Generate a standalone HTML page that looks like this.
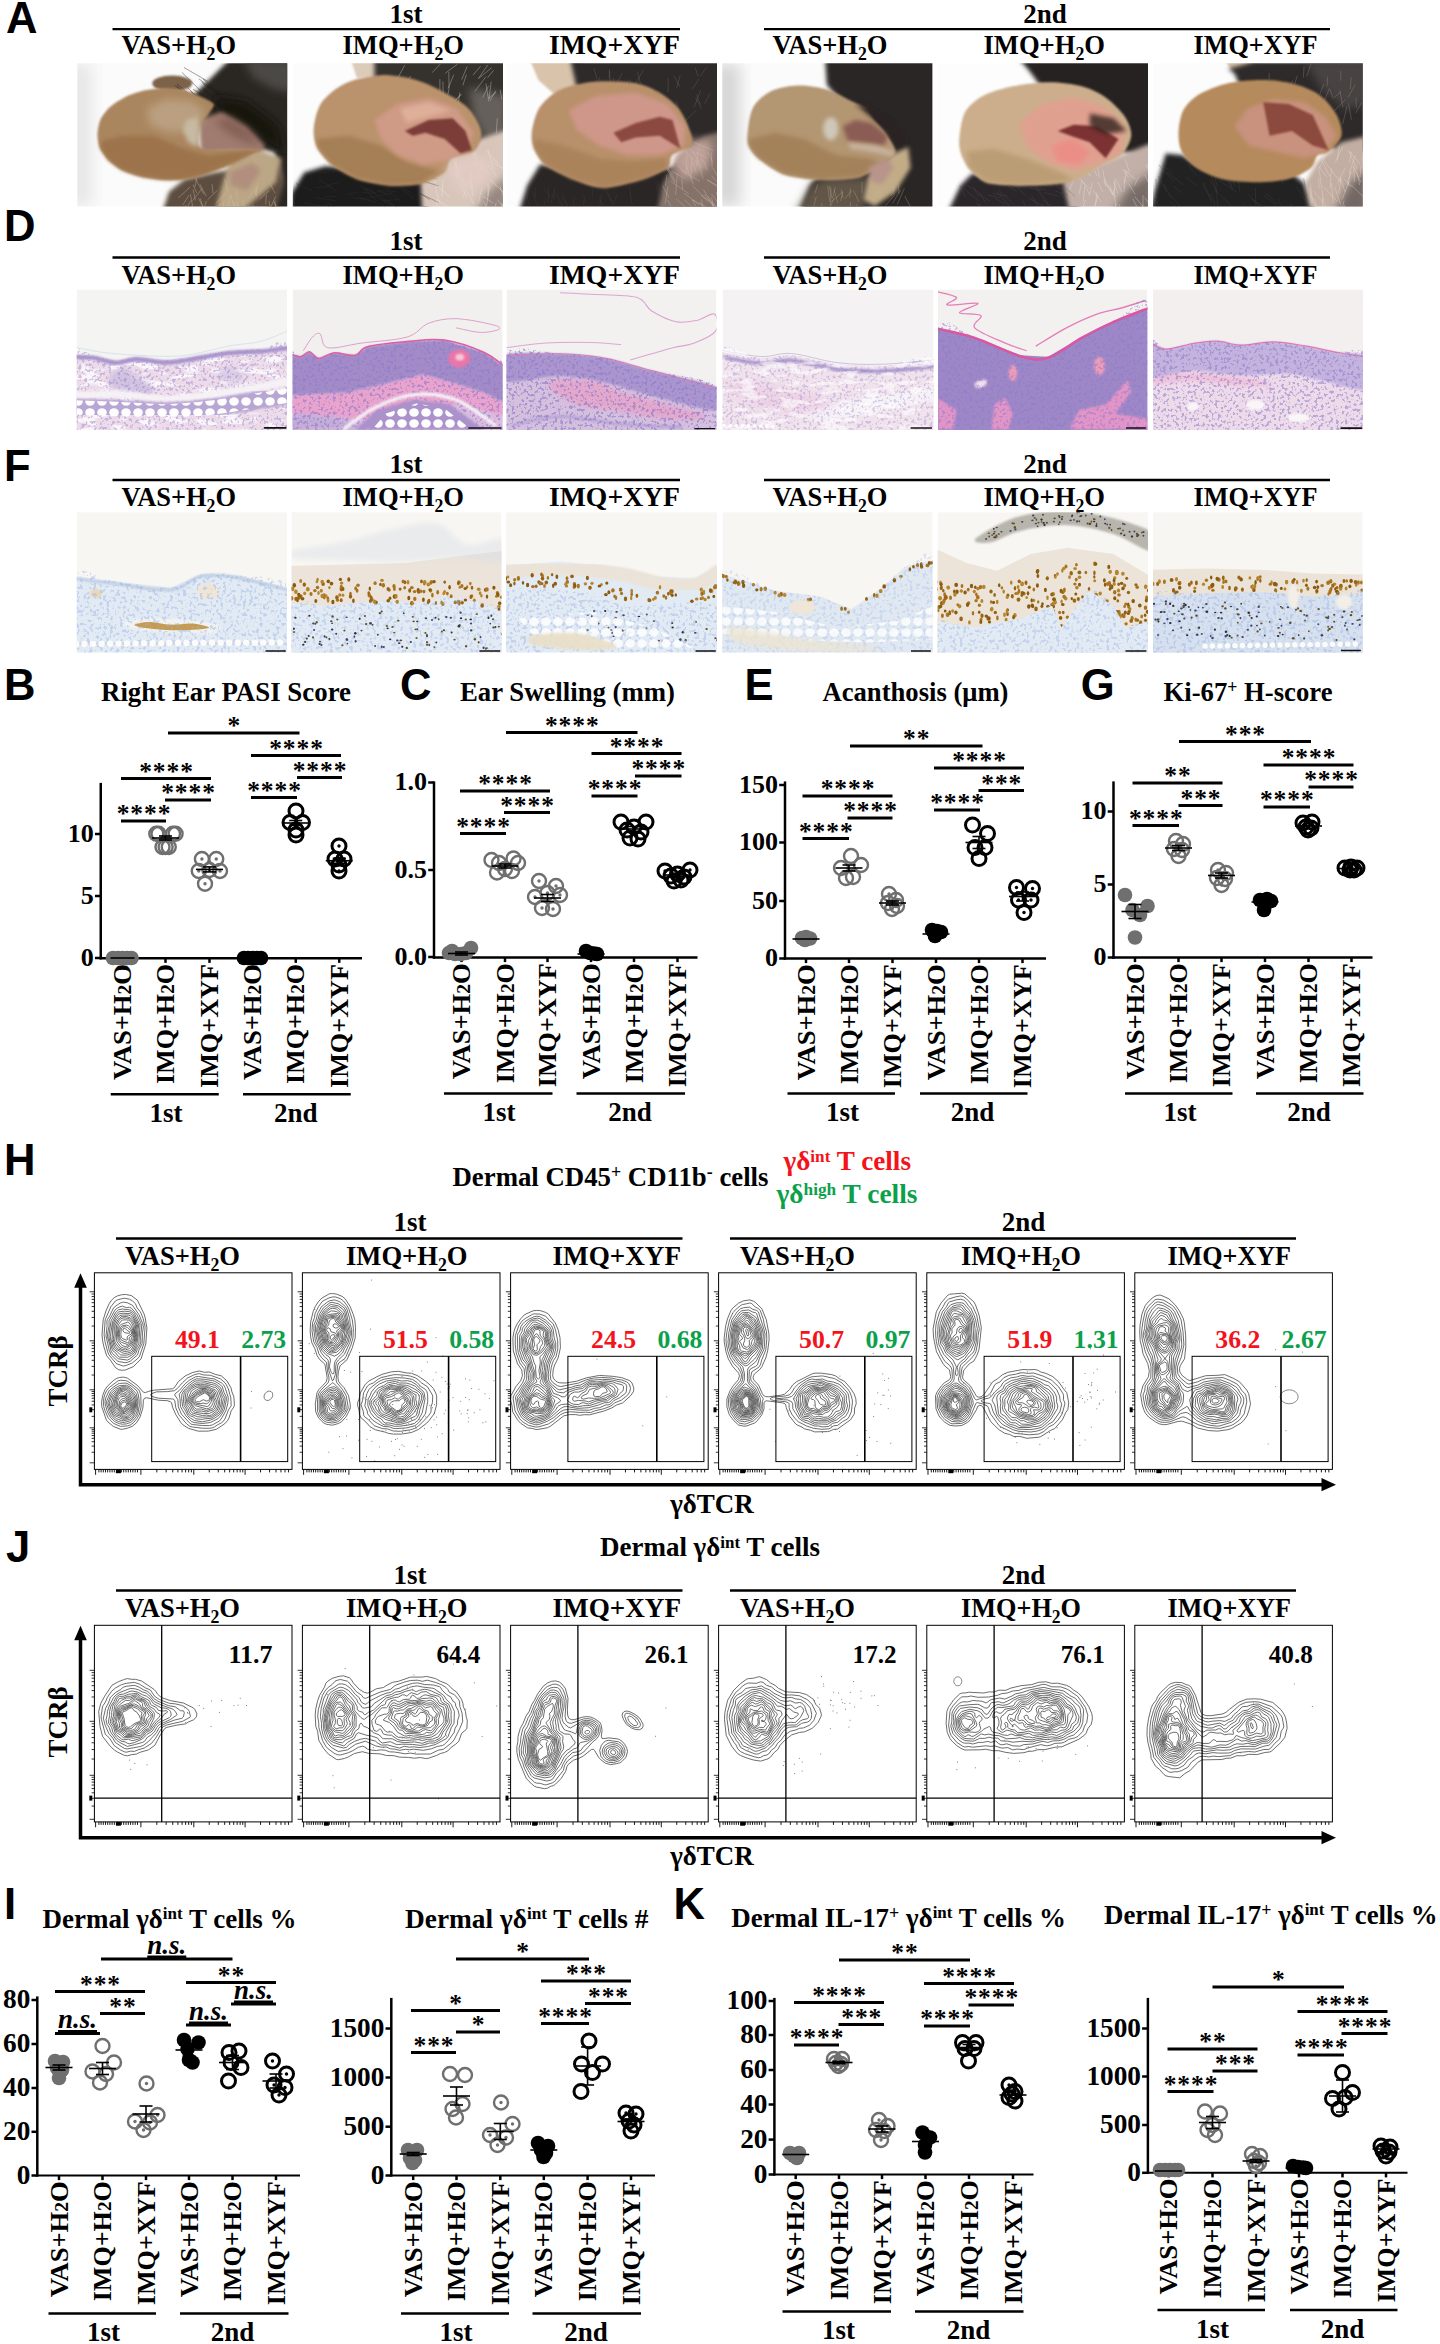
<!DOCTYPE html>
<html lang="en"><head><meta charset="utf-8"><title>Figure</title>
<style>
html,body{margin:0;padding:0;background:#fff}
body{width:1440px;height:2344px;overflow:hidden}
svg{display:block}
.b{font-family:"Liberation Serif", "DejaVu Serif", serif;font-weight:bold}
.bi{font-family:"Liberation Serif", "DejaVu Serif", serif;font-weight:bold;font-style:italic}
.s{font-family:"Liberation Sans", "DejaVu Sans", sans-serif;font-weight:bold}
</style></head><body>
<svg width="1440" height="2344" viewBox="0 0 1440 2344">
<defs>

<filter id="b1" x="-20%" y="-20%" width="140%" height="140%"><feGaussianBlur stdDeviation="0.8"/></filter>
<filter id="b2" x="-20%" y="-20%" width="140%" height="140%"><feGaussianBlur stdDeviation="2"/></filter>
<filter id="b3" x="-30%" y="-30%" width="160%" height="160%"><feGaussianBlur stdDeviation="4"/></filter>
<filter id="b4" x="-40%" y="-40%" width="180%" height="180%"><feGaussianBlur stdDeviation="8"/></filter>
<filter id="fur" x="0" y="0" width="100%" height="100%"><feTurbulence type="fractalNoise" baseFrequency="0.09 0.35" numOctaves="2" seed="3" result="n"/><feColorMatrix in="n" type="matrix" values="0 0 0 0 0.5  0 0 0 0 0.5  0 0 0 0 0.5  0 0 0 2.2 -0.95"/></filter>
<filter id="grain" x="0" y="0" width="100%" height="100%"><feTurbulence type="fractalNoise" baseFrequency="0.33" numOctaves="2" seed="5" result="n"/><feColorMatrix in="n" type="matrix" values="0 0 0 0 0.27  0 0 0 0 0.2  0 0 0 0 0.6  0 0 0 9 -4.9"/></filter>
<filter id="lite" x="0" y="0" width="100%" height="100%"><feTurbulence type="fractalNoise" baseFrequency="0.05 0.16" numOctaves="2" seed="8" result="n"/><feColorMatrix in="n" type="matrix" values="0 0 0 0 1  0 0 0 0 1  0 0 0 0 1  0 0 0 7 -3.6"/></filter>
<filter id="grainb" x="0" y="0" width="100%" height="100%"><feTurbulence type="fractalNoise" baseFrequency="0.3" numOctaves="2" seed="9" result="n"/><feColorMatrix in="n" type="matrix" values="0 0 0 0 0.32  0 0 0 0 0.45  0 0 0 0 0.8  0 0 0 9 -4.9"/></filter>
<pattern id="fat" width="9" height="9" patternUnits="userSpaceOnUse"><circle cx="4.5" cy="4.5" r="3.3" fill="#fdfdfd"/></pattern>
<pattern id="fat2" width="12" height="11" patternUnits="userSpaceOnUse"><ellipse cx="6" cy="5.5" rx="4.8" ry="4.2" fill="#fdfdfd"/></pattern>
<pattern id="nuc" width="29" height="23" patternUnits="userSpaceOnUse"><ellipse cx="7.6" cy="3.6" rx="1.4" ry="1.6" fill="#9a6414"/><ellipse cx="2.0" cy="12.5" rx="1.4" ry="2.3" fill="#9a6414"/><ellipse cx="7.3" cy="12.2" rx="1.4" ry="1.7" fill="#9a6414"/><ellipse cx="8.3" cy="20.4" rx="1.2" ry="2.0" fill="#8a5a10"/><ellipse cx="22.3" cy="5.4" rx="1.4" ry="2.0" fill="#8a5a10"/><ellipse cx="3.8" cy="13.6" rx="1.6" ry="1.9" fill="#a87420"/><ellipse cx="7.9" cy="7.1" rx="1.8" ry="2.1" fill="#8a5a10"/><ellipse cx="1.7" cy="7.3" rx="1.6" ry="1.8" fill="#a87420"/><ellipse cx="12.3" cy="13.5" rx="1.5" ry="1.6" fill="#8a5a10"/><ellipse cx="8.3" cy="17.4" rx="1.2" ry="1.9" fill="#8a5a10"/><ellipse cx="15.0" cy="14.5" rx="1.6" ry="1.6" fill="#a87420"/><ellipse cx="3.2" cy="19.8" rx="1.6" ry="1.9" fill="#a87420"/><ellipse cx="10.8" cy="16.4" rx="1.4" ry="1.9" fill="#8a5a10"/><ellipse cx="4.1" cy="2.7" rx="1.3" ry="2.1" fill="#a87420"/><ellipse cx="4.7" cy="20.2" rx="1.4" ry="1.5" fill="#8a5a10"/><ellipse cx="19.6" cy="19.4" rx="1.8" ry="2.1" fill="#8a5a10"/><ellipse cx="2.0" cy="7.3" rx="1.8" ry="2.1" fill="#b88a3a"/></pattern>
<pattern id="nucs" width="37" height="31" patternUnits="userSpaceOnUse"><ellipse cx="30.8" cy="25.8" rx="1.3" ry="0.8" fill="#4a4a50"/><ellipse cx="31.9" cy="9.7" rx="1.1" ry="1.0" fill="#4a4a50"/><ellipse cx="12.8" cy="1.8" rx="1.0" ry="0.9" fill="#7a5a18"/><ellipse cx="35.4" cy="17.5" rx="1.2" ry="0.9" fill="#4a4a50"/><ellipse cx="5.4" cy="3.2" rx="1.3" ry="1.0" fill="#4a4a50"/><ellipse cx="22.1" cy="16.8" rx="1.2" ry="0.9" fill="#6a5020"/><ellipse cx="5.7" cy="16.3" rx="1.3" ry="1.0" fill="#4a4a50"/><ellipse cx="17.7" cy="8.3" rx="1.2" ry="0.8" fill="#3a4a78"/><ellipse cx="16.6" cy="19.6" rx="1.2" ry="0.9" fill="#4a4a50"/><ellipse cx="2.6" cy="8.6" rx="1.1" ry="0.9" fill="#4a4a50"/><ellipse cx="15.7" cy="8.8" rx="1.1" ry="1.2" fill="#7a5a18"/></pattern>
<clipPath id="ca0"><rect x="77.3" y="63.2" width="209.9" height="143.4"/></clipPath>
<clipPath id="ca1"><rect x="292.8" y="63.2" width="210.2" height="143.4"/></clipPath>
<clipPath id="ca2"><rect x="506.5" y="63.2" width="210.5" height="143.4"/></clipPath>
<clipPath id="ca3"><rect x="722.3" y="63.2" width="210.1" height="143.4"/></clipPath>
<clipPath id="ca4"><rect x="937.5" y="63.2" width="210.5" height="143.4"/></clipPath>
<clipPath id="ca5"><rect x="1153" y="63.2" width="209.8" height="143.4"/></clipPath><clipPath id="cd0"><rect x="76.7" y="289.5" width="210.3" height="140.5"/></clipPath>
<clipPath id="cd1"><rect x="292.6" y="289.5" width="210" height="140.5"/></clipPath>
<clipPath id="cd2"><rect x="506.5" y="289.5" width="210" height="140.5"/></clipPath>
<clipPath id="cd3"><rect x="722.6" y="289.5" width="210.9" height="140.5"/></clipPath>
<clipPath id="cd4"><rect x="938" y="289.5" width="209.4" height="140.5"/></clipPath>
<clipPath id="cd5"><rect x="1153" y="289.5" width="210" height="140.5"/></clipPath>
<clipPath id="cd0t"><path d="M73.19 354.67C76.66 340.35 86.77 354.81 93.96 355.79C101.15 356.78 109.13 360.37 116.32 360.58C123.51 360.8 128.83 357.12 137.08 357.07C145.34 357.02 156.78 360.26 165.83 360.26C174.88 360.26 180.74 358.67 191.39 357.07C202.04 355.47 218.01 352.01 229.72 350.68C241.44 349.35 251.02 350.02 261.67 349.08C272.31 348.15 288.29 329.65 293.61 345.09C298.94 360.53 330.35 425.62 293.61 441.72C256.88 457.83 109.93 456.23 73.19 441.72C36.46 427.21 69.73 369 73.19 354.67Z"/></clipPath>
<clipPath id="cd1t"><path d="M288.06 352.89C289.28 344.49 298.14 356.98 300.28 356.86C302.42 356.74 307.61 351.51 309.44 351.67C311.28 351.82 316.17 358.27 318.61 358.39C321.06 358.51 330.22 353.19 333.89 352.89C337.56 352.58 351.92 355.94 355.28 355.33C358.64 354.72 362.31 348.15 367.5 346.78C372.69 345.4 399.58 342.26 407.22 341.58C414.86 340.91 436.25 338.99 443.89 340.06C451.53 341.12 477.19 349.38 483.61 352.28C490.03 355.18 505.61 360.22 508.06 369.08C510.5 377.94 530.06 433.71 508.06 440.89C486.06 448.07 310.06 449.69 288.06 440.89C266.06 432.09 286.83 361.29 288.06 352.89Z"/></clipPath>
<clipPath id="cd2t"><path d="M503.47 355.33C512.89 340.82 542.94 353.3 560 353.81C577.06 354.31 590.56 355.59 605.83 358.39C621.11 361.19 632.82 365.62 651.67 370.61C670.51 375.6 707.69 376.62 718.89 388.33C730.09 400.05 754.79 432.13 718.89 440.89C682.99 449.65 539.38 455.15 503.47 440.89C467.57 426.63 494.05 369.85 503.47 355.33Z"/></clipPath>
<clipPath id="cd3t"><path d="M718.06 351.67C725.19 337.92 748.61 357.78 760.83 358.39C773.06 359 778.66 354.31 791.39 355.33C804.12 356.35 821.94 362.72 837.22 364.5C852.5 366.28 866.5 366.54 883.06 366.03C899.61 365.52 927.62 348.97 936.53 361.44C945.44 373.92 972.94 427.65 936.53 440.89C900.12 454.13 754.47 455.76 718.06 440.89C681.64 426.02 710.93 365.42 718.06 351.67Z"/></clipPath>
<clipPath id="cd4t"><path d="M935 327.22C941.62 309.91 960.46 332.31 974.72 337C988.98 341.69 1008.33 352.02 1020.56 355.33C1032.78 358.64 1037.87 359.92 1048.06 356.86C1058.24 353.81 1070.97 342.86 1081.67 337C1092.36 331.14 1100.76 326.81 1112.22 321.72C1123.68 316.63 1144.05 286.58 1150.42 306.44C1156.78 326.31 1186.32 418.48 1150.42 440.89C1114.51 463.3 970.9 459.83 935 440.89C899.1 421.94 928.38 344.54 935 327.22Z"/></clipPath>
<clipPath id="cd5t"><path d="M1149.79 342.69C1152.45 327.25 1158.58 348.95 1165.76 349.08C1172.95 349.22 1184.4 344.82 1192.92 343.49C1201.44 342.16 1208.89 340.83 1216.88 341.1C1224.86 341.36 1231.52 344.96 1240.83 345.09C1250.15 345.22 1262.13 341.76 1272.78 341.9C1283.43 342.03 1294.07 344.16 1304.72 345.89C1315.37 347.62 1326.28 350.41 1336.67 352.28C1347.05 354.14 1361.96 342.16 1367.01 357.07C1372.07 371.98 1403.22 427.61 1367.01 441.72C1330.81 455.83 1186 458.23 1149.79 441.72C1113.59 425.22 1147.13 358.13 1149.79 342.69Z"/></clipPath><clipPath id="cf0"><rect x="76.7" y="512.2" width="210.3" height="140.2"/></clipPath>
<clipPath id="cf1"><rect x="291.5" y="512.2" width="210" height="140.2"/></clipPath>
<clipPath id="cf2"><rect x="506" y="512.2" width="211" height="140.2"/></clipPath>
<clipPath id="cf3"><rect x="722.3" y="512.2" width="210.4" height="140.2"/></clipPath>
<clipPath id="cf4"><rect x="937.6" y="512.2" width="210.4" height="140.2"/></clipPath>
<clipPath id="cf5"><rect x="1153" y="512.2" width="209.7" height="140.2"/></clipPath>
<clipPath id="cf0t"><path d="M73.06 575.89C80.19 562.14 99.54 579.45 115.83 581.39C132.13 583.32 156.57 588.77 170.83 587.5C185.09 586.23 190.19 575.79 201.39 573.75C212.59 571.71 223.29 572.88 238.06 575.28C252.82 577.67 281.34 573.34 290 588.11C298.66 602.88 326.16 651.26 290 663.89C253.84 676.52 109.21 678.56 73.06 663.89C36.9 649.22 65.93 589.64 73.06 575.89Z"/></clipPath>
<clipPath id="cf1t"><path d="M288.47 602.78C295.35 593.1 315.21 606.09 329.72 605.83C344.24 605.58 360.28 601.76 375.56 601.25C390.83 600.74 409.68 603.54 421.39 602.78C433.1 602.01 436.67 596.92 445.83 596.67C455 596.41 466.71 598.7 476.39 601.25C486.06 603.8 499.31 601.5 503.89 611.94C508.47 622.38 539.79 655.23 503.89 663.89C467.99 672.55 324.37 674.07 288.47 663.89C252.57 653.7 281.6 612.45 288.47 602.78Z"/></clipPath>
<clipPath id="cf2t"><path d="M503.06 593.61C517.82 581.9 570.79 591.57 591.67 593.61C612.55 595.65 606.94 603.8 628.33 605.83C649.72 607.87 704.72 596.16 720 605.83C735.28 615.51 756.16 654.21 720 663.89C683.84 673.56 539.21 675.6 503.06 663.89C466.9 652.18 488.29 605.32 503.06 593.61Z"/></clipPath>
<clipPath id="cf3t"><path d="M718.47 572.83C727.89 560.61 757.94 586.58 775 590.56C792.06 594.53 808.1 593.61 820.83 596.67C833.56 599.72 841.2 610.42 851.39 608.89C861.57 607.36 872.78 594.63 881.94 587.5C891.11 580.37 897.48 570.8 906.39 566.11C915.3 561.43 930.58 543.09 935.42 559.39C940.25 575.69 971.57 646.47 935.42 663.89C899.26 681.31 754.63 679.06 718.47 663.89C682.31 648.71 709.05 585.06 718.47 572.83Z"/></clipPath>
<clipPath id="cf4t"><path d="M933.06 621.11C940.19 615 961.06 627.73 975.83 627.22C990.6 626.71 1008.94 621.62 1021.67 618.06C1034.4 614.49 1045.6 604.31 1052.22 605.83C1058.84 607.36 1055.28 629.77 1061.39 627.22C1067.5 624.68 1080.23 594.12 1088.89 590.56C1097.55 586.99 1107.22 599.72 1113.33 605.83C1119.44 611.94 1119.19 624.68 1125.56 627.22C1131.92 629.77 1147.2 615 1151.53 621.11C1155.86 627.22 1187.94 656.76 1151.53 663.89C1115.12 671.02 969.47 671.02 933.06 663.89C896.64 656.76 925.93 627.22 933.06 621.11Z"/></clipPath>
<clipPath id="cf5t"><path d="M1150 596.67C1159.17 584.95 1185.65 594.38 1205 593.61C1224.35 592.85 1248.29 591.57 1266.11 592.08C1283.94 592.59 1295.39 596.41 1311.94 596.67C1328.5 596.92 1356.5 582.41 1365.42 593.61C1374.33 604.81 1401.32 652.18 1365.42 663.89C1329.51 675.6 1185.9 675.09 1150 663.89C1114.1 652.69 1140.83 608.38 1150 596.67Z"/></clipPath>
</defs>
<rect width="1440" height="2344" fill="#fff"/>

<g id="images">
<g clip-path="url(#ca0)"><rect x="77.3" y="63.2" width="210" height="143.4" fill="#fbfbfb"/><rect x="66" y="63.2" width="26" height="143.4" fill="#e6e6e6" filter="url(#b4)"/><ellipse cx="172.22" cy="83.47" rx="19.97" ry="7.99" fill="#7c624a" filter="url(#b1)"/><path d="M229.72 59.19L293.61 59.19L293.61 215.72L266.46 215.72L280.83 177.39L274.44 151.83L245.69 145.44L213.75 135.86L194.58 116.69L191.39 97.53L202.57 86.35L213.75 75.17Z" fill="#2b2723" filter="url(#b2)"/><path d="M242.5 59.19L293.61 59.19L293.61 92.74L274.44 89.54L253.68 78.36Z" fill="#4b4945" filter="url(#b3)"/><path d="M213.75 95.93L245.69 100.72L277.64 124.68L285.62 155.03L269.65 145.44L245.69 127.88L221.74 116.69Z" fill="#171310" filter="url(#b3)"/><path d="M161.04 215.72L169.03 191.76L185 178.99L213.75 172.6L245.69 167.81L280.83 158.22L284.03 183.78L274.44 215.72Z" fill="#5c4e40" filter="url(#b2)"/><path d="M213.75 215.72L221.74 186.97L229.72 159.82L261.67 150.24L280.83 158.22L276.04 182.18L255.28 199.75L236.11 215.72Z" fill="#bba685" filter="url(#b2)"/><path d="M197.78 119.89L221.74 111.9L245.69 126.28L264.86 145.44L261.67 151.83L229.72 151.83L200.97 153.43Z" fill="#a07c70" filter="url(#b2)"/><path d="M213.75 119.89L229.72 116.69L248.89 129.47L261.67 145.44L245.69 142.25L226.53 132.67Z" fill="#7e5a50" filter="url(#b3)" opacity="0.8"/><path d="M225.2 193.5L215.9 203.1M230.5 194.3L234.1 207.6M242.2 200.2L246.6 211M190.5 200.7L186.6 208.8M275.9 205.1L270.3 218.8M196.9 177.8L194.9 186.8M200 184.3L206.2 196.1M224 201.6L221 216.4M229.7 196.4L228.4 207.8M277.4 206L267.9 218.6M212 184L213.1 193.3M255.2 188.9L247.6 198.8M273.6 201.7L279 211.1M269 190.9L259.6 199.3M188.8 195.5L182.7 205.1M190.2 187L178.2 198M193.1 184.5L196.6 193M258.2 182.5L254.8 195.2M200.1 198.4L205.1 212.7M193 189.5L195.5 200.5M274.9 200.5L276.6 217.9M202 188.7L192.6 200.6M191.4 205.8L193.9 216.8M255.9 186.8L256.9 196.2M190.4 194.1L193.1 208.6M217.4 190.4L207.6 199.7M236.9 202.3L239.6 212.1M268.9 200.9L270.7 211.3M252.7 204.4L257.2 222M266.3 194.7L265.7 204.4M185.5 205.1L188.5 220.5M206.4 201.1L202.9 212.1M198.6 198.1L203.1 208M235.4 201.9L231.7 212.7M269.7 183.3L275.2 193.2M224.5 179.1L227.9 191M236.6 181.2L237 198.8M275.8 196.3L269.6 209.4M195.3 178.4L203.8 194M249 205.1L256.1 218.3" stroke="#d8c8a8" stroke-width="0.6" fill="none" opacity="0.6"/><path d="M193.1 89.3L221.6 106.3M176.8 83.8L200.7 104.2M203.3 88.5L226.8 109.8M187.9 88L209.9 109.7M190.5 91.2L209 108.9M198.8 78.8L219.7 94.6M177 86.6L198.3 109.2M202.9 79L222.4 95.7M191.4 92.6L217.5 104.8M175 85.4L191 96.5M201.7 82.3L226.8 101.7M184 67.5L207.8 81.3M181.9 72.3L201.2 91.4M191.5 94.2L214.9 108.2" stroke="#1a1612" stroke-width="0.5" fill="none" opacity="0.8"/><path d="M97.47 134.26C97.58 130.6 98.69 123.51 100.35 119.89C102.01 116.27 106.52 110.2 109.93 107.11C113.34 104.02 121.22 98.97 125.9 96.73C130.59 94.49 139.75 91.51 145.07 90.34C150.39 89.17 160.51 87.94 165.83 87.94C171.16 87.94 180.31 89.17 185 90.34C189.69 91.51 197.14 94.92 200.97 96.73C204.81 98.54 212.69 101.68 213.75 103.92C214.81 106.15 210.66 110.73 208.96 113.5C207.25 116.27 202.46 121.27 200.97 124.68C199.48 128.09 197.56 135.86 197.78 139.06C197.99 142.25 198.31 147.25 202.57 148.64C206.83 150.02 221.84 149.33 229.72 149.44C237.6 149.54 258.47 148.86 261.67 149.44C264.86 150.01 256.66 152.32 253.68 153.75C250.7 155.18 243.56 158.22 239.31 160.14C235.05 162.06 226.63 166.1 221.74 168.12C216.84 170.15 207.47 173.82 202.57 175.31C197.67 176.8 189.9 178.67 185 179.31C180.1 179.94 171.58 180.42 165.83 180.1C160.08 179.78 147.62 178.19 141.88 176.91C136.12 175.63 127.18 172.76 122.71 170.52C118.24 168.28 111.42 163.23 108.33 160.14C105.25 157.05 101 150.81 99.55 147.36C98.1 143.91 97.37 137.93 97.47 134.26Z" fill="#aa865e" filter="url(#b1)"/><path d="M146.67 108.71L165.83 99.12L191.39 100.72L205.76 111.9L196.18 131.07L169.03 132.67L149.86 124.68Z" fill="#bda486" filter="url(#b3)" opacity="0.85"/><path d="M101.94 140.65L122.71 135.86L153.06 135.86L181.81 147.84L207.36 155.83L237.71 151.83L258.47 150.24L239.31 159.82L221.74 167.81L202.57 174.99L185 178.99L165.83 179.78L141.88 176.59L122.71 170.2L108.33 159.82L100.35 147.84Z" fill="#9b724a" filter="url(#b2)" opacity="0.9"/><path d="M186.6 119.89L197.78 116.69L199.38 131.07L197.78 147.04L188.19 142.25L182.6 129.47Z" fill="#c6baa2" filter="url(#b2)"/><path d="M229.72 172.6L252.08 163.01L260.87 170.2L247.29 190.17L231.32 185.38Z" fill="#b18e7e" filter="url(#b2)"/></g>
<g clip-path="url(#ca1)"><rect x="292.8" y="63.2" width="210.2" height="143.4" fill="#fcfcfc"/><path d="M351.28 60.79L377.64 60.79L376.04 76.76L356.88 78.36Z" fill="#dccbb9" filter="url(#b1)"/><path d="M374.44 59.19L508.61 59.19L508.61 145.44L476.67 151.83L444.72 119.89L396.81 103.92L374.44 87.94Z" fill="#34302e" filter="url(#b2)"/><path d="M468.68 87.94L508.61 95.93L508.61 145.44L484.65 139.06L473.47 116.69Z" fill="#77706c" filter="url(#b3)" opacity="0.75"/><path d="M289.79 215.72L291.39 193.36L304.17 172.6L324.93 166.21L348.89 167.81L396.81 167.81L425.56 183.78L428.75 215.72Z" fill="#1c1c1f" filter="url(#b2)"/><path d="M422.36 215.72L420.76 180.58L444.72 158.22L468.68 142.25L508.61 129.47L508.61 215.72Z" fill="#d9c6bb" filter="url(#b2)"/><path d="M473.47 215.72L486.25 193.36L508.61 174.19L508.61 215.72Z" fill="#857872" filter="url(#b3)" opacity="0.8"/><path d="M411.3 88.5L398.2 103.4M488.6 85.7L482.9 97.5M404.3 92.5L391.1 106.3M469.5 120L468.6 131.5M439.9 79.1L439.9 93.3M459.8 92.4L457.4 111.2M500.2 89.9L501.9 99.6M487.8 64.9L478.7 78M423.9 110.4L426.5 121.2M440.4 63.9L432 72.8M404.8 65.2L397.7 78M460.3 102.1L446.8 117.3M466.4 74.5L462.8 85.5M390 91L383.4 100.5M419.7 83.4L411.1 96.2M458.5 108.3L454.5 126.3M491.6 67.7L478 79M403.6 89.9L394 107.2M431.5 96.9L418.1 109.6M495.9 90.5L489.9 100.8M470.7 112.1L461.9 127.3M413 117L396.5 129.2M449.7 110.4L447.2 130M485.9 83.5L488.2 97.9M451.2 109L448 118.4M480.6 66.3L473 75M426.8 110.2L427.8 121.4M447.4 106.3L435.4 118.8M496.1 92.3L487.8 98.9M413.9 94.4L412.3 112M461.3 94.1L450.3 105.5M424.2 85.5L410.5 99.6M412.4 114L400.1 123.4M453.8 74.6L448 88.6M457.5 64.1L445.2 73.3M434.2 111L428 124.7M467.2 66.4L461.7 79.5M497.3 118.4L496.3 133.3M403.2 88.7L390 103.3M442.9 81.6L443.3 98.1M493.7 70.2L487.5 77.8M410.8 76.2L403.6 87.2M429.1 100L431.5 117.6M402.7 93.4L402.2 105.2M449 88.9L446.2 102.8M448.8 72.1L449.1 88.7M461.2 94.5L449.7 106.2M486 76.5L474.8 91.4M491.2 81.6L488.7 101.3M413.6 123L405.4 130.5" stroke="#f0e8e4" stroke-width="0.6" fill="none" opacity="0.55"/><path d="M324.8 196.5L336.5 196.6M399.6 185.8L409.8 192.3M345.4 195.1L358 191.9M380.7 203L389.4 211.2M358.4 197.6L376.7 202.6M318.4 173.5L329.3 171.8M364.2 189.1L375.9 193.1M317.9 178.2L336.4 191.3M411.5 174.3L433.4 170M352.9 197.9L369.1 199.2M359.6 186.1L369.6 190M383 200.7L399.1 199.5M387.9 185.2L400.4 184.5M359.3 171.5L375.2 184.3M383.5 201.2L397.8 207.2M370.2 188.7L385 202.9M327.2 203L344.6 213M397.4 185.3L414 198.6M382.3 198L395.6 205.9M385.8 173.5L402 175M295.9 183.5L312.6 190.7M323.9 204.2L337.2 210.4M377.8 191L392.5 195.5M420.7 193.6L438.5 202.6M418.3 171.8L436.5 179.1M327 185.1L339.6 182.4M342 174.5L363.7 174.5M364 188.8L376.8 200.8M420.1 193.4L429.7 199.8M370 197.7L391.5 193M314.8 187.6L331.3 186.2M371.7 173.1L383.4 183.5M361 192L375 193.7M377.2 190.7L396.6 191.4M331.9 171.5L343 171.4M314.3 197.5L335.7 200.7M389 172.8L404.9 188.2M303.9 202.8L320 205.9M417.4 179.6L438.5 185.8M385.8 187.5L400.7 201.7" stroke="#3a3636" stroke-width="0.6" fill="none" opacity="0.6"/><path d="M473.1 152.4L475.9 168.3M443.7 148.6L447.4 160.1M461.3 186L466.8 198.6M471.5 170.9L470.9 188M502 203.3L502.3 216.7M437.1 199.6L436.2 217.8M455.1 161.9L456.7 179.3M472.2 183.9L472.2 196.7M447 204.9L442.1 225.7M431.7 149.1L441.4 161.5M474.5 151.7L477.8 162.6M435.1 186.5L440.1 204.1M456.2 174.5L466.3 185.3M483.5 196.3L493.2 203.4M488.2 183.3L487.9 196.5M459.9 161.1L458.7 176.1M476.8 205.5L486.4 219.8M483.6 201.3L490.1 214.9M435.9 198.6L445.2 205.4M470.2 174.9L471.5 189M485.7 150.1L498.5 163.7M434.8 163.9L435.4 182.9M449.5 154.1L459.7 170.7M455.7 152.6L456.7 170.1M496.2 202.5L492.6 218M487.8 163.9L496.5 176.7M497.4 199.7L507.1 211.2M455.6 167.5L462.9 181M443.1 179.7L441.9 196.8M490.2 179.6L504.5 193.4M493.5 162.5L507.8 171.4M468.7 179.9L463.2 197.6M487.8 149.3L493.5 168.8M434.9 150.4L435.3 172M435 183.9L449.7 197M476.4 160.3L489.9 175.1M467.1 191.9L474.1 204.8M499.9 186.3L505.9 202.3M481.7 188.4L478.2 203.6M489.5 185.9L486.5 206.2" stroke="#f4ecea" stroke-width="0.6" fill="none" opacity="0.6"/><path d="M313.75 127.88C314.47 121.17 316.94 109.03 321.74 102.32C326.53 95.61 336.83 87.23 345.69 83.15C354.56 79.08 370.29 75.65 380.83 75.17C391.38 74.69 406.39 77.32 415.97 79.96C425.56 82.59 436.82 88.42 444.72 92.74C452.63 97.05 463.17 102.72 468.68 108.71C474.19 114.7 480.74 126.2 481.46 132.67C482.18 139.14 478.02 148 473.47 151.83C468.92 155.67 455.42 155.11 451.11 158.22C446.8 161.34 449.27 168.76 444.72 172.6C440.17 176.43 429.15 181.86 420.76 183.78C412.38 185.69 398.4 186.09 388.82 185.38C379.24 184.66 365.5 182.1 356.88 178.99C348.25 175.87 337.31 169.4 331.32 164.61C325.33 159.82 319.58 152.55 316.94 147.04C314.31 141.53 313.03 134.58 313.75 127.88Z" fill="#ba926c" filter="url(#b1)"/><path d="M316.94 139.06L348.89 135.86L380.83 145.44L406.39 161.42L438.33 171L420.76 183.46L388.82 184.74L356.88 178.35L331.64 163.97L317.42 147.04Z" fill="#a37d52" filter="url(#b2)" opacity="0.9"/><path d="M374.44 119.89L396.81 103.92L428.75 97.53L457.5 108.71L473.47 132.67L465.49 151.83L444.72 161.42L422.36 164.61L396.81 155.03L380.83 139.06Z" fill="#cf9a86" filter="url(#b2)"/><path d="M400 108.71L428.75 102.32L451.11 110.31L428.75 116.69L406.39 123.08Z" fill="#e2b69e" filter="url(#b2)" opacity="0.8"/><path d="M404.79 131.07L428.75 119.89L452.71 118.29L465.49 131.07L471.88 150.24L460.69 153.43L444.72 139.06L425.56 132.67L412.78 135.86Z" fill="#7c3c38" filter="url(#b1)"/><path d="M444.72 167.81L471.88 155.03L492.64 159.82L484.65 183.78L460.69 193.36Z" fill="#e4ccc4" filter="url(#b3)" opacity="0.8"/></g>
<g clip-path="url(#ca2)"><rect x="506.5" y="63.2" width="210.5" height="143.4" fill="#fcfcfc"/><path d="M530.35 60.79L583.06 60.79L579.86 84.75L554.31 94.33L538.33 79.96Z" fill="#d9c3ab" filter="url(#b1)"/><path d="M570.28 59.19L723.61 59.19L723.61 158.22L691.67 151.83L659.72 119.89L611.81 103.92L576.67 87.94Z" fill="#2f2b29" filter="url(#b2)"/><path d="M517.57 215.72L527.15 185.38L539.93 164.61L563.89 167.81L611.81 171L659.72 167.81L723.61 167.81L723.61 215.72Z" fill="#2b2725" filter="url(#b2)"/><path d="M656.53 215.72L662.92 183.78L678.89 155.03L704.44 135.86L723.61 131.07L723.61 215.72Z" fill="#85736a" filter="url(#b2)"/><path d="M672.5 158.22L691.67 139.06L712.43 142.25L707.64 167.81L683.68 180.58Z" fill="#c9aaa2" filter="url(#b3)" opacity="0.85"/><path d="M696 110.6L685 121M656.4 101L649.2 111.6M643.2 70.3L634.1 86.5M637.4 71.5L640.5 84M626.8 115.1L631.8 125.7M604.1 97.6L598.6 106.4M597.4 87.3L592.3 104.3M594.1 68.3L596.9 78.7M619.5 101.3L616.2 111.7M613.1 77.7L617.6 93.3M629.3 92.2L621.5 103.1M622.7 110.6L614.5 119.4M659.4 114.4L657.8 125.1M595.8 113.8L588.8 124.2M656.9 90.4L659.5 108.8M673.5 75.3L680 87M636.9 105.7L630.2 118.8M609.5 70.9L610.4 82.1M700.5 90.4L693.9 107.8M623.5 91.4L628.5 107M589.6 107L579.3 120.4M600 77L595.6 85.6M650.8 87.8L640.3 97.9M699 78.9L692 89.6M706.6 67.3L700.3 76M658.9 90.9L664 107.2M629.2 79.3L634 90M649.1 101.2L649.5 116.8M603 83.8L600.7 102M695.5 97.9L701.5 108.8M680.2 75.3L676.7 88.1M590.8 116.2L584.8 125.1M668.2 78.2L668.1 92.2M627.5 80.7L627.2 96M622.2 73.2L616.5 83.7M710.2 93L704.6 103.5M695.1 67.4L698.2 76.5M676 100.9L679.4 113.1M696.4 94.6L700.6 104.6M609.5 69.1L609.1 78.5" stroke="#8a8078" stroke-width="0.5" fill="none" opacity="0.5"/><path d="M712.7 167.7L721.6 183.9M703.8 194.1L713 205.5M683.4 140.1L695.2 155.2M716.2 192L721.5 209.3M660.8 161.3L673.3 174.9M665.8 164.4L675.7 182M707.2 180.1L724 190.9M711.6 175.8L722.8 188.3M667.9 186.9L665.2 203.6M700.9 195.1L718.8 208.1M695.8 152.3L707.9 158.4M692.9 185.8L708 201.7M680.5 170.1L700 181.3M667.5 199.7L675.3 215.3M691.9 156.8L690.9 179.5M706.7 179.4L724.7 189.7M676.3 199.2L689.9 210.4M707.5 151.5L712.6 161.8M661.6 151.1L658.1 173M697.6 159.7L703.1 178.5M681.7 178.8L682.7 189.5M671.2 170.5L684.2 178.4M692.5 150.7L699 162.8M692.4 161.3L695.9 171.8M698.3 148.8L696.2 166.6M686.7 166.7L693.3 184.5M703.3 189.5L715.1 209M707.9 196.4L717.5 209M692.3 199.8L700.2 214.8M684.6 199.7L692.4 207.7M701.4 199.4L705 217M703 159.5L707.3 170M666.9 169L674.5 182.4M662.7 185.7L669 197.6M677.3 165.6L686.2 172.7M712.1 203.9L718.2 224.2M684 193.1L699.6 205.1M692.3 199.7L710.2 209.1M666.8 175.1L665.7 185.6M673.7 159.1L681.6 167.3M711.2 193.8L720.4 205.5M693.4 142.1L713.3 150.4M677.4 172.5L675.6 195M686.9 152.9L702.7 168M711.3 152.2L712.1 167M686.9 150.6L686.7 173.4M671.3 181.5L688.8 193.8M662.6 146.2L665.6 160.3M711.5 197.4L714.2 209.3M699.7 202L706.2 211.5" stroke="#d8c4b4" stroke-width="0.6" fill="none" opacity="0.55"/><path d="M554.3 188.4L553.8 199M548.5 186.6L548.6 203.2M574.5 197.5L571.2 211.7M555 188.3L550.9 203M561.5 196.9L572.1 212.2M583.7 194.1L585 203.1M605.4 187.9L612.4 203M535.8 187.9L534.8 198.9M561.9 194.6L570.4 210.1M658.1 181.4L661.5 197.2M576.2 204.3L578 214.6M599.4 197.1L604.3 211.5M630.3 193.8L633.1 210.7M616.9 193.9L613.8 203.8M629.8 184.8L630.5 195.8M583.8 200.3L581.7 216.8M556 193.1L562.5 206M591.7 181.5L592.9 197.3M601.7 202.9L606.7 211.8M526.4 193.3L529.5 205.9M559.7 201L570 215.4M601.2 194.5L599.8 205.4M543.8 188.5L551 197.9M608.3 194L614.2 207.3M536 201.6L541.5 211.3M545.7 198.2L542.8 214.5M532.3 191.1L535.6 201.3M655.7 181.7L658.7 197.7M657.8 184.3L661.4 200M529.3 186.7L527 196.5" stroke="#4a4644" stroke-width="0.6" fill="none" opacity="0.5"/><path d="M531.94 131.07C532.9 125.08 535.62 113.34 539.93 107.11C544.24 100.88 552.31 93.37 560.69 89.54C569.08 85.71 584.57 82.51 595.83 81.56C607.09 80.6 626.18 81.48 635.76 83.15C645.35 84.83 653.25 88.9 659.72 92.74C666.19 96.57 674.34 102.96 678.89 108.71C683.44 114.46 688.15 125.56 690.07 131.07C691.99 136.58 694.3 141.85 691.67 145.44C689.03 149.04 676.09 151.67 672.5 155.03C668.91 158.38 672.02 164.21 667.71 167.81C663.4 171.4 653.33 175.99 643.75 178.99C634.17 181.98 614.6 187.77 603.82 187.77C593.04 187.77 580.74 182.46 571.88 178.99C563.01 175.51 550.47 169.4 544.72 164.61C538.97 159.82 535.46 152.07 533.54 147.04C531.62 142.01 530.99 137.06 531.94 131.07Z" fill="#b8906a" filter="url(#b1)"/><path d="M534.34 139.06L563.89 145.44L599.03 158.22L630.97 161.42L666.11 158.22L667.71 167.81L643.75 178.67L603.82 187.29L571.88 178.67L545.2 164.29L534.18 147.84Z" fill="#a88058" filter="url(#b2)" opacity="0.8"/><path d="M568.68 110.31L595.83 95.93L635.76 92.74L667.71 103.92L685.28 126.28L683.68 145.44L659.72 155.03L627.78 155.03L599.03 145.44L576.67 129.47Z" fill="#cf978a" filter="url(#b2)"/><path d="M613.4 132.67L635.76 123.08L659.72 116.69L672.5 119.89L680.49 148.64L659.72 135.86L635.76 137.46L621.39 142.25Z" fill="#8c4842" filter="url(#b1)"/></g>
<g clip-path="url(#ca3)"><rect x="722.3" y="63.2" width="210.1" height="143.4" fill="#fbfbfb"/><rect x="714" y="63.2" width="26" height="143.4" fill="#d4d4d4" filter="url(#b4)"/><path d="M825.21 59.19L938.61 59.19L938.61 215.72L798.06 215.72L810.83 183.78L826.81 167.81L842.78 135.86L842.78 103.92L826.81 84.75Z" fill="#2c2826" filter="url(#b2)"/><path d="M794.86 215.72L810.83 185.38L826.81 177.39L871.53 177.39L861.94 215.72Z" fill="#62564a" filter="url(#b3)"/><path d="M863.54 199.75L868.33 177.39L890.69 155.03L908.26 147.04L910.66 167.81L895.49 191.76L874.72 206.14Z" fill="#c2ac88" filter="url(#b2)"/><path d="M850.4 188.2L849.8 197.6M817.2 206L808.9 219.8M835.3 187.1L832.6 197.8M856.8 204.4L857 216.4M904.9 196.2L910.7 207.5M874.2 182.1L874.9 197.7M894.1 195.7L885.4 205.7M850.4 202.1L850.3 218.6M834 189.5L837.7 203.1M829.2 185.8L832.2 198.8M842.6 192L830.9 202.1M893.9 185.8L893.8 195.2M878.1 189.9L879.3 198.6M830.9 187.3L830.4 205.2M880.3 187.4L880.5 197.6M900.8 189.8L892.5 203.4M898.1 181.1L899 193.6M821.7 203.1L822.9 219.5M862.1 182L861.8 193M817.8 184.4L815.1 193M843 191.4L840.6 201.1M879.5 187.2L872.3 200.8M827.7 185.8L829.7 201.5M851.6 190.5L844.7 198.9M841.1 189.4L843.1 198.2M816.3 196.7L811.9 212.9M904.4 188.2L897.2 204.6M834.1 198.2L826.8 214.9M894.5 186.6L891.1 195.5M853.6 190.6L859 201.9" stroke="#c8b898" stroke-width="0.6" fill="none" opacity="0.5"/><path d="M747.74 131.07C748.46 125.32 749.86 113.1 753.33 107.11C756.81 101.12 764.19 94.37 770.9 91.14C777.61 87.9 789.67 85.79 798.06 85.55C806.44 85.31 818.9 87.27 826.81 89.54C834.71 91.82 844.77 97.85 850.76 100.72C856.75 103.6 863.14 105.83 866.74 108.71C870.33 111.58 872.09 116.53 874.72 119.89C877.36 123.24 881.19 126.28 884.31 131.07C887.42 135.86 895.73 146.8 895.49 151.83C895.25 156.86 888.22 160.78 882.71 164.61C877.2 168.44 868.33 175.11 858.75 177.39C849.17 179.66 830.08 180.26 818.82 179.78C807.56 179.31 792.78 177.43 783.68 174.19C774.58 170.96 763.4 162.53 758.12 158.22C752.85 153.91 750.1 149.52 748.54 145.44C746.98 141.37 747.02 136.82 747.74 131.07Z" fill="#b39672" filter="url(#b1)"/><path d="M749.34 139.06L775.69 132.67L804.44 139.06L836.39 155.03L868.33 158.22L882.71 163.97L858.75 176.91L818.82 179.31L783.68 173.72L758.6 157.9L749.18 145.44Z" fill="#a17f56" filter="url(#b2)" opacity="0.85"/><path d="M855.56 103.92L868.33 107.11L890.69 119.89L906.67 139.06L900.28 145.44L887.5 131.07L874.72 119.89L865.14 111.9Z" fill="#2a2422" filter="url(#b2)"/><ellipse cx="830.8" cy="128.67" rx="7.67" ry="11.5" fill="#cfc8ba" filter="url(#b2)"/><path d="M842.78 126.28L855.56 119.89L871.53 123.08L887.5 135.86L884.31 145.44L865.14 143.05L847.57 140.65Z" fill="#8a5c52" filter="url(#b2)"/><path d="M847.57 143.05L874.72 145.44L895.49 151.83L892.29 156.62L871.53 151.83L850.76 148.64Z" fill="#c9b4a0" filter="url(#b2)"/><path d="M868.33 167.81L887.5 158.22L893.89 167.81L882.71 183.78L871.53 182.18Z" fill="#b8948a" filter="url(#b2)"/></g>
<g clip-path="url(#ca4)"><rect x="937.5" y="63.2" width="210.5" height="143.4" fill="#fdfdfd"/><path d="M1019.44 59.19L1153.61 59.19L1153.61 158.22L1121.67 151.83L1089.72 119.89L1057.78 103.92L1041.81 87.94L1029.03 70.38Z" fill="#262223" filter="url(#b2)"/><path d="M945.97 215.72L960.35 185.38L971.53 174.19L993.89 171L1041.81 171L1073.75 177.39L1080.14 215.72Z" fill="#2a282a" filter="url(#b2)"/><path d="M1070.56 215.72L1062.57 180.58L1089.72 167.81L1121.67 155.03L1153.61 142.25L1153.61 215.72Z" fill="#c2b0a8" filter="url(#b2)"/><path d="M1110.49 215.72L1128.06 188.57L1153.61 171L1153.61 215.72Z" fill="#6a605c" filter="url(#b3)" opacity="0.85"/><path d="M1097.9 182L1103.1 192.1M1103.3 181L1113.5 194.6M1091.4 162.7L1096.9 175.9M1084.8 186.1L1083.2 201.8M1125.2 159.3L1129.6 172.3M1078.4 177.6L1089.2 188.2M1116.8 180.7L1121.8 192M1075.5 174.9L1069.7 189.7M1093 190.2L1101.5 202.4M1119 204L1124.7 218.9M1143 195.2L1142.9 211.7M1103.9 178.1L1112.8 194.8M1138.4 176.5L1134.5 185.8M1083.7 182.5L1089.6 194.8M1145.5 165.4L1152.4 175.4M1123.7 169.5L1135.7 179.5M1102.7 169.7L1105.8 186.3M1114 188.1L1115.7 206.9M1144.9 174.2L1152.3 192.2M1096.8 192.5L1095.1 209.7M1144.6 197.7L1154.6 210.9M1109.8 185.2L1114.3 197.2M1128.8 183.8L1135.2 194.4M1097.6 166.7L1099.3 177.6M1078.4 161.5L1090 174.5M1082 179.9L1079 194.5M1085.7 199.7L1082.3 209.3M1092.4 182.5L1089.1 196.1M1126.4 170.3L1124.7 183.4M1098.3 194.6L1092.6 212.6M1115.4 178.4L1113.6 194.8M1134.8 196.6L1143.7 207.2M1122.9 169.3L1128.5 177.2M1116.8 203.3L1111.6 213.1M1124.3 178.3L1124.1 192.3M1142.3 205.6L1155 217.8M1082.4 160.3L1090.5 176.1M1146.8 164L1150.7 173M1113.6 181.4L1118.1 193.6M1132.6 198.4L1139 210.8" stroke="#f0eae8" stroke-width="0.6" fill="none" opacity="0.55"/><path d="M1023 200.9L1028.1 213.9M1031.6 196L1037.5 205.5M973.5 186.2L978.6 197.5M1008.5 186.5L1017.1 191.3M1017.2 187L1025.8 196.3M979.4 194.6L990 201.2M959.7 185.2L965.5 196.9M962.7 187.9L978.8 200.9M976.6 203.2L987.6 212.1M1044.2 192.6L1059.5 196.3M1027.4 197.7L1045.4 206.7M1050.6 206L1065.8 217.3M1035 187.7L1046.3 190M967.2 185.4L982.6 194.9M988.6 195.3L1000.3 197.5M1061.2 184L1075.1 196.4M1042.5 200.2L1057.9 210.6M1046.5 200.9L1050.3 211M1060.2 192.8L1067.8 202.6M1055.7 184.3L1064.3 192.8M997.4 192L1009.5 206.2M994.7 198L1005.6 204.6M1055.2 191L1068 194.6M1036.9 188.5L1046 201.3M1030 187.7L1040.7 190.9M993.1 193.4L1008.1 196.2M999.1 191L1014 204.6M976.8 203.5L992.6 212.3M966.1 205.9L982.6 217.8M978.5 192.9L985.6 202.1" stroke="#5a5658" stroke-width="0.6" fill="none" opacity="0.5"/><path d="M959.55 135.86C960.27 129.87 961.66 117.89 965.14 111.9C968.61 105.91 975.52 99.76 982.71 95.93C989.9 92.1 1002.99 88.38 1013.06 86.35C1023.12 84.31 1039.49 82.35 1049.79 82.35C1060.09 82.35 1073.35 84.07 1081.74 86.35C1090.12 88.62 1099.23 92.98 1105.69 97.53C1112.16 102.08 1121.03 110.94 1124.86 116.69C1128.69 122.44 1131.73 130.11 1131.25 135.86C1130.77 141.61 1125.98 150.72 1121.67 155.03C1117.35 159.34 1108.49 161.26 1102.5 164.61C1096.51 167.97 1088.44 174.51 1081.74 177.39C1075.03 180.26 1067.36 182.58 1057.78 183.78C1048.19 184.98 1028.63 185.61 1017.85 185.38C1007.07 185.14 993.33 184.82 985.9 182.18C978.48 179.55 972.17 172.36 968.33 167.81C964.5 163.25 961.66 156.62 960.35 151.83C959.03 147.04 958.83 141.85 959.55 135.86Z" fill="#ccae8c" filter="url(#b1)"/><path d="M966.74 151.83L993.89 148.64L1025.83 158.22L1057.78 171L1073.75 178.99L1057.78 183.3L1017.85 184.9L985.9 181.7L968.81 167.49Z" fill="#b89a70" filter="url(#b2)" opacity="0.8"/><path d="M1019.44 123.08L1041.81 103.92L1073.75 97.53L1105.69 107.11L1124.86 127.88L1121.67 151.83L1102.5 163.01L1073.75 171L1045 161.42L1025.83 145.44Z" fill="#e0a090" filter="url(#b2)"/><path d="M1051.39 145.44L1073.75 139.06L1089.72 151.83L1080.14 164.61L1057.78 161.42Z" fill="#ee8a84" filter="url(#b2)" opacity="0.8"/><path d="M1057.78 131.07L1073.75 124.68L1097.71 126.28L1118.47 139.06L1105.69 158.22L1089.72 142.25L1070.56 135.86Z" fill="#7c3032" filter="url(#b1)"/><path d="M1089.72 113.5L1113.68 118.29L1126.46 131.07L1105.69 134.26L1089.72 126.28Z" fill="#30201e" filter="url(#b2)" opacity="0.8"/></g>
<g clip-path="url(#ca5)"><rect x="1153" y="63.2" width="209.8" height="143.4" fill="#fcfcfc"/><path d="M1224.86 60.79L1260 60.79L1248.82 70.38L1231.25 68.78Z" fill="#d8c0a8" filter="url(#b1)"/><path d="M1228.06 68.78L1240.83 65.58L1256.81 60.79L1368.61 60.79L1368.61 151.83L1336.67 151.83L1304.72 119.89L1272.78 103.92L1240.83 87.94L1234.44 73.57Z" fill="#2e2a2a" filter="url(#b2)"/><path d="M1304.72 60.79L1368.61 60.79L1368.61 103.92L1344.65 108.71L1320.69 87.94Z" fill="#5a5452" filter="url(#b3)" opacity="0.6"/><path d="M1149.79 215.72L1154.58 191.76L1165.76 153.43L1181.74 155.03L1197.71 164.61L1221.67 171L1256.81 171L1288.75 171L1304.72 183.78L1317.5 215.72Z" fill="#242224" filter="url(#b2)"/><path d="M1311.11 215.72L1304.72 183.78L1317.5 161.42L1341.46 142.25L1368.61 135.86L1368.61 215.72Z" fill="#c2aea2" filter="url(#b2)"/><path d="M1333.47 215.72L1349.44 183.78L1368.61 167.81L1368.61 215.72Z" fill="#5e5654" filter="url(#b3)" opacity="0.8"/><path d="M1285.6 101.3L1277.1 109.6M1276.1 82.9L1268.5 89.5M1323.7 84.1L1319.8 94.1M1321.8 113.4L1312.5 125.1M1310 95L1316.1 111M1329.5 88.4L1324.5 100.3M1297.4 75.6L1292.9 89.3M1311.1 64.2L1306.6 76.6M1319.4 96.6L1312.2 103.8M1306.2 119.5L1300.5 129.8M1334.5 119.3L1333.8 136.6M1270.2 119.3L1268.4 130.2M1345.4 99.7L1333.4 111.7M1340.9 91.8L1333.8 97.8M1348.5 103.3L1351.4 119.8M1304.7 93.2L1298 101.4M1286.3 99.4L1292.1 112.4M1339.8 90.6L1342.9 107M1346.9 106.7L1342.7 123.9M1340.8 71.1L1340.9 80.7M1260.7 82.3L1249.9 95.5M1269.2 72.8L1268.9 90M1321.9 114.2L1329.5 131.2M1278.6 98.6L1268.3 110.8M1277.6 100.8L1276.9 109.6M1292.6 80.5L1288.6 91.2M1320.4 102.3L1323 111.9M1329.9 89.2L1333.2 98.4M1356 97.5L1356.3 108.1M1361.7 102.2L1355.8 112.9M1289.5 85.9L1294.2 100.1M1301.6 109.5L1301 122.8M1310.2 116.5L1310.8 132.2M1281.6 95.7L1283.8 113M1287 111.5L1281.6 123.6M1355.2 84.7L1348 97.5M1304.1 66.1L1303.4 77.5M1303.3 117.3L1305.1 132.8M1327.7 76.5L1327.1 86.4M1351.2 76.9L1350.4 88.9" stroke="#b8b0ac" stroke-width="0.5" fill="none" opacity="0.5"/><path d="M1277.8 199.2L1284.9 214.9M1169.5 201.3L1181.8 210M1210.8 193.3L1215.8 207.2M1289.4 203.8L1305 213.4M1225 176.6L1232.7 188.8M1255.3 187.9L1256 210.4M1303.6 178.1L1306.9 196.4M1259.8 206L1273.3 215.1M1214.8 190.2L1231.4 205.7M1186 177L1198.1 186.6M1266 163.7L1280.1 175.6M1248.1 194.2L1262.6 208.8M1264.3 195.8L1277.3 205.6M1157 199.6L1158.2 221.2M1158.2 176.1L1166.2 191.2M1171.3 196.4L1182.5 208.9M1173.3 186.1L1182.5 193.2M1231.5 173.4L1234.6 186.6M1216.7 162.3L1228.5 173.3M1238.4 181.1L1240.2 192.8M1282.2 167L1282.7 184M1215.6 188.2L1218.8 210.3M1216.6 160.3L1232.6 173.3M1264.9 192.8L1278 203.7M1158.9 164.9L1173.9 181.6M1251.1 199.1L1264.3 207.6M1166.3 171.9L1183.9 185M1203.9 182.5L1211.5 202.5M1296.7 186.1L1307.5 204.9M1213.8 173.7L1217.5 186.9M1209.8 179.7L1217.6 192.5M1219.2 180.7L1236.7 192M1163.9 184.3L1170.9 198M1188 164.4L1196.8 175.8M1227.3 170.5L1231.5 186.5M1155.9 178.7L1156.3 189.3M1243.7 204.3L1254.7 218.4M1210 173.8L1217 190.1M1201.9 182.9L1211.5 200.2M1162.5 164.1L1172.3 173.9" stroke="#4a4a4e" stroke-width="0.6" fill="none" opacity="0.55"/><path d="M1351.1 171.3L1346.6 184.6M1323.4 186.7L1337.5 201.7M1353.1 165.4L1360.9 182.4M1350.7 184.4L1363.6 197.1M1310.5 183.4L1312.5 203.2M1342.6 146.8L1335.1 163.1M1339.4 145.8L1337.2 159.9M1344.8 205.1L1340.7 214.7M1350.4 172.2L1347.9 185.8M1332.2 172L1340.8 182M1347.8 149.8L1360.2 164.1M1344.1 178.7L1351.2 187M1324.8 203.3L1326.6 223.2M1319.4 170.6L1321.7 189.4M1314.6 198.5L1316.7 208.2M1331.4 168.4L1330 188.3M1334.7 187.3L1340.7 204.6M1313.6 190.5L1323.3 203.4M1318.9 166.5L1327 177.3M1340 177L1345.2 192.1M1353.7 167.2L1354.5 182.1M1361.2 165.4L1359.9 177.5M1322.1 189.8L1323 202.2M1311.4 195.5L1317.4 212.1M1331.4 182.9L1333.3 203.3M1357.3 173.1L1359.6 185.1M1348.8 151.7L1357 168.9M1309.8 187.8L1311.1 203.5M1326 154.6L1318 170.9M1351.7 151.4L1349 163.1M1318.7 177.9L1319 188.8M1349.5 180.8L1342 199.3M1345.3 167.5L1337.6 183.4M1323.7 197.5L1321.9 209.9M1321.4 146.7L1323 159M1323.8 160.8L1333.4 172.4M1322.7 162.7L1329.8 176.3M1355.4 155.2L1349.2 173.3M1341 178.4L1338.7 193.8M1343.8 201.2L1341.2 213.5" stroke="#efe6e0" stroke-width="0.6" fill="none" opacity="0.55"/><path d="M1178.54 132.67C1178.78 126.44 1180.22 116.06 1183.33 110.31C1186.45 104.56 1192.6 98.41 1199.31 94.33C1206.01 90.26 1218.23 85.31 1228.06 83.15C1237.88 81 1254.49 79.72 1264.79 79.96C1275.09 80.2 1288.35 82.35 1296.74 84.75C1305.12 87.15 1314.7 91.38 1320.69 95.93C1326.68 100.48 1333.55 109.11 1336.67 115.1C1339.78 121.09 1342.66 130.35 1341.46 135.86C1340.26 141.37 1332.27 148.96 1328.68 151.83C1325.09 154.71 1320.14 152.63 1317.5 155.03C1314.86 157.42 1315.42 164.21 1311.11 167.81C1306.8 171.4 1296.9 176.83 1288.75 178.99C1280.6 181.14 1266.87 182.18 1256.81 182.18C1246.74 182.18 1230.77 181.14 1221.67 178.99C1212.56 176.83 1202.1 171.88 1196.11 167.81C1190.12 163.73 1184.37 157.1 1181.74 151.83C1179.1 146.56 1178.3 138.9 1178.54 132.67Z" fill="#b58a5c" filter="url(#b1)"/><path d="M1234.44 126.28L1247.22 108.71L1272.78 99.12L1304.72 102.32L1325.49 116.69L1336.67 135.86L1325.49 151.83L1304.72 158.22L1275.97 151.83L1248.82 145.44Z" fill="#c8927e" filter="url(#b2)"/><path d="M1263.19 102.32L1288.75 103.92L1312.71 115.1L1328.68 150.24L1312.71 145.44L1291.94 131.07L1269.58 135.86Z" fill="#8c4a3c" filter="url(#b1)"/></g>
<g clip-path="url(#cd0)"><rect x="76.7" y="289.5" width="210.3" height="140.5" fill="#f4f4f2"/><path d="M73.19 354.67L93.96 355.79L116.32 360.58L137.08 357.07L165.83 360.26L191.39 357.07L229.72 350.68L261.67 349.08L293.61 345.09L293.61 441.72L73.19 441.72Z" fill="#eddbe9"/><rect x="76.7" y="289.5" width="210.3" height="140.5" fill="#fff" filter="url(#lite)" opacity="0.75" clip-path="url(#cd0t)"/><path d="M109.93 376.24C111.53 373.04 118.18 368.25 122.71 368.25C127.23 368.25 132.03 373.04 137.08 376.24C142.14 379.43 151.46 384.22 153.06 387.42C154.65 390.61 150.39 394.6 146.67 395.4C142.94 396.2 136.28 393.54 130.69 392.21C125.1 390.88 116.59 390.08 113.12 387.42C109.66 384.75 108.33 379.43 109.93 376.24Z" fill="#cbbcde" filter="url(#b2)" opacity="0.8"/><path d="M218.54 371.44C219.87 369.05 227.33 366.12 231.32 366.65C235.31 367.19 241.7 371.98 242.5 374.64C243.3 377.3 239.31 381.56 236.11 382.62C232.92 383.69 226.26 382.89 223.33 381.03C220.41 379.16 217.21 373.84 218.54 371.44Z" fill="#d4c6e2" filter="url(#b2)" opacity="0.8"/><rect x="76.7" y="289.5" width="210.3" height="140.5" fill="#000" filter="url(#grain)" opacity="0.42" clip-path="url(#cd0t)"/><path d="M73.19 356.91C76.66 357.1 86.77 357.04 93.96 358.03C101.15 359.01 109.13 362.61 116.32 362.82C123.51 363.03 128.83 359.36 137.08 359.31C145.34 359.25 156.78 362.5 165.83 362.5C174.88 362.5 180.74 360.9 191.39 359.31C202.04 357.71 218.01 354.25 229.72 352.92C241.44 351.59 251.02 352.25 261.67 351.32C272.31 350.39 288.29 347.99 293.61 347.33" fill="none" stroke="#a792cc" stroke-width="4.4" filter="url(#b1)"/><path d="M73.19 346.69C77.99 347.62 91.3 350.87 101.94 352.28C112.59 353.69 123.77 354.57 137.08 355.15C150.39 355.74 166.37 357.34 181.81 355.79C197.25 354.25 216.41 348.34 229.72 345.89C243.03 343.44 251.02 344.03 261.67 341.1C272.31 338.17 288.29 330.45 293.61 328.32" fill="none" stroke="#cfe0ea" stroke-width="0.8"/><path d="M73.19 392.21C80.65 390.74 102.48 390.08 117.92 390.61C133.36 391.14 149.86 395.4 165.83 395.4C181.81 395.4 197.78 392.74 213.75 390.61C229.72 388.48 248.36 385.02 261.67 382.62C274.98 380.23 288.29 375.97 293.61 376.24C298.94 376.5 298.94 381.83 293.61 384.22C288.29 386.62 274.98 388.22 261.67 390.61C248.36 393.01 229.72 396.73 213.75 398.6C197.78 400.46 181.81 401.92 165.83 401.79C149.86 401.66 133.36 398.2 117.92 397.8C102.48 397.4 80.65 400.33 73.19 399.4C65.74 398.46 65.74 393.67 73.19 392.21Z" fill="#f5f1f5" filter="url(#b1)"/><path d="M73.19 407.38C80.65 407.65 102.48 408.31 117.92 408.98C133.36 409.64 149.86 411.64 165.83 411.38C181.81 411.11 199.11 409.11 213.75 407.38C228.39 405.65 240.37 403.12 253.68 400.99C266.99 398.86 286.96 395.67 293.61 394.6" fill="none" stroke="#b7a5d3" stroke-width="18" filter="url(#b1)"/><path d="M73.19 407.38C80.65 407.65 102.48 408.31 117.92 408.98C133.36 409.64 149.86 411.64 165.83 411.38C181.81 411.11 199.11 409.11 213.75 407.38C228.39 405.65 240.37 403.12 253.68 400.99C266.99 398.86 286.96 395.67 293.61 394.6" fill="none" stroke="url(#fat2)" stroke-width="14.5"/><line x1="264.06" y1="427.83" x2="286.42" y2="427.83" stroke-width="1.6" stroke="#111"/></g>
<g clip-path="url(#cd1)"><rect x="292.6" y="289.5" width="210" height="140.5" fill="#f2f0ee"/><path d="M288.06 352.89L300.28 356.86L309.44 351.67L318.61 358.39L333.89 352.89L355.28 355.33L367.5 346.78L407.22 341.58L443.89 340.06L483.61 352.28L508.06 369.08L508.06 440.89L288.06 440.89Z" fill="#dcbcde"/><path d="M288.06 395.67L346.11 392.61L385.83 383.44L422.5 374.28L456.11 383.44L483.61 392.61L508.06 404.22L508.06 416.44L456.11 404.22L407.22 410.33L361.39 419.5L288.06 413.39Z" fill="#e9a3cd" filter="url(#b1)"/><path d="M288.06 413.39L330.83 416.44L370.56 429.58L288.06 429.58Z" fill="#c4acd8" filter="url(#b2)"/><path d="M288.06 352.89L300.28 356.86L309.44 351.67L318.61 358.39L333.89 352.89L355.28 355.33L367.5 346.78L407.22 341.58L443.89 340.06L483.61 352.28L508.06 369.08L508.06 404.22L483.61 392.61L456.11 383.44L422.5 374.28L385.83 383.44L346.11 392.61L288.06 395.67Z" fill="#a38bc8" filter="url(#b1)"/><rect x="292.6" y="289.5" width="210" height="140.5" fill="#000" filter="url(#grain)" opacity="0.6" clip-path="url(#cd1t)"/><path d="M288.06 352.89C290.09 353.55 296.71 357.06 300.28 356.86C303.84 356.66 306.39 351.41 309.44 351.67C312.5 351.92 314.54 358.19 318.61 358.39C322.69 358.59 327.78 353.4 333.89 352.89C340 352.38 349.68 356.35 355.28 355.33C360.88 354.31 358.84 349.07 367.5 346.78C376.16 344.49 394.49 342.7 407.22 341.58C419.95 340.46 431.16 338.27 443.89 340.06C456.62 341.84 472.92 347.44 483.61 352.28C494.31 357.12 503.98 366.28 508.06 369.08" fill="none" stroke="#dd5fa2" stroke-width="1.5"/><ellipse cx="459.17" cy="358.39" rx="11" ry="9.17" fill="#ea76a8" filter="url(#b1)"/><ellipse cx="459.78" cy="357.17" rx="4.28" ry="3.36" fill="#f6c8d8" filter="url(#b1)"/><path d="M303.33 350.75C304.86 348.46 309.7 339.8 312.5 337C315.3 334.2 317.59 332.16 320.14 333.94C322.69 335.73 320.9 346.17 327.78 347.69C334.65 349.22 348.15 344.89 361.39 343.11C374.63 341.33 396.02 340.31 407.22 337C418.43 333.69 420.46 326.31 428.61 323.25C436.76 320.19 445.42 318.41 456.11 318.67C466.81 318.92 485.65 323 492.78 324.78C499.91 326.56 500.93 328.09 498.89 329.36C496.85 330.63 487.69 332.67 480.56 332.42C473.43 332.16 460.19 328.6 456.11 327.83" fill="none" stroke="#dba0cc" stroke-width="1"/><path d="M355.28 429.58L376.67 410.33L413.33 399.64L450 404.22L483.61 429.58Z" fill="#ab92cb" filter="url(#b1)"/><path d="M372.08 429.58L385.83 413.39L416.39 403.61L443.89 407.89L471.39 429.58Z" fill="url(#fat2)"/><path d="M343.06 429.58C348.66 425.76 364.44 412.52 376.67 406.67C388.89 400.81 403.15 395.56 416.39 394.44C429.63 393.32 442.87 394.75 456.11 399.94C469.35 405.14 489.21 421.33 495.83 425.61" fill="none" stroke="#f6f2f6" stroke-width="3.6" filter="url(#b1)"/><line x1="468.33" y1="428.06" x2="501.33" y2="428.06" stroke-width="1.4" stroke="#111"/></g>
<g clip-path="url(#cd2)"><rect x="506.5" y="289.5" width="210" height="140.5" fill="#f3f1f0"/><path d="M503.47 355.33L560 353.81L605.83 358.39L651.67 370.61L718.89 388.33L718.89 440.89L503.47 440.89Z" fill="#d5c0de"/><path d="M547.78 382.83C550.32 378.76 578.33 378.25 590.56 379.78C602.78 381.31 608.38 387.93 621.11 392C633.84 396.07 652.69 400.15 666.94 404.22C681.2 408.3 706.67 413.9 706.67 416.44C706.67 418.99 682.22 420.52 666.94 419.5C651.67 418.48 630.28 412.88 615 410.33C599.72 407.79 586.48 408.81 575.28 404.22C564.07 399.64 545.23 386.91 547.78 382.83Z" fill="#e7a4c9" filter="url(#b2)" opacity="0.85"/><path d="M503.47 355.33C512.89 350.75 542.94 353.3 560 353.81C577.06 354.31 590.56 355.59 605.83 358.39C621.11 361.19 632.82 365.62 651.67 370.61C670.51 375.6 707.69 381.71 718.89 388.33C730.09 394.95 730.09 409.11 718.89 410.33C707.69 411.56 670.51 400.25 651.67 395.67C632.82 391.08 621.11 386.09 605.83 382.83C590.56 379.57 577.06 376.37 560 376.11C542.94 375.86 512.89 384.77 503.47 381.31C494.05 377.84 494.05 359.92 503.47 355.33Z" fill="#aa95ce" filter="url(#b1)"/><path d="M503.47 355.33C512.89 355.08 542.94 353.3 560 353.81C577.06 354.31 590.56 355.59 605.83 358.39C621.11 361.19 632.82 365.62 651.67 370.61C670.51 375.6 707.69 385.38 718.89 388.33" fill="none" stroke="#d77fb4" stroke-width="1.1"/><path d="M506.53 347.69C512.89 346.93 530.72 343.98 544.72 343.11C558.73 342.25 577.82 342.25 590.56 342.5C603.29 342.75 616.02 344.28 621.11 344.64" fill="none" stroke="#dda4cf" stroke-width="1"/><path d="M560 292.69C565.09 292.95 577.82 293.46 590.56 294.22C603.29 294.99 626.2 294.48 636.39 297.28C646.57 300.08 645.05 306.95 651.67 311.03C658.29 315.1 668.47 320.19 676.11 321.72C683.75 323.25 691.13 321.47 697.5 320.19C703.87 318.92 711.25 312.3 714.31 314.08C717.36 315.87 719.14 326.05 715.83 330.89C712.52 335.73 701.57 340.31 694.44 343.11C687.31 345.91 680.19 345.91 673.06 347.69C665.93 349.48 658.8 351.77 651.67 353.81C644.54 355.84 633.84 358.9 630.28 359.92" fill="none" stroke="#dda4cf" stroke-width="1.1"/><path d="M511.11 425.61C519.26 424.08 541.67 416.7 560 416.44C578.33 416.19 600.74 422.3 621.11 424.08C641.48 425.87 672.04 426.63 682.22 427.14" fill="none" stroke="#b9a6d6" stroke-width="3" filter="url(#b1)"/><rect x="506.5" y="289.5" width="210" height="140.5" fill="#000" filter="url(#grain)" opacity="0.65" clip-path="url(#cd2t)"/><line x1="694.44" y1="428.67" x2="715.22" y2="428.67" stroke-width="1.4" stroke="#111"/></g>
<g clip-path="url(#cd3)"><rect x="722.6" y="289.5" width="210.9" height="140.5" fill="#f4f2f2"/><path d="M718.06 351.67L760.83 358.39L791.39 355.33L837.22 364.5L883.06 366.03L936.53 361.44L936.53 440.89L718.06 440.89Z" fill="#f1e2ec"/><path d="M718.06 356.56C725.19 357.68 748.61 362.67 760.83 363.28C773.06 363.89 778.66 359.2 791.39 360.22C804.12 361.24 821.94 367.61 837.22 369.39C852.5 371.17 866.5 371.43 883.06 370.92C899.61 370.41 927.62 367.1 936.53 366.33" fill="none" stroke="#a997cc" stroke-width="3.6" filter="url(#b1)"/><path d="M718.06 349.83C725.19 350.95 748.61 355.94 760.83 356.56C773.06 357.17 778.66 352.48 791.39 353.5C804.12 354.52 821.94 360.88 837.22 362.67C852.5 364.45 866.5 364.7 883.06 364.19C899.61 363.69 927.62 360.38 936.53 359.61" fill="none" stroke="#cdc3df" stroke-width="1"/><path d="M806.67 410.33C815.32 406.51 846.13 402.19 867.78 398.11C889.42 394.04 925.07 385.89 936.53 385.89C947.99 385.89 946.97 393.53 936.53 398.11C926.09 402.69 894 409.57 873.89 413.39C853.77 417.21 827.04 421.54 815.83 421.03C804.63 420.52 798.01 414.15 806.67 410.33Z" fill="#f7f2f6" filter="url(#b2)"/><path d="M721.11 382.83C725.19 379.78 757.78 382.83 776.11 385.89C794.44 388.94 826.02 396.58 831.11 401.17C836.2 405.75 819.91 412.88 806.67 413.39C793.43 413.9 765.93 409.31 751.67 404.22C737.41 399.13 717.04 385.89 721.11 382.83Z" fill="#eccfe2" filter="url(#b3)" opacity="0.8"/><rect x="722.6" y="289.5" width="210.9" height="140.5" fill="#000" filter="url(#grain)" opacity="0.33" clip-path="url(#cd3t)"/><rect x="722.6" y="289.5" width="210.9" height="140.5" fill="#fff" filter="url(#lite)" opacity="0.6" clip-path="url(#cd3t)"/><path d="M724.17 425.61 L776.11 426.22" fill="none" stroke="#fdfdfd" stroke-width="3.6" stroke-dasharray="0.1 6" stroke-linecap="round"/><line x1="910.56" y1="428.06" x2="931.94" y2="428.06" stroke-width="1.4" stroke="#111"/></g>
<g clip-path="url(#cd4)"><rect x="938" y="289.5" width="209.4" height="140.5" fill="#f3f0f0"/><path d="M935 327.22L974.72 337L1020.56 355.33L1048.06 356.86L1081.67 337L1112.22 321.72L1150.42 306.44L1150.42 440.89L935 440.89Z" fill="#9d87c7"/><path d="M938.06 398.11L956.39 410.33L953.33 429.58L938.06 429.58Z" fill="#e295c6" filter="url(#b1)"/><path d="M994.58 404.22L1005.28 398.11L1012.92 413.39L1008.33 429.58L991.53 429.58Z" fill="#e295c6" filter="url(#b1)"/><path d="M1069.44 429.58L1078.61 410.33L1106.11 404.22L1127.5 379.78L1131.17 392L1115.28 413.39L1150.42 419.5L1150.42 429.58Z" fill="#e295c6" filter="url(#b1)"/><path d="M935 328.14C941.62 329.77 960.46 333.23 974.72 337.92C988.98 342.6 1008.33 352.94 1020.56 356.25C1032.78 359.56 1037.87 360.83 1048.06 357.78C1058.24 354.72 1070.97 343.77 1081.67 337.92C1092.36 332.06 1100.76 327.73 1112.22 322.64C1123.68 317.55 1144.05 309.91 1150.42 307.36" fill="none" stroke="#e2529f" stroke-width="2.6"/><path d="M935 291.17C938.56 292.19 954.35 294.99 956.39 297.28C958.43 299.57 943.66 303.9 947.22 304.92C950.79 305.94 975.74 302.12 977.78 303.39C979.81 304.66 958.94 310.52 959.44 312.56C959.95 314.59 978.29 313.06 980.83 315.61C983.38 318.16 970.65 323.25 974.72 327.83C978.8 332.42 996.62 339.29 1005.28 343.11C1013.94 346.93 1023.1 349.48 1026.67 350.75" fill="none" stroke="#e27fb8" stroke-width="1.3"/><path d="M1035.83 346.17C1040.93 343.11 1056.2 333.18 1066.39 327.83C1076.57 322.49 1087.78 317.39 1096.94 314.08C1106.11 310.77 1113.24 310.26 1121.39 307.97C1129.54 305.68 1141.76 301.61 1145.83 300.33" fill="none" stroke="#e27fb8" stroke-width="1.4"/><ellipse cx="1012.92" cy="373.06" rx="4.28" ry="7.94" fill="#ee9cb8" filter="url(#b1)"/><ellipse cx="1099.39" cy="366.03" rx="5.5" ry="9.17" fill="#ee9cb8" filter="url(#b1)"/><ellipse cx="980.83" cy="383.75" rx="6.72" ry="3.67" fill="#f4e0ea" transform="rotate(-20 980.83 383.75)" filter="url(#b1)"/><rect x="938" y="289.5" width="209.4" height="140.5" fill="#000" filter="url(#grain)" opacity="0.5" clip-path="url(#cd4t)"/><line x1="1125.97" y1="428.06" x2="1145.83" y2="428.06" stroke-width="1.4" stroke="#111"/></g>
<g clip-path="url(#cd5)"><rect x="1153" y="289.5" width="210" height="140.5" fill="#f3efef"/><path d="M1149.79 342.69L1165.76 349.08L1192.92 343.49L1216.88 341.1L1240.83 345.09L1272.78 341.9L1304.72 345.89L1336.67 352.28L1367.01 357.07L1367.01 441.72L1149.79 441.72Z" fill="#eedbea"/><path d="M1149.79 342.69C1152.45 338.04 1158.58 348.95 1165.76 349.08C1172.95 349.22 1184.4 344.82 1192.92 343.49C1201.44 342.16 1208.89 340.83 1216.88 341.1C1224.86 341.36 1231.52 344.96 1240.83 345.09C1250.15 345.22 1262.13 341.76 1272.78 341.9C1283.43 342.03 1294.07 344.16 1304.72 345.89C1315.37 347.62 1326.28 350.41 1336.67 352.28C1347.05 354.14 1361.96 350.95 1367.01 357.07C1372.07 363.19 1374.73 385.15 1367.01 389.01C1359.29 392.87 1333.74 382.76 1320.69 380.23C1307.65 377.7 1302.06 374.64 1288.75 373.84C1275.44 373.04 1256.81 375.97 1240.83 375.44C1224.86 374.91 1208.09 370.38 1192.92 370.65C1177.74 370.91 1156.98 381.69 1149.79 377.03C1142.6 372.38 1147.13 347.35 1149.79 342.69Z" fill="#c3b3de" filter="url(#b1)"/><path d="M1151.39 377.83C1158.31 375.97 1178.01 373.04 1192.92 373.04C1207.82 373.04 1227.52 375.97 1240.83 377.83C1254.14 379.7 1272.78 382.89 1272.78 384.22C1272.78 385.55 1254.14 386.35 1240.83 385.82C1227.52 385.29 1207.82 381.29 1192.92 381.03C1178.01 380.76 1158.31 384.75 1151.39 384.22C1144.47 383.69 1144.47 379.7 1151.39 377.83Z" fill="#eeb6d4" filter="url(#b2)" opacity="0.7"/><path d="M1149.79 342.69C1152.45 343.76 1158.58 348.95 1165.76 349.08C1172.95 349.22 1184.4 344.82 1192.92 343.49C1201.44 342.16 1208.89 340.83 1216.88 341.1C1224.86 341.36 1231.52 344.96 1240.83 345.09C1250.15 345.22 1262.13 341.76 1272.78 341.9C1283.43 342.03 1294.07 344.16 1304.72 345.89C1315.37 347.62 1326.28 350.41 1336.67 352.28C1347.05 354.14 1361.96 356.27 1367.01 357.07" fill="none" stroke="#e277b4" stroke-width="1.2"/><rect x="1153" y="289.5" width="210" height="140.5" fill="#000" filter="url(#grain)" opacity="0.55" clip-path="url(#cd5t)"/><ellipse cx="1255.21" cy="404.99" rx="9.58" ry="5.11" fill="#faf6f8" filter="url(#b1)"/><ellipse cx="1192.92" cy="406.58" rx="6.07" ry="4.15" fill="#faf6f8" filter="url(#b1)"/><ellipse cx="1298.33" cy="417.76" rx="11.18" ry="4.47" fill="#faf6f8" filter="url(#b1)"/><line x1="1340.66" y1="428.15" x2="1362.22" y2="428.15" stroke-width="1.6" stroke="#111"/></g>
<g clip-path="url(#cf0)"><rect x="76.7" y="512.2" width="210.3" height="140.2" fill="#f7f6f2"/><path d="M73.06 575.89L115.83 581.39L170.83 587.5L201.39 573.75L238.06 575.28L290 588.11L290 663.89L73.06 663.89Z" fill="#e2eaf4"/><path d="M73.06 578.33C80.19 579.25 99.54 581.9 115.83 583.83C132.13 585.77 156.57 591.22 170.83 589.94C185.09 588.67 190.19 578.23 201.39 576.19C212.59 574.16 223.29 575.33 238.06 577.72C252.82 580.12 281.34 588.42 290 590.56" fill="none" stroke="#b9c9de" stroke-width="2.4" filter="url(#b1)"/><path d="M125 621.11C130.09 619.33 146.39 617.55 161.67 618.06C176.94 618.56 208.52 621.62 216.67 624.17C224.81 626.71 219.72 632.06 210.56 633.33C201.39 634.61 174.91 632.57 161.67 631.81C148.43 631.04 137.22 630.53 131.11 628.75C125 626.97 119.91 622.89 125 621.11Z" fill="#f2f2f0" filter="url(#b1)"/><path d="M134.78 624.78C135.8 623.81 143.44 622.03 149.44 622.03C155.45 622.03 163.7 624.52 170.83 624.78C177.96 625.03 185.86 623.05 192.22 623.56C198.59 624.06 210.05 626.71 209.03 627.83C208.01 628.95 194 629.97 186.11 630.28C178.22 630.58 168.8 630.07 161.67 629.67C154.54 629.26 147.81 628.65 143.33 627.83C138.85 627.02 133.76 625.75 134.78 624.78Z" fill="#c79a4c"/><ellipse cx="208.11" cy="591.17" rx="11" ry="7.94" fill="#efe6d6" filter="url(#b1)"/><ellipse cx="95.97" cy="593.61" rx="6.11" ry="4.58" fill="#e8d8b8" filter="url(#b1)"/><rect x="76.7" y="512.2" width="210.3" height="140.2" fill="#000" filter="url(#grainb)" opacity="0.45" clip-path="url(#cf0t)"/><path d="M76.11 644.03C90.37 643.88 127.04 643.37 161.67 643.11C196.3 642.86 263.52 642.6 283.89 642.5" fill="none" stroke="#c9d6ea" stroke-width="9" filter="url(#b1)"/><path d="M76.11 644.03C90.37 643.88 127.04 643.37 161.67 643.11C196.3 642.86 263.52 642.6 283.89 642.5" fill="none" stroke="#fbfbfa" stroke-width="6.4" stroke-dasharray="0.1 8.4" stroke-linecap="round"/><line x1="265.56" y1="651.06" x2="285.72" y2="651.06" stroke-width="1.4" stroke="#111"/></g>
<g clip-path="url(#cf1)"><rect x="291.5" y="512.2" width="210" height="140.2" fill="#f7f6f2"/><path d="M288.47 566.11L345 564.58L406.11 563.06L451.94 556.94L503.89 550.83L503.89 663.89L288.47 663.89Z" fill="#ece4da"/><path d="M293.06 550.83C301.2 548.03 328.7 545.23 345 541.67C361.3 538.1 375.56 532.5 390.83 529.44C406.11 526.39 423.94 520.79 436.67 523.33C449.4 525.88 456.02 542.18 467.22 544.72C478.43 547.27 497.78 535.56 503.89 538.61C510 541.67 512.55 559.75 503.89 563.06C495.23 566.37 468.24 558.73 451.94 558.47C435.65 558.22 423.94 561.27 406.11 561.53C388.29 561.78 363.33 560.51 345 560C326.67 559.49 304.77 560 296.11 558.47C287.45 556.94 284.91 553.63 293.06 550.83Z" fill="#d8dde6" filter="url(#b2)" opacity="0.4"/><path d="M288.47 602.78L329.72 605.83L375.56 601.25L421.39 602.78L445.83 596.67L476.39 601.25L503.89 611.94L503.89 663.89L288.47 663.89Z" fill="#e2eaf4"/><ellipse cx="324.2" cy="595.1" rx="1.6" ry="1.9" fill="#a87420"/><ellipse cx="501.8" cy="597.3" rx="1.9" ry="1.7" fill="#a87420"/><ellipse cx="458.9" cy="582.2" rx="1.8" ry="1.9" fill="#a87420"/><ellipse cx="459.9" cy="587.2" rx="1.4" ry="1.6" fill="#b5852e"/><ellipse cx="421.5" cy="581.4" rx="1.4" ry="1.9" fill="#9a6414"/><ellipse cx="428.1" cy="602.3" rx="1.2" ry="2.2" fill="#9a6414"/><ellipse cx="315.8" cy="600.9" rx="1.5" ry="2" fill="#8a5a10"/><ellipse cx="375.1" cy="583.2" rx="1.6" ry="1.9" fill="#a87420"/><ellipse cx="304.3" cy="584.6" rx="1.7" ry="2.2" fill="#9a6414"/><ellipse cx="314.9" cy="590.6" rx="1.8" ry="1.7" fill="#a87420"/><ellipse cx="480.1" cy="593.1" rx="1.4" ry="1.9" fill="#b5852e"/><ellipse cx="357.1" cy="590.6" rx="1.4" ry="2.2" fill="#a87420"/><ellipse cx="443" cy="604.1" rx="1.5" ry="1.9" fill="#a87420"/><ellipse cx="411.8" cy="587.7" rx="1.9" ry="1.6" fill="#a87420"/><ellipse cx="423.4" cy="599.8" rx="1.4" ry="2.2" fill="#8a5a10"/><ellipse cx="341.6" cy="583.1" rx="1.8" ry="1.7" fill="#b5852e"/><ellipse cx="369.3" cy="595.3" rx="1.7" ry="2.3" fill="#a87420"/><ellipse cx="376" cy="602.4" rx="1.8" ry="2" fill="#8a5a10"/><ellipse cx="394.4" cy="588.7" rx="1.4" ry="2.3" fill="#a87420"/><ellipse cx="409.7" cy="590.5" rx="1.5" ry="2.2" fill="#9a6414"/><ellipse cx="470.3" cy="583.6" rx="1.4" ry="1.8" fill="#b5852e"/><ellipse cx="342.1" cy="588.3" rx="1.8" ry="2.1" fill="#a87420"/><ellipse cx="499.6" cy="603.3" rx="1.5" ry="1.7" fill="#b5852e"/><ellipse cx="294.3" cy="585.3" rx="1.8" ry="2.2" fill="#8a5a10"/><ellipse cx="418.2" cy="590.3" rx="1.6" ry="2.2" fill="#8a5a10"/><ellipse cx="318.5" cy="593" rx="1.3" ry="2.1" fill="#b5852e"/><ellipse cx="435.9" cy="603" rx="1.2" ry="2" fill="#a87420"/><ellipse cx="471.9" cy="596.1" rx="1.4" ry="1.9" fill="#a87420"/><ellipse cx="316.9" cy="581.7" rx="1.3" ry="1.5" fill="#b5852e"/><ellipse cx="458.4" cy="583.5" rx="1.3" ry="1.8" fill="#8a5a10"/><ellipse cx="404.7" cy="587.7" rx="1.5" ry="1.7" fill="#a87420"/><ellipse cx="327.9" cy="598.8" rx="1.3" ry="2.2" fill="#9a6414"/><ellipse cx="418.7" cy="592.1" rx="1.7" ry="1.6" fill="#9a6414"/><ellipse cx="372" cy="599.5" rx="1.5" ry="2" fill="#a87420"/><ellipse cx="343" cy="595.2" rx="1.4" ry="1.6" fill="#b5852e"/><ellipse cx="322.3" cy="596" rx="1.9" ry="2.2" fill="#b5852e"/><ellipse cx="493.9" cy="587.7" rx="1.6" ry="2" fill="#8a5a10"/><ellipse cx="497.4" cy="593" rx="1.7" ry="2" fill="#a87420"/><ellipse cx="302.5" cy="598.8" rx="1.9" ry="1.8" fill="#8a5a10"/><ellipse cx="430.5" cy="590.6" rx="1.8" ry="2.1" fill="#b5852e"/><ellipse cx="397.2" cy="601.8" rx="1.7" ry="2.1" fill="#b5852e"/><ellipse cx="400.1" cy="589.1" rx="1.5" ry="1.7" fill="#9a6414"/><ellipse cx="431.5" cy="581.9" rx="1.4" ry="2" fill="#b5852e"/><ellipse cx="444.6" cy="591.8" rx="1.4" ry="1.8" fill="#b5852e"/><ellipse cx="337.5" cy="600.2" rx="1.6" ry="1.6" fill="#a87420"/><ellipse cx="394.5" cy="596.5" rx="1.8" ry="2.2" fill="#8a5a10"/><ellipse cx="341.2" cy="600.3" rx="1.5" ry="2" fill="#9a6414"/><ellipse cx="323.1" cy="584" rx="1.8" ry="2.1" fill="#9a6414"/><ellipse cx="408" cy="582.2" rx="1.4" ry="2.3" fill="#b5852e"/><ellipse cx="498.9" cy="608.9" rx="1.3" ry="1.9" fill="#8a5a10"/><ellipse cx="368.7" cy="592.9" rx="1.3" ry="1.6" fill="#9a6414"/><ellipse cx="358" cy="585.3" rx="1.8" ry="1.7" fill="#a87420"/><ellipse cx="339.8" cy="595" rx="1.7" ry="1.7" fill="#b5852e"/><ellipse cx="389.2" cy="590" rx="1.6" ry="1.8" fill="#a87420"/><ellipse cx="432.4" cy="595.2" rx="1.3" ry="2.4" fill="#a87420"/><ellipse cx="296.1" cy="598.9" rx="1.8" ry="2.1" fill="#9a6414"/><ellipse cx="304.7" cy="593.3" rx="1.5" ry="1.9" fill="#b5852e"/><ellipse cx="340.4" cy="579.4" rx="1.6" ry="1.6" fill="#8a5a10"/><ellipse cx="329.4" cy="587.6" rx="1.2" ry="1.7" fill="#b5852e"/><ellipse cx="402.9" cy="581.4" rx="1.3" ry="1.9" fill="#a87420"/><ellipse cx="336.9" cy="597.6" rx="1.8" ry="2.3" fill="#9a6414"/><ellipse cx="430.9" cy="582.6" rx="1.5" ry="2.2" fill="#a87420"/><ellipse cx="321.3" cy="590.8" rx="1.6" ry="2" fill="#b5852e"/><ellipse cx="390" cy="598.3" rx="1.4" ry="1.8" fill="#8a5a10"/><ellipse cx="350.5" cy="594" rx="1.2" ry="2.2" fill="#9a6414"/><ellipse cx="328.3" cy="581.4" rx="1.8" ry="1.8" fill="#8a5a10"/><ellipse cx="300.7" cy="581" rx="1.5" ry="2.1" fill="#b5852e"/><ellipse cx="322.2" cy="581.8" rx="1.8" ry="2" fill="#b5852e"/><ellipse cx="331.5" cy="583.6" rx="1.8" ry="1.9" fill="#8a5a10"/><ellipse cx="467.1" cy="587" rx="1.2" ry="1.8" fill="#a87420"/><ellipse cx="292.9" cy="588.9" rx="1.5" ry="2.3" fill="#b5852e"/><ellipse cx="462.2" cy="602.8" rx="1.7" ry="1.7" fill="#9a6414"/><ellipse cx="497.8" cy="594.9" rx="1.8" ry="2.3" fill="#8a5a10"/><ellipse cx="290.8" cy="588.6" rx="1.6" ry="2" fill="#b5852e"/><ellipse cx="428.3" cy="584.6" rx="1.8" ry="2" fill="#b5852e"/><ellipse cx="332.9" cy="602" rx="1.6" ry="2.2" fill="#8a5a10"/><ellipse cx="485.4" cy="589.9" rx="1.6" ry="1.8" fill="#8a5a10"/><ellipse cx="411.8" cy="603.2" rx="1.8" ry="2.3" fill="#9a6414"/><ellipse cx="499.8" cy="603.2" rx="1.7" ry="1.7" fill="#8a5a10"/><ellipse cx="481.4" cy="595.7" rx="1.3" ry="1.7" fill="#b5852e"/><ellipse cx="420.8" cy="591.3" rx="1.5" ry="1.7" fill="#a87420"/><ellipse cx="343" cy="589.1" rx="1.5" ry="1.9" fill="#8a5a10"/><ellipse cx="297.5" cy="600" rx="1.3" ry="2.2" fill="#8a5a10"/><ellipse cx="414.8" cy="598.9" rx="1.7" ry="2.1" fill="#a87420"/><ellipse cx="369.8" cy="588.7" rx="1.2" ry="2.1" fill="#8a5a10"/><ellipse cx="412.6" cy="603.3" rx="1.3" ry="1.7" fill="#b5852e"/><ellipse cx="434" cy="581.7" rx="1.8" ry="1.6" fill="#8a5a10"/><ellipse cx="388.1" cy="588.9" rx="1.6" ry="2" fill="#9a6414"/><ellipse cx="474.3" cy="600.3" rx="1.5" ry="1.7" fill="#b5852e"/><ellipse cx="459.2" cy="603.2" rx="1.3" ry="2.2" fill="#9a6414"/><ellipse cx="449.6" cy="587.3" rx="1.3" ry="2.2" fill="#8a5a10"/><ellipse cx="311" cy="593.9" rx="1.6" ry="2" fill="#a87420"/><ellipse cx="395.7" cy="596.5" rx="1.3" ry="2.1" fill="#8a5a10"/><ellipse cx="487" cy="596.6" rx="1.2" ry="2.2" fill="#8a5a10"/><ellipse cx="301.1" cy="596.1" rx="1.5" ry="1.6" fill="#9a6414"/><ellipse cx="503.9" cy="592" rx="1.7" ry="1.9" fill="#8a5a10"/><ellipse cx="382" cy="580.3" rx="1.8" ry="1.6" fill="#b5852e"/><ellipse cx="451.2" cy="596.2" rx="1.5" ry="2" fill="#a87420"/><ellipse cx="383.3" cy="585.2" rx="1.8" ry="2.3" fill="#a87420"/><ellipse cx="455.3" cy="602.4" rx="1.7" ry="1.8" fill="#a87420"/><ellipse cx="324.3" cy="597.6" rx="1.4" ry="1.8" fill="#a87420"/><ellipse cx="496.4" cy="596.3" rx="1.3" ry="1.5" fill="#a87420"/><ellipse cx="472" cy="587.8" rx="1.3" ry="2" fill="#9a6414"/><ellipse cx="424.3" cy="583.5" rx="1.3" ry="2.1" fill="#a87420"/><ellipse cx="404.9" cy="582.2" rx="1.4" ry="2" fill="#9a6414"/><ellipse cx="341.3" cy="589.1" rx="1.7" ry="2.3" fill="#9a6414"/><ellipse cx="374.5" cy="601.7" rx="1.7" ry="2.1" fill="#b5852e"/><ellipse cx="295.9" cy="591.8" rx="1.8" ry="2.2" fill="#b5852e"/><ellipse cx="328.1" cy="600.4" rx="1.3" ry="2.3" fill="#b5852e"/><ellipse cx="443.7" cy="593.5" rx="1.3" ry="1.8" fill="#b5852e"/><ellipse cx="430.1" cy="589.8" rx="1.7" ry="1.6" fill="#8a5a10"/><ellipse cx="414.6" cy="591.6" rx="1.8" ry="1.6" fill="#a87420"/><ellipse cx="355.7" cy="588.4" rx="1.4" ry="2.1" fill="#a87420"/><ellipse cx="299.3" cy="597.3" rx="1.8" ry="2" fill="#9a6414"/><ellipse cx="423.9" cy="591.6" rx="1.6" ry="1.8" fill="#a87420"/><ellipse cx="298.7" cy="594.6" rx="1.6" ry="1.9" fill="#9a6414"/><ellipse cx="380.4" cy="584.4" rx="1.2" ry="1.7" fill="#8a5a10"/><ellipse cx="291.5" cy="598.2" rx="1.8" ry="2.3" fill="#a87420"/><ellipse cx="447.3" cy="593.6" rx="1.5" ry="1.8" fill="#a87420"/><ellipse cx="437.7" cy="592.2" rx="1.4" ry="2.3" fill="#a87420"/><ellipse cx="350.5" cy="596.6" rx="1.7" ry="2.1" fill="#9a6414"/><ellipse cx="478.7" cy="589.2" rx="1.9" ry="1.8" fill="#b5852e"/><ellipse cx="465.4" cy="600" rx="1.7" ry="1.5" fill="#8a5a10"/><ellipse cx="486.8" cy="589.4" rx="1.9" ry="2.2" fill="#a87420"/><ellipse cx="458.6" cy="601.9" rx="1.8" ry="2.2" fill="#a87420"/><ellipse cx="396.1" cy="596.2" rx="1.5" ry="2.3" fill="#b5852e"/><ellipse cx="370.5" cy="600.9" rx="1.7" ry="2" fill="#9a6414"/><ellipse cx="317.6" cy="579.6" rx="1.3" ry="1.9" fill="#b5852e"/><ellipse cx="299.1" cy="594.8" rx="1.3" ry="2" fill="#8a5a10"/><ellipse cx="429" cy="600.9" rx="1.4" ry="2.2" fill="#9a6414"/><ellipse cx="348.8" cy="579.5" rx="1.5" ry="2.2" fill="#8a5a10"/><ellipse cx="388.2" cy="600.8" rx="1.8" ry="1.7" fill="#8a5a10"/><ellipse cx="317.5" cy="587.5" rx="1.8" ry="1.8" fill="#a87420"/><ellipse cx="465.2" cy="588.5" rx="1.7" ry="1.5" fill="#8a5a10"/><ellipse cx="298" cy="598.4" rx="1.7" ry="2" fill="#9a6414"/><ellipse cx="461.9" cy="585.9" rx="1.6" ry="2" fill="#a87420"/><ellipse cx="470.8" cy="596.9" rx="1.3" ry="2.2" fill="#9a6414"/><ellipse cx="326.1" cy="596" rx="1.5" ry="1.8" fill="#b5852e"/><ellipse cx="371.2" cy="597.9" rx="1.4" ry="2.3" fill="#9a6414"/><ellipse cx="341.2" cy="586.6" rx="1.4" ry="1.9" fill="#a87420"/><ellipse cx="504.2" cy="588.6" rx="1.9" ry="2.3" fill="#b5852e"/><ellipse cx="441.6" cy="602.7" rx="1.3" ry="2.1" fill="#b5852e"/><ellipse cx="498.9" cy="606.4" rx="1.8" ry="1.6" fill="#b5852e"/><ellipse cx="482.2" cy="605.5" rx="1.8" ry="2.3" fill="#9a6414"/><ellipse cx="444.7" cy="582.1" rx="1.4" ry="1.6" fill="#9a6414"/><ellipse cx="424.7" cy="582.2" rx="1.8" ry="2.3" fill="#b5852e"/><ellipse cx="307.8" cy="589.2" rx="1.9" ry="2.3" fill="#b5852e"/><ellipse cx="394" cy="586.2" rx="1.6" ry="2.1" fill="#a87420"/><ellipse cx="353.4" cy="600.7" rx="1.3" ry="2.3" fill="#8a5a10"/><ellipse cx="408.8" cy="598" rx="1.5" ry="2.2" fill="#8a5a10"/><rect x="291.5" y="512.2" width="210" height="140.2" fill="#000" filter="url(#grainb)" opacity="0.4" clip-path="url(#cf1t)"/><ellipse cx="403.7" cy="613.2" rx="0.9" ry="0.9" fill="#44444c"/><ellipse cx="387.6" cy="628.3" rx="1.1" ry="0.9" fill="#2e2e34"/><ellipse cx="390.2" cy="639.3" rx="1.2" ry="0.9" fill="#2e2e34"/><ellipse cx="415.5" cy="629.3" rx="1.1" ry="0.9" fill="#6a5420"/><ellipse cx="332.6" cy="616.4" rx="1.1" ry="1.2" fill="#44444c"/><ellipse cx="308.7" cy="635.9" rx="1" ry="1.1" fill="#3c4870"/><ellipse cx="417.2" cy="621.5" rx="1.1" ry="0.8" fill="#2e2e34"/><ellipse cx="427" cy="634.9" rx="0.9" ry="0.9" fill="#5a4a28"/><ellipse cx="332.2" cy="629.5" rx="1.2" ry="1" fill="#2e2e34"/><ellipse cx="397.3" cy="640.5" rx="1.2" ry="1.1" fill="#3c4870"/><ellipse cx="502.9" cy="644.5" rx="1.1" ry="1.1" fill="#44444c"/><ellipse cx="381.7" cy="611.4" rx="1" ry="1" fill="#44444c"/><ellipse cx="480.5" cy="637.1" rx="1" ry="1.1" fill="#3c4870"/><ellipse cx="394.3" cy="632.7" rx="1.3" ry="0.8" fill="#6a5420"/><ellipse cx="342.4" cy="645.3" rx="1.1" ry="1" fill="#6a5420"/><ellipse cx="434.4" cy="647.1" rx="1" ry="0.9" fill="#6a5420"/><ellipse cx="429.3" cy="645.1" rx="1" ry="1.1" fill="#6a5420"/><ellipse cx="416.5" cy="638.1" rx="1.2" ry="0.8" fill="#5a4a28"/><ellipse cx="471.2" cy="630.4" rx="1.3" ry="1.1" fill="#44444c"/><ellipse cx="495.4" cy="627.1" rx="1" ry="1.2" fill="#44444c"/><ellipse cx="319.6" cy="643.9" rx="1.1" ry="1.1" fill="#44444c"/><ellipse cx="375.1" cy="646" rx="1" ry="1.1" fill="#44444c"/><ellipse cx="427" cy="642.2" rx="0.9" ry="1.2" fill="#5a4a28"/><ellipse cx="313.3" cy="623.4" rx="1.2" ry="1" fill="#3c4870"/><ellipse cx="347.1" cy="639.9" rx="1.3" ry="0.8" fill="#2e2e34"/><ellipse cx="412.8" cy="616.9" rx="1.1" ry="0.8" fill="#5a4a28"/><ellipse cx="386.8" cy="626.1" rx="1.1" ry="1" fill="#6a5420"/><ellipse cx="478.7" cy="642.3" rx="1.1" ry="1.1" fill="#5a4a28"/><ellipse cx="454.5" cy="639.6" rx="1.2" ry="0.9" fill="#6a5420"/><ellipse cx="346.8" cy="639.3" rx="1.1" ry="1.2" fill="#3c4870"/><ellipse cx="370.5" cy="623.2" rx="1.3" ry="1.2" fill="#44444c"/><ellipse cx="355.6" cy="641.2" rx="1" ry="1.2" fill="#3c4870"/><ellipse cx="294" cy="632.1" rx="1.4" ry="0.8" fill="#5a4a28"/><ellipse cx="483.6" cy="647.8" rx="1.1" ry="1.2" fill="#3c4870"/><ellipse cx="359.7" cy="618.7" rx="1" ry="1.2" fill="#44444c"/><ellipse cx="326.4" cy="637.2" rx="0.9" ry="1" fill="#3c4870"/><ellipse cx="402.3" cy="646.7" rx="1.1" ry="1" fill="#2e2e34"/><ellipse cx="450.8" cy="617.7" rx="1.3" ry="1" fill="#3c4870"/><ellipse cx="329.4" cy="639" rx="1" ry="1.2" fill="#5a4a28"/><ellipse cx="324.5" cy="636.4" rx="0.9" ry="1.1" fill="#2e2e34"/><ellipse cx="438.7" cy="619.3" rx="0.9" ry="1" fill="#5a4a28"/><ellipse cx="466.1" cy="646.3" rx="1.3" ry="1.1" fill="#5a4a28"/><ellipse cx="436.3" cy="642.6" rx="1" ry="1" fill="#3c4870"/><ellipse cx="379.9" cy="613.1" rx="1.4" ry="1.1" fill="#6a5420"/><ellipse cx="293.9" cy="628.8" rx="0.9" ry="1.2" fill="#2e2e34"/><ellipse cx="493.5" cy="627.5" rx="1.3" ry="1" fill="#5a4a28"/><ellipse cx="413.7" cy="621.4" rx="1.2" ry="0.8" fill="#6a5420"/><ellipse cx="354.4" cy="636.7" rx="0.9" ry="1.1" fill="#44444c"/><ellipse cx="410.8" cy="641.9" rx="1.1" ry="0.9" fill="#2e2e34"/><ellipse cx="400.9" cy="640.3" rx="1.4" ry="0.9" fill="#5a4a28"/><ellipse cx="459.6" cy="625.2" rx="1.1" ry="1.2" fill="#6a5420"/><ellipse cx="303.3" cy="644.7" rx="1.2" ry="1" fill="#2e2e34"/><ellipse cx="432" cy="619.9" rx="1" ry="1" fill="#3c4870"/><ellipse cx="493" cy="619.3" rx="1.1" ry="1" fill="#6a5420"/><ellipse cx="491.3" cy="615.8" rx="1" ry="1.2" fill="#44444c"/><ellipse cx="427" cy="636" rx="1" ry="1.2" fill="#44444c"/><ellipse cx="332.1" cy="623.2" rx="1.1" ry="0.8" fill="#44444c"/><ellipse cx="316.7" cy="622.2" rx="1.1" ry="1.2" fill="#6a5420"/><ellipse cx="366.1" cy="624.1" rx="1.3" ry="1.1" fill="#6a5420"/><ellipse cx="476.8" cy="614.1" rx="1.3" ry="0.9" fill="#6a5420"/><ellipse cx="425.4" cy="633" rx="1.1" ry="1.1" fill="#6a5420"/><ellipse cx="361.5" cy="630.6" rx="1.2" ry="0.8" fill="#5a4a28"/><ellipse cx="461" cy="618.3" rx="1.2" ry="1" fill="#2e2e34"/><ellipse cx="321.4" cy="645" rx="1.1" ry="1.1" fill="#44444c"/><ellipse cx="320" cy="641.6" rx="1.1" ry="0.8" fill="#3c4870"/><ellipse cx="314.1" cy="629.9" rx="1.1" ry="0.9" fill="#3c4870"/><ellipse cx="490.3" cy="623.6" rx="0.9" ry="0.9" fill="#3c4870"/><ellipse cx="465.9" cy="619.5" rx="1" ry="1" fill="#6a5420"/><ellipse cx="383.6" cy="647" rx="1.3" ry="1" fill="#3c4870"/><ellipse cx="336.2" cy="633.8" rx="1" ry="1.1" fill="#44444c"/><ellipse cx="443.9" cy="630.2" rx="1.2" ry="1" fill="#5a4a28"/><ellipse cx="364.9" cy="616" rx="1.1" ry="1.1" fill="#6a5420"/><ellipse cx="406.8" cy="647.9" rx="1.1" ry="1.2" fill="#5a4a28"/><ellipse cx="331.3" cy="621.2" rx="1.2" ry="0.9" fill="#5a4a28"/><ellipse cx="458.8" cy="626.2" rx="1.2" ry="1.2" fill="#2e2e34"/><ellipse cx="425.9" cy="618.2" rx="1.3" ry="1" fill="#3c4870"/><ellipse cx="313" cy="637.4" rx="1" ry="1.1" fill="#5a4a28"/><ellipse cx="295.4" cy="617.7" rx="1.2" ry="1" fill="#2e2e34"/><ellipse cx="435.5" cy="617.8" rx="1" ry="1" fill="#2e2e34"/><ellipse cx="305.1" cy="641.9" rx="1.1" ry="1.1" fill="#44444c"/><ellipse cx="392.5" cy="626.9" rx="1.2" ry="0.9" fill="#5a4a28"/><ellipse cx="502.2" cy="634.2" rx="1.2" ry="1" fill="#44444c"/><ellipse cx="355.3" cy="633.2" rx="1.2" ry="1.2" fill="#2e2e34"/><ellipse cx="309.4" cy="615.8" rx="1.1" ry="1" fill="#2e2e34"/><ellipse cx="344.4" cy="630.6" rx="1.1" ry="0.9" fill="#5a4a28"/><ellipse cx="381.6" cy="646.8" rx="0.9" ry="1.2" fill="#3c4870"/><ellipse cx="471" cy="623.4" rx="1.2" ry="1" fill="#3c4870"/><ellipse cx="441.9" cy="631.6" rx="0.9" ry="1.2" fill="#6a5420"/><ellipse cx="337.3" cy="619.6" rx="1.1" ry="0.8" fill="#6a5420"/><ellipse cx="290" cy="645.2" rx="1" ry="1.2" fill="#5a4a28"/><ellipse cx="474.9" cy="639.3" rx="1.2" ry="1.2" fill="#6a5420"/><ellipse cx="315.3" cy="623.9" rx="1" ry="0.8" fill="#44444c"/><ellipse cx="446.3" cy="617" rx="1.3" ry="1.1" fill="#3c4870"/><ellipse cx="398.3" cy="620.7" rx="1.2" ry="0.9" fill="#5a4a28"/><ellipse cx="498.9" cy="626.6" rx="1.1" ry="0.9" fill="#6a5420"/><ellipse cx="427.1" cy="644.8" rx="1.3" ry="0.9" fill="#44444c"/><ellipse cx="417.2" cy="629.2" rx="1" ry="1" fill="#5a4a28"/><ellipse cx="470.7" cy="619.4" rx="1.3" ry="0.9" fill="#2e2e34"/><ellipse cx="377.8" cy="634.8" rx="1" ry="1" fill="#44444c"/><ellipse cx="372.5" cy="624.8" rx="1.1" ry="0.9" fill="#44444c"/><ellipse cx="306.8" cy="638.6" rx="1.1" ry="1.1" fill="#5a4a28"/><ellipse cx="486.6" cy="648.1" rx="1.3" ry="0.9" fill="#5a4a28"/><ellipse cx="346.6" cy="617.2" rx="1.2" ry="0.8" fill="#44444c"/><ellipse cx="288.9" cy="645.4" rx="1" ry="0.8" fill="#3c4870"/><ellipse cx="451.6" cy="632.6" rx="1" ry="1" fill="#2e2e34"/><ellipse cx="488.5" cy="617.7" rx="1" ry="1.2" fill="#2e2e34"/><ellipse cx="460.6" cy="612.7" rx="1.2" ry="1.1" fill="#3c4870"/><ellipse cx="485.7" cy="649" rx="0.9" ry="0.8" fill="#44444c"/><ellipse cx="399.2" cy="643.2" rx="1.3" ry="0.9" fill="#44444c"/><ellipse cx="347.4" cy="643.6" rx="0.9" ry="0.9" fill="#44444c"/><line x1="479.44" y1="651.06" x2="500.22" y2="651.06" stroke-width="1.4" stroke="#111"/></g>
<g clip-path="url(#cf2)"><rect x="506" y="512.2" width="211" height="140.2" fill="#f7f6f2"/><path d="M503.06 565.5L561.11 561.53L622.22 567.64L658.89 576.81L695.56 578.33L720 563.67L720 663.89L503.06 663.89Z" fill="#e2eaf4"/><path d="M503.06 572.22C512.73 571.56 541.25 567.89 561.11 568.25C580.97 568.61 605.93 571.81 622.22 574.36C638.52 576.91 646.67 581.75 658.89 583.53C671.11 585.31 685.37 587.25 695.56 585.06C705.74 582.87 715.93 572.83 720 570.39" fill="none" stroke="#ebe3d8" stroke-width="14" filter="url(#b1)"/><ellipse cx="711.8" cy="590.9" rx="1.7" ry="2" fill="#b5852e"/><ellipse cx="701" cy="598.6" rx="1.3" ry="1.7" fill="#9a6414"/><ellipse cx="601.4" cy="584.6" rx="1.4" ry="1.7" fill="#b5852e"/><ellipse cx="542.4" cy="578.4" rx="1.6" ry="1.8" fill="#9a6414"/><ellipse cx="616" cy="597.8" rx="1.2" ry="2.2" fill="#a87420"/><ellipse cx="567" cy="578.3" rx="1.4" ry="2" fill="#a87420"/><ellipse cx="655.3" cy="597.9" rx="1.6" ry="1.8" fill="#b5852e"/><ellipse cx="660" cy="587.3" rx="1.2" ry="2.2" fill="#b5852e"/><ellipse cx="606.8" cy="583.1" rx="1.6" ry="1.6" fill="#8a5a10"/><ellipse cx="574" cy="587.1" rx="1.5" ry="2.1" fill="#b5852e"/><ellipse cx="552.1" cy="574.7" rx="1.2" ry="1.6" fill="#9a6414"/><ellipse cx="510.6" cy="585.2" rx="1.5" ry="2" fill="#8a5a10"/><ellipse cx="701.8" cy="593.8" rx="1.5" ry="2.2" fill="#a87420"/><ellipse cx="536.2" cy="586.3" rx="1.3" ry="1.7" fill="#9a6414"/><ellipse cx="636.9" cy="595.8" rx="1.4" ry="2.1" fill="#9a6414"/><ellipse cx="657.4" cy="592.7" rx="1.7" ry="1.9" fill="#a87420"/><ellipse cx="574.4" cy="584.1" rx="1.7" ry="2.2" fill="#a87420"/><ellipse cx="621.5" cy="593.5" rx="1.6" ry="1.7" fill="#a87420"/><ellipse cx="715.6" cy="586.4" rx="1.9" ry="2.3" fill="#b5852e"/><ellipse cx="523" cy="582.8" rx="1.2" ry="1.9" fill="#8a5a10"/><ellipse cx="666" cy="597.8" rx="1.3" ry="2" fill="#a87420"/><ellipse cx="702.5" cy="598" rx="1.8" ry="1.8" fill="#b5852e"/><ellipse cx="553.2" cy="585.8" rx="1.2" ry="2.2" fill="#8a5a10"/><ellipse cx="608.9" cy="592.2" rx="1.5" ry="2" fill="#8a5a10"/><ellipse cx="705.1" cy="599.5" rx="1.6" ry="1.8" fill="#b5852e"/><ellipse cx="578.3" cy="586.1" rx="1.6" ry="2.3" fill="#a87420"/><ellipse cx="547.9" cy="577.9" rx="1.3" ry="1.8" fill="#a87420"/><ellipse cx="592" cy="583.3" rx="1.6" ry="1.6" fill="#b5852e"/><ellipse cx="670.7" cy="591.2" rx="1.4" ry="1.9" fill="#9a6414"/><ellipse cx="542.7" cy="576.1" rx="1.5" ry="2.2" fill="#b5852e"/><ellipse cx="544.5" cy="586.1" rx="1.5" ry="2" fill="#b5852e"/><ellipse cx="541.5" cy="574.5" rx="1.3" ry="2" fill="#9a6414"/><ellipse cx="691.9" cy="601.3" rx="1.8" ry="1.8" fill="#8a5a10"/><ellipse cx="672" cy="591.4" rx="1.7" ry="2.2" fill="#9a6414"/><ellipse cx="508.3" cy="582" rx="1.9" ry="1.6" fill="#8a5a10"/><ellipse cx="696.7" cy="599" rx="1.8" ry="1.6" fill="#b5852e"/><ellipse cx="653.4" cy="599.3" rx="1.3" ry="1.6" fill="#b5852e"/><ellipse cx="542.6" cy="578.5" rx="1.7" ry="1.9" fill="#9a6414"/><ellipse cx="668.2" cy="593.8" rx="1.2" ry="2" fill="#9a6414"/><ellipse cx="565.7" cy="584.3" rx="1.5" ry="1.7" fill="#b5852e"/><ellipse cx="714.8" cy="587.3" rx="1.8" ry="2.1" fill="#a87420"/><ellipse cx="574.9" cy="585.8" rx="1.5" ry="2.3" fill="#8a5a10"/><ellipse cx="507.8" cy="576.9" rx="1.5" ry="1.5" fill="#b5852e"/><ellipse cx="567.3" cy="581.9" rx="1.8" ry="1.9" fill="#a87420"/><ellipse cx="505.5" cy="578.7" rx="1.6" ry="2.2" fill="#8a5a10"/><ellipse cx="612.9" cy="590.4" rx="1.8" ry="2.1" fill="#a87420"/><ellipse cx="649.8" cy="600.3" rx="1.6" ry="1.9" fill="#9a6414"/><ellipse cx="713.8" cy="596.4" rx="1.4" ry="1.6" fill="#8a5a10"/><ellipse cx="532.2" cy="575.2" rx="1.6" ry="2.3" fill="#8a5a10"/><ellipse cx="670.3" cy="593" rx="1.3" ry="2.2" fill="#a87420"/><ellipse cx="533" cy="586.6" rx="1.9" ry="1.7" fill="#a87420"/><ellipse cx="710.5" cy="590.6" rx="1.6" ry="2.3" fill="#8a5a10"/><ellipse cx="514.4" cy="583.5" rx="1.2" ry="2.1" fill="#9a6414"/><ellipse cx="585.4" cy="583.8" rx="1.7" ry="1.6" fill="#b5852e"/><ellipse cx="599.4" cy="586" rx="1.8" ry="1.5" fill="#8a5a10"/><ellipse cx="625.5" cy="598.9" rx="1.7" ry="2.3" fill="#9a6414"/><ellipse cx="718.1" cy="586.8" rx="1.5" ry="2.2" fill="#b5852e"/><ellipse cx="703.4" cy="592.9" rx="1.4" ry="1.9" fill="#8a5a10"/><ellipse cx="587.4" cy="577.9" rx="1.5" ry="2.2" fill="#8a5a10"/><ellipse cx="631.7" cy="591.1" rx="1.4" ry="2.3" fill="#b5852e"/><ellipse cx="631.7" cy="594.3" rx="1.3" ry="2.1" fill="#a87420"/><ellipse cx="518.4" cy="578.4" rx="1.7" ry="2.3" fill="#a87420"/><ellipse cx="648.7" cy="600" rx="1.3" ry="1.9" fill="#9a6414"/><ellipse cx="631.2" cy="598" rx="1.2" ry="2.3" fill="#b5852e"/><ellipse cx="538.8" cy="582.1" rx="1.5" ry="1.9" fill="#8a5a10"/><ellipse cx="590" cy="587.7" rx="1.8" ry="2" fill="#9a6414"/><ellipse cx="663.8" cy="596.1" rx="1.5" ry="1.8" fill="#a87420"/><ellipse cx="566.5" cy="586" rx="1.7" ry="1.6" fill="#b5852e"/><ellipse cx="527.6" cy="585" rx="1.6" ry="2.3" fill="#8a5a10"/><ellipse cx="541.9" cy="583.5" rx="1.5" ry="1.6" fill="#9a6414"/><ellipse cx="620.6" cy="589.7" rx="1.8" ry="2.1" fill="#a87420"/><ellipse cx="605.9" cy="594.6" rx="1.9" ry="1.7" fill="#8a5a10"/><ellipse cx="546.3" cy="582.4" rx="1.8" ry="2" fill="#9a6414"/><ellipse cx="555.3" cy="583.8" rx="1.7" ry="2" fill="#8a5a10"/><ellipse cx="708.5" cy="597.4" rx="1.5" ry="1.6" fill="#a87420"/><ellipse cx="701.3" cy="589.7" rx="1.7" ry="2.1" fill="#b5852e"/><ellipse cx="672.2" cy="595.3" rx="1.5" ry="1.8" fill="#8a5a10"/><ellipse cx="514.7" cy="579.8" rx="1.6" ry="1.7" fill="#a87420"/><ellipse cx="719" cy="593.8" rx="1.7" ry="2" fill="#b5852e"/><ellipse cx="675.8" cy="595" rx="1.2" ry="1.7" fill="#8a5a10"/><ellipse cx="556.9" cy="576.7" rx="1.4" ry="2.3" fill="#8a5a10"/><ellipse cx="540.2" cy="583.3" rx="1.9" ry="2.1" fill="#a87420"/><ellipse cx="703.9" cy="592.1" rx="1.3" ry="2.3" fill="#b5852e"/><ellipse cx="614.6" cy="596.4" rx="1.3" ry="1.8" fill="#a87420"/><ellipse cx="572" cy="576.4" rx="1.9" ry="1.8" fill="#9a6414"/><ellipse cx="718.2" cy="645.9" rx="1" ry="1" fill="#3c4870"/><ellipse cx="615.8" cy="618.2" rx="1.2" ry="1.1" fill="#5a4a28"/><ellipse cx="695.3" cy="632.8" rx="1.4" ry="0.9" fill="#44444c"/><ellipse cx="578.9" cy="620.4" rx="1.3" ry="1.1" fill="#5a4a28"/><ellipse cx="717.7" cy="640.1" rx="1.4" ry="1.2" fill="#2e2e34"/><ellipse cx="613.5" cy="636.2" rx="1.1" ry="0.8" fill="#2e2e34"/><ellipse cx="629.5" cy="632.2" rx="1.2" ry="1" fill="#44444c"/><ellipse cx="611.2" cy="629.9" rx="0.9" ry="0.9" fill="#44444c"/><ellipse cx="682.9" cy="632.2" rx="1.3" ry="1.2" fill="#2e2e34"/><ellipse cx="594.2" cy="611.1" rx="1.2" ry="1.1" fill="#3c4870"/><ellipse cx="615.5" cy="618.6" rx="1.2" ry="1.2" fill="#5a4a28"/><ellipse cx="623.5" cy="615.2" rx="1.3" ry="1" fill="#3c4870"/><ellipse cx="608.5" cy="627.6" rx="1" ry="0.9" fill="#6a5420"/><ellipse cx="597.9" cy="622.2" rx="1.1" ry="1.2" fill="#3c4870"/><ellipse cx="715.4" cy="638.2" rx="1.2" ry="0.9" fill="#44444c"/><ellipse cx="685.7" cy="640.2" rx="1.2" ry="1.2" fill="#5a4a28"/><ellipse cx="615.7" cy="626.9" rx="0.9" ry="0.9" fill="#6a5420"/><ellipse cx="626.5" cy="632.6" rx="1" ry="1.1" fill="#5a4a28"/><ellipse cx="591.8" cy="616.2" rx="0.9" ry="1" fill="#44444c"/><ellipse cx="606.6" cy="624.9" rx="0.9" ry="1" fill="#5a4a28"/><ellipse cx="653.2" cy="630.3" rx="1" ry="1" fill="#6a5420"/><ellipse cx="616.6" cy="611.8" rx="1.4" ry="0.9" fill="#44444c"/><ellipse cx="672.2" cy="623.1" rx="1.1" ry="0.9" fill="#2e2e34"/><ellipse cx="628" cy="634.8" rx="1.2" ry="1.2" fill="#2e2e34"/><ellipse cx="590.8" cy="632.4" rx="1.3" ry="1" fill="#3c4870"/><ellipse cx="680.3" cy="640.9" rx="1" ry="1.2" fill="#3c4870"/><ellipse cx="672.6" cy="627.5" rx="1.2" ry="1" fill="#2e2e34"/><ellipse cx="622.2" cy="630.7" rx="1.4" ry="1.2" fill="#2e2e34"/><ellipse cx="638.9" cy="616.5" rx="1.4" ry="0.8" fill="#2e2e34"/><ellipse cx="590.8" cy="633.6" rx="1" ry="0.8" fill="#3c4870"/><ellipse cx="646.8" cy="614.5" rx="1" ry="1.1" fill="#44444c"/><ellipse cx="696" cy="621.9" rx="1" ry="0.9" fill="#6a5420"/><ellipse cx="615.6" cy="627.2" rx="0.9" ry="1.1" fill="#3c4870"/><ellipse cx="662.6" cy="641.5" rx="1.1" ry="0.9" fill="#5a4a28"/><ellipse cx="654" cy="621.1" rx="1.3" ry="0.8" fill="#3c4870"/><ellipse cx="605.2" cy="610.9" rx="1.2" ry="1" fill="#2e2e34"/><ellipse cx="658.8" cy="640.7" rx="1.2" ry="0.9" fill="#6a5420"/><ellipse cx="587.8" cy="615.2" rx="1.1" ry="0.8" fill="#3c4870"/><ellipse cx="719.9" cy="623" rx="1" ry="1" fill="#5a4a28"/><ellipse cx="680.4" cy="639.5" rx="1.3" ry="1.2" fill="#44444c"/><ellipse cx="612.2" cy="632.9" rx="0.9" ry="0.9" fill="#5a4a28"/><ellipse cx="646.5" cy="628.3" rx="0.9" ry="1.1" fill="#6a5420"/><ellipse cx="706.6" cy="629" rx="1.3" ry="1.1" fill="#6a5420"/><ellipse cx="587.5" cy="630.1" rx="1.2" ry="0.9" fill="#2e2e34"/><ellipse cx="598.5" cy="623.6" rx="1.1" ry="1" fill="#5a4a28"/><rect x="506" y="512.2" width="211" height="140.2" fill="#000" filter="url(#grainb)" opacity="0.45" clip-path="url(#cf2t)"/><path d="M518.33 618.06L591.67 611.94L652.78 627.22L695.56 648.61L622.22 648.61L530.56 633.33Z" fill="url(#fat2)" opacity="0.9"/><path d="M530.56 636.39C537.18 634.35 562.13 631.81 576.39 633.33C590.65 634.86 613.56 642.75 616.11 645.56C618.66 648.36 604.91 650.14 591.67 650.14C578.43 650.14 546.85 647.85 536.67 645.56C526.48 643.26 523.94 638.43 530.56 636.39Z" fill="#e9dfc6" filter="url(#b1)" opacity="0.9"/><line x1="695.56" y1="651.06" x2="715.72" y2="651.06" stroke-width="1.4" stroke="#111"/></g>
<g clip-path="url(#cf3)"><rect x="722.3" y="512.2" width="210.4" height="140.2" fill="#f7f6f2"/><path d="M718.47 572.83L775 590.56L820.83 596.67L851.39 608.89L881.94 587.5L906.39 566.11L935.42 559.39L935.42 663.89L718.47 663.89Z" fill="#e0e8f2"/><ellipse cx="756.8" cy="589.8" rx="1.6" ry="1.6" fill="#8a5a10"/><ellipse cx="761.1" cy="589.2" rx="1.5" ry="2.2" fill="#a87420"/><ellipse cx="734.3" cy="582.5" rx="1.8" ry="1.6" fill="#9a6414"/><ellipse cx="841.6" cy="608.7" rx="1.4" ry="2.2" fill="#a87420"/><ellipse cx="784.7" cy="594.9" rx="1.8" ry="2" fill="#b5852e"/><ellipse cx="735.4" cy="582" rx="1.8" ry="2.4" fill="#9a6414"/><ellipse cx="921.6" cy="566.8" rx="1.7" ry="2" fill="#9a6414"/><ellipse cx="845.2" cy="608.9" rx="1.5" ry="1.8" fill="#8a5a10"/><ellipse cx="726.3" cy="576.6" rx="1.5" ry="1.9" fill="#a87420"/><ellipse cx="775.1" cy="592.7" rx="1.6" ry="1.9" fill="#b5852e"/><ellipse cx="884.2" cy="586.4" rx="1.8" ry="2.2" fill="#8a5a10"/><ellipse cx="808.1" cy="600.1" rx="1.5" ry="2.1" fill="#a87420"/><ellipse cx="753.4" cy="584.8" rx="1.7" ry="1.7" fill="#a87420"/><ellipse cx="917.5" cy="565.2" rx="1.5" ry="2.1" fill="#a87420"/><ellipse cx="738.8" cy="583.7" rx="1.8" ry="2.1" fill="#b5852e"/><ellipse cx="894.4" cy="580.3" rx="1.7" ry="2.2" fill="#8a5a10"/><ellipse cx="721.4" cy="575.6" rx="1.9" ry="2.3" fill="#8a5a10"/><ellipse cx="877" cy="595.8" rx="1.7" ry="2.3" fill="#b5852e"/><ellipse cx="927.5" cy="565.4" rx="1.9" ry="1.9" fill="#a87420"/><ellipse cx="810.4" cy="599.4" rx="1.6" ry="1.9" fill="#9a6414"/><ellipse cx="921.3" cy="564.7" rx="1.4" ry="2.4" fill="#8a5a10"/><ellipse cx="931.8" cy="562.9" rx="1.6" ry="1.6" fill="#9a6414"/><ellipse cx="781.2" cy="594.2" rx="1.7" ry="2.2" fill="#9a6414"/><ellipse cx="779.2" cy="595.4" rx="1.7" ry="2.1" fill="#b5852e"/><ellipse cx="913.5" cy="566.8" rx="1.4" ry="1.8" fill="#8a5a10"/><ellipse cx="743" cy="582" rx="1.7" ry="2.3" fill="#8a5a10"/><ellipse cx="901" cy="576.3" rx="1.8" ry="1.6" fill="#b5852e"/><ellipse cx="723.4" cy="576.2" rx="1.6" ry="2.1" fill="#a87420"/><ellipse cx="880.7" cy="591.1" rx="1.8" ry="2.2" fill="#b5852e"/><ellipse cx="848.5" cy="612.2" rx="1.4" ry="1.8" fill="#b5852e"/><ellipse cx="738.2" cy="583.4" rx="1.3" ry="2.3" fill="#9a6414"/><ellipse cx="874.2" cy="595.3" rx="1.2" ry="2.2" fill="#9a6414"/><ellipse cx="929.4" cy="563" rx="1.6" ry="2.1" fill="#8a5a10"/><ellipse cx="727.4" cy="580" rx="1.2" ry="1.8" fill="#8a5a10"/><ellipse cx="765.3" cy="588.8" rx="1.7" ry="2.3" fill="#a87420"/><ellipse cx="866.5" cy="598.9" rx="1.5" ry="1.9" fill="#9a6414"/><ellipse cx="909.9" cy="569.3" rx="1.3" ry="2.1" fill="#8a5a10"/><ellipse cx="743.6" cy="585.8" rx="1.7" ry="2.2" fill="#8a5a10"/><rect x="722.3" y="512.2" width="210.4" height="140.2" fill="#000" filter="url(#grainb)" opacity="0.3" clip-path="url(#cf3t)"/><path d="M720 605.83L775 611.94L836.11 627.22L897.22 621.11L933.89 605.83L933.89 639.44L866.67 642.5L775 639.44L720 633.33Z" fill="url(#fat2)" opacity="0.85"/><path d="M732.22 627.22C743.43 626.71 780.6 635.88 805.56 639.44C830.51 643.01 881.94 646.68 881.94 648.61C881.94 650.55 829.49 652.07 805.56 651.06C781.62 650.04 750.56 646.47 738.33 642.5C726.11 638.53 721.02 627.73 732.22 627.22Z" fill="#ece4d0" filter="url(#b2)" opacity="0.8"/><ellipse cx="802.5" cy="607.36" rx="12.83" ry="7.33" fill="#efe6d8" filter="url(#b1)"/><line x1="910.97" y1="651.06" x2="930.83" y2="651.06" stroke-width="1.4" stroke="#111"/></g>
<g clip-path="url(#cf4)"><rect x="937.6" y="512.2" width="210.4" height="140.2" fill="#f7f6f2"/><path d="M933.06 547.78L966.67 563.06L997.22 570.69L1030.83 553.89L1067.5 547.78L1113.33 553.89L1151.53 576.81L1151.53 663.89L933.06 663.89Z" fill="#ece4d8"/><path d="M975.83 538.61C980.93 534.18 1003.84 520.07 1021.67 515.69C1039.49 511.31 1061.39 509.79 1082.78 512.33C1104.17 514.88 1138.8 524.56 1150 530.97C1161.2 537.39 1156.11 550.32 1150 550.83C1143.89 551.34 1127.08 538.31 1113.33 534.03C1099.58 529.75 1082.78 525.73 1067.5 525.17C1052.22 524.61 1034.4 527.81 1021.67 530.67C1008.94 533.52 998.75 540.95 991.11 542.28C983.47 543.6 970.74 543.04 975.83 538.61Z" fill="#a8a59c" filter="url(#b1)" opacity="0.8"/><ellipse cx="996.7" cy="527.5" rx="1.2" ry="0.8" fill="#44444c"/><ellipse cx="1077.1" cy="521.4" rx="1.1" ry="1.1" fill="#44444c"/><ellipse cx="1124.4" cy="524.3" rx="1.2" ry="0.9" fill="#3c4870"/><ellipse cx="994.7" cy="531.7" rx="1.2" ry="0.8" fill="#6a5420"/><ellipse cx="996.3" cy="536.8" rx="1.2" ry="1" fill="#6a5420"/><ellipse cx="1022.2" cy="521.8" rx="1.2" ry="0.9" fill="#44444c"/><ellipse cx="1043" cy="514.8" rx="1" ry="1" fill="#5a4a28"/><ellipse cx="1141.9" cy="532.5" rx="0.8" ry="1" fill="#5a4a28"/><ellipse cx="1044.5" cy="525.1" rx="1.2" ry="1" fill="#2e2e34"/><ellipse cx="1054.6" cy="518.4" rx="1.2" ry="0.8" fill="#5a4a28"/><ellipse cx="1061.9" cy="519.1" rx="1.1" ry="1.1" fill="#5a4a28"/><ellipse cx="1041.5" cy="519.6" rx="1.2" ry="1.1" fill="#2e2e34"/><ellipse cx="1100.4" cy="516.5" rx="1" ry="1.1" fill="#44444c"/><ellipse cx="1132.2" cy="536.4" rx="1" ry="1" fill="#6a5420"/><ellipse cx="1036.4" cy="519.7" rx="0.9" ry="1.1" fill="#6a5420"/><ellipse cx="1129.6" cy="531.8" rx="1" ry="1" fill="#44444c"/><ellipse cx="1041.6" cy="522" rx="0.9" ry="0.8" fill="#5a4a28"/><ellipse cx="1062.2" cy="516.7" rx="1.2" ry="0.8" fill="#44444c"/><ellipse cx="1093.9" cy="519.1" rx="0.9" ry="0.9" fill="#2e2e34"/><ellipse cx="1094.5" cy="519.3" rx="1.2" ry="0.9" fill="#6a5420"/><ellipse cx="1079.3" cy="521.2" rx="0.9" ry="1" fill="#3c4870"/><ellipse cx="1096.4" cy="525.9" rx="1" ry="1.1" fill="#2e2e34"/><ellipse cx="1080.2" cy="516.3" rx="1" ry="0.8" fill="#2e2e34"/><ellipse cx="1136.9" cy="533.8" rx="1.1" ry="1" fill="#5a4a28"/><ellipse cx="1096.6" cy="523.9" rx="0.8" ry="1.1" fill="#3c4870"/><ellipse cx="986.1" cy="539" rx="1.1" ry="0.7" fill="#2e2e34"/><ellipse cx="1079.1" cy="511.9" rx="1.1" ry="1" fill="#3c4870"/><ellipse cx="1058.8" cy="524.2" rx="1" ry="0.7" fill="#5a4a28"/><ellipse cx="1072.3" cy="515.4" rx="0.9" ry="0.8" fill="#2e2e34"/><ellipse cx="1124.4" cy="535.2" rx="1" ry="0.9" fill="#2e2e34"/><ellipse cx="1085.8" cy="515.6" rx="1" ry="1" fill="#6a5420"/><ellipse cx="1071.9" cy="516.3" rx="1.1" ry="0.9" fill="#3c4870"/><ellipse cx="1094.1" cy="521.5" rx="1.2" ry="0.8" fill="#2e2e34"/><ellipse cx="1070.6" cy="520.4" rx="1.2" ry="0.8" fill="#44444c"/><ellipse cx="1034.7" cy="518" rx="1.2" ry="0.7" fill="#44444c"/><ellipse cx="1091.7" cy="513.8" rx="1.1" ry="0.9" fill="#3c4870"/><ellipse cx="1090.2" cy="523.7" rx="1.2" ry="1.1" fill="#5a4a28"/><ellipse cx="996.4" cy="535.3" rx="1" ry="0.9" fill="#5a4a28"/><ellipse cx="1015.4" cy="529.4" rx="1.1" ry="1.1" fill="#3c4870"/><ellipse cx="994.3" cy="537.3" rx="1.2" ry="0.8" fill="#2e2e34"/><ellipse cx="1138.3" cy="535.2" rx="1" ry="1.1" fill="#3c4870"/><ellipse cx="1105.1" cy="523.6" rx="1" ry="0.8" fill="#2e2e34"/><ellipse cx="1121.1" cy="533.5" rx="1.2" ry="1" fill="#44444c"/><ellipse cx="1120" cy="528.6" rx="1.1" ry="1" fill="#6a5420"/><ellipse cx="995.2" cy="537.5" rx="0.9" ry="0.9" fill="#5a4a28"/><ellipse cx="1137.2" cy="536" rx="1" ry="1" fill="#2e2e34"/><ellipse cx="1010.5" cy="530.9" rx="1.1" ry="0.9" fill="#3c4870"/><ellipse cx="1033.2" cy="515.5" rx="1.2" ry="0.9" fill="#44444c"/><ellipse cx="1104.8" cy="519.2" rx="0.8" ry="1" fill="#3c4870"/><ellipse cx="1074" cy="519.8" rx="0.9" ry="0.9" fill="#44444c"/><ellipse cx="1089.6" cy="524.1" rx="1.1" ry="1.1" fill="#5a4a28"/><ellipse cx="988.8" cy="533.2" rx="1.2" ry="0.8" fill="#6a5420"/><ellipse cx="1109.3" cy="527.9" rx="1.2" ry="1.1" fill="#6a5420"/><ellipse cx="1001.4" cy="531.7" rx="1.2" ry="0.7" fill="#3c4870"/><ellipse cx="1107.2" cy="524.5" rx="0.9" ry="1" fill="#3c4870"/><ellipse cx="1015" cy="527.5" rx="1" ry="0.8" fill="#2e2e34"/><ellipse cx="1087.6" cy="523.6" rx="1" ry="1" fill="#44444c"/><ellipse cx="1043.7" cy="522.9" rx="1.2" ry="0.9" fill="#2e2e34"/><ellipse cx="1143.7" cy="532" rx="0.9" ry="1.1" fill="#6a5420"/><ellipse cx="1143.2" cy="532.2" rx="1" ry="0.8" fill="#44444c"/><ellipse cx="1037.6" cy="526.3" rx="0.9" ry="0.9" fill="#44444c"/><ellipse cx="1053.8" cy="521.6" rx="1.1" ry="0.9" fill="#44444c"/><ellipse cx="1134.4" cy="531.5" rx="1" ry="0.9" fill="#3c4870"/><ellipse cx="1123" cy="530.4" rx="0.8" ry="1" fill="#3c4870"/><ellipse cx="1012.3" cy="523.2" rx="0.8" ry="1" fill="#6a5420"/><ellipse cx="1046.9" cy="522.8" rx="1" ry="1" fill="#5a4a28"/><ellipse cx="989.2" cy="536.6" rx="0.8" ry="1" fill="#44444c"/><ellipse cx="992.1" cy="535.1" rx="1" ry="0.9" fill="#6a5420"/><ellipse cx="1059" cy="515.9" rx="1.1" ry="0.8" fill="#5a4a28"/><ellipse cx="1013.8" cy="523.5" rx="1.2" ry="0.9" fill="#6a5420"/><ellipse cx="993.9" cy="533.6" rx="1" ry="0.9" fill="#2e2e34"/><ellipse cx="1143.4" cy="535.8" rx="1" ry="1" fill="#3c4870"/><ellipse cx="1110.2" cy="524.7" rx="0.9" ry="0.9" fill="#44444c"/><ellipse cx="1122.9" cy="523.7" rx="0.9" ry="0.9" fill="#44444c"/><ellipse cx="1059.6" cy="517.1" rx="0.9" ry="0.9" fill="#2e2e34"/><ellipse cx="1014.6" cy="527.7" rx="1" ry="0.9" fill="#5a4a28"/><ellipse cx="1137.4" cy="535" rx="1.1" ry="1" fill="#6a5420"/><ellipse cx="1032.4" cy="520.4" rx="1.2" ry="0.8" fill="#3c4870"/><ellipse cx="1038.5" cy="522.6" rx="1.1" ry="0.9" fill="#6a5420"/><ellipse cx="1059.8" cy="522.2" rx="0.8" ry="0.9" fill="#3c4870"/><ellipse cx="1118.1" cy="528.8" rx="1.2" ry="0.8" fill="#5a4a28"/><ellipse cx="1111.6" cy="530" rx="0.8" ry="0.9" fill="#44444c"/><ellipse cx="1091.4" cy="521.5" rx="0.9" ry="0.9" fill="#6a5420"/><ellipse cx="1014.8" cy="527" rx="1" ry="1.1" fill="#6a5420"/><ellipse cx="1035.9" cy="523.6" rx="1.2" ry="0.8" fill="#3c4870"/><ellipse cx="998.8" cy="534.1" rx="1.1" ry="0.9" fill="#6a5420"/><ellipse cx="1131.8" cy="536.5" rx="1" ry="1" fill="#2e2e34"/><ellipse cx="1077.4" cy="512.4" rx="1" ry="1" fill="#5a4a28"/><ellipse cx="993.8" cy="528.8" rx="0.9" ry="0.9" fill="#2e2e34"/><ellipse cx="1081.3" cy="515.9" rx="1.1" ry="0.8" fill="#44444c"/><ellipse cx="938" cy="610.6" rx="1.4" ry="1.6" fill="#a87420"/><ellipse cx="1042.5" cy="603.8" rx="1.3" ry="1.6" fill="#8a5a10"/><ellipse cx="1038" cy="570.7" rx="1.4" ry="1.7" fill="#9a6414"/><ellipse cx="1051.8" cy="604.7" rx="1.5" ry="1.9" fill="#a87420"/><ellipse cx="1101.1" cy="600.4" rx="1.6" ry="2.1" fill="#b5852e"/><ellipse cx="938.8" cy="607.2" rx="1.8" ry="2.3" fill="#a87420"/><ellipse cx="968.2" cy="589.6" rx="1.5" ry="1.9" fill="#a87420"/><ellipse cx="975.3" cy="587.3" rx="1.3" ry="1.8" fill="#8a5a10"/><ellipse cx="1066" cy="566.5" rx="1.5" ry="1.9" fill="#a87420"/><ellipse cx="1055.1" cy="575.5" rx="1.3" ry="1.6" fill="#9a6414"/><ellipse cx="968.6" cy="603.1" rx="1.7" ry="1.9" fill="#a87420"/><ellipse cx="1071.2" cy="573.3" rx="1.7" ry="2.3" fill="#9a6414"/><ellipse cx="1094.8" cy="563.8" rx="1.7" ry="2.3" fill="#a87420"/><ellipse cx="1037.4" cy="585.5" rx="1.5" ry="2.2" fill="#8a5a10"/><ellipse cx="1074.4" cy="600.7" rx="1.8" ry="2.1" fill="#9a6414"/><ellipse cx="1111.8" cy="607.5" rx="1.8" ry="1.6" fill="#9a6414"/><ellipse cx="1055.3" cy="577.1" rx="1.5" ry="1.6" fill="#b5852e"/><ellipse cx="936.1" cy="582.1" rx="1.7" ry="1.8" fill="#9a6414"/><ellipse cx="1105.1" cy="584.7" rx="1.3" ry="2" fill="#8a5a10"/><ellipse cx="1114.8" cy="598.2" rx="1.6" ry="2" fill="#8a5a10"/><ellipse cx="1001.9" cy="587.8" rx="1.3" ry="1.6" fill="#a87420"/><ellipse cx="941.8" cy="603.3" rx="1.8" ry="2.3" fill="#9a6414"/><ellipse cx="1118.7" cy="584.3" rx="1.4" ry="1.7" fill="#9a6414"/><ellipse cx="934.6" cy="603.5" rx="1.3" ry="2.3" fill="#b5852e"/><ellipse cx="1065.7" cy="598.5" rx="1.8" ry="2" fill="#b5852e"/><ellipse cx="1111.7" cy="586.9" rx="1.7" ry="2.3" fill="#8a5a10"/><ellipse cx="1094.7" cy="580.7" rx="1.5" ry="1.5" fill="#b5852e"/><ellipse cx="1079.4" cy="572.4" rx="1.9" ry="1.9" fill="#9a6414"/><ellipse cx="1047.5" cy="597.7" rx="1.3" ry="2.2" fill="#b5852e"/><ellipse cx="940.6" cy="606.5" rx="1.7" ry="1.8" fill="#8a5a10"/><ellipse cx="1130" cy="608.9" rx="1.5" ry="1.7" fill="#b5852e"/><ellipse cx="1149.6" cy="601.3" rx="1.7" ry="2.1" fill="#a87420"/><ellipse cx="1053" cy="594.3" rx="1.7" ry="2" fill="#a87420"/><ellipse cx="1114.4" cy="578" rx="1.2" ry="1.7" fill="#b5852e"/><ellipse cx="943.6" cy="602.4" rx="1.4" ry="2.3" fill="#b5852e"/><ellipse cx="1129.1" cy="611.6" rx="1.7" ry="1.9" fill="#9a6414"/><ellipse cx="1115" cy="577.9" rx="1.4" ry="1.6" fill="#b5852e"/><ellipse cx="1003.7" cy="591.6" rx="1.3" ry="2.1" fill="#b5852e"/><ellipse cx="1028" cy="593.3" rx="1.3" ry="2.1" fill="#8a5a10"/><ellipse cx="940.1" cy="598.2" rx="1.9" ry="2.2" fill="#b5852e"/><ellipse cx="1116.8" cy="572.4" rx="1.7" ry="2.3" fill="#8a5a10"/><ellipse cx="981" cy="619.6" rx="1.5" ry="1.8" fill="#a87420"/><ellipse cx="987.8" cy="618.4" rx="1.3" ry="2.1" fill="#8a5a10"/><ellipse cx="1064.1" cy="596.7" rx="1.8" ry="2" fill="#a87420"/><ellipse cx="1108.8" cy="566.9" rx="1.5" ry="2.2" fill="#8a5a10"/><ellipse cx="1095.4" cy="595.2" rx="1.6" ry="2.1" fill="#a87420"/><ellipse cx="973" cy="613.2" rx="1.2" ry="2.3" fill="#a87420"/><ellipse cx="942.4" cy="615.7" rx="1.5" ry="2.2" fill="#a87420"/><ellipse cx="1119" cy="594.9" rx="1.8" ry="1.6" fill="#a87420"/><ellipse cx="976.1" cy="600.7" rx="1.7" ry="1.6" fill="#a87420"/><ellipse cx="1117.8" cy="600.8" rx="1.4" ry="1.6" fill="#9a6414"/><ellipse cx="955.9" cy="612.6" rx="1.7" ry="2" fill="#8a5a10"/><ellipse cx="1007.9" cy="595.3" rx="1.5" ry="1.8" fill="#9a6414"/><ellipse cx="1123" cy="588.4" rx="1.7" ry="1.9" fill="#8a5a10"/><ellipse cx="1047.9" cy="606.3" rx="1.7" ry="1.6" fill="#8a5a10"/><ellipse cx="1094" cy="601.6" rx="1.5" ry="1.7" fill="#b5852e"/><ellipse cx="993.5" cy="602.4" rx="1.6" ry="1.6" fill="#8a5a10"/><ellipse cx="1033.8" cy="600.4" rx="1.5" ry="1.6" fill="#b5852e"/><ellipse cx="944.1" cy="600.6" rx="1.6" ry="2.2" fill="#a87420"/><ellipse cx="954.3" cy="591.5" rx="1.3" ry="2.1" fill="#8a5a10"/><ellipse cx="1092.8" cy="602.9" rx="1.4" ry="2.1" fill="#9a6414"/><ellipse cx="1053.6" cy="593.8" rx="1.3" ry="1.8" fill="#b5852e"/><ellipse cx="1055.1" cy="602.2" rx="1.6" ry="2.3" fill="#a87420"/><ellipse cx="1045.4" cy="589.9" rx="1.5" ry="2.2" fill="#8a5a10"/><ellipse cx="977.9" cy="588.6" rx="1.9" ry="1.8" fill="#b5852e"/><ellipse cx="957" cy="591.7" rx="1.7" ry="2.2" fill="#8a5a10"/><ellipse cx="1128.4" cy="592.5" rx="1.7" ry="1.8" fill="#9a6414"/><ellipse cx="1004.5" cy="614.8" rx="1.4" ry="2.3" fill="#b5852e"/><ellipse cx="1133.2" cy="601.1" rx="1.8" ry="2.1" fill="#8a5a10"/><ellipse cx="1119.1" cy="611.7" rx="1.5" ry="1.9" fill="#b5852e"/><ellipse cx="1076.4" cy="564.7" rx="1.4" ry="1.8" fill="#a87420"/><ellipse cx="1061.1" cy="590.9" rx="1.5" ry="2.2" fill="#8a5a10"/><ellipse cx="1029.3" cy="587.3" rx="1.6" ry="1.8" fill="#9a6414"/><ellipse cx="1036" cy="608.9" rx="1.8" ry="2.3" fill="#9a6414"/><ellipse cx="1031.7" cy="600.4" rx="1.2" ry="2.1" fill="#8a5a10"/><ellipse cx="1051.9" cy="594.5" rx="1.7" ry="1.9" fill="#9a6414"/><ellipse cx="957.8" cy="604.8" rx="1.4" ry="1.6" fill="#a87420"/><ellipse cx="1061.6" cy="601.6" rx="1.2" ry="2.1" fill="#b5852e"/><ellipse cx="1114.7" cy="592.3" rx="1.7" ry="2.2" fill="#a87420"/><ellipse cx="982" cy="615.8" rx="1.6" ry="2.2" fill="#9a6414"/><ellipse cx="1125.3" cy="612.4" rx="1.5" ry="2" fill="#8a5a10"/><ellipse cx="1137.3" cy="620.2" rx="1.8" ry="1.6" fill="#9a6414"/><ellipse cx="943.3" cy="590.7" rx="1.3" ry="1.8" fill="#9a6414"/><ellipse cx="945.1" cy="597.7" rx="1.4" ry="2" fill="#9a6414"/><ellipse cx="1107.1" cy="601" rx="1.7" ry="1.7" fill="#a87420"/><ellipse cx="979.4" cy="605.3" rx="1.6" ry="1.8" fill="#a87420"/><ellipse cx="1062.8" cy="604.5" rx="1.8" ry="1.6" fill="#8a5a10"/><ellipse cx="956.2" cy="584.9" rx="1.9" ry="2.1" fill="#8a5a10"/><ellipse cx="979.2" cy="612.2" rx="1.3" ry="1.6" fill="#8a5a10"/><ellipse cx="1126.7" cy="578.3" rx="1.5" ry="1.6" fill="#9a6414"/><ellipse cx="962" cy="586" rx="1.4" ry="1.9" fill="#a87420"/><ellipse cx="1019.2" cy="581.3" rx="1.6" ry="1.9" fill="#9a6414"/><ellipse cx="980.5" cy="587.2" rx="1.8" ry="2.1" fill="#a87420"/><ellipse cx="1145.5" cy="607.7" rx="1.7" ry="2.2" fill="#a87420"/><ellipse cx="988.9" cy="618.5" rx="1.8" ry="2.2" fill="#8a5a10"/><ellipse cx="1100.2" cy="593.5" rx="1.7" ry="2.1" fill="#b5852e"/><ellipse cx="1147.4" cy="611.8" rx="1.7" ry="1.9" fill="#8a5a10"/><ellipse cx="1110" cy="589" rx="1.4" ry="1.8" fill="#8a5a10"/><ellipse cx="1034.9" cy="615.4" rx="1.2" ry="2.2" fill="#8a5a10"/><ellipse cx="977.8" cy="597.2" rx="1.8" ry="2.2" fill="#a87420"/><ellipse cx="1024.1" cy="593.6" rx="1.5" ry="1.9" fill="#a87420"/><ellipse cx="1032.7" cy="606.2" rx="1.4" ry="2" fill="#8a5a10"/><ellipse cx="954.9" cy="594.6" rx="1.7" ry="2.2" fill="#b5852e"/><ellipse cx="947.6" cy="614.8" rx="1.9" ry="2.2" fill="#a87420"/><ellipse cx="969.4" cy="622.4" rx="1.3" ry="2.2" fill="#b5852e"/><ellipse cx="965.1" cy="592.5" rx="1.7" ry="2.1" fill="#8a5a10"/><ellipse cx="1145.5" cy="620.3" rx="1.6" ry="1.6" fill="#9a6414"/><ellipse cx="1026" cy="582.7" rx="1.5" ry="2.3" fill="#9a6414"/><ellipse cx="1076.2" cy="579.6" rx="1.5" ry="1.9" fill="#a87420"/><ellipse cx="1074.9" cy="584" rx="1.7" ry="1.5" fill="#a87420"/><ellipse cx="1082.5" cy="596.9" rx="1.4" ry="1.7" fill="#9a6414"/><ellipse cx="952.6" cy="611.1" rx="1.5" ry="1.8" fill="#b5852e"/><ellipse cx="1108.1" cy="604.9" rx="1.4" ry="2.2" fill="#9a6414"/><ellipse cx="1057.5" cy="574" rx="1.4" ry="1.7" fill="#b5852e"/><ellipse cx="1018.1" cy="593" rx="1.3" ry="2.1" fill="#b5852e"/><ellipse cx="991.1" cy="602" rx="1.3" ry="1.8" fill="#a87420"/><ellipse cx="995.3" cy="612.5" rx="1.7" ry="1.8" fill="#9a6414"/><ellipse cx="1107.6" cy="584" rx="1.6" ry="2" fill="#a87420"/><ellipse cx="1118.5" cy="590.5" rx="1.7" ry="1.9" fill="#b5852e"/><ellipse cx="1028.8" cy="606.5" rx="1.7" ry="2.3" fill="#8a5a10"/><ellipse cx="1145.1" cy="615.3" rx="1.3" ry="1.8" fill="#8a5a10"/><ellipse cx="1078.3" cy="599.1" rx="1.6" ry="2" fill="#9a6414"/><ellipse cx="1094.3" cy="576.9" rx="1.2" ry="1.6" fill="#9a6414"/><ellipse cx="949.7" cy="611.9" rx="1.3" ry="1.6" fill="#9a6414"/><ellipse cx="944.7" cy="594.5" rx="1.4" ry="2.2" fill="#a87420"/><ellipse cx="981.9" cy="600.9" rx="1.5" ry="2" fill="#b5852e"/><ellipse cx="1062.3" cy="570.7" rx="1.2" ry="2.1" fill="#b5852e"/><ellipse cx="1135.7" cy="619.6" rx="1.3" ry="2.2" fill="#a87420"/><ellipse cx="1146.6" cy="597.8" rx="1.5" ry="2.3" fill="#a87420"/><ellipse cx="1007.6" cy="609.9" rx="1.4" ry="1.6" fill="#8a5a10"/><ellipse cx="1075.1" cy="568.6" rx="1.8" ry="1.7" fill="#b5852e"/><ellipse cx="1026.7" cy="597.6" rx="1.3" ry="1.5" fill="#b5852e"/><ellipse cx="1054" cy="599.3" rx="1.9" ry="2.1" fill="#8a5a10"/><ellipse cx="1096.4" cy="594.7" rx="1.5" ry="2" fill="#a87420"/><ellipse cx="1038.2" cy="601.9" rx="1.2" ry="1.7" fill="#a87420"/><ellipse cx="1145.7" cy="586.8" rx="1.8" ry="2.2" fill="#b5852e"/><ellipse cx="1095.8" cy="564" rx="1.5" ry="1.7" fill="#8a5a10"/><ellipse cx="1022.2" cy="593.1" rx="1.7" ry="2.2" fill="#9a6414"/><ellipse cx="1076.9" cy="587.6" rx="1.8" ry="1.9" fill="#b5852e"/><ellipse cx="1146.3" cy="600.4" rx="1.5" ry="2" fill="#8a5a10"/><ellipse cx="967.5" cy="604.8" rx="1.6" ry="2.3" fill="#8a5a10"/><ellipse cx="1047.3" cy="578.3" rx="1.6" ry="2.1" fill="#9a6414"/><ellipse cx="1110.4" cy="586" rx="1.4" ry="2.3" fill="#9a6414"/><ellipse cx="974.3" cy="591.6" rx="1.6" ry="1.8" fill="#b5852e"/><ellipse cx="1007.5" cy="614.1" rx="1.4" ry="2.1" fill="#9a6414"/><ellipse cx="1140.6" cy="622.3" rx="1.4" ry="2.1" fill="#a87420"/><ellipse cx="1006.9" cy="611.4" rx="1.2" ry="2.3" fill="#b5852e"/><ellipse cx="1037.9" cy="576" rx="1.4" ry="2" fill="#8a5a10"/><ellipse cx="1079.5" cy="584.7" rx="1.5" ry="1.9" fill="#8a5a10"/><ellipse cx="1132.1" cy="618.2" rx="1.6" ry="2.3" fill="#a87420"/><ellipse cx="994.6" cy="594.9" rx="1.3" ry="1.9" fill="#9a6414"/><ellipse cx="1037.4" cy="571.6" rx="1.7" ry="2.3" fill="#8a5a10"/><ellipse cx="991" cy="591.5" rx="1.7" ry="2" fill="#9a6414"/><ellipse cx="1011.2" cy="582.6" rx="1.3" ry="2.2" fill="#b5852e"/><ellipse cx="1015" cy="588.3" rx="1.2" ry="2.3" fill="#9a6414"/><ellipse cx="1041.9" cy="606.2" rx="1.4" ry="1.7" fill="#8a5a10"/><ellipse cx="1140.7" cy="622.9" rx="1.6" ry="1.9" fill="#9a6414"/><ellipse cx="1139.8" cy="605.6" rx="1.8" ry="2" fill="#8a5a10"/><ellipse cx="1128.3" cy="613.5" rx="1.6" ry="1.6" fill="#8a5a10"/><ellipse cx="945.2" cy="611" rx="1.4" ry="1.6" fill="#8a5a10"/><ellipse cx="997.2" cy="601.9" rx="1.3" ry="2.2" fill="#b5852e"/><ellipse cx="1023" cy="593.3" rx="1.5" ry="1.8" fill="#8a5a10"/><ellipse cx="986.3" cy="616.1" rx="1.8" ry="1.6" fill="#8a5a10"/><ellipse cx="1114.1" cy="580.5" rx="1.4" ry="2.2" fill="#8a5a10"/><ellipse cx="1071.8" cy="598.6" rx="1.2" ry="1.6" fill="#8a5a10"/><ellipse cx="1007.2" cy="597.2" rx="1.5" ry="1.8" fill="#b5852e"/><ellipse cx="945.9" cy="597.5" rx="1.9" ry="2.4" fill="#9a6414"/><ellipse cx="999.2" cy="585.3" rx="1.2" ry="2" fill="#8a5a10"/><ellipse cx="1141.7" cy="616.5" rx="1.3" ry="1.9" fill="#a87420"/><ellipse cx="1053.2" cy="606.5" rx="1.8" ry="1.9" fill="#8a5a10"/><ellipse cx="997.4" cy="618" rx="1.3" ry="2.4" fill="#a87420"/><ellipse cx="1021.9" cy="595.3" rx="1.4" ry="1.7" fill="#9a6414"/><ellipse cx="935.6" cy="619.4" rx="1.7" ry="2" fill="#8a5a10"/><ellipse cx="1094.4" cy="572.9" rx="1.2" ry="2.3" fill="#9a6414"/><ellipse cx="983.8" cy="586.9" rx="1.8" ry="2.1" fill="#b5852e"/><ellipse cx="1033.8" cy="589.5" rx="1.3" ry="2" fill="#a87420"/><ellipse cx="1016" cy="593.5" rx="1.7" ry="1.6" fill="#a87420"/><ellipse cx="971.5" cy="586" rx="1.6" ry="2.2" fill="#8a5a10"/><ellipse cx="1085.9" cy="572.5" rx="1.4" ry="1.8" fill="#a87420"/><ellipse cx="961.1" cy="618.9" rx="1.8" ry="2.3" fill="#9a6414"/><ellipse cx="959.6" cy="606.3" rx="1.7" ry="2.1" fill="#b5852e"/><ellipse cx="1151.3" cy="598.5" rx="1.9" ry="2.3" fill="#9a6414"/><ellipse cx="961.3" cy="591" rx="1.8" ry="1.7" fill="#b5852e"/><ellipse cx="1136" cy="584.7" rx="1.6" ry="1.5" fill="#9a6414"/><ellipse cx="1109.4" cy="583.2" rx="1.6" ry="2.2" fill="#a87420"/><ellipse cx="989.5" cy="622.1" rx="1.6" ry="1.5" fill="#8a5a10"/><ellipse cx="1128.7" cy="606.7" rx="1.6" ry="2.1" fill="#a87420"/><ellipse cx="1075.8" cy="594" rx="1.5" ry="1.6" fill="#8a5a10"/><ellipse cx="1089" cy="588.9" rx="1.3" ry="1.9" fill="#9a6414"/><ellipse cx="1069.5" cy="577.1" rx="1.4" ry="1.9" fill="#b5852e"/><ellipse cx="941.3" cy="587.9" rx="1.6" ry="2.2" fill="#9a6414"/><ellipse cx="1062.8" cy="592" rx="1.8" ry="1.9" fill="#9a6414"/><ellipse cx="1014.9" cy="615.3" rx="1.7" ry="2.4" fill="#b5852e"/><ellipse cx="1064.1" cy="590.6" rx="1.5" ry="2.1" fill="#b5852e"/><ellipse cx="1079.5" cy="577.2" rx="1.8" ry="1.7" fill="#b5852e"/><ellipse cx="950.5" cy="597.8" rx="1.5" ry="2.2" fill="#a87420"/><ellipse cx="1114.2" cy="584.1" rx="1.7" ry="1.8" fill="#b5852e"/><ellipse cx="1148.7" cy="598.9" rx="1.8" ry="1.7" fill="#a87420"/><ellipse cx="1053.4" cy="603.5" rx="1.6" ry="1.9" fill="#b5852e"/><ellipse cx="1064.4" cy="589.7" rx="1.3" ry="2.2" fill="#a87420"/><ellipse cx="1125.8" cy="604.1" rx="1.6" ry="1.6" fill="#a87420"/><ellipse cx="991.9" cy="609" rx="1.6" ry="2.1" fill="#b5852e"/><ellipse cx="949.9" cy="613.6" rx="1.2" ry="1.6" fill="#9a6414"/><ellipse cx="1032.2" cy="605.5" rx="1.8" ry="2.1" fill="#8a5a10"/><ellipse cx="991.5" cy="609.5" rx="1.6" ry="2.1" fill="#b5852e"/><ellipse cx="1122.9" cy="573.7" rx="1.8" ry="2" fill="#b5852e"/><ellipse cx="1096.5" cy="596.8" rx="1.4" ry="1.9" fill="#a87420"/><ellipse cx="1116.8" cy="572.9" rx="1.9" ry="2.3" fill="#b5852e"/><ellipse cx="1022.1" cy="583.9" rx="1.9" ry="2.3" fill="#b5852e"/><ellipse cx="1124.6" cy="585.6" rx="1.6" ry="2.1" fill="#a87420"/><ellipse cx="1137.2" cy="587.2" rx="1.8" ry="1.8" fill="#a87420"/><ellipse cx="1063.8" cy="568.6" rx="1.7" ry="1.8" fill="#b5852e"/><ellipse cx="1019" cy="591" rx="1.3" ry="2.3" fill="#a87420"/><ellipse cx="948.2" cy="587.6" rx="1.9" ry="2.1" fill="#b5852e"/><ellipse cx="1128.2" cy="604.3" rx="1.2" ry="1.9" fill="#8a5a10"/><ellipse cx="976.4" cy="594.5" rx="1.3" ry="2.1" fill="#a87420"/><ellipse cx="940.4" cy="582.9" rx="1.3" ry="2.3" fill="#b5852e"/><ellipse cx="1006.1" cy="619.9" rx="1.5" ry="2.2" fill="#b5852e"/><ellipse cx="936.6" cy="589.3" rx="1.3" ry="2.3" fill="#8a5a10"/><ellipse cx="1121.6" cy="583.3" rx="1.8" ry="1.6" fill="#8a5a10"/><ellipse cx="1104.4" cy="580.4" rx="1.4" ry="2.2" fill="#8a5a10"/><ellipse cx="1012.3" cy="596.2" rx="1.5" ry="2.3" fill="#9a6414"/><ellipse cx="1018.1" cy="587" rx="1.4" ry="2" fill="#b5852e"/><ellipse cx="941.2" cy="584.2" rx="1.5" ry="2" fill="#8a5a10"/><ellipse cx="1013.6" cy="617.3" rx="1.3" ry="2.2" fill="#8a5a10"/><ellipse cx="1018.5" cy="599.6" rx="1.9" ry="2.2" fill="#9a6414"/><ellipse cx="1055.2" cy="602.1" rx="1.3" ry="1.5" fill="#b5852e"/><ellipse cx="1110.2" cy="571.8" rx="1.8" ry="2.1" fill="#b5852e"/><ellipse cx="980.8" cy="622" rx="1.5" ry="2" fill="#8a5a10"/><ellipse cx="1148.1" cy="590.5" rx="1.2" ry="1.7" fill="#9a6414"/><ellipse cx="1052.5" cy="610.9" rx="1.4" ry="2.1" fill="#9a6414"/><ellipse cx="1067.4" cy="622.9" rx="1.6" ry="2.2" fill="#a87420"/><ellipse cx="1069.3" cy="625.3" rx="1.8" ry="1.9" fill="#8a5a10"/><ellipse cx="1053.4" cy="610.9" rx="1.7" ry="1.7" fill="#9a6414"/><ellipse cx="1063.2" cy="612.5" rx="1.4" ry="1.7" fill="#9a6414"/><ellipse cx="1062.1" cy="627.8" rx="1.7" ry="1.8" fill="#8a5a10"/><ellipse cx="1069.7" cy="624.3" rx="1.6" ry="2.2" fill="#9a6414"/><ellipse cx="1061.4" cy="625.8" rx="1.5" ry="1.7" fill="#9a6414"/><ellipse cx="1056.3" cy="624" rx="1.8" ry="1.8" fill="#a87420"/><ellipse cx="1067.5" cy="617.3" rx="1.8" ry="1.8" fill="#a87420"/><ellipse cx="1060.6" cy="617.9" rx="1.8" ry="1.9" fill="#8a5a10"/><ellipse cx="1059.6" cy="612.4" rx="1.5" ry="1.7" fill="#a87420"/><ellipse cx="1068.8" cy="625.1" rx="1.6" ry="1.8" fill="#a87420"/><ellipse cx="1070.2" cy="627.9" rx="1.3" ry="1.7" fill="#b5852e"/><ellipse cx="1055.7" cy="618.8" rx="1.8" ry="1.6" fill="#9a6414"/><ellipse cx="1064.2" cy="626.1" rx="1.3" ry="1.8" fill="#a87420"/><ellipse cx="1126.1" cy="623.8" rx="1.7" ry="1.6" fill="#a87420"/><ellipse cx="1118" cy="622.6" rx="1.6" ry="1.8" fill="#a87420"/><ellipse cx="1114.9" cy="613.4" rx="1.8" ry="1.8" fill="#b5852e"/><ellipse cx="1122.3" cy="626.4" rx="1.4" ry="1.5" fill="#a87420"/><ellipse cx="1112.9" cy="611.3" rx="1.3" ry="1.8" fill="#9a6414"/><ellipse cx="1121.7" cy="628" rx="1.8" ry="1.6" fill="#8a5a10"/><ellipse cx="1117.1" cy="611.5" rx="1.8" ry="1.5" fill="#8a5a10"/><ellipse cx="1123" cy="615.4" rx="1.8" ry="2.2" fill="#8a5a10"/><ellipse cx="1118.9" cy="632.6" rx="1.5" ry="1.9" fill="#a87420"/><ellipse cx="1123.9" cy="616.1" rx="1.8" ry="2.2" fill="#a87420"/><ellipse cx="1114.2" cy="622.2" rx="1.2" ry="1.7" fill="#8a5a10"/><ellipse cx="1131.2" cy="620.9" rx="1.8" ry="1.9" fill="#9a6414"/><ellipse cx="1132.7" cy="627.1" rx="1.5" ry="2" fill="#b5852e"/><ellipse cx="1118.8" cy="626.7" rx="1.5" ry="2.4" fill="#b5852e"/><ellipse cx="1112.8" cy="619.5" rx="1.8" ry="2.1" fill="#9a6414"/><ellipse cx="1119" cy="618.8" rx="1.7" ry="2.2" fill="#b5852e"/><ellipse cx="1113.6" cy="620.2" rx="1.6" ry="2.3" fill="#a87420"/><ellipse cx="1120.3" cy="616.2" rx="1.5" ry="2.2" fill="#b5852e"/><ellipse cx="1119.5" cy="613.8" rx="1.3" ry="2.2" fill="#a87420"/><ellipse cx="1116.5" cy="619.4" rx="1.8" ry="2.1" fill="#b5852e"/><ellipse cx="1117.8" cy="613.7" rx="1.4" ry="2.3" fill="#a87420"/><ellipse cx="1124.6" cy="606.4" rx="1.3" ry="1.6" fill="#a87420"/><path d="M933.06 621.11L975.83 627.22L1021.67 618.06L1052.22 605.83L1061.39 627.22L1088.89 590.56L1113.33 605.83L1125.56 627.22L1151.53 621.11L1151.53 663.89L933.06 663.89Z" fill="#e2eaf4"/><rect x="937.6" y="512.2" width="210.4" height="140.2" fill="#000" filter="url(#grainb)" opacity="0.4" clip-path="url(#cf4t)"/><line x1="1125.56" y1="651.06" x2="1146.33" y2="651.06" stroke-width="1.4" stroke="#111"/></g>
<g clip-path="url(#cf5)"><rect x="1153" y="512.2" width="209.7" height="140.2" fill="#f7f6f2"/><path d="M1150 569.78L1205 568.56L1266.11 570.08L1311.94 573.44L1365.42 574.67L1365.42 663.89L1150 663.89Z" fill="#ebe3d8"/><path d="M1150 596.67L1205 593.61L1266.11 592.08L1311.94 596.67L1365.42 593.61L1365.42 663.89L1150 663.89Z" fill="#d6e0ee"/><ellipse cx="1242.4" cy="589.6" rx="1.5" ry="2.2" fill="#9a6414"/><ellipse cx="1151.1" cy="593.7" rx="1.4" ry="1.6" fill="#9a6414"/><ellipse cx="1331.2" cy="589.1" rx="1.2" ry="2.1" fill="#8a5a10"/><ellipse cx="1328.6" cy="582.2" rx="1.4" ry="1.8" fill="#8a5a10"/><ellipse cx="1191.4" cy="582.6" rx="1.3" ry="2.2" fill="#9a6414"/><ellipse cx="1240.3" cy="578.1" rx="1.3" ry="1.7" fill="#b5852e"/><ellipse cx="1179.6" cy="582.5" rx="1.5" ry="1.6" fill="#8a5a10"/><ellipse cx="1171.6" cy="580.1" rx="1.9" ry="2" fill="#8a5a10"/><ellipse cx="1179.7" cy="587.7" rx="1.7" ry="2" fill="#8a5a10"/><ellipse cx="1361.4" cy="582.5" rx="1.4" ry="1.9" fill="#a87420"/><ellipse cx="1337.8" cy="593.1" rx="1.8" ry="2.2" fill="#9a6414"/><ellipse cx="1157.6" cy="583.9" rx="1.5" ry="2.1" fill="#9a6414"/><ellipse cx="1173.5" cy="590.4" rx="1.6" ry="2.3" fill="#9a6414"/><ellipse cx="1206.4" cy="580.2" rx="1.7" ry="1.7" fill="#a87420"/><ellipse cx="1276.3" cy="584.6" rx="1.5" ry="2.1" fill="#9a6414"/><ellipse cx="1316.8" cy="591.4" rx="1.7" ry="2.4" fill="#b5852e"/><ellipse cx="1340.8" cy="586.8" rx="1.7" ry="1.5" fill="#8a5a10"/><ellipse cx="1177" cy="592" rx="1.7" ry="1.6" fill="#9a6414"/><ellipse cx="1203.5" cy="584.3" rx="1.6" ry="1.8" fill="#b5852e"/><ellipse cx="1241.2" cy="579.5" rx="1.7" ry="1.9" fill="#8a5a10"/><ellipse cx="1349.9" cy="586.4" rx="1.6" ry="1.8" fill="#8a5a10"/><ellipse cx="1286.6" cy="582.1" rx="1.7" ry="2.3" fill="#b5852e"/><ellipse cx="1346.7" cy="580.9" rx="1.4" ry="1.7" fill="#a87420"/><ellipse cx="1179.7" cy="583.2" rx="1.7" ry="2.4" fill="#b5852e"/><ellipse cx="1346.1" cy="588.5" rx="1.4" ry="2" fill="#b5852e"/><ellipse cx="1328" cy="582.9" rx="1.8" ry="2.1" fill="#a87420"/><ellipse cx="1274.7" cy="584" rx="1.8" ry="2.2" fill="#8a5a10"/><ellipse cx="1255" cy="585.9" rx="1.3" ry="2.3" fill="#b5852e"/><ellipse cx="1229.5" cy="588" rx="1.3" ry="2.3" fill="#9a6414"/><ellipse cx="1275.4" cy="590.2" rx="1.2" ry="1.9" fill="#8a5a10"/><ellipse cx="1253.9" cy="589.9" rx="1.8" ry="2.2" fill="#9a6414"/><ellipse cx="1271.6" cy="582.5" rx="1.2" ry="2.3" fill="#b5852e"/><ellipse cx="1164.4" cy="581.7" rx="1.5" ry="2.2" fill="#a87420"/><ellipse cx="1356.2" cy="584.8" rx="1.4" ry="2" fill="#b5852e"/><ellipse cx="1257.7" cy="579.1" rx="1.4" ry="2" fill="#a87420"/><ellipse cx="1334.6" cy="584.1" rx="1.8" ry="1.6" fill="#b5852e"/><ellipse cx="1330.8" cy="581.3" rx="1.6" ry="2.2" fill="#a87420"/><ellipse cx="1314.6" cy="587.5" rx="1.8" ry="1.7" fill="#8a5a10"/><ellipse cx="1358.4" cy="582.5" rx="1.4" ry="2.3" fill="#a87420"/><ellipse cx="1255.6" cy="582.2" rx="1.2" ry="2.3" fill="#8a5a10"/><ellipse cx="1340.6" cy="588.6" rx="1.8" ry="2.2" fill="#b5852e"/><ellipse cx="1328.5" cy="594" rx="1.2" ry="1.7" fill="#a87420"/><ellipse cx="1306.4" cy="585.2" rx="1.4" ry="1.7" fill="#8a5a10"/><ellipse cx="1285" cy="588.9" rx="1.4" ry="1.7" fill="#b5852e"/><ellipse cx="1296.7" cy="590.4" rx="1.8" ry="1.9" fill="#a87420"/><ellipse cx="1211.8" cy="586.1" rx="1.8" ry="2.4" fill="#9a6414"/><ellipse cx="1194.6" cy="591.3" rx="1.4" ry="1.6" fill="#8a5a10"/><ellipse cx="1340.9" cy="585.7" rx="1.8" ry="1.9" fill="#9a6414"/><ellipse cx="1332.8" cy="585.6" rx="1.6" ry="2.2" fill="#9a6414"/><ellipse cx="1179.2" cy="583.4" rx="1.7" ry="1.8" fill="#9a6414"/><ellipse cx="1212.9" cy="590.3" rx="1.7" ry="1.5" fill="#a87420"/><ellipse cx="1355.5" cy="582.1" rx="1.8" ry="2.1" fill="#9a6414"/><ellipse cx="1335.3" cy="588.9" rx="1.2" ry="1.6" fill="#8a5a10"/><ellipse cx="1336.8" cy="591.3" rx="1.8" ry="1.9" fill="#8a5a10"/><ellipse cx="1260.2" cy="577" rx="1.5" ry="1.7" fill="#a87420"/><ellipse cx="1303.5" cy="580.7" rx="1.3" ry="1.9" fill="#b5852e"/><ellipse cx="1176.5" cy="579.3" rx="1.5" ry="2.2" fill="#b5852e"/><ellipse cx="1361.8" cy="590.1" rx="1.5" ry="1.7" fill="#9a6414"/><ellipse cx="1218.8" cy="579.7" rx="1.9" ry="2.1" fill="#a87420"/><ellipse cx="1276.1" cy="590.7" rx="1.2" ry="1.9" fill="#a87420"/><ellipse cx="1235.3" cy="589.4" rx="1.4" ry="2.2" fill="#9a6414"/><ellipse cx="1316.9" cy="591" rx="1.3" ry="1.7" fill="#8a5a10"/><ellipse cx="1159.4" cy="581.6" rx="1.5" ry="2.3" fill="#b5852e"/><ellipse cx="1189.4" cy="584.6" rx="1.5" ry="2.2" fill="#9a6414"/><ellipse cx="1260.3" cy="580.7" rx="1.2" ry="2" fill="#9a6414"/><ellipse cx="1307.9" cy="588.7" rx="1.5" ry="2.1" fill="#a87420"/><ellipse cx="1238.8" cy="577.4" rx="1.4" ry="2" fill="#9a6414"/><ellipse cx="1209.3" cy="587.8" rx="1.6" ry="2.1" fill="#b5852e"/><ellipse cx="1225.8" cy="581.4" rx="1.7" ry="1.9" fill="#a87420"/><ellipse cx="1294.2" cy="579.4" rx="1.5" ry="1.5" fill="#8a5a10"/><ellipse cx="1281.3" cy="588.4" rx="1.5" ry="1.7" fill="#8a5a10"/><ellipse cx="1337" cy="587.5" rx="1.5" ry="1.6" fill="#9a6414"/><ellipse cx="1235.9" cy="588.3" rx="1.8" ry="2.1" fill="#9a6414"/><ellipse cx="1258" cy="577.9" rx="1.7" ry="1.8" fill="#b5852e"/><ellipse cx="1223.3" cy="577.9" rx="1.4" ry="2.3" fill="#9a6414"/><ellipse cx="1301.4" cy="590.8" rx="1.5" ry="2.1" fill="#b5852e"/><ellipse cx="1152.9" cy="583.9" rx="1.6" ry="2.2" fill="#b5852e"/><ellipse cx="1297.1" cy="582.3" rx="1.2" ry="2.3" fill="#b5852e"/><ellipse cx="1212.7" cy="584.9" rx="1.8" ry="2.1" fill="#8a5a10"/><ellipse cx="1306.7" cy="580.1" rx="1.2" ry="1.9" fill="#9a6414"/><ellipse cx="1351.2" cy="581.3" rx="1.4" ry="1.6" fill="#9a6414"/><ellipse cx="1222.7" cy="587" rx="1.4" ry="1.9" fill="#b5852e"/><ellipse cx="1223.5" cy="582.1" rx="1.3" ry="2" fill="#a87420"/><ellipse cx="1351.1" cy="580.8" rx="1.7" ry="2" fill="#8a5a10"/><ellipse cx="1211.2" cy="577.6" rx="1.2" ry="2" fill="#8a5a10"/><ellipse cx="1217.2" cy="578.8" rx="1.7" ry="2.1" fill="#8a5a10"/><ellipse cx="1329.9" cy="591.9" rx="1.6" ry="2.3" fill="#a87420"/><ellipse cx="1322.1" cy="585.6" rx="1.8" ry="1.6" fill="#a87420"/><ellipse cx="1330.5" cy="589.9" rx="1.2" ry="2.3" fill="#a87420"/><ellipse cx="1293" cy="581.8" rx="1.7" ry="2.2" fill="#9a6414"/><ellipse cx="1175.2" cy="592.5" rx="1.4" ry="2.1" fill="#8a5a10"/><ellipse cx="1251.6" cy="586.8" rx="1.3" ry="1.9" fill="#a87420"/><ellipse cx="1194.9" cy="588.1" rx="1.6" ry="1.6" fill="#b5852e"/><ellipse cx="1317.8" cy="587.1" rx="1.5" ry="1.9" fill="#8a5a10"/><ellipse cx="1270.3" cy="584.2" rx="1.6" ry="1.6" fill="#a87420"/><ellipse cx="1249.9" cy="577.9" rx="1.4" ry="1.7" fill="#b5852e"/><ellipse cx="1196.4" cy="582.9" rx="1.5" ry="2.3" fill="#9a6414"/><ellipse cx="1316.6" cy="581.6" rx="1.4" ry="1.9" fill="#8a5a10"/><ellipse cx="1252.6" cy="586.5" rx="1.3" ry="2.3" fill="#b5852e"/><ellipse cx="1343.9" cy="580.9" rx="1.4" ry="2" fill="#9a6414"/><rect x="1153" y="512.2" width="209.7" height="140.2" fill="#000" filter="url(#grainb)" opacity="0.45" clip-path="url(#cf5t)"/><ellipse cx="1336.5" cy="640" rx="1.1" ry="0.9" fill="#5a4a28"/><ellipse cx="1183.8" cy="605.4" rx="1.3" ry="1" fill="#6a5420"/><ellipse cx="1269.6" cy="621.9" rx="0.9" ry="0.9" fill="#6a5420"/><ellipse cx="1231" cy="606.5" rx="1.3" ry="0.8" fill="#44444c"/><ellipse cx="1347" cy="629.5" rx="1" ry="0.9" fill="#6a5420"/><ellipse cx="1212.5" cy="638" rx="1.3" ry="1.2" fill="#3c4870"/><ellipse cx="1256.8" cy="616.5" rx="1.1" ry="1.1" fill="#2e2e34"/><ellipse cx="1282.7" cy="634.6" rx="1.1" ry="0.8" fill="#2e2e34"/><ellipse cx="1308.9" cy="631.3" rx="0.9" ry="1" fill="#6a5420"/><ellipse cx="1184.3" cy="618.5" rx="1.1" ry="1" fill="#44444c"/><ellipse cx="1298.7" cy="635.1" rx="0.9" ry="0.9" fill="#2e2e34"/><ellipse cx="1300.7" cy="610.9" rx="1.3" ry="1.2" fill="#6a5420"/><ellipse cx="1345.7" cy="622.9" rx="1" ry="1" fill="#3c4870"/><ellipse cx="1247.8" cy="629.8" rx="1.3" ry="1" fill="#3c4870"/><ellipse cx="1190.4" cy="610" rx="0.9" ry="0.8" fill="#2e2e34"/><ellipse cx="1334.2" cy="614.8" rx="1.1" ry="1.1" fill="#6a5420"/><ellipse cx="1221.1" cy="612.6" rx="1.3" ry="0.9" fill="#2e2e34"/><ellipse cx="1359.5" cy="619.7" rx="1.3" ry="0.9" fill="#3c4870"/><ellipse cx="1195.4" cy="610.5" rx="1.3" ry="1.1" fill="#3c4870"/><ellipse cx="1334.2" cy="621.7" rx="1.1" ry="0.9" fill="#5a4a28"/><ellipse cx="1297.9" cy="608.4" rx="1.1" ry="1.2" fill="#6a5420"/><ellipse cx="1304.2" cy="614.8" rx="1" ry="0.9" fill="#3c4870"/><ellipse cx="1199" cy="627.7" rx="1.2" ry="1.2" fill="#44444c"/><ellipse cx="1328.1" cy="626.8" rx="0.9" ry="1" fill="#5a4a28"/><ellipse cx="1174.3" cy="613.7" rx="1.1" ry="0.9" fill="#5a4a28"/><ellipse cx="1237.3" cy="609.2" rx="1.3" ry="1" fill="#44444c"/><ellipse cx="1173.1" cy="630.2" rx="1.2" ry="0.8" fill="#2e2e34"/><ellipse cx="1154" cy="603.8" rx="1.1" ry="1.1" fill="#2e2e34"/><ellipse cx="1292.5" cy="604" rx="0.9" ry="1.1" fill="#2e2e34"/><ellipse cx="1214.9" cy="629.7" rx="1.1" ry="1.1" fill="#2e2e34"/><ellipse cx="1227.2" cy="635.1" rx="1.2" ry="1.2" fill="#44444c"/><ellipse cx="1261.4" cy="623.4" rx="1.2" ry="0.9" fill="#6a5420"/><ellipse cx="1279.8" cy="632.7" rx="1.1" ry="1" fill="#6a5420"/><ellipse cx="1225" cy="602.5" rx="1.1" ry="0.9" fill="#6a5420"/><ellipse cx="1237.5" cy="614.3" rx="0.9" ry="1" fill="#44444c"/><ellipse cx="1328.1" cy="630.6" rx="0.9" ry="1" fill="#6a5420"/><ellipse cx="1362.1" cy="615.9" rx="1" ry="0.9" fill="#44444c"/><ellipse cx="1179.5" cy="621.3" rx="1.3" ry="1" fill="#2e2e34"/><ellipse cx="1304.1" cy="638.4" rx="1" ry="1.2" fill="#44444c"/><ellipse cx="1280" cy="619.3" rx="1.3" ry="0.8" fill="#5a4a28"/><ellipse cx="1326.3" cy="617.4" rx="1.2" ry="1" fill="#5a4a28"/><ellipse cx="1187.2" cy="635.2" rx="1.2" ry="0.9" fill="#2e2e34"/><ellipse cx="1264.7" cy="635.5" rx="1" ry="1" fill="#3c4870"/><ellipse cx="1359.7" cy="624.9" rx="0.9" ry="1.2" fill="#3c4870"/><ellipse cx="1351.8" cy="612.1" rx="1.1" ry="1" fill="#6a5420"/><ellipse cx="1173.3" cy="605.9" rx="1.2" ry="1.1" fill="#2e2e34"/><ellipse cx="1158" cy="635.1" rx="0.9" ry="1.2" fill="#3c4870"/><ellipse cx="1318.3" cy="624.3" rx="1" ry="1" fill="#3c4870"/><ellipse cx="1344.1" cy="611.4" rx="1.3" ry="1.2" fill="#44444c"/><ellipse cx="1165.9" cy="601.5" rx="1.2" ry="1.2" fill="#3c4870"/><ellipse cx="1189.6" cy="629.7" rx="0.9" ry="1" fill="#44444c"/><ellipse cx="1258.6" cy="607" rx="1.2" ry="1" fill="#3c4870"/><ellipse cx="1181.4" cy="608.6" rx="1.3" ry="1" fill="#44444c"/><ellipse cx="1155.5" cy="619.6" rx="1.2" ry="1.1" fill="#3c4870"/><ellipse cx="1210.7" cy="636.1" rx="0.9" ry="1.1" fill="#3c4870"/><ellipse cx="1178.7" cy="611.2" rx="1.2" ry="0.8" fill="#2e2e34"/><ellipse cx="1196.5" cy="615.7" rx="1.3" ry="1.1" fill="#5a4a28"/><ellipse cx="1251.3" cy="625.7" rx="1.2" ry="1.1" fill="#3c4870"/><ellipse cx="1201.8" cy="633.9" rx="1" ry="0.9" fill="#3c4870"/><ellipse cx="1278.1" cy="635.9" rx="1.3" ry="1" fill="#2e2e34"/><ellipse cx="1158.5" cy="621.5" rx="1" ry="1" fill="#2e2e34"/><ellipse cx="1282.3" cy="608.1" rx="1" ry="1" fill="#6a5420"/><ellipse cx="1170.3" cy="623.1" rx="1.3" ry="1.1" fill="#2e2e34"/><ellipse cx="1257" cy="625.6" rx="1.1" ry="0.8" fill="#44444c"/><ellipse cx="1332" cy="627.1" rx="1.2" ry="1" fill="#5a4a28"/><ellipse cx="1280.9" cy="606.7" rx="1" ry="0.8" fill="#2e2e34"/><ellipse cx="1182.4" cy="614.2" rx="1.4" ry="1" fill="#44444c"/><ellipse cx="1287.9" cy="607.2" rx="1.3" ry="1" fill="#3c4870"/><ellipse cx="1184.1" cy="603.7" rx="1.1" ry="0.9" fill="#44444c"/><ellipse cx="1237.6" cy="635.5" rx="1.1" ry="1" fill="#6a5420"/><ellipse cx="1248.7" cy="612.7" rx="1.3" ry="1.2" fill="#2e2e34"/><ellipse cx="1357.5" cy="620.2" rx="1.3" ry="0.8" fill="#5a4a28"/><ellipse cx="1241.2" cy="603.7" rx="1" ry="1" fill="#5a4a28"/><ellipse cx="1183.6" cy="606.9" rx="1.2" ry="1.1" fill="#44444c"/><ellipse cx="1181.2" cy="627.6" rx="1" ry="1.2" fill="#3c4870"/><ellipse cx="1161.7" cy="611.9" rx="0.9" ry="0.9" fill="#2e2e34"/><ellipse cx="1206.4" cy="604.1" rx="1.2" ry="1.1" fill="#44444c"/><ellipse cx="1215.2" cy="612.5" rx="1.2" ry="0.8" fill="#2e2e34"/><ellipse cx="1249.6" cy="615.5" rx="0.9" ry="0.9" fill="#5a4a28"/><ellipse cx="1305" cy="620.5" rx="0.9" ry="1" fill="#6a5420"/><ellipse cx="1318.7" cy="609.1" rx="1.2" ry="1.1" fill="#6a5420"/><ellipse cx="1160.6" cy="612.2" rx="0.9" ry="0.9" fill="#2e2e34"/><ellipse cx="1165.9" cy="604" rx="1" ry="1" fill="#5a4a28"/><ellipse cx="1328.4" cy="616.4" rx="0.9" ry="1" fill="#6a5420"/><ellipse cx="1278.5" cy="627.8" rx="1.3" ry="0.9" fill="#44444c"/><ellipse cx="1329.5" cy="628.9" rx="1.3" ry="1.2" fill="#5a4a28"/><ellipse cx="1365.2" cy="618" rx="1.1" ry="1" fill="#3c4870"/><ellipse cx="1328" cy="618" rx="1.2" ry="0.9" fill="#3c4870"/><ellipse cx="1225.9" cy="631.8" rx="1.2" ry="1.2" fill="#2e2e34"/><ellipse cx="1188.9" cy="607" rx="1" ry="1.1" fill="#44444c"/><ellipse cx="1218.5" cy="618" rx="1.3" ry="1" fill="#44444c"/><ellipse cx="1348.3" cy="605.9" rx="1" ry="1.2" fill="#2e2e34"/><ellipse cx="1321.9" cy="635.3" rx="1.3" ry="1.2" fill="#44444c"/><ellipse cx="1197.2" cy="634.7" rx="1.3" ry="1.2" fill="#3c4870"/><ellipse cx="1258.8" cy="612.2" rx="1.2" ry="0.8" fill="#3c4870"/><ellipse cx="1225.7" cy="636.3" rx="1.1" ry="1.2" fill="#3c4870"/><ellipse cx="1231.6" cy="637.7" rx="1.1" ry="0.9" fill="#5a4a28"/><ellipse cx="1225.4" cy="608.4" rx="1.3" ry="1.1" fill="#5a4a28"/><ellipse cx="1354.3" cy="639.3" rx="1.2" ry="1.1" fill="#3c4870"/><ellipse cx="1157.8" cy="619.7" rx="1.4" ry="0.9" fill="#5a4a28"/><ellipse cx="1281.5" cy="625.8" rx="1" ry="1" fill="#3c4870"/><ellipse cx="1344.9" cy="625.6" rx="0.9" ry="1.2" fill="#3c4870"/><ellipse cx="1164.4" cy="623.2" rx="1.3" ry="0.8" fill="#3c4870"/><ellipse cx="1293.2" cy="638.2" rx="1.4" ry="1.2" fill="#6a5420"/><ellipse cx="1198.4" cy="607.3" rx="0.9" ry="0.9" fill="#44444c"/><ellipse cx="1206.8" cy="611.8" rx="1.3" ry="1.2" fill="#2e2e34"/><ellipse cx="1351" cy="615.2" rx="1.3" ry="1.1" fill="#5a4a28"/><ellipse cx="1221.7" cy="618.4" rx="1.2" ry="1.1" fill="#3c4870"/><ellipse cx="1257.6" cy="631.4" rx="1.1" ry="1.2" fill="#6a5420"/><ellipse cx="1191.6" cy="617.6" rx="1.1" ry="1.1" fill="#5a4a28"/><ellipse cx="1352.6" cy="623.8" rx="1.3" ry="0.9" fill="#3c4870"/><ellipse cx="1259.9" cy="629.4" rx="0.9" ry="0.9" fill="#3c4870"/><ellipse cx="1295.9" cy="609.7" rx="1.1" ry="0.9" fill="#3c4870"/><ellipse cx="1202.9" cy="607.7" rx="1" ry="0.8" fill="#2e2e34"/><ellipse cx="1259" cy="606.3" rx="1" ry="1" fill="#6a5420"/><ellipse cx="1185.6" cy="605" rx="1.1" ry="1.2" fill="#2e2e34"/><ellipse cx="1251.7" cy="618" rx="1" ry="0.9" fill="#2e2e34"/><ellipse cx="1158.3" cy="619.4" rx="1.3" ry="1.1" fill="#6a5420"/><ellipse cx="1342.4" cy="617.1" rx="1.1" ry="0.9" fill="#2e2e34"/><ellipse cx="1237.8" cy="622.7" rx="1" ry="0.9" fill="#6a5420"/><ellipse cx="1240.5" cy="618.1" rx="0.9" ry="1.2" fill="#3c4870"/><ellipse cx="1170.1" cy="603.7" rx="1.1" ry="1.2" fill="#2e2e34"/><ellipse cx="1164.4" cy="612" rx="1.3" ry="0.9" fill="#44444c"/><ellipse cx="1222.6" cy="606.3" rx="1.3" ry="1" fill="#6a5420"/><ellipse cx="1238.6" cy="614.5" rx="1.2" ry="0.9" fill="#5a4a28"/><ellipse cx="1229.7" cy="635.9" rx="1" ry="1.2" fill="#2e2e34"/><ellipse cx="1306.7" cy="615.7" rx="1.3" ry="1.1" fill="#5a4a28"/><ellipse cx="1167.4" cy="619.1" rx="1.2" ry="1.2" fill="#3c4870"/><ellipse cx="1242.6" cy="637" rx="1.3" ry="0.9" fill="#44444c"/><ellipse cx="1290.3" cy="622.8" rx="1.3" ry="1.2" fill="#5a4a28"/><ellipse cx="1293.61" cy="596.67" rx="5.5" ry="12.22" fill="#f3efe8" filter="url(#b1)"/><ellipse cx="1344.03" cy="602.17" rx="8.56" ry="7.33" fill="#f3efe8" filter="url(#b1)"/><path d="M1205 646.17C1217.73 645.96 1255.93 645.3 1281.39 644.94C1306.85 644.59 1345.05 644.18 1357.78 644.03" fill="none" stroke="#fbfbfa" stroke-width="5.4" stroke-dasharray="0.1 7.4" stroke-linecap="round"/><line x1="1340.97" y1="650.44" x2="1360.83" y2="650.44" stroke-width="1.4" stroke="#111"/></g>
</g>
<g id="headers">
<text class="b" x="406" y="22.5" font-size="27" text-anchor="middle">1st</text>
<text class="b" x="1045" y="22.5" font-size="27" text-anchor="middle">2nd</text>
<line x1="112.5" y1="29.2" x2="680" y2="29.2" stroke-width="2.3" stroke="#000"/>
<line x1="764" y1="29.2" x2="1330" y2="29.2" stroke-width="2.3" stroke="#000"/>
<text class="b" x="121.5" y="53.7" font-size="27" textLength="114.5" lengthAdjust="spacingAndGlyphs">VAS+H<tspan dy="6" font-size="18">2</tspan><tspan dy="-6">O</tspan></text>
<text class="b" x="342.5" y="53.7" font-size="27" textLength="121.5" lengthAdjust="spacingAndGlyphs">IMQ+H<tspan dy="6" font-size="18">2</tspan><tspan dy="-6">O</tspan></text>
<text class="b" x="549" y="53.7" font-size="27" textLength="131" lengthAdjust="spacingAndGlyphs">IMQ+XYF</text>
<text class="b" x="772.5" y="53.7" font-size="27" textLength="115" lengthAdjust="spacingAndGlyphs">VAS+H<tspan dy="6" font-size="18">2</tspan><tspan dy="-6">O</tspan></text>
<text class="b" x="983.5" y="53.7" font-size="27" textLength="121.5" lengthAdjust="spacingAndGlyphs">IMQ+H<tspan dy="6" font-size="18">2</tspan><tspan dy="-6">O</tspan></text>
<text class="b" x="1193.5" y="53.7" font-size="27" textLength="124" lengthAdjust="spacingAndGlyphs">IMQ+XYF</text>
<text class="b" x="406" y="250" font-size="27" text-anchor="middle">1st</text>
<text class="b" x="1045" y="250" font-size="27" text-anchor="middle">2nd</text>
<line x1="112.5" y1="257.5" x2="680" y2="257.5" stroke-width="2.3" stroke="#000"/>
<line x1="764" y1="257.5" x2="1330" y2="257.5" stroke-width="2.3" stroke="#000"/>
<text class="b" x="121.5" y="283.5" font-size="27" textLength="114.5" lengthAdjust="spacingAndGlyphs">VAS+H<tspan dy="6" font-size="18">2</tspan><tspan dy="-6">O</tspan></text>
<text class="b" x="342.5" y="283.5" font-size="27" textLength="121.5" lengthAdjust="spacingAndGlyphs">IMQ+H<tspan dy="6" font-size="18">2</tspan><tspan dy="-6">O</tspan></text>
<text class="b" x="549" y="283.5" font-size="27" textLength="131" lengthAdjust="spacingAndGlyphs">IMQ+XYF</text>
<text class="b" x="772.5" y="283.5" font-size="27" textLength="115" lengthAdjust="spacingAndGlyphs">VAS+H<tspan dy="6" font-size="18">2</tspan><tspan dy="-6">O</tspan></text>
<text class="b" x="983.5" y="283.5" font-size="27" textLength="121.5" lengthAdjust="spacingAndGlyphs">IMQ+H<tspan dy="6" font-size="18">2</tspan><tspan dy="-6">O</tspan></text>
<text class="b" x="1193.5" y="283.5" font-size="27" textLength="124" lengthAdjust="spacingAndGlyphs">IMQ+XYF</text>
<text class="b" x="406" y="472.5" font-size="27" text-anchor="middle">1st</text>
<text class="b" x="1045" y="472.5" font-size="27" text-anchor="middle">2nd</text>
<line x1="112.5" y1="480" x2="680" y2="480" stroke-width="2.3" stroke="#000"/>
<line x1="764" y1="480" x2="1330" y2="480" stroke-width="2.3" stroke="#000"/>
<text class="b" x="121.5" y="506" font-size="27" textLength="114.5" lengthAdjust="spacingAndGlyphs">VAS+H<tspan dy="6" font-size="18">2</tspan><tspan dy="-6">O</tspan></text>
<text class="b" x="342.5" y="506" font-size="27" textLength="121.5" lengthAdjust="spacingAndGlyphs">IMQ+H<tspan dy="6" font-size="18">2</tspan><tspan dy="-6">O</tspan></text>
<text class="b" x="549" y="506" font-size="27" textLength="131" lengthAdjust="spacingAndGlyphs">IMQ+XYF</text>
<text class="b" x="772.5" y="506" font-size="27" textLength="115" lengthAdjust="spacingAndGlyphs">VAS+H<tspan dy="6" font-size="18">2</tspan><tspan dy="-6">O</tspan></text>
<text class="b" x="983.5" y="506" font-size="27" textLength="121.5" lengthAdjust="spacingAndGlyphs">IMQ+H<tspan dy="6" font-size="18">2</tspan><tspan dy="-6">O</tspan></text>
<text class="b" x="1193.5" y="506" font-size="27" textLength="124" lengthAdjust="spacingAndGlyphs">IMQ+XYF</text>
</g>
<g id="charts">
<g>
<g stroke="#000" stroke-width="2.2">
<line x1="100.75" y1="782.9" x2="100.75" y2="959.35" stroke-width="2.5"/>
<line x1="99.65" y1="958.25" x2="362" y2="958.25" stroke-width="2.35"/>
<line x1="94.95" y1="958" x2="100.75" y2="958" stroke-width="2.5"/>
<line x1="94.95" y1="896" x2="100.75" y2="896" stroke-width="2.5"/>
<line x1="94.95" y1="834" x2="100.75" y2="834" stroke-width="2.5"/>
<line x1="122.5" y1="958.25" x2="122.5" y2="962.85" stroke-width="2.5"/>
<line x1="165.5" y1="958.25" x2="165.5" y2="962.85" stroke-width="2.5"/>
<line x1="209.5" y1="958.25" x2="209.5" y2="962.85" stroke-width="2.5"/>
<line x1="252.5" y1="958.25" x2="252.5" y2="962.85" stroke-width="2.5"/>
<line x1="295.75" y1="958.25" x2="295.75" y2="962.85" stroke-width="2.5"/>
<line x1="339.25" y1="958.25" x2="339.25" y2="962.85" stroke-width="2.5"/>
</g>
<text class="b" x="93.85" y="965.9" font-size="26" text-anchor="end">0</text>
<text class="b" x="93.85" y="903.9" font-size="26" text-anchor="end">5</text>
<text class="b" x="93.85" y="841.9" font-size="26" text-anchor="end">10</text>
<text class="b" font-size="26" text-anchor="end" textLength="116" lengthAdjust="spacingAndGlyphs" transform="translate(131.1 964.05) rotate(-90)">VAS+H<tspan font-size="19">2</tspan>O</text>
<text class="b" font-size="26" text-anchor="end" textLength="120" lengthAdjust="spacingAndGlyphs" transform="translate(174.1 964.05) rotate(-90)">IMQ+H<tspan font-size="19">2</tspan>O</text>
<text class="b" font-size="26" text-anchor="end" textLength="124" lengthAdjust="spacingAndGlyphs" transform="translate(218.1 964.05) rotate(-90)">IMQ+XYF</text>
<text class="b" font-size="26" text-anchor="end" textLength="116" lengthAdjust="spacingAndGlyphs" transform="translate(261.1 964.05) rotate(-90)">VAS+H<tspan font-size="19">2</tspan>O</text>
<text class="b" font-size="26" text-anchor="end" textLength="120" lengthAdjust="spacingAndGlyphs" transform="translate(304.35 964.05) rotate(-90)">IMQ+H<tspan font-size="19">2</tspan>O</text>
<text class="b" font-size="26" text-anchor="end" textLength="124" lengthAdjust="spacingAndGlyphs" transform="translate(347.85 964.05) rotate(-90)">IMQ+XYF</text>
<line x1="110.75" y1="1094.25" x2="218.75" y2="1094.25" stroke-width="2.5" stroke="#000"/>
<line x1="243" y1="1094.25" x2="350.75" y2="1094.25" stroke-width="2.5" stroke="#000"/>
<text class="b" x="166" y="1121.75" font-size="27" text-anchor="middle">1st</text>
<text class="b" x="295.75" y="1121.75" font-size="27" text-anchor="middle">2nd</text>
<line x1="168" y1="733" x2="299.5" y2="733" stroke-width="3.1" stroke="#000"/>
<text class="b" x="234.25" y="734.1" font-size="25.5" text-anchor="middle" letter-spacing="0.9">*</text>
<line x1="251" y1="755.5" x2="341" y2="755.5" stroke-width="3.1" stroke="#000"/>
<text class="b" x="296.5" y="756.6" font-size="25.5" text-anchor="middle" letter-spacing="0.9">****</text>
<line x1="297" y1="777.5" x2="342" y2="777.5" stroke-width="3.1" stroke="#000"/>
<text class="b" x="320" y="778.6" font-size="25.5" text-anchor="middle" letter-spacing="0.9">****</text>
<line x1="251" y1="797.5" x2="297" y2="797.5" stroke-width="3.1" stroke="#000"/>
<text class="b" x="274.5" y="798.6" font-size="25.5" text-anchor="middle" letter-spacing="0.9">****</text>
<line x1="121" y1="778.5" x2="211" y2="778.5" stroke-width="3.1" stroke="#000"/>
<text class="b" x="166.5" y="779.6" font-size="25.5" text-anchor="middle" letter-spacing="0.9">****</text>
<line x1="165" y1="800" x2="211" y2="800" stroke-width="3.1" stroke="#000"/>
<text class="b" x="188.5" y="801.1" font-size="25.5" text-anchor="middle" letter-spacing="0.9">****</text>
<line x1="121" y1="821" x2="166" y2="821" stroke-width="3.1" stroke="#000"/>
<text class="b" x="144" y="822.1" font-size="25.5" text-anchor="middle" letter-spacing="0.9">****</text>
<circle cx="113" cy="958" r="7.3" fill="#6f6f6f"/><circle cx="118" cy="958" r="7.3" fill="#6f6f6f"/><circle cx="122.5" cy="958" r="7.3" fill="#6f6f6f"/><circle cx="127" cy="958" r="7.3" fill="#6f6f6f"/><circle cx="131.5" cy="958" r="7.3" fill="#6f6f6f"/>
<g stroke="#000" stroke-width="1.6"><line x1="110.5" y1="958" x2="134.5" y2="958" stroke-width="1.6"/></g>
<circle cx="156.3" cy="833.75" r="7" fill="none" stroke="#6f6f6f" stroke-width="2.4"/><circle cx="158.5" cy="833.75" r="7" fill="none" stroke="#6f6f6f" stroke-width="2.4"/><circle cx="175.6" cy="833.75" r="7" fill="none" stroke="#6f6f6f" stroke-width="2.4"/><circle cx="173" cy="833.75" r="7" fill="none" stroke="#6f6f6f" stroke-width="2.4"/><circle cx="162.5" cy="847" r="7" fill="none" stroke="#6f6f6f" stroke-width="2.4"/><circle cx="165.6" cy="847" r="7" fill="none" stroke="#6f6f6f" stroke-width="2.4"/><circle cx="168.75" cy="847" r="7" fill="none" stroke="#6f6f6f" stroke-width="2.4"/>
<g stroke="#000" stroke-width="1.6"><line x1="152" y1="838" x2="179" y2="838" stroke-width="1.6"/><line x1="165.5" y1="836" x2="165.5" y2="840" stroke-width="1.6"/><line x1="159" y1="836" x2="172" y2="836" stroke-width="1.6"/><line x1="159" y1="840" x2="172" y2="840" stroke-width="1.6"/></g>
<circle cx="201.9" cy="859" r="7" fill="none" stroke="#6f6f6f" stroke-width="2.4"/><circle cx="201.9" cy="859" r="1.7" fill="#6f6f6f"/><circle cx="216.25" cy="859" r="7" fill="none" stroke="#6f6f6f" stroke-width="2.4"/><circle cx="216.25" cy="859" r="1.7" fill="#6f6f6f"/><circle cx="198.75" cy="871" r="7" fill="none" stroke="#6f6f6f" stroke-width="2.4"/><circle cx="198.75" cy="871" r="1.7" fill="#6f6f6f"/><circle cx="220" cy="871" r="7" fill="none" stroke="#6f6f6f" stroke-width="2.4"/><circle cx="220" cy="871" r="1.7" fill="#6f6f6f"/><circle cx="209.4" cy="870" r="7" fill="none" stroke="#6f6f6f" stroke-width="2.4"/><circle cx="209.4" cy="870" r="1.7" fill="#6f6f6f"/><circle cx="205" cy="883.75" r="7" fill="none" stroke="#6f6f6f" stroke-width="2.4"/><circle cx="205" cy="883.75" r="1.7" fill="#6f6f6f"/>
<g stroke="#000" stroke-width="1.6"><line x1="196" y1="869.4" x2="223" y2="869.4" stroke-width="1.6"/><line x1="209.5" y1="866.9" x2="209.5" y2="871.9" stroke-width="1.6"/><line x1="203" y1="866.9" x2="216" y2="866.9" stroke-width="1.6"/><line x1="203" y1="871.9" x2="216" y2="871.9" stroke-width="1.6"/></g>
<circle cx="244" cy="958" r="7.3" fill="#000"/><circle cx="248" cy="958" r="7.3" fill="#000"/><circle cx="252.5" cy="958" r="7.3" fill="#000"/><circle cx="257" cy="958" r="7.3" fill="#000"/><circle cx="261" cy="958" r="7.3" fill="#000"/>
<g stroke="#000" stroke-width="1.6"><line x1="240.5" y1="958" x2="264.5" y2="958" stroke-width="1.6"/></g>
<circle cx="296" cy="811" r="7" fill="none" stroke="#000" stroke-width="3"/><circle cx="290" cy="822.5" r="7" fill="none" stroke="#000" stroke-width="3"/><circle cx="302.5" cy="822.5" r="7" fill="none" stroke="#000" stroke-width="3"/><circle cx="296" cy="830" r="7" fill="none" stroke="#000" stroke-width="3"/><circle cx="296" cy="835" r="7" fill="none" stroke="#000" stroke-width="3"/>
<g stroke="#000" stroke-width="1.6"><line x1="282.25" y1="823" x2="309.25" y2="823" stroke-width="1.6"/><line x1="295.75" y1="820.5" x2="295.75" y2="825.5" stroke-width="1.6"/><line x1="289.25" y1="820.5" x2="302.25" y2="820.5" stroke-width="1.6"/><line x1="289.25" y1="825.5" x2="302.25" y2="825.5" stroke-width="1.6"/></g>
<circle cx="339" cy="846" r="7" fill="none" stroke="#000" stroke-width="3"/><circle cx="339" cy="846" r="1.7" fill="#000"/><circle cx="335" cy="859" r="7" fill="none" stroke="#000" stroke-width="3"/><circle cx="335" cy="859" r="1.7" fill="#000"/><circle cx="344" cy="859" r="7" fill="none" stroke="#000" stroke-width="3"/><circle cx="344" cy="859" r="1.7" fill="#000"/><circle cx="339" cy="865" r="7" fill="none" stroke="#000" stroke-width="3"/><circle cx="339" cy="865" r="1.7" fill="#000"/><circle cx="339" cy="871" r="7" fill="none" stroke="#000" stroke-width="3"/><circle cx="339" cy="871" r="1.7" fill="#000"/>
<g stroke="#000" stroke-width="1.6"><line x1="325.75" y1="860.75" x2="352.75" y2="860.75" stroke-width="1.6"/><line x1="339.25" y1="858.25" x2="339.25" y2="863.25" stroke-width="1.6"/><line x1="332.75" y1="858.25" x2="345.75" y2="858.25" stroke-width="1.6"/><line x1="332.75" y1="863.25" x2="345.75" y2="863.25" stroke-width="1.6"/></g>
</g>
<g>
<g stroke="#000" stroke-width="2.2">
<line x1="434" y1="781.4" x2="434" y2="958.6" stroke-width="2.5"/>
<line x1="432.9" y1="957.5" x2="697.5" y2="957.5" stroke-width="2.35"/>
<line x1="428.2" y1="957" x2="434" y2="957" stroke-width="2.5"/>
<line x1="428.2" y1="870" x2="434" y2="870" stroke-width="2.5"/>
<line x1="428.2" y1="782.5" x2="434" y2="782.5" stroke-width="2.5"/>
<line x1="461.5" y1="957.5" x2="461.5" y2="962.1" stroke-width="2.5"/>
<line x1="505" y1="957.5" x2="505" y2="962.1" stroke-width="2.5"/>
<line x1="547.5" y1="957.5" x2="547.5" y2="962.1" stroke-width="2.5"/>
<line x1="591" y1="957.5" x2="591" y2="962.1" stroke-width="2.5"/>
<line x1="634" y1="957.5" x2="634" y2="962.1" stroke-width="2.5"/>
<line x1="677.5" y1="957.5" x2="677.5" y2="962.1" stroke-width="2.5"/>
</g>
<text class="b" x="427.1" y="964.9" font-size="26" text-anchor="end">0.0</text>
<text class="b" x="427.1" y="877.9" font-size="26" text-anchor="end">0.5</text>
<text class="b" x="427.1" y="790.4" font-size="26" text-anchor="end">1.0</text>
<text class="b" font-size="26" text-anchor="end" textLength="116" lengthAdjust="spacingAndGlyphs" transform="translate(470.1 963.3) rotate(-90)">VAS+H<tspan font-size="19">2</tspan>O</text>
<text class="b" font-size="26" text-anchor="end" textLength="120" lengthAdjust="spacingAndGlyphs" transform="translate(513.6 963.3) rotate(-90)">IMQ+H<tspan font-size="19">2</tspan>O</text>
<text class="b" font-size="26" text-anchor="end" textLength="124" lengthAdjust="spacingAndGlyphs" transform="translate(556.1 963.3) rotate(-90)">IMQ+XYF</text>
<text class="b" font-size="26" text-anchor="end" textLength="116" lengthAdjust="spacingAndGlyphs" transform="translate(599.6 963.3) rotate(-90)">VAS+H<tspan font-size="19">2</tspan>O</text>
<text class="b" font-size="26" text-anchor="end" textLength="120" lengthAdjust="spacingAndGlyphs" transform="translate(642.6 963.3) rotate(-90)">IMQ+H<tspan font-size="19">2</tspan>O</text>
<text class="b" font-size="26" text-anchor="end" textLength="124" lengthAdjust="spacingAndGlyphs" transform="translate(686.1 963.3) rotate(-90)">IMQ+XYF</text>
<line x1="444" y1="1093.5" x2="552.5" y2="1093.5" stroke-width="2.5" stroke="#000"/>
<line x1="576.5" y1="1093.5" x2="685" y2="1093.5" stroke-width="2.5" stroke="#000"/>
<text class="b" x="499" y="1121" font-size="27" text-anchor="middle">1st</text>
<text class="b" x="630" y="1121" font-size="27" text-anchor="middle">2nd</text>
<line x1="506" y1="732.5" x2="637.5" y2="732.5" stroke-width="3.1" stroke="#000"/>
<text class="b" x="572.25" y="733.6" font-size="25.5" text-anchor="middle" letter-spacing="0.9">****</text>
<line x1="591.5" y1="753.5" x2="681.5" y2="753.5" stroke-width="3.1" stroke="#000"/>
<text class="b" x="637" y="754.6" font-size="25.5" text-anchor="middle" letter-spacing="0.9">****</text>
<line x1="635" y1="776" x2="681.5" y2="776" stroke-width="3.1" stroke="#000"/>
<text class="b" x="658.75" y="777.1" font-size="25.5" text-anchor="middle" letter-spacing="0.9">****</text>
<line x1="591.5" y1="796" x2="637.5" y2="796" stroke-width="3.1" stroke="#000"/>
<text class="b" x="615" y="797.1" font-size="25.5" text-anchor="middle" letter-spacing="0.9">****</text>
<line x1="460" y1="791" x2="550" y2="791" stroke-width="3.1" stroke="#000"/>
<text class="b" x="505.5" y="792.1" font-size="25.5" text-anchor="middle" letter-spacing="0.9">****</text>
<line x1="504" y1="812.5" x2="550" y2="812.5" stroke-width="3.1" stroke="#000"/>
<text class="b" x="527.5" y="813.6" font-size="25.5" text-anchor="middle" letter-spacing="0.9">****</text>
<line x1="460" y1="833.5" x2="506" y2="833.5" stroke-width="3.1" stroke="#000"/>
<text class="b" x="483.5" y="834.6" font-size="25.5" text-anchor="middle" letter-spacing="0.9">****</text>
<circle cx="449" cy="953" r="7.3" fill="#6f6f6f"/><circle cx="455" cy="954" r="7.3" fill="#6f6f6f"/><circle cx="461" cy="954" r="7.3" fill="#6f6f6f"/><circle cx="466" cy="953" r="7.3" fill="#6f6f6f"/><circle cx="471" cy="948" r="7.3" fill="#6f6f6f"/><circle cx="452" cy="951" r="7.3" fill="#6f6f6f"/>
<g stroke="#000" stroke-width="1.6"><line x1="448" y1="953.5" x2="475" y2="953.5" stroke-width="1.6"/><line x1="461.5" y1="952" x2="461.5" y2="955" stroke-width="1.6"/><line x1="455" y1="952" x2="468" y2="952" stroke-width="1.6"/><line x1="455" y1="955" x2="468" y2="955" stroke-width="1.6"/></g>
<circle cx="491.5" cy="860" r="7" fill="none" stroke="#6f6f6f" stroke-width="2.4"/><circle cx="499" cy="863" r="7" fill="none" stroke="#6f6f6f" stroke-width="2.4"/><circle cx="513.5" cy="858.5" r="7" fill="none" stroke="#6f6f6f" stroke-width="2.4"/><circle cx="518" cy="863" r="7" fill="none" stroke="#6f6f6f" stroke-width="2.4"/><circle cx="497" cy="872.5" r="7" fill="none" stroke="#6f6f6f" stroke-width="2.4"/><circle cx="505" cy="869" r="7" fill="none" stroke="#6f6f6f" stroke-width="2.4"/><circle cx="512" cy="871" r="7" fill="none" stroke="#6f6f6f" stroke-width="2.4"/>
<g stroke="#000" stroke-width="1.6"><line x1="491.5" y1="866" x2="518.5" y2="866" stroke-width="1.6"/><line x1="505" y1="864" x2="505" y2="868" stroke-width="1.6"/><line x1="498.5" y1="864" x2="511.5" y2="864" stroke-width="1.6"/><line x1="498.5" y1="868" x2="511.5" y2="868" stroke-width="1.6"/></g>
<circle cx="539" cy="881" r="7" fill="none" stroke="#6f6f6f" stroke-width="2.4"/><circle cx="539" cy="881" r="1.7" fill="#6f6f6f"/><circle cx="556" cy="886" r="7" fill="none" stroke="#6f6f6f" stroke-width="2.4"/><circle cx="556" cy="886" r="1.7" fill="#6f6f6f"/><circle cx="535" cy="897" r="7" fill="none" stroke="#6f6f6f" stroke-width="2.4"/><circle cx="535" cy="897" r="1.7" fill="#6f6f6f"/><circle cx="547.5" cy="893" r="7" fill="none" stroke="#6f6f6f" stroke-width="2.4"/><circle cx="547.5" cy="893" r="1.7" fill="#6f6f6f"/><circle cx="560" cy="895" r="7" fill="none" stroke="#6f6f6f" stroke-width="2.4"/><circle cx="560" cy="895" r="1.7" fill="#6f6f6f"/><circle cx="542" cy="908" r="7" fill="none" stroke="#6f6f6f" stroke-width="2.4"/><circle cx="542" cy="908" r="1.7" fill="#6f6f6f"/><circle cx="553" cy="909" r="7" fill="none" stroke="#6f6f6f" stroke-width="2.4"/><circle cx="553" cy="909" r="1.7" fill="#6f6f6f"/>
<g stroke="#000" stroke-width="1.6"><line x1="534" y1="898" x2="561" y2="898" stroke-width="1.6"/><line x1="547.5" y1="894.5" x2="547.5" y2="901.5" stroke-width="1.6"/><line x1="541" y1="894.5" x2="554" y2="894.5" stroke-width="1.6"/><line x1="541" y1="901.5" x2="554" y2="901.5" stroke-width="1.6"/></g>
<circle cx="586" cy="951" r="7.3" fill="#000"/><circle cx="590" cy="953" r="7.3" fill="#000"/><circle cx="594" cy="953.5" r="7.3" fill="#000"/><circle cx="597" cy="954" r="7.3" fill="#000"/>
<g stroke="#000" stroke-width="1.6"><line x1="577.5" y1="954" x2="604.5" y2="954" stroke-width="1.6"/></g>
<circle cx="621" cy="822" r="7" fill="none" stroke="#000" stroke-width="3"/><circle cx="646" cy="822" r="7" fill="none" stroke="#000" stroke-width="3"/><circle cx="627" cy="830" r="7" fill="none" stroke="#000" stroke-width="3"/><circle cx="634" cy="827" r="7" fill="none" stroke="#000" stroke-width="3"/><circle cx="641" cy="832" r="7" fill="none" stroke="#000" stroke-width="3"/><circle cx="630" cy="838" r="7" fill="none" stroke="#000" stroke-width="3"/><circle cx="638" cy="839" r="7" fill="none" stroke="#000" stroke-width="3"/>
<g stroke="#000" stroke-width="1.6"><line x1="620.5" y1="829" x2="647.5" y2="829" stroke-width="1.6"/><line x1="634" y1="826.5" x2="634" y2="831.5" stroke-width="1.6"/><line x1="627.5" y1="826.5" x2="640.5" y2="826.5" stroke-width="1.6"/><line x1="627.5" y1="831.5" x2="640.5" y2="831.5" stroke-width="1.6"/></g>
<circle cx="665" cy="871" r="7" fill="none" stroke="#000" stroke-width="3"/><circle cx="665" cy="871" r="1.7" fill="#000"/><circle cx="690" cy="870" r="7" fill="none" stroke="#000" stroke-width="3"/><circle cx="690" cy="870" r="1.7" fill="#000"/><circle cx="671" cy="876" r="7" fill="none" stroke="#000" stroke-width="3"/><circle cx="671" cy="876" r="1.7" fill="#000"/><circle cx="677.5" cy="874" r="7" fill="none" stroke="#000" stroke-width="3"/><circle cx="677.5" cy="874" r="1.7" fill="#000"/><circle cx="684" cy="877" r="7" fill="none" stroke="#000" stroke-width="3"/><circle cx="684" cy="877" r="1.7" fill="#000"/><circle cx="674" cy="881" r="7" fill="none" stroke="#000" stroke-width="3"/><circle cx="674" cy="881" r="1.7" fill="#000"/><circle cx="681" cy="880" r="7" fill="none" stroke="#000" stroke-width="3"/><circle cx="681" cy="880" r="1.7" fill="#000"/>
<g stroke="#000" stroke-width="1.6"><line x1="664" y1="875" x2="691" y2="875" stroke-width="1.6"/><line x1="677.5" y1="873.5" x2="677.5" y2="876.5" stroke-width="1.6"/><line x1="671" y1="873.5" x2="684" y2="873.5" stroke-width="1.6"/><line x1="671" y1="876.5" x2="684" y2="876.5" stroke-width="1.6"/></g>
</g>
<g>
<g stroke="#000" stroke-width="2.2">
<line x1="785" y1="781.4" x2="785" y2="959.6" stroke-width="2.5"/>
<line x1="783.9" y1="958.5" x2="1046" y2="958.5" stroke-width="2.35"/>
<line x1="779.2" y1="958.5" x2="785" y2="958.5" stroke-width="2.5"/>
<line x1="779.2" y1="901" x2="785" y2="901" stroke-width="2.5"/>
<line x1="779.2" y1="842.5" x2="785" y2="842.5" stroke-width="2.5"/>
<line x1="779.2" y1="785" x2="785" y2="785" stroke-width="2.5"/>
<line x1="806" y1="958.5" x2="806" y2="963.1" stroke-width="2.5"/>
<line x1="849" y1="958.5" x2="849" y2="963.1" stroke-width="2.5"/>
<line x1="892.5" y1="958.5" x2="892.5" y2="963.1" stroke-width="2.5"/>
<line x1="936" y1="958.5" x2="936" y2="963.1" stroke-width="2.5"/>
<line x1="979" y1="958.5" x2="979" y2="963.1" stroke-width="2.5"/>
<line x1="1022.5" y1="958.5" x2="1022.5" y2="963.1" stroke-width="2.5"/>
</g>
<text class="b" x="778.1" y="966.4" font-size="26" text-anchor="end">0</text>
<text class="b" x="778.1" y="908.9" font-size="26" text-anchor="end">50</text>
<text class="b" x="778.1" y="850.4" font-size="26" text-anchor="end">100</text>
<text class="b" x="778.1" y="792.9" font-size="26" text-anchor="end">150</text>
<text class="b" font-size="26" text-anchor="end" textLength="116" lengthAdjust="spacingAndGlyphs" transform="translate(814.6 964.3) rotate(-90)">VAS+H<tspan font-size="19">2</tspan>O</text>
<text class="b" font-size="26" text-anchor="end" textLength="120" lengthAdjust="spacingAndGlyphs" transform="translate(857.6 964.3) rotate(-90)">IMQ+H<tspan font-size="19">2</tspan>O</text>
<text class="b" font-size="26" text-anchor="end" textLength="124" lengthAdjust="spacingAndGlyphs" transform="translate(901.1 964.3) rotate(-90)">IMQ+XYF</text>
<text class="b" font-size="26" text-anchor="end" textLength="116" lengthAdjust="spacingAndGlyphs" transform="translate(944.6 964.3) rotate(-90)">VAS+H<tspan font-size="19">2</tspan>O</text>
<text class="b" font-size="26" text-anchor="end" textLength="120" lengthAdjust="spacingAndGlyphs" transform="translate(987.6 964.3) rotate(-90)">IMQ+H<tspan font-size="19">2</tspan>O</text>
<text class="b" font-size="26" text-anchor="end" textLength="124" lengthAdjust="spacingAndGlyphs" transform="translate(1031.1 964.3) rotate(-90)">IMQ+XYF</text>
<line x1="787.5" y1="1093.5" x2="895" y2="1093.5" stroke-width="2.5" stroke="#000"/>
<line x1="920" y1="1093.5" x2="1027.5" y2="1093.5" stroke-width="2.5" stroke="#000"/>
<text class="b" x="842.5" y="1121" font-size="27" text-anchor="middle">1st</text>
<text class="b" x="972.5" y="1121" font-size="27" text-anchor="middle">2nd</text>
<line x1="850" y1="746" x2="982.5" y2="746" stroke-width="3.1" stroke="#000"/>
<text class="b" x="916.75" y="747.1" font-size="25.5" text-anchor="middle" letter-spacing="0.9">**</text>
<line x1="934" y1="768" x2="1024" y2="768" stroke-width="3.1" stroke="#000"/>
<text class="b" x="979.5" y="769.1" font-size="25.5" text-anchor="middle" letter-spacing="0.9">****</text>
<line x1="978.5" y1="790.5" x2="1024" y2="790.5" stroke-width="3.1" stroke="#000"/>
<text class="b" x="1001.75" y="791.6" font-size="25.5" text-anchor="middle" letter-spacing="0.9">***</text>
<line x1="934" y1="810" x2="980" y2="810" stroke-width="3.1" stroke="#000"/>
<text class="b" x="957.5" y="811.1" font-size="25.5" text-anchor="middle" letter-spacing="0.9">****</text>
<line x1="802.5" y1="796" x2="892.5" y2="796" stroke-width="3.1" stroke="#000"/>
<text class="b" x="848" y="797.1" font-size="25.5" text-anchor="middle" letter-spacing="0.9">****</text>
<line x1="847.5" y1="818" x2="892.5" y2="818" stroke-width="3.1" stroke="#000"/>
<text class="b" x="870.5" y="819.1" font-size="25.5" text-anchor="middle" letter-spacing="0.9">****</text>
<line x1="802.5" y1="838.5" x2="849" y2="838.5" stroke-width="3.1" stroke="#000"/>
<text class="b" x="826.25" y="839.6" font-size="25.5" text-anchor="middle" letter-spacing="0.9">****</text>
<circle cx="802" cy="938" r="7.3" fill="#6f6f6f"/><circle cx="806" cy="937" r="7.3" fill="#6f6f6f"/><circle cx="810" cy="938.5" r="7.3" fill="#6f6f6f"/><circle cx="805" cy="940" r="7.3" fill="#6f6f6f"/>
<g stroke="#000" stroke-width="1.6"><line x1="792.5" y1="939" x2="819.5" y2="939" stroke-width="1.6"/></g>
<circle cx="851" cy="856" r="7" fill="none" stroke="#6f6f6f" stroke-width="2.4"/><circle cx="841" cy="868" r="7" fill="none" stroke="#6f6f6f" stroke-width="2.4"/><circle cx="861" cy="865" r="7" fill="none" stroke="#6f6f6f" stroke-width="2.4"/><circle cx="846" cy="878" r="7" fill="none" stroke="#6f6f6f" stroke-width="2.4"/><circle cx="853" cy="877" r="7" fill="none" stroke="#6f6f6f" stroke-width="2.4"/>
<g stroke="#000" stroke-width="1.6"><line x1="835.5" y1="868" x2="862.5" y2="868" stroke-width="1.6"/><line x1="849" y1="865" x2="849" y2="871" stroke-width="1.6"/><line x1="842.5" y1="865" x2="855.5" y2="865" stroke-width="1.6"/><line x1="842.5" y1="871" x2="855.5" y2="871" stroke-width="1.6"/></g>
<circle cx="889" cy="894" r="7" fill="none" stroke="#6f6f6f" stroke-width="2.4"/><circle cx="889" cy="894" r="1.7" fill="#6f6f6f"/><circle cx="896" cy="900" r="7" fill="none" stroke="#6f6f6f" stroke-width="2.4"/><circle cx="896" cy="900" r="1.7" fill="#6f6f6f"/><circle cx="888" cy="903" r="7" fill="none" stroke="#6f6f6f" stroke-width="2.4"/><circle cx="888" cy="903" r="1.7" fill="#6f6f6f"/><circle cx="897" cy="906" r="7" fill="none" stroke="#6f6f6f" stroke-width="2.4"/><circle cx="897" cy="906" r="1.7" fill="#6f6f6f"/><circle cx="892" cy="909" r="7" fill="none" stroke="#6f6f6f" stroke-width="2.4"/><circle cx="892" cy="909" r="1.7" fill="#6f6f6f"/>
<g stroke="#000" stroke-width="1.6"><line x1="879" y1="903" x2="906" y2="903" stroke-width="1.6"/><line x1="892.5" y1="901" x2="892.5" y2="905" stroke-width="1.6"/><line x1="886" y1="901" x2="899" y2="901" stroke-width="1.6"/><line x1="886" y1="905" x2="899" y2="905" stroke-width="1.6"/></g>
<circle cx="932" cy="930" r="7.3" fill="#000"/><circle cx="937" cy="931" r="7.3" fill="#000"/><circle cx="941" cy="932" r="7.3" fill="#000"/><circle cx="935" cy="936" r="7.3" fill="#000"/>
<g stroke="#000" stroke-width="1.6"><line x1="922.5" y1="934" x2="949.5" y2="934" stroke-width="1.6"/></g>
<circle cx="972.5" cy="825" r="7" fill="none" stroke="#000" stroke-width="3"/><circle cx="987.5" cy="833.5" r="7" fill="none" stroke="#000" stroke-width="3"/><circle cx="975" cy="847.5" r="7" fill="none" stroke="#000" stroke-width="3"/><circle cx="985" cy="847.5" r="7" fill="none" stroke="#000" stroke-width="3"/><circle cx="979" cy="858.5" r="7" fill="none" stroke="#000" stroke-width="3"/>
<g stroke="#000" stroke-width="1.6"><line x1="965.5" y1="842.5" x2="992.5" y2="842.5" stroke-width="1.6"/><line x1="979" y1="836.5" x2="979" y2="848.5" stroke-width="1.6"/><line x1="972.5" y1="836.5" x2="985.5" y2="836.5" stroke-width="1.6"/><line x1="972.5" y1="848.5" x2="985.5" y2="848.5" stroke-width="1.6"/></g>
<circle cx="1016.5" cy="887.5" r="7" fill="none" stroke="#000" stroke-width="3"/><circle cx="1016.5" cy="887.5" r="1.7" fill="#000"/><circle cx="1032.5" cy="888.5" r="7" fill="none" stroke="#000" stroke-width="3"/><circle cx="1032.5" cy="888.5" r="1.7" fill="#000"/><circle cx="1018.5" cy="900" r="7" fill="none" stroke="#000" stroke-width="3"/><circle cx="1018.5" cy="900" r="1.7" fill="#000"/><circle cx="1031" cy="900" r="7" fill="none" stroke="#000" stroke-width="3"/><circle cx="1031" cy="900" r="1.7" fill="#000"/><circle cx="1024" cy="912.5" r="7" fill="none" stroke="#000" stroke-width="3"/><circle cx="1024" cy="912.5" r="1.7" fill="#000"/>
<g stroke="#000" stroke-width="1.6"><line x1="1009" y1="896.5" x2="1036" y2="896.5" stroke-width="1.6"/><line x1="1022.5" y1="892" x2="1022.5" y2="901" stroke-width="1.6"/><line x1="1016" y1="892" x2="1029" y2="892" stroke-width="1.6"/><line x1="1016" y1="901" x2="1029" y2="901" stroke-width="1.6"/></g>
</g>
<g>
<g stroke="#000" stroke-width="2.2">
<line x1="1113.5" y1="781.4" x2="1113.5" y2="958.6" stroke-width="2.5"/>
<line x1="1112.4" y1="957.5" x2="1372.5" y2="957.5" stroke-width="2.35"/>
<line x1="1107.7" y1="957.5" x2="1113.5" y2="957.5" stroke-width="2.5"/>
<line x1="1107.7" y1="884.5" x2="1113.5" y2="884.5" stroke-width="2.5"/>
<line x1="1107.7" y1="811.5" x2="1113.5" y2="811.5" stroke-width="2.5"/>
<line x1="1135" y1="957.5" x2="1135" y2="962.1" stroke-width="2.5"/>
<line x1="1178.5" y1="957.5" x2="1178.5" y2="962.1" stroke-width="2.5"/>
<line x1="1221.5" y1="957.5" x2="1221.5" y2="962.1" stroke-width="2.5"/>
<line x1="1265" y1="957.5" x2="1265" y2="962.1" stroke-width="2.5"/>
<line x1="1308.5" y1="957.5" x2="1308.5" y2="962.1" stroke-width="2.5"/>
<line x1="1351.5" y1="957.5" x2="1351.5" y2="962.1" stroke-width="2.5"/>
</g>
<text class="b" x="1106.6" y="965.4" font-size="26" text-anchor="end">0</text>
<text class="b" x="1106.6" y="892.4" font-size="26" text-anchor="end">5</text>
<text class="b" x="1106.6" y="819.4" font-size="26" text-anchor="end">10</text>
<text class="b" font-size="26" text-anchor="end" textLength="116" lengthAdjust="spacingAndGlyphs" transform="translate(1143.6 963.3) rotate(-90)">VAS+H<tspan font-size="19">2</tspan>O</text>
<text class="b" font-size="26" text-anchor="end" textLength="120" lengthAdjust="spacingAndGlyphs" transform="translate(1187.1 963.3) rotate(-90)">IMQ+H<tspan font-size="19">2</tspan>O</text>
<text class="b" font-size="26" text-anchor="end" textLength="124" lengthAdjust="spacingAndGlyphs" transform="translate(1230.1 963.3) rotate(-90)">IMQ+XYF</text>
<text class="b" font-size="26" text-anchor="end" textLength="116" lengthAdjust="spacingAndGlyphs" transform="translate(1273.6 963.3) rotate(-90)">VAS+H<tspan font-size="19">2</tspan>O</text>
<text class="b" font-size="26" text-anchor="end" textLength="120" lengthAdjust="spacingAndGlyphs" transform="translate(1317.1 963.3) rotate(-90)">IMQ+H<tspan font-size="19">2</tspan>O</text>
<text class="b" font-size="26" text-anchor="end" textLength="124" lengthAdjust="spacingAndGlyphs" transform="translate(1360.1 963.3) rotate(-90)">IMQ+XYF</text>
<line x1="1125" y1="1093.5" x2="1232.5" y2="1093.5" stroke-width="2.5" stroke="#000"/>
<line x1="1256" y1="1093.5" x2="1363.5" y2="1093.5" stroke-width="2.5" stroke="#000"/>
<text class="b" x="1180" y="1121" font-size="27" text-anchor="middle">1st</text>
<text class="b" x="1309" y="1121" font-size="27" text-anchor="middle">2nd</text>
<line x1="1179" y1="741.5" x2="1311" y2="741.5" stroke-width="3.1" stroke="#000"/>
<text class="b" x="1245.5" y="742.6" font-size="25.5" text-anchor="middle" letter-spacing="0.9">***</text>
<line x1="1263.5" y1="765" x2="1353.5" y2="765" stroke-width="3.1" stroke="#000"/>
<text class="b" x="1309" y="766.1" font-size="25.5" text-anchor="middle" letter-spacing="0.9">****</text>
<line x1="1308.5" y1="787" x2="1353.5" y2="787" stroke-width="3.1" stroke="#000"/>
<text class="b" x="1331.5" y="788.1" font-size="25.5" text-anchor="middle" letter-spacing="0.9">****</text>
<line x1="1263.5" y1="807" x2="1310" y2="807" stroke-width="3.1" stroke="#000"/>
<text class="b" x="1287.25" y="808.1" font-size="25.5" text-anchor="middle" letter-spacing="0.9">****</text>
<line x1="1132.5" y1="783" x2="1222.5" y2="783" stroke-width="3.1" stroke="#000"/>
<text class="b" x="1178" y="784.1" font-size="25.5" text-anchor="middle" letter-spacing="0.9">**</text>
<line x1="1178.5" y1="805.5" x2="1222.5" y2="805.5" stroke-width="3.1" stroke="#000"/>
<text class="b" x="1201" y="806.6" font-size="25.5" text-anchor="middle" letter-spacing="0.9">***</text>
<line x1="1132.5" y1="825.5" x2="1179" y2="825.5" stroke-width="3.1" stroke="#000"/>
<text class="b" x="1156.25" y="826.6" font-size="25.5" text-anchor="middle" letter-spacing="0.9">****</text>
<circle cx="1125" cy="895" r="7.3" fill="#6f6f6f"/><circle cx="1147.5" cy="906" r="7.3" fill="#6f6f6f"/><circle cx="1132.5" cy="910" r="7.3" fill="#6f6f6f"/><circle cx="1140" cy="915" r="7.3" fill="#6f6f6f"/><circle cx="1135" cy="937.5" r="7.3" fill="#6f6f6f"/>
<g stroke="#000" stroke-width="1.6"><line x1="1121.5" y1="911.5" x2="1148.5" y2="911.5" stroke-width="1.6"/><line x1="1135" y1="904.5" x2="1135" y2="918.5" stroke-width="1.6"/><line x1="1128.5" y1="904.5" x2="1141.5" y2="904.5" stroke-width="1.6"/><line x1="1128.5" y1="918.5" x2="1141.5" y2="918.5" stroke-width="1.6"/></g>
<circle cx="1176" cy="841" r="7" fill="none" stroke="#6f6f6f" stroke-width="2.4"/><circle cx="1183" cy="844" r="7" fill="none" stroke="#6f6f6f" stroke-width="2.4"/><circle cx="1174" cy="849" r="7" fill="none" stroke="#6f6f6f" stroke-width="2.4"/><circle cx="1182" cy="850" r="7" fill="none" stroke="#6f6f6f" stroke-width="2.4"/><circle cx="1178.5" cy="856" r="7" fill="none" stroke="#6f6f6f" stroke-width="2.4"/>
<g stroke="#000" stroke-width="1.6"><line x1="1165" y1="848" x2="1192" y2="848" stroke-width="1.6"/><line x1="1178.5" y1="845.5" x2="1178.5" y2="850.5" stroke-width="1.6"/><line x1="1172" y1="845.5" x2="1185" y2="845.5" stroke-width="1.6"/><line x1="1172" y1="850.5" x2="1185" y2="850.5" stroke-width="1.6"/></g>
<circle cx="1218" cy="870" r="7" fill="none" stroke="#6f6f6f" stroke-width="2.4"/><circle cx="1218" cy="870" r="1.7" fill="#6f6f6f"/><circle cx="1226" cy="873" r="7" fill="none" stroke="#6f6f6f" stroke-width="2.4"/><circle cx="1226" cy="873" r="1.7" fill="#6f6f6f"/><circle cx="1217" cy="878" r="7" fill="none" stroke="#6f6f6f" stroke-width="2.4"/><circle cx="1217" cy="878" r="1.7" fill="#6f6f6f"/><circle cx="1225" cy="879" r="7" fill="none" stroke="#6f6f6f" stroke-width="2.4"/><circle cx="1225" cy="879" r="1.7" fill="#6f6f6f"/><circle cx="1221.5" cy="885" r="7" fill="none" stroke="#6f6f6f" stroke-width="2.4"/><circle cx="1221.5" cy="885" r="1.7" fill="#6f6f6f"/>
<g stroke="#000" stroke-width="1.6"><line x1="1208" y1="875.5" x2="1235" y2="875.5" stroke-width="1.6"/><line x1="1221.5" y1="873" x2="1221.5" y2="878" stroke-width="1.6"/><line x1="1215" y1="873" x2="1228" y2="873" stroke-width="1.6"/><line x1="1215" y1="878" x2="1228" y2="878" stroke-width="1.6"/></g>
<circle cx="1260" cy="900" r="7.3" fill="#000"/><circle cx="1267" cy="899" r="7.3" fill="#000"/><circle cx="1271" cy="901" r="7.3" fill="#000"/><circle cx="1265" cy="905" r="7.3" fill="#000"/><circle cx="1264" cy="910" r="7.3" fill="#000"/>
<g stroke="#000" stroke-width="1.6"><line x1="1251.5" y1="902" x2="1278.5" y2="902" stroke-width="1.6"/></g>
<circle cx="1303" cy="823" r="7" fill="none" stroke="#000" stroke-width="3"/><circle cx="1312" cy="822" r="7" fill="none" stroke="#000" stroke-width="3"/><circle cx="1306" cy="827" r="7" fill="none" stroke="#000" stroke-width="3"/><circle cx="1311" cy="828" r="7" fill="none" stroke="#000" stroke-width="3"/><circle cx="1308" cy="830" r="7" fill="none" stroke="#000" stroke-width="3"/>
<g stroke="#000" stroke-width="1.6"><line x1="1295" y1="826" x2="1322" y2="826" stroke-width="1.6"/></g>
<circle cx="1345" cy="868" r="7" fill="none" stroke="#000" stroke-width="3"/><circle cx="1345" cy="868" r="1.7" fill="#000"/><circle cx="1351" cy="867" r="7" fill="none" stroke="#000" stroke-width="3"/><circle cx="1351" cy="867" r="1.7" fill="#000"/><circle cx="1357" cy="868" r="7" fill="none" stroke="#000" stroke-width="3"/><circle cx="1357" cy="868" r="1.7" fill="#000"/><circle cx="1350" cy="870" r="7" fill="none" stroke="#000" stroke-width="3"/><circle cx="1350" cy="870" r="1.7" fill="#000"/><circle cx="1354" cy="870" r="7" fill="none" stroke="#000" stroke-width="3"/><circle cx="1354" cy="870" r="1.7" fill="#000"/>
<g stroke="#000" stroke-width="1.6"><line x1="1338" y1="868.5" x2="1365" y2="868.5" stroke-width="1.6"/></g>
</g>
<g>
<g stroke="#000" stroke-width="2">
<line x1="37.3" y1="1996.4" x2="37.3" y2="2176.6" stroke-width="2.5"/>
<line x1="36.2" y1="2175.5" x2="300" y2="2175.5" stroke-width="2.15"/>
<line x1="31.5" y1="2175.5" x2="37.3" y2="2175.5" stroke-width="2.5"/>
<line x1="31.5" y1="2131.8" x2="37.3" y2="2131.8" stroke-width="2.5"/>
<line x1="31.5" y1="2088" x2="37.3" y2="2088" stroke-width="2.5"/>
<line x1="31.5" y1="2044" x2="37.3" y2="2044" stroke-width="2.5"/>
<line x1="31.5" y1="2000" x2="37.3" y2="2000" stroke-width="2.5"/>
<line x1="59" y1="2175.5" x2="59" y2="2180.1" stroke-width="2.5"/>
<line x1="102.5" y1="2175.5" x2="102.5" y2="2180.1" stroke-width="2.5"/>
<line x1="146" y1="2175.5" x2="146" y2="2180.1" stroke-width="2.5"/>
<line x1="189" y1="2175.5" x2="189" y2="2180.1" stroke-width="2.5"/>
<line x1="232.5" y1="2175.5" x2="232.5" y2="2180.1" stroke-width="2.5"/>
<line x1="276" y1="2175.5" x2="276" y2="2180.1" stroke-width="2.5"/>
</g>
<text class="b" x="30.4" y="2183.79" font-size="27.3" text-anchor="end">0</text>
<text class="b" x="30.4" y="2140.09" font-size="27.3" text-anchor="end">20</text>
<text class="b" x="30.4" y="2096.29" font-size="27.3" text-anchor="end">40</text>
<text class="b" x="30.4" y="2052.29" font-size="27.3" text-anchor="end">60</text>
<text class="b" x="30.4" y="2008.29" font-size="27.3" text-anchor="end">80</text>
<text class="b" font-size="26" text-anchor="end" textLength="116" lengthAdjust="spacingAndGlyphs" transform="translate(67.6 2181.3) rotate(-90)">VAS+H<tspan font-size="19">2</tspan>O</text>
<text class="b" font-size="26" text-anchor="end" textLength="120" lengthAdjust="spacingAndGlyphs" transform="translate(111.1 2181.3) rotate(-90)">IMQ+H<tspan font-size="19">2</tspan>O</text>
<text class="b" font-size="26" text-anchor="end" textLength="124" lengthAdjust="spacingAndGlyphs" transform="translate(154.6 2181.3) rotate(-90)">IMQ+XYF</text>
<text class="b" font-size="26" text-anchor="end" textLength="116" lengthAdjust="spacingAndGlyphs" transform="translate(197.6 2181.3) rotate(-90)">VAS+H<tspan font-size="19">2</tspan>O</text>
<text class="b" font-size="26" text-anchor="end" textLength="120" lengthAdjust="spacingAndGlyphs" transform="translate(241.1 2181.3) rotate(-90)">IMQ+H<tspan font-size="19">2</tspan>O</text>
<text class="b" font-size="26" text-anchor="end" textLength="124" lengthAdjust="spacingAndGlyphs" transform="translate(284.6 2181.3) rotate(-90)">IMQ+XYF</text>
<line x1="48.5" y1="2313.5" x2="156" y2="2313.5" stroke-width="2.5" stroke="#000"/>
<line x1="180" y1="2313.5" x2="288.5" y2="2313.5" stroke-width="2.5" stroke="#000"/>
<text class="b" x="103.5" y="2341" font-size="27" text-anchor="middle">1st</text>
<text class="b" x="232.5" y="2341" font-size="27" text-anchor="middle">2nd</text>
<line x1="101" y1="1959" x2="232.5" y2="1959" stroke-width="3.1" stroke="#000"/>
<text class="bi" x="166.75" y="1953.5" font-size="27" text-anchor="middle" text-decoration="underline">n.s.</text>
<line x1="186" y1="1982.5" x2="276" y2="1982.5" stroke-width="3.1" stroke="#000"/>
<text class="b" x="231.5" y="1983.6" font-size="25.5" text-anchor="middle" letter-spacing="0.9">**</text>
<line x1="231" y1="2004" x2="276" y2="2004" stroke-width="3.1" stroke="#000"/>
<text class="bi" x="253.5" y="1998.5" font-size="27" text-anchor="middle" text-decoration="underline">n.s.</text>
<line x1="186" y1="2025" x2="231" y2="2025" stroke-width="3.1" stroke="#000"/>
<text class="bi" x="208.5" y="2019.5" font-size="27" text-anchor="middle" text-decoration="underline">n.s.</text>
<line x1="55" y1="1991.5" x2="145" y2="1991.5" stroke-width="3.1" stroke="#000"/>
<text class="b" x="100.5" y="1992.6" font-size="25.5" text-anchor="middle" letter-spacing="0.9">***</text>
<line x1="100" y1="2013.5" x2="145" y2="2013.5" stroke-width="3.1" stroke="#000"/>
<text class="b" x="123" y="2014.6" font-size="25.5" text-anchor="middle" letter-spacing="0.9">**</text>
<line x1="55" y1="2033.5" x2="100" y2="2033.5" stroke-width="3.1" stroke="#000"/>
<text class="bi" x="77.5" y="2028" font-size="27" text-anchor="middle" text-decoration="underline">n.s.</text>
<circle cx="55" cy="2061" r="7.3" fill="#6f6f6f"/><circle cx="63" cy="2062" r="7.3" fill="#6f6f6f"/><circle cx="57" cy="2068" r="7.3" fill="#6f6f6f"/><circle cx="62" cy="2070" r="7.3" fill="#6f6f6f"/><circle cx="59" cy="2078" r="7.3" fill="#6f6f6f"/>
<g stroke="#000" stroke-width="1.6"><line x1="45.5" y1="2067.5" x2="72.5" y2="2067.5" stroke-width="1.6"/><line x1="59" y1="2065" x2="59" y2="2070" stroke-width="1.6"/><line x1="52.5" y1="2065" x2="65.5" y2="2065" stroke-width="1.6"/><line x1="52.5" y1="2070" x2="65.5" y2="2070" stroke-width="1.6"/></g>
<circle cx="102.5" cy="2046" r="7" fill="none" stroke="#6f6f6f" stroke-width="2.4"/><circle cx="114" cy="2062.5" r="7" fill="none" stroke="#6f6f6f" stroke-width="2.4"/><circle cx="92.5" cy="2071.5" r="7" fill="none" stroke="#6f6f6f" stroke-width="2.4"/><circle cx="106" cy="2074" r="7" fill="none" stroke="#6f6f6f" stroke-width="2.4"/><circle cx="100" cy="2082.5" r="7" fill="none" stroke="#6f6f6f" stroke-width="2.4"/>
<g stroke="#000" stroke-width="1.6"><line x1="89" y1="2068.5" x2="116" y2="2068.5" stroke-width="1.6"/><line x1="102.5" y1="2062.5" x2="102.5" y2="2074.5" stroke-width="1.6"/><line x1="96" y1="2062.5" x2="109" y2="2062.5" stroke-width="1.6"/><line x1="96" y1="2074.5" x2="109" y2="2074.5" stroke-width="1.6"/></g>
<circle cx="146.5" cy="2083.5" r="7" fill="none" stroke="#6f6f6f" stroke-width="2.4"/><circle cx="146.5" cy="2083.5" r="1.7" fill="#6f6f6f"/><circle cx="157.5" cy="2115" r="7" fill="none" stroke="#6f6f6f" stroke-width="2.4"/><circle cx="157.5" cy="2115" r="1.7" fill="#6f6f6f"/><circle cx="135" cy="2121.5" r="7" fill="none" stroke="#6f6f6f" stroke-width="2.4"/><circle cx="135" cy="2121.5" r="1.7" fill="#6f6f6f"/><circle cx="150" cy="2122.5" r="7" fill="none" stroke="#6f6f6f" stroke-width="2.4"/><circle cx="150" cy="2122.5" r="1.7" fill="#6f6f6f"/><circle cx="143.5" cy="2130" r="7" fill="none" stroke="#6f6f6f" stroke-width="2.4"/><circle cx="143.5" cy="2130" r="1.7" fill="#6f6f6f"/>
<g stroke="#000" stroke-width="1.6"><line x1="132.5" y1="2114" x2="159.5" y2="2114" stroke-width="1.6"/><line x1="146" y1="2106" x2="146" y2="2122" stroke-width="1.6"/><line x1="139.5" y1="2106" x2="152.5" y2="2106" stroke-width="1.6"/><line x1="139.5" y1="2122" x2="152.5" y2="2122" stroke-width="1.6"/></g>
<circle cx="184" cy="2040" r="7.3" fill="#000"/><circle cx="198.5" cy="2042.5" r="7.3" fill="#000"/><circle cx="187.5" cy="2049" r="7.3" fill="#000"/><circle cx="192.5" cy="2062.5" r="7.3" fill="#000"/><circle cx="189" cy="2060" r="7.3" fill="#000"/>
<g stroke="#000" stroke-width="1.6"><line x1="175.5" y1="2050" x2="202.5" y2="2050" stroke-width="1.6"/><line x1="189" y1="2044" x2="189" y2="2056" stroke-width="1.6"/><line x1="182.5" y1="2044" x2="195.5" y2="2044" stroke-width="1.6"/><line x1="182.5" y1="2056" x2="195.5" y2="2056" stroke-width="1.6"/></g>
<circle cx="229" cy="2052.5" r="7" fill="none" stroke="#000" stroke-width="3"/><circle cx="239" cy="2051" r="7" fill="none" stroke="#000" stroke-width="3"/><circle cx="241" cy="2067.5" r="7" fill="none" stroke="#000" stroke-width="3"/><circle cx="231" cy="2062.5" r="7" fill="none" stroke="#000" stroke-width="3"/><circle cx="228.5" cy="2081" r="7" fill="none" stroke="#000" stroke-width="3"/>
<g stroke="#000" stroke-width="1.6"><line x1="219" y1="2062.5" x2="246" y2="2062.5" stroke-width="1.6"/><line x1="232.5" y1="2055.5" x2="232.5" y2="2069.5" stroke-width="1.6"/><line x1="226" y1="2055.5" x2="239" y2="2055.5" stroke-width="1.6"/><line x1="226" y1="2069.5" x2="239" y2="2069.5" stroke-width="1.6"/></g>
<circle cx="272.5" cy="2061" r="7" fill="none" stroke="#000" stroke-width="3"/><circle cx="272.5" cy="2061" r="1.7" fill="#000"/><circle cx="286.5" cy="2074" r="7" fill="none" stroke="#000" stroke-width="3"/><circle cx="286.5" cy="2074" r="1.7" fill="#000"/><circle cx="274" cy="2085" r="7" fill="none" stroke="#000" stroke-width="3"/><circle cx="274" cy="2085" r="1.7" fill="#000"/><circle cx="285" cy="2087.5" r="7" fill="none" stroke="#000" stroke-width="3"/><circle cx="285" cy="2087.5" r="1.7" fill="#000"/><circle cx="279" cy="2095" r="7" fill="none" stroke="#000" stroke-width="3"/><circle cx="279" cy="2095" r="1.7" fill="#000"/>
<g stroke="#000" stroke-width="1.6"><line x1="262.5" y1="2081" x2="289.5" y2="2081" stroke-width="1.6"/><line x1="276" y1="2074" x2="276" y2="2088" stroke-width="1.6"/><line x1="269.5" y1="2074" x2="282.5" y2="2074" stroke-width="1.6"/><line x1="269.5" y1="2088" x2="282.5" y2="2088" stroke-width="1.6"/></g>
</g>
<g>
<g stroke="#000" stroke-width="2">
<line x1="391.3" y1="1997.9" x2="391.3" y2="2176.6" stroke-width="2.5"/>
<line x1="390.2" y1="2175.5" x2="655" y2="2175.5" stroke-width="2.15"/>
<line x1="385.5" y1="2175.5" x2="391.3" y2="2175.5" stroke-width="2.5"/>
<line x1="385.5" y1="2126.7" x2="391.3" y2="2126.7" stroke-width="2.5"/>
<line x1="385.5" y1="2077.5" x2="391.3" y2="2077.5" stroke-width="2.5"/>
<line x1="385.5" y1="2028.5" x2="391.3" y2="2028.5" stroke-width="2.5"/>
<line x1="413.2" y1="2175.5" x2="413.2" y2="2180.1" stroke-width="2.5"/>
<line x1="456.5" y1="2175.5" x2="456.5" y2="2180.1" stroke-width="2.5"/>
<line x1="500.3" y1="2175.5" x2="500.3" y2="2180.1" stroke-width="2.5"/>
<line x1="543.8" y1="2175.5" x2="543.8" y2="2180.1" stroke-width="2.5"/>
<line x1="587.6" y1="2175.5" x2="587.6" y2="2180.1" stroke-width="2.5"/>
<line x1="631" y1="2175.5" x2="631" y2="2180.1" stroke-width="2.5"/>
</g>
<text class="b" x="384.4" y="2183.79" font-size="27.3" text-anchor="end">0</text>
<text class="b" x="384.4" y="2134.99" font-size="27.3" text-anchor="end">500</text>
<text class="b" x="384.4" y="2085.79" font-size="27.3" text-anchor="end">1000</text>
<text class="b" x="384.4" y="2036.79" font-size="27.3" text-anchor="end">1500</text>
<text class="b" font-size="26" text-anchor="end" textLength="116" lengthAdjust="spacingAndGlyphs" transform="translate(421.8 2181.3) rotate(-90)">VAS+H<tspan font-size="19">2</tspan>O</text>
<text class="b" font-size="26" text-anchor="end" textLength="120" lengthAdjust="spacingAndGlyphs" transform="translate(465.1 2181.3) rotate(-90)">IMQ+H<tspan font-size="19">2</tspan>O</text>
<text class="b" font-size="26" text-anchor="end" textLength="124" lengthAdjust="spacingAndGlyphs" transform="translate(508.9 2181.3) rotate(-90)">IMQ+XYF</text>
<text class="b" font-size="26" text-anchor="end" textLength="116" lengthAdjust="spacingAndGlyphs" transform="translate(552.4 2181.3) rotate(-90)">VAS+H<tspan font-size="19">2</tspan>O</text>
<text class="b" font-size="26" text-anchor="end" textLength="120" lengthAdjust="spacingAndGlyphs" transform="translate(596.2 2181.3) rotate(-90)">IMQ+H<tspan font-size="19">2</tspan>O</text>
<text class="b" font-size="26" text-anchor="end" textLength="124" lengthAdjust="spacingAndGlyphs" transform="translate(639.6 2181.3) rotate(-90)">IMQ+XYF</text>
<line x1="401" y1="2313.5" x2="509" y2="2313.5" stroke-width="2.5" stroke="#000"/>
<line x1="532.5" y1="2313.5" x2="641" y2="2313.5" stroke-width="2.5" stroke="#000"/>
<text class="b" x="456" y="2341" font-size="27" text-anchor="middle">1st</text>
<text class="b" x="586" y="2341" font-size="27" text-anchor="middle">2nd</text>
<line x1="456" y1="1959" x2="589" y2="1959" stroke-width="3.1" stroke="#000"/>
<text class="b" x="523" y="1960.1" font-size="25.5" text-anchor="middle" letter-spacing="0.9">*</text>
<line x1="541" y1="1981" x2="631" y2="1981" stroke-width="3.1" stroke="#000"/>
<text class="b" x="586.5" y="1982.1" font-size="25.5" text-anchor="middle" letter-spacing="0.9">***</text>
<line x1="585" y1="2003.5" x2="631" y2="2003.5" stroke-width="3.1" stroke="#000"/>
<text class="b" x="608.5" y="2004.6" font-size="25.5" text-anchor="middle" letter-spacing="0.9">***</text>
<line x1="541" y1="2023.5" x2="589" y2="2023.5" stroke-width="3.1" stroke="#000"/>
<text class="b" x="565.5" y="2024.6" font-size="25.5" text-anchor="middle" letter-spacing="0.9">****</text>
<line x1="411" y1="2010.5" x2="500" y2="2010.5" stroke-width="3.1" stroke="#000"/>
<text class="b" x="456" y="2011.6" font-size="25.5" text-anchor="middle" letter-spacing="0.9">*</text>
<line x1="456" y1="2032" x2="500" y2="2032" stroke-width="3.1" stroke="#000"/>
<text class="b" x="478.5" y="2033.1" font-size="25.5" text-anchor="middle" letter-spacing="0.9">*</text>
<line x1="411" y1="2052.5" x2="456" y2="2052.5" stroke-width="3.1" stroke="#000"/>
<text class="b" x="434" y="2053.6" font-size="25.5" text-anchor="middle" letter-spacing="0.9">***</text>
<circle cx="408" cy="2150" r="7.3" fill="#6f6f6f"/><circle cx="417" cy="2150" r="7.3" fill="#6f6f6f"/><circle cx="412.5" cy="2154" r="7.3" fill="#6f6f6f"/><circle cx="410" cy="2158" r="7.3" fill="#6f6f6f"/><circle cx="415" cy="2160" r="7.3" fill="#6f6f6f"/><circle cx="412.5" cy="2163" r="7.3" fill="#6f6f6f"/>
<g stroke="#000" stroke-width="1.6"><line x1="399.7" y1="2154" x2="426.7" y2="2154" stroke-width="1.6"/><line x1="413.2" y1="2152.5" x2="413.2" y2="2155.5" stroke-width="1.6"/><line x1="406.7" y1="2152.5" x2="419.7" y2="2152.5" stroke-width="1.6"/><line x1="406.7" y1="2155.5" x2="419.7" y2="2155.5" stroke-width="1.6"/></g>
<circle cx="450" cy="2074" r="7" fill="none" stroke="#6f6f6f" stroke-width="2.4"/><circle cx="465" cy="2075" r="7" fill="none" stroke="#6f6f6f" stroke-width="2.4"/><circle cx="462.5" cy="2104" r="7" fill="none" stroke="#6f6f6f" stroke-width="2.4"/><circle cx="452.5" cy="2109" r="7" fill="none" stroke="#6f6f6f" stroke-width="2.4"/><circle cx="456" cy="2117.5" r="7" fill="none" stroke="#6f6f6f" stroke-width="2.4"/>
<g stroke="#000" stroke-width="1.6"><line x1="443" y1="2096" x2="470" y2="2096" stroke-width="1.6"/><line x1="456.5" y1="2087" x2="456.5" y2="2105" stroke-width="1.6"/><line x1="450" y1="2087" x2="463" y2="2087" stroke-width="1.6"/><line x1="450" y1="2105" x2="463" y2="2105" stroke-width="1.6"/></g>
<circle cx="501" cy="2102.5" r="7" fill="none" stroke="#6f6f6f" stroke-width="2.4"/><circle cx="501" cy="2102.5" r="1.7" fill="#6f6f6f"/><circle cx="512.5" cy="2124" r="7" fill="none" stroke="#6f6f6f" stroke-width="2.4"/><circle cx="512.5" cy="2124" r="1.7" fill="#6f6f6f"/><circle cx="490" cy="2135" r="7" fill="none" stroke="#6f6f6f" stroke-width="2.4"/><circle cx="490" cy="2135" r="1.7" fill="#6f6f6f"/><circle cx="506" cy="2137.5" r="7" fill="none" stroke="#6f6f6f" stroke-width="2.4"/><circle cx="506" cy="2137.5" r="1.7" fill="#6f6f6f"/><circle cx="497.5" cy="2145" r="7" fill="none" stroke="#6f6f6f" stroke-width="2.4"/><circle cx="497.5" cy="2145" r="1.7" fill="#6f6f6f"/>
<g stroke="#000" stroke-width="1.6"><line x1="486.8" y1="2131.5" x2="513.8" y2="2131.5" stroke-width="1.6"/><line x1="500.3" y1="2123.5" x2="500.3" y2="2139.5" stroke-width="1.6"/><line x1="493.8" y1="2123.5" x2="506.8" y2="2123.5" stroke-width="1.6"/><line x1="493.8" y1="2139.5" x2="506.8" y2="2139.5" stroke-width="1.6"/></g>
<circle cx="538" cy="2143" r="7.3" fill="#000"/><circle cx="548" cy="2146" r="7.3" fill="#000"/><circle cx="541" cy="2150" r="7.3" fill="#000"/><circle cx="546" cy="2153" r="7.3" fill="#000"/><circle cx="543.5" cy="2157" r="7.3" fill="#000"/>
<g stroke="#000" stroke-width="1.6"><line x1="530.3" y1="2150" x2="557.3" y2="2150" stroke-width="1.6"/></g>
<circle cx="589" cy="2041" r="7" fill="none" stroke="#000" stroke-width="3"/><circle cx="581.5" cy="2064" r="7" fill="none" stroke="#000" stroke-width="3"/><circle cx="602.5" cy="2064" r="7" fill="none" stroke="#000" stroke-width="3"/><circle cx="592.5" cy="2072.5" r="7" fill="none" stroke="#000" stroke-width="3"/><circle cx="581" cy="2091.5" r="7" fill="none" stroke="#000" stroke-width="3"/>
<g stroke="#000" stroke-width="1.6"><line x1="574.1" y1="2066" x2="601.1" y2="2066" stroke-width="1.6"/><line x1="587.6" y1="2047" x2="587.6" y2="2085" stroke-width="1.6"/><line x1="581.1" y1="2047" x2="594.1" y2="2047" stroke-width="1.6"/><line x1="581.1" y1="2085" x2="594.1" y2="2085" stroke-width="1.6"/></g>
<circle cx="626" cy="2113" r="7" fill="none" stroke="#000" stroke-width="3"/><circle cx="626" cy="2113" r="1.7" fill="#000"/><circle cx="636" cy="2114" r="7" fill="none" stroke="#000" stroke-width="3"/><circle cx="636" cy="2114" r="1.7" fill="#000"/><circle cx="629" cy="2121" r="7" fill="none" stroke="#000" stroke-width="3"/><circle cx="629" cy="2121" r="1.7" fill="#000"/><circle cx="634" cy="2125" r="7" fill="none" stroke="#000" stroke-width="3"/><circle cx="634" cy="2125" r="1.7" fill="#000"/><circle cx="631" cy="2131" r="7" fill="none" stroke="#000" stroke-width="3"/><circle cx="631" cy="2131" r="1.7" fill="#000"/>
<g stroke="#000" stroke-width="1.6"><line x1="617.5" y1="2121.5" x2="644.5" y2="2121.5" stroke-width="1.6"/><line x1="631" y1="2119" x2="631" y2="2124" stroke-width="1.6"/><line x1="624.5" y1="2119" x2="637.5" y2="2119" stroke-width="1.6"/><line x1="624.5" y1="2124" x2="637.5" y2="2124" stroke-width="1.6"/></g>
</g>
<g>
<g stroke="#000" stroke-width="2">
<line x1="774.4" y1="1997.9" x2="774.4" y2="2175.6" stroke-width="2.5"/>
<line x1="773.3" y1="2174.5" x2="1033.5" y2="2174.5" stroke-width="2.15"/>
<line x1="768.6" y1="2174.5" x2="774.4" y2="2174.5" stroke-width="2.5"/>
<line x1="768.6" y1="2139.6" x2="774.4" y2="2139.6" stroke-width="2.5"/>
<line x1="768.6" y1="2104.5" x2="774.4" y2="2104.5" stroke-width="2.5"/>
<line x1="768.6" y1="2070" x2="774.4" y2="2070" stroke-width="2.5"/>
<line x1="768.6" y1="2035" x2="774.4" y2="2035" stroke-width="2.5"/>
<line x1="768.6" y1="2001" x2="774.4" y2="2001" stroke-width="2.5"/>
<line x1="795.7" y1="2174.5" x2="795.7" y2="2179.1" stroke-width="2.5"/>
<line x1="839" y1="2174.5" x2="839" y2="2179.1" stroke-width="2.5"/>
<line x1="882" y1="2174.5" x2="882" y2="2179.1" stroke-width="2.5"/>
<line x1="925.5" y1="2174.5" x2="925.5" y2="2179.1" stroke-width="2.5"/>
<line x1="969" y1="2174.5" x2="969" y2="2179.1" stroke-width="2.5"/>
<line x1="1013" y1="2174.5" x2="1013" y2="2179.1" stroke-width="2.5"/>
</g>
<text class="b" x="767.5" y="2182.79" font-size="27.3" text-anchor="end">0</text>
<text class="b" x="767.5" y="2147.89" font-size="27.3" text-anchor="end">20</text>
<text class="b" x="767.5" y="2112.79" font-size="27.3" text-anchor="end">40</text>
<text class="b" x="767.5" y="2078.29" font-size="27.3" text-anchor="end">60</text>
<text class="b" x="767.5" y="2043.29" font-size="27.3" text-anchor="end">80</text>
<text class="b" x="767.5" y="2009.29" font-size="27.3" text-anchor="end">100</text>
<text class="b" font-size="26" text-anchor="end" textLength="116" lengthAdjust="spacingAndGlyphs" transform="translate(804.3 2180.3) rotate(-90)">VAS+H<tspan font-size="19">2</tspan>O</text>
<text class="b" font-size="26" text-anchor="end" textLength="120" lengthAdjust="spacingAndGlyphs" transform="translate(847.6 2180.3) rotate(-90)">IMQ+H<tspan font-size="19">2</tspan>O</text>
<text class="b" font-size="26" text-anchor="end" textLength="124" lengthAdjust="spacingAndGlyphs" transform="translate(890.6 2180.3) rotate(-90)">IMQ+XYF</text>
<text class="b" font-size="26" text-anchor="end" textLength="116" lengthAdjust="spacingAndGlyphs" transform="translate(934.1 2180.3) rotate(-90)">VAS+H<tspan font-size="19">2</tspan>O</text>
<text class="b" font-size="26" text-anchor="end" textLength="120" lengthAdjust="spacingAndGlyphs" transform="translate(977.6 2180.3) rotate(-90)">IMQ+H<tspan font-size="19">2</tspan>O</text>
<text class="b" font-size="26" text-anchor="end" textLength="124" lengthAdjust="spacingAndGlyphs" transform="translate(1021.6 2180.3) rotate(-90)">IMQ+XYF</text>
<line x1="782.5" y1="2311.5" x2="891" y2="2311.5" stroke-width="2.5" stroke="#000"/>
<line x1="915" y1="2311.5" x2="1023.5" y2="2311.5" stroke-width="2.5" stroke="#000"/>
<text class="b" x="838.5" y="2339" font-size="27" text-anchor="middle">1st</text>
<text class="b" x="968.5" y="2339" font-size="27" text-anchor="middle">2nd</text>
<line x1="839" y1="1960" x2="970" y2="1960" stroke-width="3.1" stroke="#000"/>
<text class="b" x="905" y="1961.1" font-size="25.5" text-anchor="middle" letter-spacing="0.9">**</text>
<line x1="924" y1="1983.5" x2="1014" y2="1983.5" stroke-width="3.1" stroke="#000"/>
<text class="b" x="969.5" y="1984.6" font-size="25.5" text-anchor="middle" letter-spacing="0.9">****</text>
<line x1="968.5" y1="2005" x2="1014" y2="2005" stroke-width="3.1" stroke="#000"/>
<text class="b" x="991.75" y="2006.1" font-size="25.5" text-anchor="middle" letter-spacing="0.9">****</text>
<line x1="924" y1="2026" x2="970" y2="2026" stroke-width="3.1" stroke="#000"/>
<text class="b" x="947.5" y="2027.1" font-size="25.5" text-anchor="middle" letter-spacing="0.9">****</text>
<line x1="794" y1="2002.5" x2="884" y2="2002.5" stroke-width="3.1" stroke="#000"/>
<text class="b" x="839.5" y="2003.6" font-size="25.5" text-anchor="middle" letter-spacing="0.9">****</text>
<line x1="838.5" y1="2024.5" x2="884" y2="2024.5" stroke-width="3.1" stroke="#000"/>
<text class="b" x="861.75" y="2025.6" font-size="25.5" text-anchor="middle" letter-spacing="0.9">***</text>
<line x1="794" y1="2045" x2="839" y2="2045" stroke-width="3.1" stroke="#000"/>
<text class="b" x="817" y="2046.1" font-size="25.5" text-anchor="middle" letter-spacing="0.9">****</text>
<circle cx="790" cy="2153" r="7.3" fill="#6f6f6f"/><circle cx="799" cy="2153" r="7.3" fill="#6f6f6f"/><circle cx="794" cy="2156" r="7.3" fill="#6f6f6f"/><circle cx="797" cy="2158" r="7.3" fill="#6f6f6f"/>
<g stroke="#000" stroke-width="1.6"><line x1="782.2" y1="2154.5" x2="809.2" y2="2154.5" stroke-width="1.6"/></g>
<circle cx="834" cy="2059" r="7" fill="none" stroke="#6f6f6f" stroke-width="2.4"/><circle cx="842" cy="2059" r="7" fill="none" stroke="#6f6f6f" stroke-width="2.4"/><circle cx="836" cy="2063" r="7" fill="none" stroke="#6f6f6f" stroke-width="2.4"/><circle cx="841" cy="2064" r="7" fill="none" stroke="#6f6f6f" stroke-width="2.4"/><circle cx="838.5" cy="2066" r="7" fill="none" stroke="#6f6f6f" stroke-width="2.4"/>
<g stroke="#000" stroke-width="1.6"><line x1="825.5" y1="2062.5" x2="852.5" y2="2062.5" stroke-width="1.6"/><line x1="839" y1="2061.3" x2="839" y2="2063.7" stroke-width="1.6"/><line x1="832.5" y1="2061.3" x2="845.5" y2="2061.3" stroke-width="1.6"/><line x1="832.5" y1="2063.7" x2="845.5" y2="2063.7" stroke-width="1.6"/></g>
<circle cx="879" cy="2120" r="7" fill="none" stroke="#6f6f6f" stroke-width="2.4"/><circle cx="879" cy="2120" r="1.7" fill="#6f6f6f"/><circle cx="887.5" cy="2126" r="7" fill="none" stroke="#6f6f6f" stroke-width="2.4"/><circle cx="887.5" cy="2126" r="1.7" fill="#6f6f6f"/><circle cx="876" cy="2130" r="7" fill="none" stroke="#6f6f6f" stroke-width="2.4"/><circle cx="876" cy="2130" r="1.7" fill="#6f6f6f"/><circle cx="884" cy="2131" r="7" fill="none" stroke="#6f6f6f" stroke-width="2.4"/><circle cx="884" cy="2131" r="1.7" fill="#6f6f6f"/><circle cx="881" cy="2140" r="7" fill="none" stroke="#6f6f6f" stroke-width="2.4"/><circle cx="881" cy="2140" r="1.7" fill="#6f6f6f"/>
<g stroke="#000" stroke-width="1.6"><line x1="868.5" y1="2129" x2="895.5" y2="2129" stroke-width="1.6"/><line x1="882" y1="2126" x2="882" y2="2132" stroke-width="1.6"/><line x1="875.5" y1="2126" x2="888.5" y2="2126" stroke-width="1.6"/><line x1="875.5" y1="2132" x2="888.5" y2="2132" stroke-width="1.6"/></g>
<circle cx="922.5" cy="2132.5" r="7.3" fill="#000"/><circle cx="930" cy="2137.5" r="7.3" fill="#000"/><circle cx="925" cy="2145" r="7.3" fill="#000"/><circle cx="925" cy="2152.5" r="7.3" fill="#000"/>
<g stroke="#000" stroke-width="1.6"><line x1="912" y1="2141.5" x2="939" y2="2141.5" stroke-width="1.6"/></g>
<circle cx="962.5" cy="2042.5" r="7" fill="none" stroke="#000" stroke-width="3"/><circle cx="976" cy="2042.5" r="7" fill="none" stroke="#000" stroke-width="3"/><circle cx="965" cy="2048.5" r="7" fill="none" stroke="#000" stroke-width="3"/><circle cx="974" cy="2048.5" r="7" fill="none" stroke="#000" stroke-width="3"/><circle cx="968.5" cy="2061" r="7" fill="none" stroke="#000" stroke-width="3"/>
<g stroke="#000" stroke-width="1.6"><line x1="955.5" y1="2047.5" x2="982.5" y2="2047.5" stroke-width="1.6"/><line x1="969" y1="2044.5" x2="969" y2="2050.5" stroke-width="1.6"/><line x1="962.5" y1="2044.5" x2="975.5" y2="2044.5" stroke-width="1.6"/><line x1="962.5" y1="2050.5" x2="975.5" y2="2050.5" stroke-width="1.6"/></g>
<circle cx="1009" cy="2085" r="7" fill="none" stroke="#000" stroke-width="3"/><circle cx="1009" cy="2085" r="1.7" fill="#000"/><circle cx="1015" cy="2091.5" r="7" fill="none" stroke="#000" stroke-width="3"/><circle cx="1015" cy="2091.5" r="1.7" fill="#000"/><circle cx="1009" cy="2097.5" r="7" fill="none" stroke="#000" stroke-width="3"/><circle cx="1009" cy="2097.5" r="1.7" fill="#000"/><circle cx="1015" cy="2101" r="7" fill="none" stroke="#000" stroke-width="3"/><circle cx="1015" cy="2101" r="1.7" fill="#000"/><circle cx="1012" cy="2094" r="7" fill="none" stroke="#000" stroke-width="3"/><circle cx="1012" cy="2094" r="1.7" fill="#000"/>
<g stroke="#000" stroke-width="1.6"><line x1="999.5" y1="2095" x2="1026.5" y2="2095" stroke-width="1.6"/></g>
</g>
<g>
<g stroke="#000" stroke-width="1.9">
<line x1="1147.9" y1="1997.9" x2="1147.9" y2="2173.9" stroke-width="2.5"/>
<line x1="1146.8" y1="2172.8" x2="1407.5" y2="2172.8" stroke-width="2.05"/>
<line x1="1142.1" y1="2172.8" x2="1147.9" y2="2172.8" stroke-width="2.5"/>
<line x1="1142.1" y1="2125" x2="1147.9" y2="2125" stroke-width="2.5"/>
<line x1="1142.1" y1="2076.5" x2="1147.9" y2="2076.5" stroke-width="2.5"/>
<line x1="1142.1" y1="2028.5" x2="1147.9" y2="2028.5" stroke-width="2.5"/>
<line x1="1168.5" y1="2172.8" x2="1168.5" y2="2177.4" stroke-width="2.5"/>
<line x1="1212.5" y1="2172.8" x2="1212.5" y2="2177.4" stroke-width="2.5"/>
<line x1="1256" y1="2172.8" x2="1256" y2="2177.4" stroke-width="2.5"/>
<line x1="1299" y1="2172.8" x2="1299" y2="2177.4" stroke-width="2.5"/>
<line x1="1342.5" y1="2172.8" x2="1342.5" y2="2177.4" stroke-width="2.5"/>
<line x1="1386" y1="2172.8" x2="1386" y2="2177.4" stroke-width="2.5"/>
</g>
<text class="b" x="1141" y="2181.09" font-size="27.3" text-anchor="end">0</text>
<text class="b" x="1141" y="2133.29" font-size="27.3" text-anchor="end">500</text>
<text class="b" x="1141" y="2084.79" font-size="27.3" text-anchor="end">1000</text>
<text class="b" x="1141" y="2036.79" font-size="27.3" text-anchor="end">1500</text>
<text class="b" font-size="26" text-anchor="end" textLength="116" lengthAdjust="spacingAndGlyphs" transform="translate(1177.1 2178.6) rotate(-90)">VAS+H<tspan font-size="19">2</tspan>O</text>
<text class="b" font-size="26" text-anchor="end" textLength="120" lengthAdjust="spacingAndGlyphs" transform="translate(1221.1 2178.6) rotate(-90)">IMQ+H<tspan font-size="19">2</tspan>O</text>
<text class="b" font-size="26" text-anchor="end" textLength="124" lengthAdjust="spacingAndGlyphs" transform="translate(1264.6 2178.6) rotate(-90)">IMQ+XYF</text>
<text class="b" font-size="26" text-anchor="end" textLength="116" lengthAdjust="spacingAndGlyphs" transform="translate(1307.6 2178.6) rotate(-90)">VAS+H<tspan font-size="19">2</tspan>O</text>
<text class="b" font-size="26" text-anchor="end" textLength="120" lengthAdjust="spacingAndGlyphs" transform="translate(1351.1 2178.6) rotate(-90)">IMQ+H<tspan font-size="19">2</tspan>O</text>
<text class="b" font-size="26" text-anchor="end" textLength="124" lengthAdjust="spacingAndGlyphs" transform="translate(1394.6 2178.6) rotate(-90)">IMQ+XYF</text>
<line x1="1157.5" y1="2310" x2="1265" y2="2310" stroke-width="2.5" stroke="#000"/>
<line x1="1290" y1="2310" x2="1397.5" y2="2310" stroke-width="2.5" stroke="#000"/>
<text class="b" x="1212.5" y="2337.5" font-size="27" text-anchor="middle">1st</text>
<text class="b" x="1342.5" y="2337.5" font-size="27" text-anchor="middle">2nd</text>
<line x1="1212.5" y1="1987" x2="1344" y2="1987" stroke-width="3.1" stroke="#000"/>
<text class="b" x="1278.75" y="1988.1" font-size="25.5" text-anchor="middle" letter-spacing="0.9">*</text>
<line x1="1297.5" y1="2011.5" x2="1387.5" y2="2011.5" stroke-width="3.1" stroke="#000"/>
<text class="b" x="1343" y="2012.6" font-size="25.5" text-anchor="middle" letter-spacing="0.9">****</text>
<line x1="1341.5" y1="2033.5" x2="1387.5" y2="2033.5" stroke-width="3.1" stroke="#000"/>
<text class="b" x="1365" y="2034.6" font-size="25.5" text-anchor="middle" letter-spacing="0.9">****</text>
<line x1="1297.5" y1="2055" x2="1344" y2="2055" stroke-width="3.1" stroke="#000"/>
<text class="b" x="1321.25" y="2056.1" font-size="25.5" text-anchor="middle" letter-spacing="0.9">****</text>
<line x1="1167.5" y1="2049" x2="1257.5" y2="2049" stroke-width="3.1" stroke="#000"/>
<text class="b" x="1213" y="2050.1" font-size="25.5" text-anchor="middle" letter-spacing="0.9">**</text>
<line x1="1212.5" y1="2071" x2="1257.5" y2="2071" stroke-width="3.1" stroke="#000"/>
<text class="b" x="1235.5" y="2072.1" font-size="25.5" text-anchor="middle" letter-spacing="0.9">***</text>
<line x1="1167.5" y1="2091.5" x2="1213.5" y2="2091.5" stroke-width="3.1" stroke="#000"/>
<text class="b" x="1191" y="2092.6" font-size="25.5" text-anchor="middle" letter-spacing="0.9">****</text>
<circle cx="1160" cy="2170" r="7.3" fill="#6f6f6f"/><circle cx="1165" cy="2170" r="7.3" fill="#6f6f6f"/><circle cx="1170" cy="2170" r="7.3" fill="#6f6f6f"/><circle cx="1175" cy="2170" r="7.3" fill="#6f6f6f"/><circle cx="1178" cy="2170" r="7.3" fill="#6f6f6f"/>
<g stroke="#000" stroke-width="1.6"><line x1="1155" y1="2171" x2="1182" y2="2171" stroke-width="1.6"/></g>
<circle cx="1205" cy="2111.5" r="7" fill="none" stroke="#6f6f6f" stroke-width="2.4"/><circle cx="1220" cy="2113.5" r="7" fill="none" stroke="#6f6f6f" stroke-width="2.4"/><circle cx="1212.5" cy="2125" r="7" fill="none" stroke="#6f6f6f" stroke-width="2.4"/><circle cx="1207.5" cy="2130" r="7" fill="none" stroke="#6f6f6f" stroke-width="2.4"/><circle cx="1215" cy="2135" r="7" fill="none" stroke="#6f6f6f" stroke-width="2.4"/>
<g stroke="#000" stroke-width="1.6"><line x1="1199" y1="2122.5" x2="1226" y2="2122.5" stroke-width="1.6"/><line x1="1212.5" y1="2116.5" x2="1212.5" y2="2128.5" stroke-width="1.6"/><line x1="1206" y1="2116.5" x2="1219" y2="2116.5" stroke-width="1.6"/><line x1="1206" y1="2128.5" x2="1219" y2="2128.5" stroke-width="1.6"/></g>
<circle cx="1252" cy="2154" r="7" fill="none" stroke="#6f6f6f" stroke-width="2.4"/><circle cx="1252" cy="2154" r="1.7" fill="#6f6f6f"/><circle cx="1260" cy="2156" r="7" fill="none" stroke="#6f6f6f" stroke-width="2.4"/><circle cx="1260" cy="2156" r="1.7" fill="#6f6f6f"/><circle cx="1254" cy="2161" r="7" fill="none" stroke="#6f6f6f" stroke-width="2.4"/><circle cx="1254" cy="2161" r="1.7" fill="#6f6f6f"/><circle cx="1259" cy="2163" r="7" fill="none" stroke="#6f6f6f" stroke-width="2.4"/><circle cx="1259" cy="2163" r="1.7" fill="#6f6f6f"/><circle cx="1256" cy="2166" r="7" fill="none" stroke="#6f6f6f" stroke-width="2.4"/><circle cx="1256" cy="2166" r="1.7" fill="#6f6f6f"/>
<g stroke="#000" stroke-width="1.6"><line x1="1242.5" y1="2161" x2="1269.5" y2="2161" stroke-width="1.6"/><line x1="1256" y1="2159.5" x2="1256" y2="2162.5" stroke-width="1.6"/><line x1="1249.5" y1="2159.5" x2="1262.5" y2="2159.5" stroke-width="1.6"/><line x1="1249.5" y1="2162.5" x2="1262.5" y2="2162.5" stroke-width="1.6"/></g>
<circle cx="1293" cy="2166" r="7.3" fill="#000"/><circle cx="1298" cy="2167" r="7.3" fill="#000"/><circle cx="1303" cy="2167.5" r="7.3" fill="#000"/><circle cx="1306" cy="2168" r="7.3" fill="#000"/>
<g stroke="#000" stroke-width="1.6"><line x1="1285.5" y1="2168" x2="1312.5" y2="2168" stroke-width="1.6"/></g>
<circle cx="1342.5" cy="2072.5" r="7" fill="none" stroke="#000" stroke-width="3"/><circle cx="1352.5" cy="2092.5" r="7" fill="none" stroke="#000" stroke-width="3"/><circle cx="1332.5" cy="2098.5" r="7" fill="none" stroke="#000" stroke-width="3"/><circle cx="1345" cy="2097.5" r="7" fill="none" stroke="#000" stroke-width="3"/><circle cx="1339" cy="2109" r="7" fill="none" stroke="#000" stroke-width="3"/>
<g stroke="#000" stroke-width="1.6"><line x1="1329" y1="2096" x2="1356" y2="2096" stroke-width="1.6"/><line x1="1342.5" y1="2080" x2="1342.5" y2="2112" stroke-width="1.6"/><line x1="1336" y1="2080" x2="1349" y2="2080" stroke-width="1.6"/><line x1="1336" y1="2112" x2="1349" y2="2112" stroke-width="1.6"/></g>
<circle cx="1381" cy="2146" r="7" fill="none" stroke="#000" stroke-width="3"/><circle cx="1381" cy="2146" r="1.7" fill="#000"/><circle cx="1390" cy="2147" r="7" fill="none" stroke="#000" stroke-width="3"/><circle cx="1390" cy="2147" r="1.7" fill="#000"/><circle cx="1383" cy="2151" r="7" fill="none" stroke="#000" stroke-width="3"/><circle cx="1383" cy="2151" r="1.7" fill="#000"/><circle cx="1389" cy="2152" r="7" fill="none" stroke="#000" stroke-width="3"/><circle cx="1389" cy="2152" r="1.7" fill="#000"/><circle cx="1386" cy="2156" r="7" fill="none" stroke="#000" stroke-width="3"/><circle cx="1386" cy="2156" r="1.7" fill="#000"/>
<g stroke="#000" stroke-width="1.6"><line x1="1372.5" y1="2149" x2="1399.5" y2="2149" stroke-width="1.6"/></g>
</g>
<text class="s" x="6.1" y="32.9" font-size="43.6">A</text>
<text class="s" x="4" y="241" font-size="43.6">D</text>
<text class="s" x="4" y="480.8" font-size="43.6">F</text>
<text class="s" x="4" y="700" font-size="43.6">B</text>
<text class="s" x="399.9" y="700.3" font-size="43.6">C</text>
<text class="s" x="744.4" y="700.3" font-size="43.6">E</text>
<text class="s" x="1080.7" y="700.3" font-size="43.6">G</text>
<text class="s" x="4" y="1174.8" font-size="43.6">H</text>
<text class="s" x="6.1" y="1562.1" font-size="43.6">J</text>
<text class="s" x="4" y="1918.75" font-size="43.6">I</text>
<text class="s" x="673.6" y="1918.75" font-size="43.6">K</text>
<text class="b" x="101" y="701" font-size="27" textLength="250" lengthAdjust="spacingAndGlyphs">Right Ear PASI Score</text>
<text class="b" x="460" y="701" font-size="27" textLength="215" lengthAdjust="spacingAndGlyphs">Ear Swelling (mm)</text>
<text class="b" x="822.5" y="701" font-size="27" textLength="186" lengthAdjust="spacingAndGlyphs">Acanthosis (μm)</text>
<text class="b" x="1163.5" y="701" font-size="27" textLength="169" lengthAdjust="spacingAndGlyphs">Ki-67<tspan dy="-8" font-size="18">+</tspan><tspan dy="8"> H-score</tspan></text>
<text class="b" x="42.5" y="1928.2" font-size="27" textLength="254" lengthAdjust="spacingAndGlyphs">Dermal γδ<tspan dy="-9" font-size="17">int</tspan><tspan dy="9"> T cells %</tspan></text>
<text class="b" x="405" y="1928.2" font-size="27" textLength="243.5" lengthAdjust="spacingAndGlyphs">Dermal γδ<tspan dy="-9" font-size="17">int</tspan><tspan dy="9"> T cells #</tspan></text>
<text class="b" x="731.2" y="1927.3" font-size="27" textLength="334.8" lengthAdjust="spacingAndGlyphs">Dermal IL-17<tspan dy="-8" font-size="18">+</tspan><tspan dy="8"> γδ</tspan><tspan dy="-9" font-size="17">int</tspan><tspan dy="9"> T cells %</tspan></text>
<text class="b" x="1104" y="1924" font-size="27" textLength="333.5" lengthAdjust="spacingAndGlyphs">Dermal IL-17<tspan dy="-8" font-size="18">+</tspan><tspan dy="8"> γδ</tspan><tspan dy="-9" font-size="17">int</tspan><tspan dy="9"> T cells %</tspan></text>
</g>
<g id="flow">
<text class="b" x="452.5" y="1186" font-size="27" textLength="316" lengthAdjust="spacingAndGlyphs">Dermal CD45<tspan dy="-8" font-size="18">+</tspan><tspan dy="8"> CD11b</tspan><tspan dy="-8" font-size="18">-</tspan><tspan dy="8"> cells</tspan></text>
<text class="b" x="783.5" y="1170" font-size="27" fill="#f3131b" textLength="127.5" lengthAdjust="spacingAndGlyphs">γδ<tspan dy="-8" font-size="17">int</tspan><tspan dy="8"> T cells</tspan></text>
<text class="b" x="776.5" y="1202.5" font-size="27" fill="#0ba14b" textLength="141" lengthAdjust="spacingAndGlyphs">γδ<tspan dy="-8" font-size="17">high</tspan><tspan dy="8"> T cells</tspan></text>
<text class="b" x="410" y="1230.5" font-size="27" text-anchor="middle">1st</text>
<text class="b" x="1023.5" y="1230.5" font-size="27" text-anchor="middle">2nd</text>
<line x1="116" y1="1238.5" x2="682.5" y2="1238.5" stroke-width="2.3" stroke="#000"/>
<line x1="730" y1="1238.5" x2="1296" y2="1238.5" stroke-width="2.3" stroke="#000"/>
<text class="b" x="125" y="1265" font-size="27" textLength="115" lengthAdjust="spacingAndGlyphs">VAS+H<tspan dy="6" font-size="18">2</tspan><tspan dy="-6">O</tspan></text>
<text class="b" x="346" y="1265" font-size="27" textLength="121.5" lengthAdjust="spacingAndGlyphs">IMQ+H<tspan dy="6" font-size="18">2</tspan><tspan dy="-6">O</tspan></text>
<text class="b" x="552.5" y="1265" font-size="27" textLength="128.5" lengthAdjust="spacingAndGlyphs">IMQ+XYF</text>
<text class="b" x="740" y="1265" font-size="27" textLength="115" lengthAdjust="spacingAndGlyphs">VAS+H<tspan dy="6" font-size="18">2</tspan><tspan dy="-6">O</tspan></text>
<text class="b" x="961" y="1265" font-size="27" textLength="120" lengthAdjust="spacingAndGlyphs">IMQ+H<tspan dy="6" font-size="18">2</tspan><tspan dy="-6">O</tspan></text>
<text class="b" x="1167.5" y="1265" font-size="27" textLength="123.5" lengthAdjust="spacingAndGlyphs">IMQ+XYF</text>
<path d="M80.5 1283.3V1484.7H1326" fill="none" stroke="#000" stroke-width="3.5"/><path d="M80.5 1273.3l-6.3 14.5h12.6z"/><path d="M1336 1484.7l-14.5 -6.6v13.2z"/>
<text class="b" font-size="27" text-anchor="middle" transform="translate(67 1371) rotate(-90)">TCRβ</text>
<text class="b" x="712" y="1512.5" font-size="27" text-anchor="middle">γδTCR</text>
<g transform="translate(94.4 1272.8)">
<path d="M27 22 31 21.6 37 22.8 43 27.4 49.6 41 50.8 45 52.5 55 51.4 71 46.7 86 39 93.8 31 97.2 28 97.5 24.4 97 21 94.7 16 87.3 12.3 83 9.5 74 8.2 68 7.6 62 8.8 47 11.6 38 14.7 31 17 27.5 20 24.7 23 23.1 27 22ZM101.1 99 105 98.2 110 99.5 115 99.2 121 101.6 127 103.1 132.5 108 136.6 115 137.5 119 139.5 124 140 132 139.6 134 136.8 138 134.7 145 133 148 130.3 151 122 156.5 114 158.3 104 158.4 94 155.5 88.5 152 86.6 150 81.5 142 78.4 135 77.1 130 76.2 129 73 127.9 64 127.4 52 124.9 50 125.5 49 127.4 48.5 135 45.8 144 42.1 150 38 153.5 33 155.4 28 156.5 26 156.4 19 153.7 13.4 149 12 147.3 7.4 134 7.2 129 8.2 123 10.5 117 13 113.4 19 107.8 22 105.7 25 104.7 29 104.3 33 105.3 43 112.6 49 119.4 51 119.8 54 118.6 60 117.3 78.1 116 80 114.8 84 108.8 91 103 98 99.8 101.1 99ZM27.1 26 30 25.4 35 26.4 38 28 41 30.8 42.7 35 45.9 39 46.9 41 48.8 46 50.7 54 49.4 71 45 83.8 43 86 38 90.1 32 92.6 29 93.3 22 90.9 14.5 82 13.3 79 10.6 69 9.7 62 10.8 47 16.4 34 21 28.2 23 27.1 27.1 26ZM103.3 101 105 100.9 109 102.1 116 102.5 126 106 130.7 110 132 112 133.9 116 136.4 125 136.8 133 134.1 137 130.6 146 128.4 149 127.1 150 123.2 152 120 154.2 118 155 115 155.5 108 155.4 98 154.2 95 153.3 92.2 151 84.4 142 81.4 135 80.4 128 79 126.2 64 125.4 58.6 124 56.8 123 56.2 122 57 120.9 62 119.1 73 118.8 80 117.9 82.6 116 88 110 93 105.3 100 101.9 103.3 101ZM23.7 108 26 107.5 31 107.8 33 108.4 37 111 44.4 117 45.4 119 46.4 123 46.7 134 44.8 142 42.3 146 39 150 36 152.1 33 153.1 26 153.6 19 150.5 13.8 145 10.6 138 9.4 134 9 129 9.5 125 10.3 122 12.2 118 15 114.6 23.7 108ZM26.4 30 29 29.3 33 30 38 32.4 44.7 42 48.4 51 49 54 48.1 60 47.7 71 44.6 77 43.2 82 36 88.3 33 89.6 31 89.9 25 88.9 23 88.1 16.8 82 14.9 78 11.6 63 12.7 53 12.5 49 12.9 47 15.4 43 19.2 35 23 32 26.4 30ZM101.2 104 104 103.7 120 106.2 127 110 129.1 112 130.8 115 133.6 124 133.9 126 133.3 131 131.4 138 127.5 145 125.4 148 118 152.1 115 152.8 108 152.7 98 151.7 96 151 87 141.3 83.9 134 83.5 127 80.3 122 80.7 121 85 117.6 90.8 111 95 107.4 101.2 104ZM23.9 111 25 110.6 31 110.3 33 110.8 36.7 113 42.5 118 43.7 121 44.7 127 44.9 133 43.4 141 41.7 144 38 148.4 36 149.7 32 151.1 28 151.4 25 150.9 21 149.1 19 147.6 16.4 145 14.5 142 12.6 138 11 132 10.6 129 11.4 125 14.7 118 17 115.7 23.9 111ZM25.4 34 28 33.3 32 34.8 35 34.5 37 35.3 42.6 42 46.4 50 47.3 53 46.2 64 46.4 69 45.7 72 43 76.3 41 81.5 35 86.3 33 87.3 24 86 18 80.5 16.5 78 15.7 73 13.1 64 13.2 61 14.7 53 14.6 48 20.8 37 23 35.2 25.4 34ZM102.2 106 110 106.5 118 107.8 120 108.3 123.1 110 126 112 127.9 114 129.7 120 131.8 124 132 127 129.8 137 127 142.1 124 145.6 116 149.7 108 150.7 100 149.8 97 148.7 91.4 143 86.1 134 85.6 126 84.8 122 85.2 121 88.9 116 93 111.8 98 108 102.2 106ZM24.6 113 32 112.4 36 114.5 41.9 121 43.4 128 43.2 136 42.5 139 41.3 142 37 147.2 35 148.2 30 149.6 27 149.5 24 148.6 21 147.1 18.5 145 16.9 143 14.8 139 12.2 131 12.4 128 16.2 119 19.5 116 24.6 113ZM24 37 28 36.2 35 37 37 37.8 40.1 41 45.6 52 44.4 71 42 75.1 40 80.1 37 82.5 33 84.5 25 84.3 23.4 83 21.2 80 18.5 78 17.6 76 14.6 65 14.6 62 16.7 48 21 40 24 37ZM99.7 109 102 108 109 108.2 119 110.2 122 111.5 126.3 115 128.2 121 130.5 125 130.5 127 128.5 136 127.2 139 125 142 120 145.5 116 147.3 108 149 100 147.7 96 145.3 93.5 143 90.5 137 88.3 134 87.3 126 87.4 122 88.1 120 91 116.2 95 112.5 99.7 109ZM27.1 114 32 114 34 114.8 36 116.3 41 122.7 42.4 129 41.7 137 39 143 37 145.3 35 146.6 29 148 27 147.8 22 145.8 18.6 143 15.5 137 13.5 130 16.4 122 18 119.5 22.3 116 27.1 114ZM24.5 39 30 38.4 35 38.9 37 39.6 39.1 42 44.3 52 43.7 57 43.8 62 42.6 71 39 79.2 37 80.7 33 82.2 30 82.4 26 82 22.9 79 20 77 18.7 75 16.1 66 15.9 64 18.1 49 22.2 41 24.5 39ZM101.8 110 106 110.3 110 110 120 112.4 123 114 125.4 117 127 122 129 126 127.2 135 126.2 138 125 140 118 144.9 116 145.6 111 145.9 108 146.6 101.3 146 99 144.2 96 143 94.7 142 93.4 140 92 136.2 89.8 133 89 127 89.8 120 91.1 118 96 113.5 101.8 110ZM24.9 116 29 115 32 115.4 34 116.3 35.8 118 39.6 123 41.2 128 41 135 38.1 142 35 144.9 30 146.5 28 146.4 20 142.6 18.7 141 16.8 137 15 131 15.2 129 18 121.9 21.8 118 24.9 116ZM24.7 41 29 40.4 36.2 41 38 42.7 43.3 52 42.5 57 42.9 62 41.6 70 38 78.3 36 79.5 33 80.3 30 80.6 28 80 21.2 76 19.9 74 17.6 67 18.7 51 20.9 46 23.5 42 24.7 41ZM101.1 112 103 111.6 106 112 110 111.8 114 112.4 118 114.1 121 114.7 122.7 116 124 117.8 127 126 127 129 126.3 133 123.9 139 117 143.9 108 144.4 103 143.9 97 141.6 95.1 140 93.7 136 91.6 133 90.6 127 91.5 120 96 115.1 101.1 112ZM25.3 117 29 116.1 32 116.7 34 117.9 38.5 124 40.4 129 40.1 135 37.2 141 34 144 30 145.3 28 145 25 143.1 22 142.1 20.3 141 18 136.8 16.8 133 16.7 130 19 123 22.3 119 25.3 117ZM25.2 43 28 42.2 34 42.3 36 42.9 39 46.3 42.2 52 41.5 57 42.1 62 40.8 69 37 77 35 78.1 30 78.8 24 76.3 21.6 74 19.2 69 18.9 66 19.7 61 19.6 52 21.8 47 25.2 43ZM100.5 114 103 113 113 113.4 117 115.7 120.9 117 122.6 119 125.3 127 125.2 132 122.5 138 117 142.2 115 142.7 112 142.3 108 142.7 99 140.6 97.6 140 96.8 139 95.2 135 92.9 132 92 127 93.3 121 94.2 119 96.9 116 100.5 114ZM25.5 118 29 117.2 31 117.7 33.1 119 35 121 39.3 129 39.5 134 38.8 136 35.6 141 33.1 143 31 144 29 144 21.4 140 19.4 137 18.2 134 18.2 131 20 124 22.7 120 25.5 118ZM26.9 44 32 43.7 36 45.1 39 48.2 40.7 51 41.3 53 40.6 57 41.3 62 39.8 69 37 73.7 35 75.9 31 77.1 28 76.7 24.7 75 21 70 20.2 68 20.9 62 20.6 54 20.9 52 23.5 47 26.9 44ZM101.9 115 104 114.4 112 114.4 113.7 115 116.5 117 119.4 118 120.7 119 123.6 127 124.1 130 123.4 133 121.2 137 120.2 138 115 140.6 109 140.7 101 139.6 99.4 139 98.4 138 96 133.1 93.7 130 93.2 127 97 118.1 101.9 115ZM25.9 119 29 118.7 33 120.9 34.1 122 38.4 130 38.7 134 38 135.7 35 139.6 31 142.4 28 142.1 22.8 139 21 137.2 19.4 134 19.8 129 21.3 124 23 121 25.9 119ZM26.3 46 29 45.1 33 45.4 35 46.2 38 48.8 40.1 53 39.7 56 40.5 62 39.2 68 36 72.8 32 75.3 29 75.3 26.1 74 21.9 68 22.3 57 22 53 24.5 48 26.3 46ZM104.1 116 112 115.5 115 117.6 118.6 119 119.7 120 120.8 125 122.3 128 122.5 130 120.6 135 119 137 112 139.2 107 138.3 102 138.2 99.7 137 97 132.1 94.6 129 94.3 127 95.2 125 99 119.3 104.1 116ZM24.4 121 26 120.3 28 120.3 32 121.9 33.2 123 37.2 130 37.9 133 37.5 135 35 137.9 31 140.6 28 140.8 26 139.8 22 136.1 20.6 134 20.4 132 21 128 22.9 123 24.4 121ZM30.8 47 34 47.3 35.3 48 37.1 50 38.6 53 39.8 61 38.3 67 36.1 71 34 72.8 31 73.7 28 72.9 23.8 68 23 61 23.5 57 23.3 54 24 52 27 47.9 28 47.3 30.8 47ZM106.7 117 110 116.2 112 116.6 114.9 119 117.8 120 118.7 121 119.3 125 120.9 129 119 134.5 118 135.7 112 137.7 107 136.3 102 136.3 100 134.7 95.8 129 95.5 128 95.9 126 100 120.5 104 117.8 106.7 117ZM25.5 122 30 122.3 32 123.4 36.1 130 36.8 132 36.9 134 36 135.6 30 139.6 28 139.6 26 138.5 22.6 135 21.7 133 22.1 128 24 123.5 25.5 122ZM31.5 50 33 49.3 34 49.5 36 51.7 37.3 54 39 60 38.8 62 37.1 65 36.1 69 35 70.6 33 71.7 27 69.5 26 68.6 25 67 23.9 61 24.7 54 25.2 53 27 51.6 31.5 50ZM107.3 118 109 117.3 111 117.3 114 119.7 117 121.1 117.7 122 119 129.3 116.7 134 114 135.7 112 136 101 132.9 97.9 130 96.6 128 97 126 101 121.1 103 119.7 107.3 118ZM26.2 124 29 123.6 31 124.2 34.4 129 35.8 132 35.9 134 35.2 135 30 138.6 28 138.6 26.8 138 23.9 135 23 133 23.5 128 25 125.1 26.2 124ZM27.9 53 32 52.3 34 52.9 35.3 54 38 59 38.2 61 37.8 62 34.7 65 34.9 68 34 69.7 33 70 27 67.3 26 65.7 25 62 25 60 26 54.6 27.9 53ZM107.7 119 110 118.1 111 118.3 116.2 122 116.9 123 117.2 127 116.8 129 114.4 133 113 133.8 101 131.4 99 129.9 97.7 128 98.1 126 101.5 122 103 120.9 107.7 119ZM27.7 126 30 125.6 31 126.1 33.9 130 34.8 133 34 134.5 29 137.7 28 137.6 26 136.2 24.2 133 25.4 128 27.7 126ZM29.2 54 31 53.9 33 54.7 36.3 58 37.3 60 37 61.2 33.8 63 32.8 64 32.9 67 32 67.4 28 65.7 27 64.3 26.4 62 26.9 56 28 54.5 29.2 54ZM108.2 120 110 119.1 111 119.3 115.7 123 116.2 126 115 128.7 113 130.6 112 131 109 130.3 106 130.8 103 130.6 100 129.4 98.9 128 98.8 127 100 125 103 122.2 108.2 120ZM27.9 128 30 127.5 31 127.9 32.9 130 33.5 132 33 133.5 29 136.5 27 136 26 135 25.2 133 26.1 130 27.9 128ZM28.8 56 30 55.6 31 55.8 33.1 58 35.1 59 35.6 60 34 60.6 30 59.8 28.5 58 28.8 56ZM108.6 121 110 120.2 111 120.3 114.5 123 115.3 125 115 126.4 114 127.7 112 128.3 109 126.9 105 129 102 129 101 128.4 100.5 127 103 124 108.6 121ZM27.7 130 30 129.1 31 129.4 32.2 131 31.7 133 29 135.1 28 135.2 27 134.6 26.3 133 27.7 130Z" fill="none" stroke="#2e2e2e" stroke-width="0.7"/>
<ellipse cx="174" cy="123" rx="4" ry="5" transform="rotate(35 174 123)" fill="none" stroke="#3c3c3c" stroke-width="0.6"/>
<path d="M156.2 135.2h.9M156.6 118.7h.9M146 120.7h.9" stroke="#666" stroke-width="0.9" fill="none"/>
<rect x="0" y="0" width="197.6" height="196.6" fill="none" stroke="#000" stroke-width="1"/>
<rect x="57.3" y="83.5" width="136" height="105.3" fill="none" stroke="#000" stroke-width="1"/>
<line x1="146.2" y1="83.5" x2="146.2" y2="188.8" stroke-width="1.6" stroke="#000"/>
<path d="M46.5 196.6v5.4M99.4 196.6v5.4M150.7 196.6v5.4M1.2 196.6v5.4M62.42 196.6v3M71.74 196.6v3M78.35 196.6v3M83.48 196.6v3M87.66 196.6v3M91.21 196.6v3M94.27 196.6v3M96.98 196.6v3M114.84 196.6v3M123.88 196.6v3M130.29 196.6v3M135.26 196.6v3M139.32 196.6v3M142.75 196.6v3M145.73 196.6v3M148.35 196.6v3M166.14 196.6v3M175.18 196.6v3M181.59 196.6v3M186.56 196.6v3M190.62 196.6v3M194.05 196.6v3M4.5 196.6v3M6.7 196.6v3M8.9 196.6v3M11.1 196.6v3M13.3 196.6v3M15.5 196.6v3M17.7 196.6v3M19.9 196.6v3M27 196.6v3M29.3 196.6v3M31.6 196.6v3M33.9 196.6v3M36.2 196.6v3M38.5 196.6v3M40.8 196.6v3M43.1 196.6v3" stroke="#000" stroke-width="0.9" fill="none"/><path d="M21.5 198.5h5" stroke="#000" stroke-width="3.8"/>
<path d="M0 19h-4.8M0 68h-4.8M0 117h-4.8M0 155h-4.8M0 190h-4.8M0 53.25h-2.8M0 44.62h-2.8M0 38.5h-2.8M0 33.75h-2.8M0 29.87h-2.8M0 26.59h-2.8M0 23.75h-2.8M0 21.24h-2.8M0 102.25h-2.8M0 93.62h-2.8M0 87.5h-2.8M0 82.75h-2.8M0 78.87h-2.8M0 75.59h-2.8M0 72.75h-2.8M0 70.24h-2.8M0 143.56h-2.8M0 136.87h-2.8M0 132.12h-2.8M0 128.44h-2.8M0 125.43h-2.8M0 122.89h-2.8M0 120.68h-2.8M0 118.74h-2.8M0 179.46h-2.8M0 173.3h-2.8M0 168.93h-2.8M0 165.54h-2.8M0 162.76h-2.8M0 160.42h-2.8M0 158.39h-2.8M0 156.6h-2.8" stroke="#000" stroke-width="0.8" fill="none"/><path d="M-3.6 134.5v5" stroke="#000" stroke-width="3"/>
<text class="b" x="80.5" y="75" font-size="26" fill="#f3131b" textLength="45" lengthAdjust="spacingAndGlyphs">49.1</text>
<text class="b" x="146.8" y="75" font-size="26" fill="#0ba14b" textLength="45" lengthAdjust="spacingAndGlyphs">2.73</text>
</g>
<g transform="translate(302.4 1272.8)">
<path d="M26.9 21 30 20.7 34 21.3 40 23.7 42.8 26 47.9 34 51 42 52.4 47 53.1 55 52.8 65 49.9 75 44.6 87 37.7 93 36 98.9 35.5 104 36 108.3 38 111.1 41.8 115 46.2 123 47.9 132 47.8 136 43.7 144 39.1 149 36 150.7 30 152.4 24 151.5 21 149.9 16.1 145 13.3 139 12.9 131 14.6 120 16.3 117 23.9 109 24.8 105 22.6 92 22 90.8 17.5 87 14.8 83 12.5 76 9.5 70 8.4 65 7.7 58 8.3 49 10.7 39 12.7 34 15.9 29 19 25.6 26.9 21ZM89 99 96 98.5 104 100.1 109 100.5 115 102.8 123 108.2 127.5 112 131 115.7 133.7 121 134.3 124 134.2 132 131.8 141 126.5 148 124 150.6 116 156.7 109 159.7 99 161.3 91 161.3 86 160.6 83 159.4 73 157 67.7 154 64 149.7 58.7 145 57.1 142 56.6 137 55.3 133 55.2 130 56.7 126 58 120 62.6 112 66 108.5 74.4 104 80 101.4 89 99ZM26.8 25 30 24.2 33 24.1 38 25.9 41 28.1 44.8 33 46.4 36 49.9 47 51 56 50.6 65 48.6 72 43.5 84 42 86.1 36.5 90 35.4 92 33.8 106 33.8 108 34.5 110 40 116.5 43.8 123 45.7 134 45.6 136 42.6 142 38 147.3 35 149.1 30 150.2 24 149.4 21 147.7 17.5 144 15.2 139 15.1 127 16.1 121 18 117.9 25.7 110 26.5 108 26.6 105 25.2 99 24 89.4 19.3 85 16.5 81 14.7 75 11.3 69 9.6 58 10.2 50 12 45 12.6 41 16 34 20 28.5 26.8 25ZM90.9 102 94 101.8 103 102.5 108 103.3 112.9 105 116 107.2 119 110 125 113.9 129.9 122 130.3 124 130 130 128.6 134 128.7 138 128.2 140 126 143.1 119.5 150 115 154 112 155.7 108 157 98 158.5 91 158.2 85 156.1 80 155.8 72 153 66 146.8 62.2 144 61.5 143 60.7 138 58.6 132 60.1 128 61.2 120 65 113.3 67 111.7 71 110.1 76 106.2 79 104.7 90.9 102ZM27.2 28 32 27.1 36 28.4 38 29.4 43.2 34 44.4 36 47.3 46 47.8 51 49.3 57 48.9 64 47.3 70 42 81.5 36 87.2 34 90 33.4 93 33 101.5 31 107.3 30 108 26.5 98 25.9 94 25.9 88 25 86.4 22 84 18.9 80 16.3 74 13.7 70 12.8 67 11.4 57 11.6 52 14 46.2 15.1 41 19 34 25 29.2 27.2 28ZM91.3 105 94 104.8 103 105.3 110 106.6 115 109.9 118 113.4 123 116.6 124.6 119 125.3 123 125.3 129 123 141 117.2 149 114 151.9 112 153.1 104 155.1 93 155.8 91 155.6 87 154 81 153.7 75 150.5 70 147.1 65.2 141 64.8 138 62.4 133 63.2 129 63.3 126 64.4 121 66.4 117 68 115.2 74.6 110 78 107.9 82 106.3 91.3 105ZM28.9 111 30 110 31 110.2 38.8 118 42.3 125 43.8 135 43.5 137 42 139.7 37 145.8 34 147.7 30 148.4 24 147.4 21 145.6 18.2 142 16.8 137 16.8 126 17.9 121 20.4 118 28.9 111ZM27.4 30 30 29.6 36 31 42 35.2 43.7 39 47.9 58 47.7 62 45.6 70 42 75.9 40.2 80 35 85 32.5 89 31.9 92 31.8 99 31 101.1 30 101 29 99.8 27.3 95 27.1 93 28 88 27.8 86 26.6 84 23.6 82 19.9 78 15.4 70 14.1 65 13 57 13.1 53 15 48.5 17.2 41 21 35.1 27.4 30ZM91.7 107 94 106.9 99 108.2 105 107.9 109 108.8 114 111.8 116.6 115 120.4 118 121.7 120 122.7 126 119.8 140 116 147.2 112 150.6 106 152.2 97 153.4 92 153.5 87 152.1 82 152.1 79.9 151 75.7 147 72 144.8 68.2 140 65.5 133 65.4 131 65.8 126 67.6 123 69 119.2 73 114.4 77 111.2 84 108.2 91.7 107ZM30.5 114 32 114 34 115.1 37 117.9 38.4 120 40.3 124 41.2 127 42.3 135 41.9 137 40.8 139 36 144.6 33 146.4 29 146.9 24 145.9 21.5 144 19.7 142 18.4 138 18.1 127 18.7 123 20.6 120 26 115.5 30.5 114ZM27.8 32 29 31.7 36 33.1 41.1 37 42.5 40 46.6 58 46.5 61 44.7 68 43.3 71 38.2 79 35 81.8 32 83.3 25 80.7 20.3 76 16.7 69 14.3 58 14.7 54 18.5 42 22 36.8 27.8 32ZM90.6 109 93 108.6 97 110.2 104 110.3 108 111.4 113 113.5 115.1 116 118 118.2 119.6 120 120.8 123 121 126 117.4 137 116.7 141 115 144.5 113 146.6 104 150.1 98 151.5 93 151.5 86 150 83 150.2 81 149 79 146.2 74.9 144 70 138.1 67.3 132 67.4 128 71 121.2 73.9 117 76 115.1 81 113.1 85 110.2 90.6 109ZM30.3 116 32 115.9 34 116.7 36 118.5 37.7 121 40 128 40.8 136 38.6 140 35 143.7 32 145.3 28 145.7 26 145.4 24 144.4 20.6 141 19.5 137 19.2 127 20.2 123 24 118.6 26 117.2 30.3 116ZM28.3 34 30 33.8 35 34.5 40.9 40 43.2 48 45.4 59 42.7 69 39 75 36 78.1 34 79.5 29 80.3 26 79.5 20.5 74 18.6 70 17.3 66 15.5 58 15.6 56 17.7 48 20.1 42 23 38.1 28.3 34ZM90.1 111 93 110.6 96 111.9 104 112.5 106 113 112 116.1 116.4 119 118 120.5 119.2 123 119.2 126 115.3 137 114 142.3 113 143.4 107 146 103 148.6 98 149.9 95 150 83 146.7 81 145 76 142.3 72 137.8 69 132 68.7 130 69.3 128 74 123 76 117.6 86 112 90.1 111ZM28 118 31 117.5 33 117.8 36 120.2 37.5 123 38.5 127 39.5 135 38.5 138 36 141.3 32 144 29 144.6 25 143.8 21.9 141 20.9 138 20.1 131 20.3 127 21 124.6 25.7 119 28 118ZM27.9 36 30 35.5 34 36.1 39.5 41 40.5 45 42.4 49 44.1 59 42.1 67 39.8 72 38 74 33 78 29 79 26.3 78 21 72.4 18.6 66 16.6 58 18.5 49 21.5 42 23 40 27.9 36ZM87.4 113 91 112.7 95 113.4 99 113.4 105 114.6 110 118 114.6 120 115.7 121 116.7 123 117 125 116.1 131 115 134 112 139.3 110.7 141 102 147.7 97 148.6 94 148.3 85 145.2 78.4 142 74 137 72.8 134 70.9 131 70.8 130 71.6 128 75 125.5 76 124 77 120 78 118.3 87.4 113ZM27.1 120 31 119.2 34 120.1 36.3 123 37.6 128 38.1 135 37.2 138 35 140.7 30 143.4 26 143 23.2 141 22.3 139 21 132 21 129 21.7 126 27.1 120ZM28.9 38 34 38.7 37.7 41 38.4 42 39 45.4 41.3 49 42.8 57 41.3 66 39.1 71 33 76.4 30 77.7 27.4 77 22 71.7 19.8 66 17.7 57 19.5 49 22.2 43 24 40.9 28.9 38ZM88.2 114 99 114.6 103.8 116 113.2 122 113.6 123 113.4 127 114.3 130 113.7 133 108.6 140 103.9 145 102 146.4 98 147.2 95 147 79.8 141 77.6 139 75.8 134 73.4 131 73.6 129 76.6 126 79.1 120 83.7 116 88.2 114ZM29.5 121 33 121.5 35.4 124 36.4 128 36.9 135 35.8 138 34 139.9 31 141.6 28 142.2 26 141.7 23.9 140 21.8 130 22.1 128 23 126.2 27.2 122 29.5 121ZM31.9 41 35 40.8 36.7 42 37.7 46 40.5 50 41.6 54 41.9 57 40.1 62 40.3 66 38.5 70 37 71.8 33 74.9 30 76.3 28 75.5 24 72.2 22.3 70 20.8 66 18.9 57 20.7 49 23.6 43 26 41.7 31.9 41ZM85.8 116 89 115 92 115.6 97 115.4 99 115.8 107 119.4 111.2 123 112.1 131 111.7 133 107.5 139 102 145 99 145.8 95 145.5 82.3 140 80 138.4 79 137 77.8 134 75.9 131 75.9 130 77.2 128 78.9 123 80 121.2 83 118 85.8 116ZM28.2 123 31 122.5 34 124 35.2 127 35.9 133 35.3 136 34 138 31 139.9 28 140.6 26 140.1 25.1 139 24.7 135 23 132 22.7 130 23.8 127 28.2 123ZM27.6 43 33 42.1 35 42.5 36 44 36.7 47 39.8 51 41 55 40.9 57 38.6 61 39 66 37.8 69 36.2 71 31 74.7 29 74.4 25 71.8 23.3 70 21.7 66 21.4 62 20.1 58 20.4 55 23.6 45 25 43.4 27.6 43ZM86.5 117 88 116.4 92 116.9 96 116.3 98 116.6 103 119.6 106.9 121 109.7 124 110.1 126 109.8 133 102 143.2 98 144.2 95 144.1 87 140.1 84 139.2 82.7 138 81.2 135 78.6 132 78.2 130 80 123.2 86.5 117ZM29.2 124 31 123.8 33.3 125 34.2 127 34.9 132 34.8 134 33.8 136 32 137.6 30 138.2 28 138 27.3 137 26.4 134 24 131.3 23.8 130 25 127.3 29.2 124ZM28.3 44 33 43.4 34.4 44 35.8 48 38.6 51 40.1 55 39.7 57 37.6 60 37.5 65 36.1 69 33.1 72 31 73.1 27 71.9 24 69.4 22.7 66 22.7 62 21.1 58 21.2 56 23.2 51 24.3 46 26 44.4 28.3 44ZM93.1 118 96 117.2 98.7 118 102 120.7 106 122.8 107.6 125 108.3 127 108.2 133 105 136.3 102.6 140 101 141.1 99 141.1 95 142.6 92 141.8 88 138.9 84.6 138 83.7 137 82.4 134 80.5 132 79.8 130 80.4 125 82 122.6 85.3 121 88 118.9 91 118.8 93.1 118ZM28 126 31 125 32 125.4 33.2 127 33.9 133 33 135 32 135.7 30 135.8 25.4 130 26 128 28 126ZM28.5 45 32 44.4 33.4 45 34.4 48 38 51.9 39.1 55 38.9 56 36.4 59 35.8 65 33.2 70 31 71.4 27 70.7 24.8 69 23.7 66 23.9 62 22.1 58 22.2 56 24.7 51 25.2 47 26 45.9 28.5 45ZM93.9 119 96 118.2 97 118.4 103.4 123 106.5 127 107.2 130 106.9 132 106.2 133 103.6 135 101 138.3 95 141.3 94 141.4 92 140.7 89 138.1 85 136.7 81.6 131 81.1 128 81.6 125 83 123.6 88.2 122 93.9 119ZM28.7 127 31 126.5 32 127.2 32.9 131 32.6 133 32 133.7 31 133.8 30 133.1 27.7 130 27.4 129 27.7 128 28.7 127ZM29.4 46 31 45.6 32.3 46 33.2 49 36.7 52 37.7 54 37.7 55 37 55.9 34.2 58 35.1 61 34.9 64 31.8 69 31 69.7 29 70 27 69.5 25.4 68 24.9 66 25.2 62 23 58 22.9 57 23.7 55 26.2 52 26.9 48 29.4 46ZM93.9 121 96 120 97 120.3 102 123.5 105 127.1 105.9 130 105 132 103 133.6 100 137.3 94 140.2 92 139.5 89 136.9 86 136 83.2 131 82.4 128 82.7 126 83.8 125 89 123.9 93.9 121ZM32 51 34 51.4 35.9 53 36.1 54 35.3 55 33 55.2 30.8 54 30.7 52 32 51ZM25.9 55 27.7 56 28.6 59 33 60.2 34 61.9 33.6 64 30 68.4 28 68.5 27 68 26.4 67 26.6 60 25 58.8 24.1 57 25 55.4 25.9 55ZM98.6 124 100 123.8 102 124.9 104.5 129 104 130.7 101.8 133 98.9 137 96 138.6 94 139.1 93 138.8 90 136.2 87 135.1 86 134.1 84.6 129 85 127.3 89 126.9 92 125.2 93 125 93.9 126 96 126.3 98.6 124ZM29.9 62 32 61.9 32.4 63 31 65.5 29 66.9 27.9 66 27.9 64 28.4 63 29.9 62ZM98.9 126 100 125.5 101 125.8 102 127 102.6 129 99.6 132 99.1 135 97.6 137 96 137.7 94 137.9 87.3 133 87.3 131 89.4 129 92 128 97 127.9 98.9 126Z" fill="none" stroke="#2e2e2e" stroke-width="0.7"/>
<path d="M133.9 151.9h.9M131.3 147h.9M108.8 145.2h.9M36.7 163.9h.9M112.7 154h.9M35.8 91.2h.9M63.9 126.9h.9M105.7 138.7h.9M113.2 122h.9M105.8 151h.9M71.9 188.1h.9M114.5 173.5h.9M73.3 119.3h.9M83 137h.9M117.1 147h.9M79.3 113.2h.9M76.8 174.2h.9M66.7 146.9h.9M109.9 98.3h.9M96.7 176.6h.9M24.5 131h.9M91.3 117.1h.9M112.4 138.3h.9M43.7 163.2h.9M118.4 166.5h.9M145.4 150.1h.9M99.2 103.6h.9M116.5 122.9h.9M79.2 104.6h.9M61.1 125.1h.9M140.1 83.1h.9M44 146.7h.9M145.5 156.2h.9M28.5 69.5h.9M107.5 119.4h.9M55.8 167.4h.9M133.6 144.4h.9M103.6 152.2h.9M150.8 157.3h.9M113.2 155.3h.9M40.1 175.9h.9M128.4 154.8h.9M25.9 122.3h.9M124.5 89.3h.9M88.6 168.5h.9M49.1 185.1h.9M114.3 135.8h.9M106.4 158.2h.9M99.2 172.1h.9M71.8 128.4h.9M131.5 140.8h.9M64.2 166.5h.9M146.3 127.5h.9M46.7 136.2h.9M89.8 131.7h.9M144.2 111.2h.9M139.1 104.5h.9M67.5 157.7h.9M134.5 164.1h.9M107.1 144h.9M100.3 156.1h.9M88.8 147.8h.9M115 140h.9M121.7 155.8h.9M165.4 149.1h.9M80 129.6h.9M94.5 165.9h.9M83.2 150.8h.9M159.3 68.2h.9M55.7 146.8h.9M108.9 146.7h.9M79.9 158.3h.9M104.9 125.4h.9M180.1 149.9h.9M75.6 137.2h.9M87.1 138.2h.9M130.3 107.3h.9M92.7 166.7h.9M125 181.7h.9M35.5 130.1h.9M83.1 157.5h.9M133.2 64.9h.9M133.1 99.5h.9M118.9 98.2h.9M101.2 173.5h.9M89.8 145.4h.9M122.9 144h.9M91.9 182.9h.9M131.7 131.8h.9M191.1 107.9h.9M127 132.6h.9M99.6 159.7h.9M102.8 157.9h.9M41.5 97.7h.9M116.5 113h.9M59.1 98.8h.9M139.3 160.9h.9M146.6 113.7h.9M95 108.1h.9M121.8 184.5h.9M63.8 183.7h.9M129.6 135h.9M26 179.4h.9M91.6 123.1h.9M109 151.5h.9M147.4 111.4h.9M134.8 181.6h.9M145.8 134.9h.9M69 168.5h.9" stroke="#666" stroke-width="0.9" fill="none"/>
<path d="M166.4 126.9h.9M182.1 121h.9M137.4 119.2h.9M142.8 137.3h.9M168.8 115.8h.9M164.9 137.5h.9M165.9 144.9h.9M164.3 140.6h.9M182.9 149.1h.9M156.9 138.2h.9M142.5 108.7h.9M141.4 141h.9M150.2 124.8h.9M162.7 124.6h.9M157.9 128.5h.9M186.5 125.7h.9M171.4 140h.9M162.6 106.1h.9M158.3 141.1h.9M145.2 116h.9M177.1 136.9h.9M165.1 137.1h.9M167 107.3h.9M146.2 115.4h.9M176.1 116.5h.9" stroke="#666" stroke-width="0.9" fill="none"/>
<path d="M12 36.9h.9M6.4 70.9h.9M44.5 51.7h.9M35.8 46.2h.9M45.6 82.4h.9M43.3 69.8h.9M56.7 79.8h.9M47.9 99.3h.9M24.1 45.9h.9M68.8 7.3h.9M39.4 132.7h.9M11.4 80.7h.9M67.7 56.4h.9M41.2 87.1h.9M11.9 57.3h.9" stroke="#666" stroke-width="0.9" fill="none"/>
<rect x="0" y="0" width="197.6" height="196.6" fill="none" stroke="#000" stroke-width="1"/>
<rect x="57.3" y="83.5" width="136" height="105.3" fill="none" stroke="#000" stroke-width="1"/>
<line x1="146.2" y1="83.5" x2="146.2" y2="188.8" stroke-width="1.6" stroke="#000"/>
<path d="M46.5 196.6v5.4M99.4 196.6v5.4M150.7 196.6v5.4M1.2 196.6v5.4M62.42 196.6v3M71.74 196.6v3M78.35 196.6v3M83.48 196.6v3M87.66 196.6v3M91.21 196.6v3M94.27 196.6v3M96.98 196.6v3M114.84 196.6v3M123.88 196.6v3M130.29 196.6v3M135.26 196.6v3M139.32 196.6v3M142.75 196.6v3M145.73 196.6v3M148.35 196.6v3M166.14 196.6v3M175.18 196.6v3M181.59 196.6v3M186.56 196.6v3M190.62 196.6v3M194.05 196.6v3M4.5 196.6v3M6.7 196.6v3M8.9 196.6v3M11.1 196.6v3M13.3 196.6v3M15.5 196.6v3M17.7 196.6v3M19.9 196.6v3M27 196.6v3M29.3 196.6v3M31.6 196.6v3M33.9 196.6v3M36.2 196.6v3M38.5 196.6v3M40.8 196.6v3M43.1 196.6v3" stroke="#000" stroke-width="0.9" fill="none"/><path d="M21.5 198.5h5" stroke="#000" stroke-width="3.8"/>
<path d="M0 19h-4.8M0 68h-4.8M0 117h-4.8M0 155h-4.8M0 190h-4.8M0 53.25h-2.8M0 44.62h-2.8M0 38.5h-2.8M0 33.75h-2.8M0 29.87h-2.8M0 26.59h-2.8M0 23.75h-2.8M0 21.24h-2.8M0 102.25h-2.8M0 93.62h-2.8M0 87.5h-2.8M0 82.75h-2.8M0 78.87h-2.8M0 75.59h-2.8M0 72.75h-2.8M0 70.24h-2.8M0 143.56h-2.8M0 136.87h-2.8M0 132.12h-2.8M0 128.44h-2.8M0 125.43h-2.8M0 122.89h-2.8M0 120.68h-2.8M0 118.74h-2.8M0 179.46h-2.8M0 173.3h-2.8M0 168.93h-2.8M0 165.54h-2.8M0 162.76h-2.8M0 160.42h-2.8M0 158.39h-2.8M0 156.6h-2.8" stroke="#000" stroke-width="0.8" fill="none"/><path d="M-3.6 134.5v5" stroke="#000" stroke-width="3"/>
<text class="b" x="80.5" y="75" font-size="26" fill="#f3131b" textLength="45" lengthAdjust="spacingAndGlyphs">51.5</text>
<text class="b" x="146.8" y="75" font-size="26" fill="#0ba14b" textLength="45" lengthAdjust="spacingAndGlyphs">0.58</text>
</g>
<g transform="translate(510.6 1272.8)">
<path d="M22.5 38 26 37.6 30 37.9 35 39.6 37.6 41 44.6 50 47.6 57 49.4 65 49.8 75 47.6 85 44 92.2 42.6 97 42.1 103 43.1 106 44.9 108 47 109.4 49 110 55 110.2 66 108.4 76 105 89 102.6 102 103.5 111 104.8 119 107.8 120.5 109 121.8 111 123.1 115 123.2 117 122.7 119 119.9 123 112 130.2 106 132.2 101 135.2 93 138.4 79 142 74 141.9 69 142.5 65 141.8 59 141.8 53.3 143 40 153.3 37 154.9 27 156.7 25 156.6 22 155.7 17 155.1 10 150.4 6.9 147 2.1 139 1.4 133 -0.1 127 0.3 123 5.2 114 10 108 11.5 104 11.8 102 11.1 97 6.9 91 2.7 78 2.3 65 3.3 59 4.6 55 6.6 51 10 46.1 14 41.8 22.5 38ZM23.7 41 29 41.3 35 43.3 38.2 47 42.6 51 44.9 57 47.1 68 47.2 76 45.4 84 43 87.5 41.9 90 40.6 95 39.6 102 40.2 107 42.5 110 47 112.9 50 113.8 68 110.2 76 106.9 83 105.3 91 104.6 102 105.4 106 106.5 111 107.1 116 109 118 110.5 119.3 113 119.9 116 119.1 119 117.3 122 111 127.2 104.2 130 100 133.4 93 136 84 138.1 80 139.8 75 139.4 69 139.7 60 138.9 54 139.9 50 141.8 43 147.8 38 151.1 28 154.1 25 154.2 18 152.6 12 149 9.1 146 4.4 138 2.6 126 2.7 124 3.6 122 12 110 14 105 14.2 103 13.5 96 9.1 90 5.6 80 4.7 72 4.7 63 8.1 53 11.6 48 15 45.5 22 41.5 23.7 41ZM23.3 44 26 43.4 29 43.7 35 47.3 41 53 42.6 57 43.6 65 45.1 70 45.1 76 43.7 82 40.4 88 39 92 37.6 102 38.2 108 39.5 110 42 112.3 47 116.3 49 117 61 114.4 65 113 70 112.2 77 108.4 80 107.5 92 106.5 101 107.1 111 109.4 114.8 111 115.6 112 116.1 114 115.7 119 115 120.4 109 125 103 127.9 100 131.2 98 132 95 132.2 89 134.9 84 135.5 79 137.4 68 137.3 59 136.4 53 137.3 50 138.9 43 144.8 37 148.4 28 151.8 25 152 18 149.9 12 145.7 10 143.2 6.9 137 4.9 125 5.5 123 8 120 10.7 115 15 109 16 106.4 16.2 103 15 93.8 11.1 89 7.7 80 7.1 76 6.8 63 7.4 61 9.3 58 10.2 54 12.1 51 14.1 49 18 46.5 23.3 44ZM22.8 46 27 45.3 29 45.8 35.5 50 39 54 40.8 57 41.4 60 41.4 65 43.5 71 43.5 75 41.7 82 39 87.1 37.2 92 36.2 100 36.1 106 36.5 108 37.6 110 46 118.9 48 119.5 53 120 57 117.6 65 114.9 71.2 114 76 110.7 79 109.2 82 108.8 87 109.1 93 108.1 102 108.9 106 110.6 111.5 112 112.6 113 112.9 114 112.7 117 112 118.4 109 120.8 107 123.6 102 126.3 99.5 129 98 129.8 93.5 130 88 132.2 78 134.9 67 135.6 56 133.7 53 134.1 50 135.8 41 143.7 35 147.4 28 149.9 25 150.1 19 148.3 13 144 11.3 142 9.5 138 7.9 133 6.6 126 7.2 124 10 120.4 12.5 115 17.1 109 17.9 107 17.8 103 16.5 92 12.3 87 9.1 78 9 64 9.5 62 11.4 59 11.7 56 12.8 54 18 48.4 22.8 46ZM21.5 48 24 47.3 27 47.4 33 50.5 38 55.6 39.5 58 40 61 39.7 65 41.6 70 42.3 74 40.2 81 35.8 91 34.8 99 34.8 106 35.9 110 40.3 115 43 120.6 48 122.2 51.4 124 54 124 55 123.5 58 119.4 65 116.7 72 115.7 76 112.3 79 110.6 82 110.2 86 110.6 93 109.6 101 110.6 103 111.5 104.9 113 107.2 116 107.3 117 105.7 122 105 122.8 100.7 125 97 128 92 128.5 79 132.7 73 132.9 67 134 62 133.2 57 131.2 51 131.7 48.1 133 47 134 45.1 137 39.4 143 34 146.2 27 148.4 25 148.4 19 146.6 14 142.8 12.4 141 11.2 138 9.6 133 8.1 126 11 121.8 13.6 116 19.5 108 19.6 101 18.4 97 17.7 91 14.6 87 10.8 77 10.4 74 10.7 65 11.3 63 13.4 60 14.2 56 18.7 50 21.5 48ZM21.6 50 23 49.4 25 49.2 32 52.4 36.4 56 38.4 59 38.2 65 40.5 71 41.1 74 40.7 76 37.9 81 34 91 34 95 33.3 99 33.8 108 35.1 111 38.6 115 41 121.4 42 122.8 47 125 49.5 127 50 128 49.2 129 45 131.7 43.6 135 38.7 142 34 144.8 26 146.9 24 146.7 20 145.3 14 141 12.5 138 9.6 127 9.8 126 12 122.9 15.4 116 21.3 108 21.5 100 20 97 18.7 90 16.8 87 13.7 80 12 74 12.1 66 12.5 64 14.6 61 16.6 56 21.6 50ZM89.8 111 93 110.8 98 111.7 103 114.5 104.1 116 104.5 118 104.3 121 103.6 122 99.4 124 96 126.5 85 128.4 78 131.2 73 129.9 71 130.2 68 131.8 63 131.4 61 130.7 57 128 57 127 59 122.4 60.2 121 64 119.2 68 119.3 73 117.4 74 116.8 77 113.1 79 112 82 111.6 86 112 89.8 111ZM22.7 52 25 51.5 31 53.5 35 56.3 37.1 59 37 65 40.1 74 39.5 76 36.5 80 32.7 89 32.2 95 31.4 98 32.5 103 32.2 109 33.1 111 37.1 115 40.3 123 41 124.3 43.9 127 44.1 128 41.6 135 38.1 141 34 143.3 26 145.3 24 145.2 22 144.4 14.9 140 13.7 138 12.1 133 11.3 128 11.8 126 17.7 115 20 111.9 23.2 109 23.5 108 22.7 105 23 100.1 21 95.3 20 90 17.7 84 15.1 80 14.3 78 13.7 75 13.2 67 13.4 65 16.2 61 17.8 57 22.7 52ZM90 112 93 111.8 97 113.2 102.2 118 102.7 120 102.2 121 95 125 89 126.5 84 127 78 129 75 128.2 68 127.6 64 128.4 62.8 128 62.1 127 62.3 125 63 123.7 64 123.5 67 125 68 124.4 71 120.7 75 118.6 77 115.1 78 114.1 81 113.4 86 113.5 90 112ZM22.4 54 25 53.1 31 54.7 35 57.7 36.2 60 35.7 64 39 74 38.1 76 35.4 79 31.5 87 29.8 98 31.1 103 31.1 105 29.6 109 29.8 110 31.1 112 35 114.7 36.1 116 41.1 127 41.6 129 40.7 134 37 140.3 34 141.9 26 143.5 24 143.2 20.8 141 16 139.3 14.6 137 12.7 130 14.8 123 17.4 119 19.1 115 21 112.6 26.3 109 26.1 108 24.3 105 24.2 100 19.3 83 16.5 80 15.6 78 15.3 76 15.6 72 14.4 67 14.7 65 17.2 62 18.8 58 22.4 54ZM90.3 113 93 112.8 95.7 114 99.3 118 100 120 98.8 121 89 125.2 83 125.5 78 125.2 73 126.3 71 125.8 70.6 125 71.8 123 76.6 121 79 116.6 87 114.8 90.3 113ZM22.9 55 25 54.3 29 54.9 31.4 56 34 58 34.9 60 34.6 64 37.6 74 32 81.5 29.3 84 29.7 90 28.3 98 29.4 104 29 105.4 28 106.2 27 105.9 25.7 104 25 97 25.1 93 23.5 90 21.8 84 20 81 17.4 79 16.6 77 17.5 73 15.8 68 15.8 66 18.9 62 21 57 22.9 55ZM25.1 112 28 111.8 34.8 117 36.1 119 40.1 128 40.1 132 39.1 135 37 138.2 34 140.2 27 140.9 18 138.9 16 137.3 14.4 133 13.9 130 16.4 123 19.5 119 20.9 115 21.7 114 25.1 112ZM91.1 114 93 114 94.7 115 96.1 117 96.6 119 95 119.9 92 120.5 90 123 89 123.6 85 123.8 83.2 123 82.9 121 83.5 118 85 117 88 116.1 91.1 114ZM23.5 56 26 55.4 29 55.9 31 57 33 59 32.5 63 35 67.6 35.8 73 35.6 74 31.6 79 28 81.7 26 82.5 23 81.9 18.6 78 18.1 77 19 73 18 69 18 67.4 20.3 63 21.9 58 23.5 56ZM25 114 27 113.8 28 114.2 33.6 119 37 123.2 38.7 127 39.2 130 38.5 134 36 137.5 33 139 30 139.4 21 138.5 17.3 137 16 134.6 15.3 132 15.2 130 17.3 124 18.7 122 21.9 119 23.5 115 25 114ZM24.6 57 27 56.7 28.2 57 29.4 58 29.4 61 29.9 63 33.5 67 34.3 70 33.9 73 31.3 77 28.2 80 26 81 23 80.2 20.5 78 19.7 76 20.4 73 20.1 70 20.9 66 23.7 58 24.6 57ZM25.5 117 26 116.6 27 116.8 36 123.7 37.8 127 38.3 130 37.4 134 35 136.7 32 138.1 30 138.4 26 137.6 21 137.5 18 136 16.9 134 16.5 130 18.6 124 20 122.3 23 120 25.5 117ZM25.7 61 27 61.5 28.4 64 31.2 67 32.1 70 32 71.1 30 73.7 28.6 78 27 79.3 25 79.8 22 78 21.1 76 21.8 73 22.1 66 24 62.3 25.7 61ZM25.9 120 29 120.9 32 123.4 35 124.6 37 127.2 37.3 130 36.1 134 34.2 136 32 137.1 30 137.4 26 136.2 22 136.6 19 135 18 133.1 17.9 129 19.7 124 22 122 25.9 120ZM24.7 64 26 63.8 27 64.6 29.1 67 29.3 68 29 69.2 26.4 72 26.7 77 26 77.9 25 78.2 23 77.3 22.5 76 24 72 23.1 67 23.8 65 24.7 64ZM25 122 28 122.3 31 124.7 35 126.1 36 127.3 36.4 129 35.2 133 34 134.8 32.2 136 30 136.4 26 134.1 23.4 135 22 134.9 20 132.8 19 129.2 19.6 126 20.8 124 22 123.1 25 122ZM22.5 124 24 123.5 26 123.7 30 126.3 34 127.4 34.8 128 35 129.1 33.1 134 31 135.3 30 135.2 29 134.3 28.1 132 27.9 129 27 128.2 24.9 129 23 131.8 22 131.5 20.8 130 20.3 128 21 125.4 22.5 124Z" fill="none" stroke="#2e2e2e" stroke-width="0.7"/>
<path d="M131.7 153h.9M118.6 112.2h.9M79.4 105.6h.9M155.7 124.1h.9M85.9 86.3h.9" stroke="#666" stroke-width="0.9" fill="none"/>
<rect x="0" y="0" width="197.6" height="196.6" fill="none" stroke="#000" stroke-width="1"/>
<rect x="57.3" y="83.5" width="136" height="105.3" fill="none" stroke="#000" stroke-width="1"/>
<line x1="146.2" y1="83.5" x2="146.2" y2="188.8" stroke-width="1.6" stroke="#000"/>
<path d="M46.5 196.6v5.4M99.4 196.6v5.4M150.7 196.6v5.4M1.2 196.6v5.4M62.42 196.6v3M71.74 196.6v3M78.35 196.6v3M83.48 196.6v3M87.66 196.6v3M91.21 196.6v3M94.27 196.6v3M96.98 196.6v3M114.84 196.6v3M123.88 196.6v3M130.29 196.6v3M135.26 196.6v3M139.32 196.6v3M142.75 196.6v3M145.73 196.6v3M148.35 196.6v3M166.14 196.6v3M175.18 196.6v3M181.59 196.6v3M186.56 196.6v3M190.62 196.6v3M194.05 196.6v3M4.5 196.6v3M6.7 196.6v3M8.9 196.6v3M11.1 196.6v3M13.3 196.6v3M15.5 196.6v3M17.7 196.6v3M19.9 196.6v3M27 196.6v3M29.3 196.6v3M31.6 196.6v3M33.9 196.6v3M36.2 196.6v3M38.5 196.6v3M40.8 196.6v3M43.1 196.6v3" stroke="#000" stroke-width="0.9" fill="none"/><path d="M21.5 198.5h5" stroke="#000" stroke-width="3.8"/>
<path d="M0 19h-4.8M0 68h-4.8M0 117h-4.8M0 155h-4.8M0 190h-4.8M0 53.25h-2.8M0 44.62h-2.8M0 38.5h-2.8M0 33.75h-2.8M0 29.87h-2.8M0 26.59h-2.8M0 23.75h-2.8M0 21.24h-2.8M0 102.25h-2.8M0 93.62h-2.8M0 87.5h-2.8M0 82.75h-2.8M0 78.87h-2.8M0 75.59h-2.8M0 72.75h-2.8M0 70.24h-2.8M0 143.56h-2.8M0 136.87h-2.8M0 132.12h-2.8M0 128.44h-2.8M0 125.43h-2.8M0 122.89h-2.8M0 120.68h-2.8M0 118.74h-2.8M0 179.46h-2.8M0 173.3h-2.8M0 168.93h-2.8M0 165.54h-2.8M0 162.76h-2.8M0 160.42h-2.8M0 158.39h-2.8M0 156.6h-2.8" stroke="#000" stroke-width="0.8" fill="none"/><path d="M-3.6 134.5v5" stroke="#000" stroke-width="3"/>
<text class="b" x="80.5" y="75" font-size="26" fill="#f3131b" textLength="45" lengthAdjust="spacingAndGlyphs">24.5</text>
<text class="b" x="146.8" y="75" font-size="26" fill="#0ba14b" textLength="45" lengthAdjust="spacingAndGlyphs">0.68</text>
</g>
<g transform="translate(718.6 1272.8)">
<path d="M25.1 28 31 27.1 35 28.4 37 29.8 43.3 36 47.7 47 50.3 61 50.5 67 49.1 78 47.2 85 43.2 94 41 96.8 36 101 34.9 103 34.5 105 35 107 40 112.3 43.8 121 45 122.7 47 123.8 50 124 63 122.3 66 121.3 71 116.7 74 112.2 77.8 109 94 100.8 97 100.3 103 100.4 113 101.8 117 103.1 120.9 106 126 108.6 131.6 115 135.5 121 137.2 126 137.6 131 136 135.2 135.8 141 131.9 147 119 156.2 115 156.6 111 158.4 109 158.8 96 159.1 92 157.5 86 156.1 82.9 154 79 152.4 77 151.1 70.7 143 67.7 135 67.1 132 66.4 131 63.9 130 48 128 46 128.8 45.4 130 45.4 136 43.2 142 38 148.7 36 150.2 28 153.2 25 153.4 20 152.2 15.4 148 11.4 143 10.4 141 8.3 134 8.3 126 11.4 118 14.6 113 19.7 107 20.9 103 20 100.3 14 93.6 9.7 86 7.4 79 5.6 69 5.6 65 7.1 53 8.9 46 12.2 38 14.5 35 20 30.3 25.1 28ZM27.9 31 31 30.2 33 30.7 36.5 34 40.1 36 41.8 38 44.9 47 45.5 51 47.9 59 48.2 66 47.2 77 43.2 87 41.8 92 40 94.6 33.2 99 32 104.9 32.5 108 38.6 114 42 122 44.7 126 43.7 129 43.6 137 42.5 140 41 142.3 35 148 28 150.9 26 151.3 21 150.4 16.9 147 12.6 141 10.2 134 9.8 127 10.5 124 14.1 117 21.7 108 22.6 105 22.9 102 22 99.2 19.4 95 15.4 91 11.5 85 9.1 78 7.7 71 7.4 67 8.3 59 11 47 14.3 40 16.8 37 22 32.7 24 31.7 27.9 31ZM92.9 104 104 103.1 116 105.8 123.2 110 129 116.1 131.1 119 132.3 122 133.7 127 133.8 130 132.7 139 130.5 144 129.1 146 124 148.9 119 152.6 115 153 112 155.2 110 156.1 103 156.5 95 155.5 88 153.2 80 149.1 78 147.5 73.6 142 71.1 137 70.5 135 70.5 131 69.8 130 67 128.9 56 127.9 52.7 127 51.5 126 52.8 125 55 124.4 67 123.1 70.6 122 73 120 75.9 115 80 111 88 106.1 92.9 104ZM24.8 35 31 34.3 34 36.4 38 37.6 39.8 39 45.2 56 46.4 61 45.8 74 45.2 77 41 85.2 38.9 92 37 93.5 32 96 31 97.4 30.7 99 30.4 106 30.9 109 32 110.6 36.8 115 41.5 125 42.5 133 42.3 136 41.2 139 39.9 141 34 146.4 32 147.4 26 148.9 21 148.1 18 145.8 14.1 140 12.2 135 11.4 127 11.7 125 15.4 118 23 109.7 23.9 107 24.4 102 24 99.8 21.6 94 16.8 89 13.9 85 12.4 82 9.9 74 9.4 69 10.2 60 13.2 47 18.5 39 22 35.9 24.8 35ZM90.5 107 93 106.3 97 106.7 104 106.3 109 108.3 115 109.3 120 111.2 122.6 113 128.2 119 129.5 121 130 123 131.1 131 130.9 134 129.6 139 127 143.5 124 145.3 119 149.5 114 150.5 110 153.7 104 154.1 100 153.2 96 153.2 85 148.9 80.7 146 74.2 136 74.1 131 73 128.9 69 127.1 64.9 127 58 126 69 124.9 73 123.7 74.8 122 81.4 113 88 108.3 90.5 107ZM23.1 38 30 37.1 34 39.2 37 39.9 38 40.8 41 50 43.7 56 44.8 61 43.8 76 37.8 88 36 90 30.7 94 29.3 96 29 98 28.8 106 29.2 109 30.9 112 35.5 116 39.4 124 41 132 41 135 39.9 138 38 141 33 145.3 29 146.5 24 146.8 22 146.6 19.3 145 15 138.7 13.5 135 12.7 127 13.2 125 16 119.4 24.8 110 25.7 107 25.9 101 24.2 94 19.1 89 13.5 81 11.5 74 11 68 11.9 60 14.7 48 20.5 40 23.1 38ZM90.9 109 101 108.1 104 108.3 108 110.1 114 111.5 119 113.5 121 114.9 126.9 121 127.8 123 127.7 128 129 133 127.5 138 125.7 141 118 147.1 113 149 109 151.5 100 151.1 96 151.4 88.9 148 85 147 83 145.8 81.4 144 77.2 135 76.4 129 74.8 126 78.3 120 83.1 114 89 109.8 90.9 109ZM23.9 40 30 39.6 37 44.3 38.2 46 39.8 51 41.9 55 43.3 60 42.9 64 43.3 69 42.1 76 38 83.6 36 86.2 29 92.5 27 93.1 25 92.1 21.2 89 15 81 13.1 75 12.5 68 13.2 60 15.8 49 22 41.2 23.9 40ZM98.9 110 103 109.5 107 111.4 113 112.8 120 116.6 124.3 121 125.6 123 125.7 128 126.5 133 125 139 124 140.2 119 143.4 116.2 146 109 149.3 100 149.2 96 149.7 92.6 148 90 145.9 84.3 145 82.6 143 81.7 140 78.7 134 78.4 129 77.5 126 80.2 120 85 114.5 88 112.5 92 111 98.9 110ZM25.7 112 27 111 28 111.5 30.2 114 34.5 117 38.5 125 39.9 133 39.5 135 37.1 140 34 143 30 144.9 23 145.2 20 143.7 15.4 137 14.6 134 13.9 127 14.4 125 16.9 120 25.7 112ZM24.2 42 26 41.3 29 41.3 36 46 40.5 55 41.9 60 41.7 64 42.3 69 40.8 75 37 80.9 33 84.6 30 89 29 90.1 27 90.9 25 90.2 23.4 89 21 85 16 80.3 15 78 14.1 73 13.8 67 14.1 61 16.3 51 18 48.1 24.2 42ZM100.5 111 103 110.9 107 112.7 111 113.5 118 117.4 121 120 123.8 125 124.7 133 123.6 138 122 139.6 118 141.5 115 144.8 109 147.6 100 147.5 96 147.8 93.9 147 90 143.9 85 143.6 84 142.4 83 138.7 81 135.9 80.2 134 79.7 126 80.7 122 81.8 120 89 114 93 112.7 98 112.1 100.5 111ZM24.1 115 26 114.4 27 114.6 33 117.3 36.9 124 38.1 127 38.8 132 38.6 134 35 141 33 142.5 31 143.3 24 144 22 143.7 20.2 142 17.2 138 15.9 135 15 128 15.6 125 18 120.2 24.1 115ZM25.6 43 27 42.4 29 42.6 33.7 46 35.5 48 39.6 56 40.4 59 40.5 64 41.3 68 40.9 71 38.5 76 30.7 84 28.3 88 27 88.9 25 88.2 22.5 84 17.3 80 16.2 78 15.2 73 15.2 61 17.4 51 19 48.7 25.6 43ZM100 113 102 112.5 106 113.8 110 114.5 118 119.4 120.3 122 121 125.5 123 130 123 133.5 122 137 121 137.8 117 138.9 114.2 143 109 146 105 146.3 100 145.6 96 146.2 94 145.3 91 142.5 86 142 84 137.2 81.7 134 81.7 125 82.2 122 83 120.6 88 117.5 91 114.9 94 113.8 100 113ZM23.2 117 25 116.2 26 116.3 32 118.1 33.7 120 36.8 126 37.6 129 37.7 133 34.8 140 32 141.9 23 142.8 21 141.4 17.4 136 16 129 16.2 126 18.5 121 23.2 117ZM26.7 44 29 43.8 31.8 46 37.6 54 39.1 59 40.3 69 39.8 71 36.9 76 28 84.7 27 85.5 26 85.6 23.6 83 19 80.2 17.4 78 16.2 73 16.2 61 18.5 51 20 49.3 24 46.8 26.7 44ZM94.2 115 102 114.5 109 115.4 117.6 121 119 122.7 120.5 130 120.3 132 118.1 135 115 137 112 142 109 144.2 105 144.5 100 143.3 97 144.2 95 144 92 141.2 88 140.8 87 140.3 83.6 134 83.1 132 83.9 128 83.9 122 85 120.7 88.5 119 91.9 116 94.2 115ZM23.9 118 26 117.6 30 118.5 32 119.4 33.3 121 36.3 127 36.9 130 36.6 133 34.4 139 33.7 140 32 140.9 25 142 23 141.8 21.1 140 19 137 17.1 130 17 126.7 19 121.9 23.9 118ZM26.7 46 28 45.2 30 46 36.7 55 38.1 59 39.2 69 36 75 31 80.7 27 83 26 82.8 21 80.3 19 78.6 17.4 74 17.1 68 17.6 64 17.4 60 19.3 52 21 50 25 48.2 26.7 46ZM94.8 116 97 115.7 106 116.1 109.4 117 112.1 120 117.6 123 118.3 125 118.6 128 118 131.1 117 132.4 114 134.3 110 138.9 106.6 140 104 141.8 96 141.2 88 138.5 85.6 134 85 132 85.6 128 85.5 123 87 121.2 92.8 117 94.8 116ZM24.6 119 27 118.8 31.3 120 33 122 35.5 127 36 130 35.6 133 34 138.1 33 139.5 32 140.1 24 141.1 22 139.9 20.2 137 19.9 134 18 129.8 17.9 127 20 122.4 24.6 119ZM27.5 48 29 47.7 30 48.6 36 56.4 37.3 60 37.8 68 37.5 70 36 72.6 31 79.2 29 80.7 27 81 22 79.5 20 78 19 75 18.2 68 18.7 65 18.5 60 20.2 53 21 51.7 25 50 27.5 48ZM95.5 117 98 116.7 106 117.2 108 117.7 112 122.8 116 123.7 117 124.8 117.4 128 116.8 130 113 132.1 110 136.6 108 137.6 105.5 138 103.1 140 102 140.4 95 139.2 89 137.1 87.4 135 86.5 132 87.3 124 88.5 122 93 118.4 95.5 117ZM25 120 28 119.7 31 120.7 32.8 123 34.6 127 35.1 129 34.9 132 33.2 138 32 139.2 24 140.1 22.3 139 21.3 137 21.2 134 19 130 18.9 127 21 123.1 25 120ZM27.9 50 30 51.3 34.9 57 36.3 60 36.7 63 36 68.8 35.2 71 30 78.6 28 79.3 23 78.2 21.5 77 21 73 19.6 70 19.3 68 20.3 65 19.6 60 21.3 54 23 52.2 27.9 50ZM96.1 118 98 117.7 105 118.3 107 118.9 111 124.6 113 125.8 115.3 126 115.9 127 115.8 128 115 129.1 113 129.4 112.4 130 110.6 134 109 135.8 105 136.5 102 138.8 100 138.9 91 136.8 89 135.3 87.9 133 87.8 130 88.8 125 90.6 122 96.1 118ZM25.3 121 28 120.5 31 121.7 32.5 124 34.1 128 34.2 131 33.2 136 32.2 138 31 138.6 25 139.3 23 138.4 22.3 137 22 133.3 19.7 129 19.8 127 20.8 125 25.3 121ZM26.2 52 28 51.7 31 53.8 35 59.6 35.7 62 35.3 65 33.4 68 32.5 72 30 76.2 29 76.9 24.3 75 22.5 71 21.1 69 21.1 68 23.9 66 23.4 64 21.2 62 20.8 61 21.9 56 23 53.9 26.2 52ZM97 119 99 118.9 104 119.7 105.1 120 106 120.9 107.1 123 109.8 126 110.6 128 110.2 132 109 134.3 108 135 104 135.5 102 137.3 100 137.8 97.2 137 95 135.5 92 135.8 90 134.7 89 133 88.9 131 90.9 124 97 119ZM25.3 122 27 121.3 30 121.8 31.3 123 32.2 125 33.4 129 33.3 131 32.4 136 31 137.6 25 138.3 24 137.9 23.5 137 23 133.7 21 130 20.5 128 22 125 25.3 122ZM27 53 29 53.4 30.9 55 34.5 62 34 64.5 31.1 67 30.6 68 31 71 30.3 73 29 74.3 28 74.5 26 73.8 25 72.3 24.8 71 26 68 26.2 66 25 62.8 22.7 60 22.9 57 23.7 55 25 53.8 27 53ZM96.6 121 99 120.1 102.3 121 103.4 122 104.3 124 108 127 108.8 129 109 131 108 133.5 103.8 134 101 136.5 100 136.7 97.9 136 96.7 134 96.3 128 95 126.8 93 126.5 92.5 126 92.7 125 96.6 121ZM27.2 122 29 122.1 31 123.8 32.3 128 32.5 130 32 134.4 31 136.5 30 137 26 137.3 25 137 24.4 136 23.6 133 21.9 130 21.4 128 23.1 125 26 122.5 27.2 122ZM25.4 55 27 54.3 29 54.7 30.9 57 32.7 63 32 64.2 30 65.6 29 65.8 28 65.5 27 63.9 24.6 58 24.7 56 25.4 55ZM98 122 99 121.7 100.6 122 101.5 123 102 125.3 106.3 128 107.2 130 107 132 105 132.4 102 131.6 101 130.9 99.5 128 97 125 97 123.4 98 122ZM26.6 123 28 122.6 30 123.5 31.4 128 31.1 134 30 135.9 29 136.2 25.9 136 22.5 129 22.4 128 23 126.5 26.6 123ZM27 57 28 56.1 29.2 57 30.1 62 29.7 63 29 63.1 28.3 62 27 57ZM26.6 124 28 123.5 29 123.7 30.2 126 30.3 133 29.2 135 28 135.4 26 134.6 23.7 129 23.9 127 26.6 124Z" fill="none" stroke="#2e2e2e" stroke-width="0.7"/>
<path d="M171.7 170.5h.9M120.9 103.3h.9M120.5 158.7h.9M147.1 157.7h.9M103.3 159.4h.9M56.4 168.6h.9M113.1 137.4h.9M138.1 182.6h.9M69.9 138h.9M112.3 153.3h.9M95 132.5h.9M158 168.7h.9M75.1 125.8h.9M147.6 167.8h.9M150.5 164.6h.9M83.2 154.7h.9M51 136.5h.9M103.5 159.4h.9M86.8 147.8h.9M116.5 156.8h.9" stroke="#666" stroke-width="0.9" fill="none"/>
<path d="M171.4 123.1h.9M161.8 131.8h.9M165.5 107.6h.9M158.7 120h.9M163.9 122.4h.9M165 122.6h.9M163.7 101.1h.9M169.2 135.8h.9M169.3 117.2h.9M169.5 105.5h.9M146 120.9h.9M155.7 131.1h.9M154.2 80.6h.9M154.6 143.7h.9" stroke="#666" stroke-width="0.9" fill="none"/>
<rect x="0" y="0" width="197.6" height="196.6" fill="none" stroke="#000" stroke-width="1"/>
<rect x="57.3" y="83.5" width="136" height="105.3" fill="none" stroke="#000" stroke-width="1"/>
<line x1="146.2" y1="83.5" x2="146.2" y2="188.8" stroke-width="1.6" stroke="#000"/>
<path d="M46.5 196.6v5.4M99.4 196.6v5.4M150.7 196.6v5.4M1.2 196.6v5.4M62.42 196.6v3M71.74 196.6v3M78.35 196.6v3M83.48 196.6v3M87.66 196.6v3M91.21 196.6v3M94.27 196.6v3M96.98 196.6v3M114.84 196.6v3M123.88 196.6v3M130.29 196.6v3M135.26 196.6v3M139.32 196.6v3M142.75 196.6v3M145.73 196.6v3M148.35 196.6v3M166.14 196.6v3M175.18 196.6v3M181.59 196.6v3M186.56 196.6v3M190.62 196.6v3M194.05 196.6v3M4.5 196.6v3M6.7 196.6v3M8.9 196.6v3M11.1 196.6v3M13.3 196.6v3M15.5 196.6v3M17.7 196.6v3M19.9 196.6v3M27 196.6v3M29.3 196.6v3M31.6 196.6v3M33.9 196.6v3M36.2 196.6v3M38.5 196.6v3M40.8 196.6v3M43.1 196.6v3" stroke="#000" stroke-width="0.9" fill="none"/><path d="M21.5 198.5h5" stroke="#000" stroke-width="3.8"/>
<path d="M0 19h-4.8M0 68h-4.8M0 117h-4.8M0 155h-4.8M0 190h-4.8M0 53.25h-2.8M0 44.62h-2.8M0 38.5h-2.8M0 33.75h-2.8M0 29.87h-2.8M0 26.59h-2.8M0 23.75h-2.8M0 21.24h-2.8M0 102.25h-2.8M0 93.62h-2.8M0 87.5h-2.8M0 82.75h-2.8M0 78.87h-2.8M0 75.59h-2.8M0 72.75h-2.8M0 70.24h-2.8M0 143.56h-2.8M0 136.87h-2.8M0 132.12h-2.8M0 128.44h-2.8M0 125.43h-2.8M0 122.89h-2.8M0 120.68h-2.8M0 118.74h-2.8M0 179.46h-2.8M0 173.3h-2.8M0 168.93h-2.8M0 165.54h-2.8M0 162.76h-2.8M0 160.42h-2.8M0 158.39h-2.8M0 156.6h-2.8" stroke="#000" stroke-width="0.8" fill="none"/><path d="M-3.6 134.5v5" stroke="#000" stroke-width="3"/>
<text class="b" x="80.5" y="75" font-size="26" fill="#f3131b" textLength="45" lengthAdjust="spacingAndGlyphs">50.7</text>
<text class="b" x="146.8" y="75" font-size="26" fill="#0ba14b" textLength="45" lengthAdjust="spacingAndGlyphs">0.97</text>
</g>
<g transform="translate(926.8 1272.8)">
<path d="M27.9 21 35 20.4 38 21.1 47 29 48.7 32 52.5 43 54.5 55 52.3 76 51.5 79 49.9 83 47 88.3 42.5 91 37 97.4 35.8 104 36 105.6 36.8 107 43.5 113 49.5 123 50.4 124 52 124.4 54.2 124 57 122 66 108.9 71 105.8 75.5 102 81 99.5 96 96.7 102 97 108 96.7 111 97.4 114 99.2 119 100.5 126 103.8 131.8 109 136.7 116 140 119.9 141.9 130 141 136.9 139 139.6 135.6 147 128 155.7 124 157.5 114 163.8 112 164.4 100 165.5 93 163.6 87 163.7 83 161.7 78 160.5 72 156.8 64 148.9 56 134 55 133 53 132.5 51 133.4 49.6 137 43.6 147 41 149.4 35 152.7 28 153.2 23 152.5 18 149.4 13.5 145 12.1 143 9.2 136 8.7 123 10.4 119 15 112.6 18 109.7 22.4 107 23.3 106 23.9 104 22.6 97 18.9 94 16.3 91 9.7 79 6.8 65 6.3 56 9.5 39 14.4 30 21 22.4 23 21.4 27.9 21ZM29.1 24 34 23.1 37 24 41.8 28 46 33.7 49.8 42 52.5 56 51.3 63 50.9 70 49.1 79 47.4 82 44.1 86 35.7 94 35 96 33.8 105 34.6 108 39.6 112 42.5 115 48 126 49 126.9 50 127.1 61 122.9 64 120 68 111.9 70 110.5 73 109.3 77 104.9 82 102.5 89 101.4 94 100 97 100 101 100.6 107 100.2 117 103.6 125 107.5 132 114.2 136.3 121 136.8 123 136.6 127 137.7 129 138.1 131 135.4 141 131.5 147 127 151.6 122.2 154 117 158.7 112 161.2 103 162 88 160.5 86 159.8 74 154.1 72 152.5 63.7 141 61.7 135 60.4 133 55.6 131 51 129.9 50 129.9 49 130.7 44.4 142 41.8 146 39.9 148 35 150.6 26 151 24 150.7 18 146.7 14.7 143 10.8 135 10.2 126 10.6 123 12.5 119 17 113.2 22.3 110 24.4 108 25.4 106 25.6 104 25.1 97 24.5 95 23 92.7 18 88.5 13.6 81 10.7 74 9.6 69 8.9 63 8.8 57 9.2 52 10 48 12.8 39 16.2 34 18.8 29 22 26.1 29.1 24ZM29.7 27 34 26.4 37 27.4 39 29 41.7 33 44.4 36 47.5 43 49 48 50.5 56 49.6 63 49.5 69 47.3 78 46 80.2 42.7 83 39 87.6 33.9 92 33 95 33 101 31.7 106 32 108 33.2 110 39 114 43.3 120 46.1 128 46.4 131 44.3 136 43 141 39.5 146 36 148.2 32 149.2 25 148.7 18 144 12.5 135 11.9 126 13.4 121 16.9 116 19 114 22.7 112 25.2 110 26.8 108 27.4 106 26.7 95 26 92.4 24 89.2 17 81.6 12.2 72 10.8 62 11.4 51 15.6 39 19.6 34 21.6 30 23 29 29.7 27ZM93.5 103 96 102.7 101 103.6 106 103.2 122 109.4 124 110.8 130 117 132.7 123 133.4 128 134.4 130 134.8 132 133 139.1 126 149 121 151.8 117.8 155 115 156.7 110 158.3 104 159.2 92 158.5 86 156.9 76 151.8 74 150.1 70 145.2 66.4 139 64 131.3 63 130.7 57 129.8 55 129 54.4 128 57 126.3 62 125.3 64 124.1 68 119.1 73.9 114 76.1 110 78 108.2 84 105 90 104.2 93.5 103ZM29.9 30 35 30 37 30.7 43 37.9 45.1 42 47.2 48 48.3 56 48.2 67 47.7 70 44.2 78 40.5 82 38 85.8 34 88.7 31.3 92 30.3 95 31 96.8 31.4 100 31 101.7 30 103 29 102.3 28.6 100 29.6 94 26.1 87 19 80.5 16.6 75 14 71.4 12.4 61 13.4 51 18 38.9 24 31.9 29.9 30ZM95.4 105 106 105.8 114 109.3 118 112 121.9 113 127.2 119 128.9 122 129.9 125 129.7 129 131 133 130.6 136 123.6 147 115 154.4 111 155.6 104 156.8 91 156.3 83 153.3 79.3 151 72 144.6 69.8 141 67.9 132 65.5 128 65.4 127 68.2 122 70.1 120 76 116.3 77.8 112 79 111 85 107.6 90 106.7 95.4 105ZM26.8 111 28 110.3 30 110.3 38 115.4 42.7 122 44.4 128 44.5 131 41.3 141 37 145.9 33 147.5 27 147.3 20 143.7 18.4 142 14.7 136 13.6 133 13.4 126 15.4 121 19 116.2 26.8 111ZM27.2 33 30 32.2 33 32.1 35 32.3 36.3 33 38.9 37 42 39.6 43.5 42 45.7 48 46.3 53 46.9 66 46 69.7 43.3 75 38 82.5 37 83.5 31 87 29 86.1 20.1 79 18 73.3 15.5 70 13.8 62 14.9 53 17.6 44 21 38 25 34 27.2 33ZM94.6 107 97 106.8 107 108.5 113 111.1 117 114.2 122 116.9 125.5 121 126.5 123 128 133 127.5 136 124.6 142 121.5 146 115 151.8 112.7 153 110 153.7 107 153.7 103 154.7 92 154.7 88 152.6 84 151.8 82 150.8 77 145.9 73 143.1 71.7 141 69.9 125 71 122 73.3 120 77.3 118 79.3 114 81 112.5 86 109.9 94.6 107ZM26.6 113 28 112.3 30 112.4 37 116.4 41.3 122 42.8 127 42.9 131 40.3 140 36 144.6 32 146.1 27 145.6 21 142.8 19.3 141 16.2 136 15.1 133 14.6 127 15.4 124 20 117.6 26.6 113ZM31.6 34 34 34.1 35 34.7 37.4 38 41 41 42.4 43 44.7 50 44.7 58 45.4 66 42.5 73 38 79.9 36 81.3 30 83.8 28 83 21.4 78 19 72.3 16.5 68 15.3 63 15.1 60 15.6 56 18.7 46 22.1 39 24 36.7 26 35.1 31.6 34ZM93.6 109 97 108.6 107 110.6 113 113 122 120.2 124 123 124.5 127 125.9 132 125.6 135 122 142.6 119 146 113 150.1 103 153 95 153.3 93.1 153 89 150.1 85 149.9 83 149.1 78 143.1 75 141.6 74 140.4 73.5 134 74.1 130 73.3 126 74 122.6 75 121.5 78 120 81 115 82 114.1 86 112.1 90 111 93.6 109ZM27.9 114 29 113.8 31 114.4 35 116.5 37 118.1 40.7 123 41.6 127 41.2 133 39 139.6 35 143.3 31 144.8 27 144.2 21 141.2 17.4 136 16.2 132 15.8 127 16.8 124 21.7 118 27.9 114ZM25.4 37 27 36.3 31 36.1 33 36.3 34 36.9 40.6 43 42.6 47 43.4 50 43.3 60 43.9 65 43.4 68 41 73 37 78.4 34.6 80 30 81.7 24.9 79 22.5 77 17.9 68 16.5 62 16.7 57 20 47.2 23 40 25.4 37ZM93.5 111 97 110.5 108 112.4 112.8 115 121.3 123 122.1 127 124.1 132 124.1 134 121.4 140 118 144.4 112 148.5 102 151.6 95 151.3 89 147.2 86 147.4 84 146.7 76.5 138 75.6 135 76.3 131 75.7 126 76.6 124 79 122 81.9 117 83 116.1 86.4 114 91 112.4 93.5 111ZM27.8 116 29 115.6 31 115.9 35.2 118 39 122.1 40 124 40.4 126 40.2 133 38.5 138 37.1 140 35 141.8 31 143.7 28 143.5 22 140.6 18.4 136 17.3 133 17 127 18 124.1 23 118.4 27.8 116ZM26.6 38 30 38.1 37 41.2 40.2 45 41.6 48 42.3 51 42.1 60 42.7 65 41.9 69 40 72.5 36 77 33.4 79 31 79.8 25 77.2 23 75.4 19.2 68 17.9 62 18 58 21 48.7 24.6 40 26.6 38ZM96.6 113 103 112.6 106 113 108.7 114 110.2 115 112.7 118 118.2 123 120 125.8 122.3 132 122 135 120.1 139 116 143.7 111 147.3 101 149.8 97 147.9 94 148 90 145.1 85 144.5 80.4 140 78.1 136 77.7 135 78.1 132 78 126.5 80.7 123 83 118.7 88.3 115 96.6 113ZM30.6 118 34.2 119 38.3 123 39.4 126 39.3 132 38.7 135 36.5 139 33 141.9 30 142.9 28 142.6 24 140.6 21 138.2 18.4 134 18.1 128 18.7 125 23 119.8 25 118.7 30.6 118ZM26.8 41 28 40.5 31 41.4 34 41.4 36 42 39 45.6 41.2 51 41.5 55 40.9 60 41.7 65 41.3 68 39 72.2 34 76.7 32 77.8 26 75.8 23.4 74 20.8 69 19.6 64 19.5 59 21 55 22 50.4 24.6 44 26.8 41ZM100 114 105 113.9 108.1 115 109.1 116 109.8 119 114 121.7 118 125.8 119.5 128 120.3 130 120.7 134 119.1 138 111.5 145 108 146.8 101 147.2 97 145.8 94 145.7 85 140 82.6 139 81.7 138 82 133 80.5 129 84.2 120 90 116 95 115.5 100 114ZM25 120 30 120.1 34 121.3 36.8 123 38.1 125 38.3 132 37.7 135 35.1 139 31 141.8 28 141.7 24 139.6 21 137 19.3 134 18.9 131 19.7 126 23 121.1 25 120ZM32.9 43 34.3 43 35.8 44 37.1 47 40 51.6 40.6 56 39.7 61 40.6 66 40 69 38.9 71 34 75.1 32 75.7 29 74.7 26 74.2 24 72.9 21.9 68 20.8 62 25 46 27 44.1 32.9 43ZM98.3 116 102 115.4 105.7 116 104.6 118 104.8 119 111.3 123 114.7 126 117 127.2 118 128 118.9 130 119 134.4 118.1 137 116 138.9 112 141.1 109 144.4 107 145.4 100 145.4 93 143.6 84.4 137 83.8 136 83.1 129 86.2 121 91 117.3 95 116.9 98.3 116ZM25.6 121 29 121.1 31 121.6 35.7 124 36.8 126 37.3 132 37 134 34.7 138 31 140.9 29 141.1 24 138.7 21.1 136 20 133.8 19.6 131 20.7 127 23.6 122 25.6 121ZM26.9 46 30 45.2 33 45.2 36 50.2 39 52.8 39.5 54 39.5 57 37.9 62 39.2 66 39 69 37.7 71 33 74 27 72.8 25.3 72 22.3 64 22.2 62 23.9 55 26.6 51 26 48 26.9 46ZM95.4 118 99 117.2 101 117.4 103.3 120 107 123 116 128.6 117.2 130 116.9 134 115.5 137 111 139.3 107 143.7 101 144.3 93 142.2 88.9 139 85.9 135 84.9 130 85.1 128 87.5 125 88.9 122 91 119.3 93 118.3 95.4 118ZM25.7 122 29 121.9 31.7 123 35 126 35.9 129 36 133 34.9 136 32.4 139 30 140.2 28 139.8 24 137.7 22 135.9 20.6 133 20.5 131 21 129 24 123.2 25.7 122ZM28.5 47 30 46.6 32 47.1 34.8 52 38 53.8 38.6 55 38.5 57 35.5 63 35.8 65 37.5 67 37.8 69 36 70.9 33 72.4 27 71 25.6 69 23.8 64 23.9 62 25.3 60 25.1 56 26 54.6 27.9 53 28.3 52 27.8 48 28.5 47ZM96.4 119 99 118.5 101 119.3 106 124.5 110 126.5 113.8 130 114.3 134 113.7 136 111 137.3 106.8 137 107.6 140 107 141.6 106 142.5 101 143.2 94 141.2 92 140.3 90 138 88.8 134 87 131 86.6 129 87 128 90.9 124 92 121 93 120 96.4 119ZM25.7 123 28 122.5 31 123.5 33.3 126 34.6 129 34.8 132 34.2 135 32.1 138 30 139.2 28 138.9 24.4 137 22.4 135 21.5 133 21.7 130 24.7 124 25.7 123ZM32.2 54 34 53.7 36 54.3 37.1 55 37.3 57 33.6 63 33.9 68 31.9 70 29 70.2 28 69.8 26.6 68 26.1 66 26.2 64 29.6 61 30.4 56 32.2 54ZM97.6 120 99 119.8 101 120.7 105 125.6 109.6 128 110.4 129 112.1 134 111.7 135 111 135.3 108 134.3 104.7 135 103.8 136 103.6 137 104.4 140 104.1 141 102 141.8 97.6 141 92.8 139 92.1 138 92.1 136 94.7 133 94.5 132 90 131.4 88.8 130 89.3 128 93.3 124 94 122 95 121 97.6 120ZM25.9 124 28 123.2 30.5 124 32.2 126 33.3 129 32.9 135 31.6 137 30 138 28 137.9 25.8 137 23.7 135 22.7 133 22.7 131 25.9 124ZM32.9 56 34 55.5 35 55.7 35.7 57 34.8 59 33 60.1 32.1 59 32 58 32.9 56ZM29.7 64 31 63.8 31.8 66 31 67.8 30 68.5 29 68.4 27.9 67 28.3 65 29.7 64ZM97.5 122 99 121.4 100 121.6 101 122.5 102.2 125 103.3 126 108 128.8 108.5 130 107.9 132 106 133.3 102 134.2 99.4 132 96 130 92 130 91 129.2 91.1 128 92 127.1 95.8 125 97.5 122ZM27.8 124 29 124 30.5 125 31.6 127 32 129 31.8 130 29.4 132 30.8 135 30.3 136 29 136.7 26 135.8 24.5 134 24 132 26 125.3 27.8 124ZM95.4 135 98 134.3 101 135.3 101.9 137 101.9 139 101 140 100 140.1 96 139 94.6 138 94.2 137 94.4 136 95.4 135ZM27.7 125 29 124.9 30.2 126 30.6 128 30 129 28 129.5 27 129.1 26.5 127 26.7 126 27.7 125ZM100.3 128 102 127.3 104.7 128 106.3 129 106.8 130 106.7 131 105 132.4 103 132.4 99.9 129 100.3 128Z" fill="none" stroke="#2e2e2e" stroke-width="0.7"/>
<path d="M86.6 101.7h.9M73.3 154.6h.9M117.4 144.9h.9M151.9 159.8h.9M99.3 156.7h.9M157.9 167.2h.9M135.8 109.7h.9M94.8 160.4h.9M89.6 169.9h.9M120.9 165.4h.9M143.4 134h.9M88 164.5h.9M134.3 140.2h.9M59.2 145.3h.9M112.6 171.6h.9M127.4 140.7h.9M129.9 155.1h.9M107.2 141.5h.9M91.5 159.2h.9M63.1 122.4h.9M100.2 99h.9M84.7 83.8h.9M76.1 155.9h.9M119.8 138.5h.9M91.9 100.3h.9M164 154.4h.9M138.3 115.3h.9M93.5 89.1h.9M127.3 166.2h.9M33.6 138.5h.9M122.1 90.7h.9M36.1 110.2h.9M78 100.7h.9M101.1 147h.9M122.2 159.7h.9M152.6 172.6h.9M54.1 125.8h.9M62.9 109.9h.9" stroke="#666" stroke-width="0.9" fill="none"/>
<path d="M164.2 125.1h.9M169.9 96.4h.9M152.6 124.6h.9M163 119.4h.9M164.4 111.3h.9M172 131.4h.9M164.1 112.9h.9M163.3 76h.9M155.2 125.7h.9M150 128.6h.9M166.5 100.2h.9M162.5 119.4h.9M169.6 136h.9M164.6 109.7h.9M163.6 123.8h.9M172.3 130.3h.9M157.8 100.6h.9M161.3 111.7h.9M153.9 122.9h.9M160.1 126.9h.9M170.2 117.6h.9M188.2 119.2h.9M176 127.2h.9M176.2 82.2h.9M157.5 129.4h.9" stroke="#666" stroke-width="0.9" fill="none"/>
<rect x="0" y="0" width="197.6" height="196.6" fill="none" stroke="#000" stroke-width="1"/>
<rect x="57.3" y="83.5" width="136" height="105.3" fill="none" stroke="#000" stroke-width="1"/>
<line x1="146.2" y1="83.5" x2="146.2" y2="188.8" stroke-width="1.6" stroke="#000"/>
<path d="M46.5 196.6v5.4M99.4 196.6v5.4M150.7 196.6v5.4M1.2 196.6v5.4M62.42 196.6v3M71.74 196.6v3M78.35 196.6v3M83.48 196.6v3M87.66 196.6v3M91.21 196.6v3M94.27 196.6v3M96.98 196.6v3M114.84 196.6v3M123.88 196.6v3M130.29 196.6v3M135.26 196.6v3M139.32 196.6v3M142.75 196.6v3M145.73 196.6v3M148.35 196.6v3M166.14 196.6v3M175.18 196.6v3M181.59 196.6v3M186.56 196.6v3M190.62 196.6v3M194.05 196.6v3M4.5 196.6v3M6.7 196.6v3M8.9 196.6v3M11.1 196.6v3M13.3 196.6v3M15.5 196.6v3M17.7 196.6v3M19.9 196.6v3M27 196.6v3M29.3 196.6v3M31.6 196.6v3M33.9 196.6v3M36.2 196.6v3M38.5 196.6v3M40.8 196.6v3M43.1 196.6v3" stroke="#000" stroke-width="0.9" fill="none"/><path d="M21.5 198.5h5" stroke="#000" stroke-width="3.8"/>
<path d="M0 19h-4.8M0 68h-4.8M0 117h-4.8M0 155h-4.8M0 190h-4.8M0 53.25h-2.8M0 44.62h-2.8M0 38.5h-2.8M0 33.75h-2.8M0 29.87h-2.8M0 26.59h-2.8M0 23.75h-2.8M0 21.24h-2.8M0 102.25h-2.8M0 93.62h-2.8M0 87.5h-2.8M0 82.75h-2.8M0 78.87h-2.8M0 75.59h-2.8M0 72.75h-2.8M0 70.24h-2.8M0 143.56h-2.8M0 136.87h-2.8M0 132.12h-2.8M0 128.44h-2.8M0 125.43h-2.8M0 122.89h-2.8M0 120.68h-2.8M0 118.74h-2.8M0 179.46h-2.8M0 173.3h-2.8M0 168.93h-2.8M0 165.54h-2.8M0 162.76h-2.8M0 160.42h-2.8M0 158.39h-2.8M0 156.6h-2.8" stroke="#000" stroke-width="0.8" fill="none"/><path d="M-3.6 134.5v5" stroke="#000" stroke-width="3"/>
<text class="b" x="80.5" y="75" font-size="26" fill="#f3131b" textLength="45" lengthAdjust="spacingAndGlyphs">51.9</text>
<text class="b" x="146.8" y="75" font-size="26" fill="#0ba14b" textLength="45" lengthAdjust="spacingAndGlyphs">1.31</text>
</g>
<g transform="translate(1134.8 1272.8)">
<path d="M21.2 23 24 22.3 26 22.4 34.1 26 40.3 32 44.6 38 48.6 46 49.5 50 50.9 63 51 74 49.7 86 45.4 93 44.7 96 45 99.1 47.6 103 53 107 55 107.8 71 102.9 83 102.5 90 101.8 99 105.7 104.7 109 112 117.3 113.9 121 115.7 131 114 138 112.2 143 108.7 148 106 150.4 97 155.6 93 156.9 83 158.3 74 157.8 63 155.3 56 151.3 47 148.3 43 148.7 32 151.7 29 151.9 25 151.2 21 149.3 14 144.4 10.4 140 9 137 7.5 132 5.8 122 8.1 113 13.6 104 14.5 98 13 91 8.2 81 7.2 75 5.4 68 4.9 59 5.3 52 7.2 41 10.3 33 12 30.7 17.6 25 21.2 23ZM20.2 27 23 26.3 29 27.4 37 32.3 39 34 41.9 38 46.3 47 48.2 59 49.1 72 46.6 84 43 92.7 42.6 95 43 101 45.5 105 52 110.5 54 111.3 63 109 67 107.1 72 105.6 88 104.7 95 107.6 102 111.1 104.7 114 107 117.7 110.2 121 111.1 123 112 129 109.4 141 104.9 147 99 151.4 96 152.8 85 155.6 73 154.7 64 152.1 59 149.7 51 144.8 48 144 35 149.1 30 149.6 26 149.3 23 148.1 19 145.2 15 142 12 138 10.4 134 8.5 125 8.3 122 9.9 118 10.5 113 16 105 16.2 94 15.7 91 10.5 79 7.3 66 6.8 59 8.1 49 10.3 39 13 33.9 20.2 27ZM20.5 30 23 29 28 30 36.5 35 39.8 39 43.3 47 46.1 60 47 72 46.6 75 42.6 87 41 94 40.9 101 41.6 104 42.9 106 46.4 109 50 113.3 53 114.9 63 112.3 69 109.2 79 107.4 86 107.1 95 110.6 101 114 103 115.9 105 119.5 107.9 123 109 126 108.9 129 108.2 132 106.2 136 104.9 142 102 145.8 97 149.3 85 153.1 82 153.3 76 152.6 69 151 62 147.9 55.6 142 53 140.2 51 139.6 46 140.7 40 145 36 146.8 32 147.5 27 147.3 24 146.2 20 143.4 16.5 140 13.7 136 12.2 133 10.6 124 12.2 119 13 113 16.9 108 18 105.4 18 93.4 16 84.7 13.2 79 11.1 73 8.6 63 8.5 60 9.8 56 10.3 49 12.4 40 15 35.7 20.5 30ZM21.8 32 24 31.7 29 33.2 32 34.8 36 37.7 38.3 41 42.4 51 44.8 63 45.1 67 44.3 71 44.3 76 40.4 87 39.2 98 39.4 104 39.9 106 44.6 110 47.2 116 50 117.7 53 118.8 59 115.6 64.9 114 69 111.5 80 109.3 85 109.1 94 112.4 96.9 114 102 118.9 105.6 124 106.4 127 105.8 130 103.8 134 102.9 139 102 141 99.5 144 95 147.9 92 148.9 80 150.9 77 150.7 73 149.1 69 148.7 62.7 145 55 138 53 134 52 133.7 44 138.7 40 143 38 144.4 31 145.8 27 145.2 22 142.7 19 140.3 16.4 137 13.6 132 12.6 124 13.8 120 14.5 115 18 109.8 19.8 105 19.3 93 17.5 83 14.9 78 12.8 72 10 61 11.6 56 12.7 47 14.3 42 17 37.1 21.8 32ZM23.5 35 29 36.1 34.5 39 36 41 37.9 46 41.2 52 43.7 66 42.1 71 42.5 76 39.2 83 38.7 85 37.5 105 38.3 107 43.1 111 45 116.3 48.1 120 48.8 122 48.4 129 46.7 133 42 137.7 39.8 141 38 142.8 31 144.3 29 144.3 25 142.5 22 140.8 18.7 138 15.1 132 14.3 125 16.1 116 19.6 110 21.7 104 20.7 99 20.4 87 19.1 81 17.1 76 13.5 69 11.4 61 14 52 14.8 46 19 39 22 35.8 23.5 35ZM80.9 111 85 111 94 114.5 100.9 121 102.7 124 103 127 101.9 130 100.9 138 96.9 144 95 145.9 93 146.9 88 147.3 80 148.8 69 146.7 64 143.3 60.4 140 57.8 137 56.2 134 54.9 127 59.6 118 61 117.1 65 116 69 113.4 80.9 111ZM23.8 38 26 37.4 33 40.2 34 41.1 36 46 40 52 42.3 66 40.6 71 40.9 76 37.6 81 36.8 83 36.8 95 36.2 101 35.1 105 36 107 40.9 111 42.5 113 45.7 121 46.5 126 46 128.7 44.5 132 38 140.9 36 142 30 143.1 28 142.7 25 141.1 19 136.7 16.3 131 15.7 125 17.2 117 23.9 105 22 100 21.4 92 21.7 90 23.3 87 19 74.6 14.7 68 12.9 61 15.4 52 16.2 47 20.9 42 23.8 38ZM77.9 113 84 112.4 92 115.3 96 118.1 99.5 123 100 127 99.4 137 96.7 142 93.5 145 92 145.5 87 145.6 82 147.1 71 145.3 64 141 58.2 134 57.8 132 58.6 126 62 119.2 66.2 118 70 115 74 114.4 77.9 113ZM25.4 40 27 40 32 42.3 33.5 45 38.3 51 39.1 53 39.3 57 40.9 65 40.9 67 39.4 71 39.3 76 35.7 81 34.9 83 34.6 86 35.4 94 35.2 97 34.3 100 31.8 103 31.6 104 32.5 106 34.4 108 38.8 111 41 113.4 43.8 120 44.8 126 42.2 133 40 136 35.7 140 32 141.6 30 141.9 26 140.5 19.7 136 18.1 132 17 125 18 118 26.1 106 25.8 104 23.3 100 22.4 92 23 90.4 26 88 26.5 86 23.8 82 19.7 73 15.7 67 14.8 63 14.8 60 15.6 55 18.2 48 25.4 40ZM81 114 84 113.9 93 117.2 95.4 119 97.4 122 98.5 130 97.7 137 95.6 141 93 143.3 87 143.8 83 144.9 79 143.8 74 143.8 72 143.4 65 139.7 60.4 133 60.9 126 61.5 124 63 121.5 64 120.7 67 120 71 116.5 81 114ZM25.3 43 27 42.6 30 43.9 37 51 38 53 38.2 58 39.8 66 38.3 71 37.5 76 30 86 29.6 85 22.6 77 20.4 72 17.1 67 16.3 64 16.4 57 17.1 54 18 52.2 20.1 50 21.5 47 25.3 43ZM29.1 87 30 86 31 86.5 33 88.9 34 96 33.3 98 32 99.5 29 101.5 27 102 25.6 101 24.4 99 23.4 94 23.5 92 24.1 91 27.3 89 29.1 87ZM27.7 107 29 106 30 106.3 40 115 42.5 120 43.5 125 43.1 127 41.3 130 40.7 133 39.5 135 33 139.6 30 140.6 27 139.8 21 135.8 19.9 134 18.2 126 18.2 121 19.1 118 27.7 107ZM78.8 116 82 115.1 85 115.4 93 118.4 95.7 121 96.7 124 97.4 131 95 139 94 140.3 92 141.7 86 142.5 80 141.4 74 141.8 68 139.9 65.1 137 62.7 129 62.7 126 63.4 124 65 122.4 68 121 72 117.8 76 117 78.8 116ZM25.8 46 27 45.8 28.5 47 33 48.4 35.6 51 36.9 54 36.9 58 38.4 65 38.4 68 36.6 74 35 77 33 79.3 31 80.2 29 80.3 27 79.5 24 77 18 65 18 55 19 53.2 22.7 50 24 47.4 25.8 46ZM28.5 90 30 89.2 31.5 90 32 91 32.3 95 32 96.7 31.1 98 28 99.6 27 99.5 26 98.6 24.6 93 25 92 28.5 90ZM28.5 109 29 108.7 30.5 109 32.5 112 37.8 116 41 120.1 42.4 124 42.3 126 39.9 130 38.8 134 32 138.6 30 139.3 28 139 23 136.2 21.8 135 20.9 133 19.3 126 19.1 121 20 118.2 28.5 109ZM79.5 117 82 116.2 84 116.3 88 118.2 93 119.5 95 121.9 96.4 129 96.3 131 94.3 135 93.6 138 91 140.6 87 141.4 81 140 75 140.4 69.5 139 67.2 137 64.9 129 65.1 125 72 119 77 118.1 79.5 117ZM29 50 32 49.8 34 51.2 35 52.5 35.5 54 35.5 59 37.6 67 36 71.8 33.1 77 32 78.2 30 78.8 27 77.9 23.9 75 20 66 19.1 61 19.4 56 20.5 54 24 51.6 29 50ZM27.8 114 30 113.5 34.3 115 40 121.1 41.4 124 41.2 126 39.1 129 38 133 37.2 134 33 136.9 30 138 28 137.4 23 134.5 22.1 133 20.3 126 20 121 20.6 119 23 116.4 27.8 114ZM79.7 118 82 117.3 84 117.5 87 119.3 92 120.2 93.9 122 95.4 129 95.3 131 93.1 134 92 138 90 139.8 87 140.3 82 139 75 139.1 70 137.4 68.7 136 66.9 130 67.5 125 72 120.1 74 119.4 77 119.2 79.7 118ZM24.5 53 30 52.1 33 53.4 33.9 55 33.8 59 36.4 65 36.6 68 36 69.8 32.6 74 31 76.9 30 77.3 28 76.9 25.7 75 22.9 70 21.4 66 20.6 61 21.2 57 22 55 24.5 53ZM27.9 116 31 115.1 33.7 116 39.3 122 40.4 124 40.1 126 38 129 36.7 133 34 135.4 31 136.7 29 136.3 27 133.7 24 133.2 23 131.4 21.3 126 21.1 121 21.7 119 24 117.2 27.9 116ZM80 119 83 118.6 86 120.4 91 121.2 92.4 122 93 123 94.3 130 91.5 134 90.3 138 89 138.9 87 139 83 137.8 77 138.1 75 137.7 71 135.8 69 133.2 68.3 131 68.4 129 69.6 125 71.3 122 73 120.6 77 120.1 80 119ZM25.8 54 28 53.8 30.3 55 30.8 56 30.3 58 30.9 59 33 60.4 34.4 62 35.8 66 35.8 68 34.9 70 30 74.6 29 75 27.7 74 24 69.4 22.9 67 22.2 64 22.4 60 23.7 58 24.3 55 25.8 54ZM28.7 117 31 116.3 33 116.8 38.1 122 39.3 124 38.9 126 37.1 129 35.5 133 34 134.5 32 135.5 30 135.2 28 131.8 25 130.6 23 127.6 22.5 126 22.4 121 23 119.5 25 118.1 28.7 117ZM76.8 121 82 120.2 85 122.1 89 122.1 91.1 123 92.3 129 89 135.2 88 136 78 136.7 75.3 136 71 133.9 69.7 132 69.6 130 71.7 127 71.9 123 72.6 122 74 121.3 76.8 121ZM24.7 60 26 59.6 27 59.8 32 61.1 33.3 62 34.5 64 35 67 34.4 69 33.5 70 31 71.6 29 71.7 25 68.4 23.7 66 23.2 63 23.7 61 24.7 60ZM29.2 118 31 117.4 33 118 37 122 38.2 124 38.2 125 36.5 128 35.1 132 34 133.4 32 134.4 30.8 134 29.1 131 25.8 128 24.8 125 24.5 121 24.9 120 29.2 118ZM76.2 122 80 121.7 84 124 88 123.5 89.4 124 89.8 126 87 131.7 83 134 80 134.7 78 134.6 72 132.8 71 130.9 71.4 130 74 128.1 74.4 127 73.5 124 73.7 123 76.2 122ZM24.9 62 26 61.4 30 61.7 32 62.2 33 63 33.8 65 33.9 67 33 68.9 30 70.3 27.4 69 25 66 24.5 64 24.9 62ZM29.9 119 32 118.8 33 119.3 35.9 122 37 124 34.4 131 33 132.7 32 132.9 27.6 127 27.1 121 28 120 29.9 119ZM76.4 124 79 123.3 84 125.5 87 126 87.2 127 86.4 129 85 130.7 81 132.2 79 132.1 77 131.4 75.6 130 76.4 124ZM26.9 63 30 62.8 32 63.6 32.5 66 31.5 68 30 68.7 28 67.9 26.2 65 26.1 64 26.9 63ZM29.6 121 31 120.1 32 120.1 34 121.4 35.3 123 35.4 124 33.1 127 33 129.9 32 129.4 29.4 126 29 123 29.6 121ZM78.1 126 79 125.4 81 125.6 83.6 127 84.4 128 83.9 129 82.3 130 79 130.4 77.3 129 77.2 128 78.1 126Z" fill="none" stroke="#2e2e2e" stroke-width="0.7"/>
<ellipse cx="154.4" cy="124" rx="9" ry="7" transform="rotate(0 154.4 124)" fill="none" stroke="#3c3c3c" stroke-width="0.6"/>
<path d="M132.9 171.2h.9M150.7 157.9h.9M140.4 113.8h.9M140.4 76.9h.9M167.3 79.3h.9" stroke="#666" stroke-width="0.9" fill="none"/>
<rect x="0" y="0" width="197.6" height="196.6" fill="none" stroke="#000" stroke-width="1"/>
<rect x="57.3" y="83.5" width="136" height="105.3" fill="none" stroke="#000" stroke-width="1"/>
<line x1="146.2" y1="83.5" x2="146.2" y2="188.8" stroke-width="1.6" stroke="#000"/>
<path d="M46.5 196.6v5.4M99.4 196.6v5.4M150.7 196.6v5.4M1.2 196.6v5.4M62.42 196.6v3M71.74 196.6v3M78.35 196.6v3M83.48 196.6v3M87.66 196.6v3M91.21 196.6v3M94.27 196.6v3M96.98 196.6v3M114.84 196.6v3M123.88 196.6v3M130.29 196.6v3M135.26 196.6v3M139.32 196.6v3M142.75 196.6v3M145.73 196.6v3M148.35 196.6v3M166.14 196.6v3M175.18 196.6v3M181.59 196.6v3M186.56 196.6v3M190.62 196.6v3M194.05 196.6v3M4.5 196.6v3M6.7 196.6v3M8.9 196.6v3M11.1 196.6v3M13.3 196.6v3M15.5 196.6v3M17.7 196.6v3M19.9 196.6v3M27 196.6v3M29.3 196.6v3M31.6 196.6v3M33.9 196.6v3M36.2 196.6v3M38.5 196.6v3M40.8 196.6v3M43.1 196.6v3" stroke="#000" stroke-width="0.9" fill="none"/><path d="M21.5 198.5h5" stroke="#000" stroke-width="3.8"/>
<path d="M0 19h-4.8M0 68h-4.8M0 117h-4.8M0 155h-4.8M0 190h-4.8M0 53.25h-2.8M0 44.62h-2.8M0 38.5h-2.8M0 33.75h-2.8M0 29.87h-2.8M0 26.59h-2.8M0 23.75h-2.8M0 21.24h-2.8M0 102.25h-2.8M0 93.62h-2.8M0 87.5h-2.8M0 82.75h-2.8M0 78.87h-2.8M0 75.59h-2.8M0 72.75h-2.8M0 70.24h-2.8M0 143.56h-2.8M0 136.87h-2.8M0 132.12h-2.8M0 128.44h-2.8M0 125.43h-2.8M0 122.89h-2.8M0 120.68h-2.8M0 118.74h-2.8M0 179.46h-2.8M0 173.3h-2.8M0 168.93h-2.8M0 165.54h-2.8M0 162.76h-2.8M0 160.42h-2.8M0 158.39h-2.8M0 156.6h-2.8" stroke="#000" stroke-width="0.8" fill="none"/><path d="M-3.6 134.5v5" stroke="#000" stroke-width="3"/>
<text class="b" x="80.5" y="75" font-size="26" fill="#f3131b" textLength="45" lengthAdjust="spacingAndGlyphs">36.2</text>
<text class="b" x="146.8" y="75" font-size="26" fill="#0ba14b" textLength="45" lengthAdjust="spacingAndGlyphs">2.67</text>
</g>
<text class="b" x="600" y="1556" font-size="27" textLength="220" lengthAdjust="spacingAndGlyphs">Dermal γδ<tspan dy="-8" font-size="17">int</tspan><tspan dy="8"> T cells</tspan></text>
<text class="b" x="410" y="1584" font-size="27" text-anchor="middle">1st</text>
<text class="b" x="1023.5" y="1584" font-size="27" text-anchor="middle">2nd</text>
<line x1="116" y1="1590.5" x2="682.5" y2="1590.5" stroke-width="2.3" stroke="#000"/>
<line x1="730" y1="1590.5" x2="1296" y2="1590.5" stroke-width="2.3" stroke="#000"/>
<text class="b" x="125" y="1616.5" font-size="27" textLength="115" lengthAdjust="spacingAndGlyphs">VAS+H<tspan dy="6" font-size="18">2</tspan><tspan dy="-6">O</tspan></text>
<text class="b" x="346" y="1616.5" font-size="27" textLength="121.5" lengthAdjust="spacingAndGlyphs">IMQ+H<tspan dy="6" font-size="18">2</tspan><tspan dy="-6">O</tspan></text>
<text class="b" x="552.5" y="1616.5" font-size="27" textLength="128.5" lengthAdjust="spacingAndGlyphs">IMQ+XYF</text>
<text class="b" x="740" y="1616.5" font-size="27" textLength="115" lengthAdjust="spacingAndGlyphs">VAS+H<tspan dy="6" font-size="18">2</tspan><tspan dy="-6">O</tspan></text>
<text class="b" x="961" y="1616.5" font-size="27" textLength="120" lengthAdjust="spacingAndGlyphs">IMQ+H<tspan dy="6" font-size="18">2</tspan><tspan dy="-6">O</tspan></text>
<text class="b" x="1167.5" y="1616.5" font-size="27" textLength="123.5" lengthAdjust="spacingAndGlyphs">IMQ+XYF</text>
<path d="M80.5 1635.8V1837.7H1326" fill="none" stroke="#000" stroke-width="3.5"/><path d="M80.5 1625.8l-6.3 14.5h12.6z"/><path d="M1336 1837.7l-14.5 -6.6v13.2z"/>
<text class="b" font-size="27" text-anchor="middle" transform="translate(67 1722) rotate(-90)">TCRβ</text>
<text class="b" x="712" y="1865" font-size="27" text-anchor="middle">γδTCR</text>
<g transform="translate(94.4 1625.3)">
<path d="M30.3 54 33 53.3 37 54 41 54 47 55.6 59.5 64 61.4 66 63.3 69 67 72.3 76 75.3 89 77.7 99 82.6 100.3 84 102.4 88 102.2 91 100.9 93 99 94.6 94 96.7 91 98.6 82 99.9 72.7 102 70.5 103 66 109.5 60.4 120 54 124.6 45.5 127 42 128.8 37 129.4 33 130.5 30 130.1 23 126.7 20 124.7 15.9 121 8.1 111 5.6 101 4.3 86 6.4 78 10.2 71 17.5 60 24 56.4 30.3 54ZM31.8 58 40 57.1 45 58.8 51 62.6 56 64.7 60.3 71 65 74.2 75 78 81 78.6 86.8 80 90 81.3 93.5 84 94.9 86 96 91 95.6 92 88 96.1 73 99.5 69 101.3 67.2 103 61.1 113 57.2 118 50 122.7 44 124.4 40 126.1 36 125.9 32 126.9 30 126.5 26 124.6 20 120.5 15 112.6 10.9 109 7 94 6.7 91 8.2 81 11 76.8 13 72 17.1 66 21 62.7 27 59.4 31.8 58ZM31.7 61 39 60.1 41 60.3 45 62 49 64.5 53 66 55 67.5 59.2 73 63.7 76 74 80.3 81 81.6 86 85.4 89 85.5 89.8 87 89.8 88 89 91.5 87.4 93 80 94.8 72 97.8 67 100.4 64.4 103 62 107.4 54.3 116 49 120 46 121.2 33 123.6 30 123.2 21 117.2 18.5 113 14.3 108 10.8 100 8.9 93 11.2 83 14 77.8 16 72.1 21 67.3 26 64.4 28.7 62 31.7 61ZM33.5 64 36 63.2 40 63.4 44 64.4 48 66.6 52 67.9 54 69.4 60 76.4 66 79.3 78.7 84 80.8 86 82.6 89 82.1 90 76 94.2 65 99.3 62.5 102 60 106.5 57 109.4 53 112 50 116.1 48 117.1 40 119.4 33 121.1 25 117 22 114.7 16.3 107 15 102.6 12.6 99 11.6 94 12.7 90 13.1 86 14.7 81 19.3 72 22 69.4 25 67.4 33.5 64ZM35.7 66 38 65.8 43 66.7 48 69.4 52 70.8 56 74 59 78.3 67 82.6 71 82.9 74.1 84 76 86 76.8 89 76.3 91 75 92.3 64 97.5 60.8 101 57.7 106 52.6 109 48 113.7 40 117.3 35 118.5 33 118 31 116.7 27 115.9 24.2 114 22 111.9 18.5 107 17.2 102 14.4 98 14.1 96 15.2 90 15.2 86 16.5 81 19.7 76 21.5 72 25 69.3 29 68.8 35.7 66ZM33.9 69 41 68.2 43 68.4 47 71.4 54 74.7 55.1 76 56.2 79 57.4 80 61.8 82 64 85 67 85.8 72 85.4 72.9 86 73 86.7 72 87.8 70 88.6 67 93 62 97 56.1 105 52 107 48.7 111 46 113.1 39 115.3 37 115.2 34 113.9 29 114.5 27 113.7 22 109.4 20.9 108 19.1 102 16.4 98 15.9 96 17.3 90 17.3 87 18.3 81 19.2 79 21.6 76 22.7 73 25 71.1 29 71 33.9 69ZM39 70 42 69.5 43.1 70 46 72.7 51.2 75 53.2 77 55 81 60 84 62 87 65.3 89 65.7 90 64.6 92 60.7 96 58 99.5 56 103.1 55 104.1 51 105.9 48 110 46 111.6 39 112.9 34 112.3 29 112.6 26 109.5 23 108 22.1 107 20 101.1 17.7 97 17.6 95 19 91 20.1 81 20.9 79 22.8 77 25 73.2 29 72.6 33 71 36 71 39 70ZM39.8 71 42 70.9 45 73.5 49 75 51 76.4 53.1 81 59.5 87 60 89 59.5 93 55 102.1 54 103.1 50.1 105 48 108.1 46 110 38 111.3 30 111.2 27 107.9 23 106 19.1 97 19.1 95 20.6 91 20.7 87 21.8 81 23 79 27.1 75 32 72.7 36 72.7 39.8 71ZM38.4 73 41 72.2 44 74.2 48.6 76 49.9 77 51 81 57.9 88 58.1 91 57.5 93 55 97 53.5 101 49.2 104 46 107.8 38 110.1 32 110.1 30 109.2 28 106.8 24 105.1 23 103.5 20.4 96 21.9 91 22 86 23.1 82 25 79.6 31 75.1 35 75.1 38.4 73ZM39.2 74 41 73.8 47.5 77 48.3 78 48.1 81 48.9 82 52 83.7 53.4 85 56.6 89 56.7 91 56 92.6 53.8 95 51.8 100 48 102.9 45 106 39 108.7 36 109.2 33 109.1 31 108.1 29 105.9 25 104.1 24 102.9 21.9 96 23.1 91 23 86 24.1 83 26 80.8 34.5 78 39.2 74ZM38.9 76 40 75.5 41 75.8 45 78.5 47 82.1 51.7 85 54.7 90 54.5 91 52.4 93 51 98.5 50 99.6 46.4 101 44 104.7 39 107.5 34 108.1 33 107.8 29.6 105 26 103.2 25.1 102 25 98 23.7 95 24.2 91 24 86.2 25 83.7 26.7 82 33 80.1 36.8 78 38.9 76ZM37.6 79 40 78.6 44 80.5 47 83.5 50 85 50.9 86 51.4 89 50.1 92 50.5 96 49.7 98 44.7 100 43.5 103 42 104.5 38 106.4 35 106.7 33 106.1 27.7 103 26.8 102 27 98 25.1 94 25.3 91 24.8 87 25.6 85 27 83.2 31.3 82 37.6 79ZM35 81 37 80.2 39 80.2 43 81.6 46 84.2 49 85.7 50 87 50 88 48.4 91 49 96 48.6 97 43.8 99 42.6 100 41.1 103 39.8 104 38 104.8 36 105.1 33 104.6 28.4 102 28 101 28.1 97 26.7 94 25.7 88 26.2 86 28 84 32 82.8 35 81ZM34.9 82 38 81.3 43 83.3 46 86.4 47.5 87 47.6 88 46.8 90 47.5 95 47.2 96 40 99.9 37.4 103 35 103.6 32 102.9 29.4 101 29.3 97 26.7 88 27 86.8 28.6 85 32 83.8 34.9 82ZM35.1 83 37 82.5 38 82.9 40 85.7 42 86.4 45 90.5 46.2 94 46.1 95 45 96.2 40 98.3 36 101.5 34 102.1 32 101.5 30.7 100 29.6 93 28 88 29 86.3 32 85.3 35.1 83Z" fill="none" stroke="#2e2e2e" stroke-width="0.7"/>
<path d="M116.2 101.2h.9M104.4 80.2h.9M139.1 80.3h.9M89.8 82.6h.9M124.6 87.1h.9M90.7 97.5h.9M151.7 80.2h.9M116.7 75.7h.9M145.4 73h.9M126.9 75.2h.9M92.6 87.2h.9M143.3 79.9h.9M93.1 88.1h.9M108.8 83.1h.9" stroke="#666" stroke-width="0.9" fill="none"/>
<path d="M52.2 139.5h.9M35.8 144.1h.9M40 138.1h.9M34.8 134.8h.9" stroke="#666" stroke-width="0.9" fill="none"/>
<rect x="0" y="0" width="197.6" height="196.6" fill="none" stroke="#000" stroke-width="1"/>
<line x1="67.3" y1="0" x2="67.3" y2="196.6" stroke-width="1.3" stroke="#000"/>
<line x1="0" y1="172.8" x2="197.6" y2="172.8" stroke-width="1.3" stroke="#000"/>
<path d="M46.5 196.6v5.4M99.4 196.6v5.4M150.7 196.6v5.4M1.2 196.6v5.4M62.42 196.6v3M71.74 196.6v3M78.35 196.6v3M83.48 196.6v3M87.66 196.6v3M91.21 196.6v3M94.27 196.6v3M96.98 196.6v3M114.84 196.6v3M123.88 196.6v3M130.29 196.6v3M135.26 196.6v3M139.32 196.6v3M142.75 196.6v3M145.73 196.6v3M148.35 196.6v3M166.14 196.6v3M175.18 196.6v3M181.59 196.6v3M186.56 196.6v3M190.62 196.6v3M194.05 196.6v3M4.5 196.6v3M6.7 196.6v3M8.9 196.6v3M11.1 196.6v3M13.3 196.6v3M15.5 196.6v3M17.7 196.6v3M19.9 196.6v3M27 196.6v3M29.3 196.6v3M31.6 196.6v3M33.9 196.6v3M36.2 196.6v3M38.5 196.6v3M40.8 196.6v3M43.1 196.6v3" stroke="#000" stroke-width="0.9" fill="none"/><path d="M21.5 198.5h5" stroke="#000" stroke-width="3.8"/>
<path d="M0 45h-4.8M0 96h-4.8M0 150h-4.8M0 194h-4.8M0 80.65h-2.8M0 71.67h-2.8M0 65.29h-2.8M0 60.35h-2.8M0 56.31h-2.8M0 52.9h-2.8M0 49.94h-2.8M0 47.33h-2.8M0 133.74h-2.8M0 124.24h-2.8M0 117.49h-2.8M0 112.26h-2.8M0 107.98h-2.8M0 104.36h-2.8M0 101.23h-2.8M0 98.47h-2.8M0 180.75h-2.8M0 173.01h-2.8M0 167.51h-2.8M0 163.25h-2.8M0 159.76h-2.8M0 156.82h-2.8M0 154.26h-2.8M0 152.01h-2.8" stroke="#000" stroke-width="0.8" fill="none"/><path d="M-3.6 170.3v5" stroke="#000" stroke-width="3"/>
<text class="b" x="134" y="37.3" font-size="26" textLength="44" lengthAdjust="spacingAndGlyphs">11.7</text>
</g>
<g transform="translate(302.4 1625.3)">
<path d="M36.8 51 41 50.5 47 52.5 48.7 54 51 57.8 57 64.1 61.8 67 65 67.8 67 67.3 74 63.5 81 62.2 85 59.6 90 57.1 96 56 108 51.8 120 51.8 124 51.1 133 53.2 138 56 144 58.3 146 59.6 150 63.8 154.4 67 159.1 74 160.5 78 161 81.5 163 86 163.9 92 164.9 95 164.5 103 164 104 159.2 108 156.4 116 153.2 119 148.7 122 146 125.2 142 127.2 138 128.2 134 130.2 126 133 123 133.2 118 132.2 112 132.9 106 132.1 97 131.8 91 130.3 84 130.2 78 128.6 66 128 60 126.4 52 128.2 46 131.6 42 133.2 36 134.4 34 134.1 26 128.8 21.1 123 16.4 115 15.2 106 13.4 101 12.8 90 13.3 84 15.1 76 17.2 70 22 62 23.4 58 25.3 56 29.8 53 36.8 51ZM34.6 55 38 54.2 45 55.9 46 56.6 54 66.4 59 69.8 61 72.4 63 73.1 78 66.7 88 64.1 92 60.7 94 59.6 102 56.8 108 55.2 115 54.9 120 56 125 54.9 133 57.1 139 59.4 143.4 62 145.3 64 146.9 67 152 69.4 156 74 157.1 76 157.4 81 159.7 88 160.3 96 157.5 103 151.9 114 149.8 117 141 124 136 124.8 128 128.7 114 128.8 108 127.8 103 128.5 92 126.7 87 126.5 83 124.9 78 124.6 74 125.2 69 124.8 65 123.8 62 121.6 60 120.9 56 122 50 125.6 46 127.4 38 129.7 35 129.4 31.8 128 25.1 123 23.4 121 20.1 115 16.4 102 16.4 98 15.3 91 16 84 20.1 70 22.4 66 25 62.8 29.9 59 32.6 56 34.6 55ZM110.2 58 115 57.6 122 59.2 131 59.7 137 61.3 138 62 140 65.2 144 69 148.6 72 150 75.1 151 76.3 152.4 77 153 78 153.4 81 155.7 85 156.6 89 156.6 91 155.3 95 155.1 99 152.7 103 151.8 107 146 115.2 142 119.1 140 120.2 135 121.1 129 123.5 121 125 111 123.9 107 124.5 103 124 97 125 92 123.8 88 123.5 84 121.7 79 121.9 73 120.5 63 115.9 53.1 119 45 124.6 36 126.2 29 122.2 25 117.9 21.9 113 20.8 110 19.1 103 19.2 98 18 91 18.8 83 21.4 73 24.7 67 27 64.7 32 62 36 58.9 39 58.5 43 59.3 48 63 53 69.2 56.5 72 58.5 76 60 77.7 63 79 65 78 67 75.9 78 70.2 84 67.9 88 67.1 93 63.9 96.6 63 100.7 61 110.2 58ZM111.7 61 115 60.6 120 61.7 130 62.9 132 63.5 141.3 70 143.9 74 148.7 79 152 86 151.6 98 149 102 145.8 111 144 113.3 133 119.2 125 121.3 117 122.3 111 121.5 107 121.9 102 121 97 122.8 85 119.6 79 119.8 75.6 118 73 115.8 63 113.1 57.8 114 52 116.1 47 119.1 44 122 41 122.7 30.7 120 27 116.8 24.7 114 23.2 111 21 103 21 98 20.2 92 21 87 20.8 84 25.9 70 28 67.4 31 65.3 36 62.5 38 61.9 41 62.5 46 65 54.2 74 55.5 77 58.3 80 59.5 82 60 82.5 62 82.8 69 81.5 71.9 78 84 70.4 89 69.2 93 66.8 98 66.1 102 64.2 106 63 108 61.8 111.7 61ZM122.2 64 125 64.3 129 65.7 138.4 70 140.1 72 141.8 76 146.3 79 148.9 86 148.6 89 148.9 98 143.6 107 143 110 142.4 111 138.5 114 133 117.3 131 117.8 127 117.7 123 119.2 118 120.1 110 119.1 100 118.9 95 119.3 93 118.8 88 116.4 80 117.7 78 116.6 75 112.6 69 110.7 64.3 110 56 107.4 54 108.7 51.9 113 45.3 117 42.5 120 41 120.5 31 117.1 28 115.3 26.1 113 22.4 103 22.4 98 21.7 92 22.5 88 22.7 84 28.7 70 30.4 68 33 66.4 36 65.3 39 64.8 41 65.3 43 66.6 48 71.2 51.8 76 54.7 81 54.9 84 55.5 85 57 86 60.3 87 62 89.4 63 89.3 66 87 71 84.9 84 72.6 89 71.4 93 69.4 96 68.9 103 66.1 109 64.6 111 64.9 113 66.2 114 66.3 117 65 122.2 64ZM36.5 67 39 66.9 41 67.8 47.5 75 50 77.1 51.6 80 51.8 84 52.8 86 58.3 92 60 93.4 62 94 66 90.8 69 89.4 79 80.3 82 79.6 82.9 79 83.7 76 85 74.5 92 72.2 96 71.8 100 69.5 102 69.6 104 70.7 105 70.5 107.5 68 109 67.4 115 69.3 119 66.8 124 66.3 128 69 136.5 71 138 72.7 138.8 76 139.5 77 144.7 80 146.6 86 145.9 90 146.9 96 146.7 98 143.7 103 140.5 107 138.8 111 137.2 113 132 115.7 126 115.8 120 118 112 116.6 102 117.3 95 116.2 90 113.5 81 113.4 80 113 77 109.7 71 107.3 65 102.3 61.2 101 59 97.9 58 98.2 57 99.8 56.6 103 52.8 106 50 111.6 43 114.9 40 117.5 36.4 117 30 114.6 28 113 26.8 109 23.9 104 23.6 98 22.8 93 24.2 84 27.5 76 31.9 69 34 67.8 36.5 67ZM34.9 69 38 68.5 40 69.3 42.9 72 46 76.4 49 78.5 49.9 80 50.2 85 52.4 88 53.7 91 53.7 101 50.2 106 49 109.6 48 110.4 45 111.3 39 114.4 33 114.2 30 112.9 29.2 112 28 108 25 104.2 24.5 102 24.7 98 23.9 93 25.6 84 28.4 77 31.6 73 33 70.4 34.9 69ZM110 70 112 70.6 114 72.8 115 73.1 117 72.7 121 70.1 123 69.5 132 71.7 134.3 73 137.2 78 142 79.9 143.2 81 144.3 85 144.2 90 144.9 97 136 111.5 130 113.9 125 114 120 115.2 116 114.3 103 115.2 98 115 95 114.1 89 109.8 86 109.9 81.9 109 80.5 108 79 104.6 78 103.8 77 104 75 105.7 74 106 71.6 105 69.7 99 69.4 95 72 92.2 73.5 89 78.8 83 80 82.5 84 82.5 85 81.6 87.5 77 91 74.7 93 74.8 95 76.2 97 76.6 101 74.2 107 73.9 108 73 109 70.6 110 70ZM36.7 70 39 70.4 42 73 44 77.5 47 80.7 49 86 51.5 89 52.2 91 51.6 97 51.8 100 51.2 102 47 107.4 42 111.2 40 111.9 37 111.8 33 112.6 31 111.9 29 107 26 104 25.5 102 25.8 97 25.1 93 26.6 85 28.7 79 30 77 33.1 74 34.8 71 36.7 70ZM124.9 73 127 72.6 130 73.1 134 76.6 136.6 80 141.1 82 143.4 94 143.4 96 142.7 98 136 107.1 134 109.1 129 111.8 120 112.9 115 112.3 111 113 107 112.4 103 112.7 99 111.9 96 112 94 110.9 90 107 88 106.6 85 106.8 83.2 106 79 101 77 99.7 74 98.8 73 97.6 73.1 95 74.2 93 76 91 82 88.9 84 88.9 86 87.6 86.8 86 86.8 83 87.4 81 90 77.8 92 77.5 95 79 97 79 103 76.1 110 75.1 114 75.2 120 73.2 124.9 73ZM36.4 72 38 71.6 40.1 73 42.7 79 50.4 90 49.7 95 50.1 100 49 102.3 41.1 110 40 110.2 36 109.6 33 110.6 31.8 110 30 106 26.7 103 26.5 101 27.1 97 26.8 92 28 85 30.4 79 31.9 77 34.5 75 36.4 72ZM126.7 75 128.3 75 132 77.1 136 81.7 139 84 140.1 89 141.6 93 141.4 96 140.5 98 135 103 132 107.7 129 109.5 120 111.2 115 110.5 111 110.8 107 109.9 104 110.8 102 110.6 95.2 107 91 101 87 97.2 81.1 95 81.3 94 85 90.9 87.6 88 88.3 86 88.6 82 90 80.4 92 80.1 96 81.2 98 80.7 104 77.6 109 76.7 113 76.8 119 75.1 124 75.9 126.7 75ZM34.5 77 38 76.8 40 78.3 47.1 88 48 90 46.1 93 45.9 94 47.6 97 48 100 45 102.9 42 107.1 40 108.2 37 107.2 33 106.8 28.1 103 27.6 102 29.5 85 32.1 79 33 77.8 34.5 77ZM115.7 77 119 76.5 124 78 128 77.5 130 77.9 132.1 79 135 83 137.4 85 137.8 86 137.7 88 136.8 92 135.9 94 136.2 98 135.3 100 130 106.9 128 107.6 124 107.1 122 108.6 120 109.2 107 108 103 108.5 100 105 97 104.6 96 103.8 92 97.9 86.3 94 86.4 92 89 88.2 90 83.1 91 82.3 94 83.5 96 83.5 99.7 82 105 78.9 108 78.2 113 78 115.7 77ZM115.8 78 119 77.9 124 79.9 128 79.4 130 79.6 131.8 81 133.3 84 135.9 87 135.4 90 133.7 93 133.9 99 132.8 101 129 105.1 128 105.4 123 104.3 120.8 105 118 107 116 107.4 105 106.5 104 106.1 101 103.7 97.2 102 95.7 100 94.3 97 88.8 93 91 86.6 92 85.5 95 85.9 98 84.8 101 84.6 106 80.7 113 79.2 115.8 78ZM34.1 79 35 78.6 37 78.9 40 80.6 46 89 45.9 90 43.6 94 44.9 98 44.8 99 42 103.9 40 105.4 33 105 29.2 102 28.9 101 30.6 95 30.5 86 34.1 79ZM116.7 79 118 79 120.2 80 123 82.6 128 81.3 130 82.3 131.1 85 134 88 133.7 90 131.9 93 132.5 97 132 99 128 102.3 121 102.9 116 105.7 109 106 106 105.4 98.5 101 97.7 100 96.5 96 92.2 93 92 92 93 89.2 94 88.6 98 88 101 88.2 105 83.8 109 83 116.7 79ZM35.9 82 38 81.9 40 82.7 44.4 89 44 90.3 41.6 93 42 99 41 101.8 40 102.5 37 102.6 34 103.4 32.9 103 31.2 101 32.9 98 33 97 32.9 94 31.8 90 31.8 87 33 84.8 35.9 82ZM115.9 81 118 80.8 119.5 82 121 84.3 125.8 86 126.8 89 129.8 91 130 95 127 96.9 126 99.4 125 100.4 119 102 115 101.9 112.6 104 110 104.9 106 104 100.3 101 98.8 99 98.1 93 98.6 92 102.8 90 103.6 87 105 85.2 107 84.6 110 85.1 112 84.7 115.9 81ZM37.3 85 39 84.4 41 85.9 42.7 89 42 90.3 40 91.1 36 91.1 35 91 34 90.1 34 87.9 37.3 85ZM36.7 93 38.7 94 39.7 96 40.1 99 39.8 100 39 100.6 36.1 100 34.9 98 35 94.3 36 93.1 36.7 93ZM116.9 83 118 83.4 120 85.4 123.8 87 126.9 92 127.1 93 124.4 99 122.8 100 120 100.7 118 100.6 115 99.5 113.7 100 111 103 110 103.3 108.8 103 108 100.4 107 99.6 106 99.5 104 100.9 103 100.9 100.9 100 100.1 98 100.8 93 104.2 91 105 86.6 106 85.8 108 85.9 112 88.3 113 88.5 114 87.6 115.7 84 116.9 83ZM106.7 87 108.8 88 111 90.8 113 91.2 115 90.3 118 87 121 87.2 122.9 88 124 90 124.4 92 123.6 98 122 99.2 120 99.7 118 99.4 115 98.1 114 98.2 111 100 108 97.8 104 96.7 103.1 95 103.3 94 106.5 91 105.9 88 106.7 87Z" fill="none" stroke="#2e2e2e" stroke-width="0.7"/>
<path d="M31.3 162.5h.9M171.5 57.5h.9M42.3 43.3h.9M162.9 83.9h.9M107.3 89.1h.9M104.5 61.9h.9M111.1 49.7h.9M106.8 110.8h.9M131 91.9h.9M69.3 105.6h.9M88.2 154.8h.9M144.5 96h.9M88.8 75.4h.9M67.8 87.6h.9M123.3 118h.9M135.6 173.5h.9M78.3 100.5h.9M86.5 105.9h.9M116.9 114.3h.9M99.3 112.8h.9M112.4 127h.9M24.8 69h.9M109.9 63.9h.9M63 122h.9M80.8 122.2h.9M143.6 110.7h.9M132.9 96.3h.9M46.6 98.9h.9M130.4 81.5h.9M105.5 126.2h.9M70.5 122.4h.9M193.8 80.6h.9M116.6 94.7h.9M179.3 111.1h.9M150.4 75.8h.9M109.3 99.7h.9M30.1 150.4h.9M150.5 38.8h.9M143.5 95.4h.9" stroke="#666" stroke-width="0.9" fill="none"/>
<rect x="0" y="0" width="197.6" height="196.6" fill="none" stroke="#000" stroke-width="1"/>
<line x1="67.3" y1="0" x2="67.3" y2="196.6" stroke-width="1.3" stroke="#000"/>
<line x1="0" y1="172.8" x2="197.6" y2="172.8" stroke-width="1.3" stroke="#000"/>
<path d="M46.5 196.6v5.4M99.4 196.6v5.4M150.7 196.6v5.4M1.2 196.6v5.4M62.42 196.6v3M71.74 196.6v3M78.35 196.6v3M83.48 196.6v3M87.66 196.6v3M91.21 196.6v3M94.27 196.6v3M96.98 196.6v3M114.84 196.6v3M123.88 196.6v3M130.29 196.6v3M135.26 196.6v3M139.32 196.6v3M142.75 196.6v3M145.73 196.6v3M148.35 196.6v3M166.14 196.6v3M175.18 196.6v3M181.59 196.6v3M186.56 196.6v3M190.62 196.6v3M194.05 196.6v3M4.5 196.6v3M6.7 196.6v3M8.9 196.6v3M11.1 196.6v3M13.3 196.6v3M15.5 196.6v3M17.7 196.6v3M19.9 196.6v3M27 196.6v3M29.3 196.6v3M31.6 196.6v3M33.9 196.6v3M36.2 196.6v3M38.5 196.6v3M40.8 196.6v3M43.1 196.6v3" stroke="#000" stroke-width="0.9" fill="none"/><path d="M21.5 198.5h5" stroke="#000" stroke-width="3.8"/>
<path d="M0 45h-4.8M0 96h-4.8M0 150h-4.8M0 194h-4.8M0 80.65h-2.8M0 71.67h-2.8M0 65.29h-2.8M0 60.35h-2.8M0 56.31h-2.8M0 52.9h-2.8M0 49.94h-2.8M0 47.33h-2.8M0 133.74h-2.8M0 124.24h-2.8M0 117.49h-2.8M0 112.26h-2.8M0 107.98h-2.8M0 104.36h-2.8M0 101.23h-2.8M0 98.47h-2.8M0 180.75h-2.8M0 173.01h-2.8M0 167.51h-2.8M0 163.25h-2.8M0 159.76h-2.8M0 156.82h-2.8M0 154.26h-2.8M0 152.01h-2.8" stroke="#000" stroke-width="0.8" fill="none"/><path d="M-3.6 170.3v5" stroke="#000" stroke-width="3"/>
<text class="b" x="134" y="37.3" font-size="26" textLength="44" lengthAdjust="spacingAndGlyphs">64.4</text>
</g>
<g transform="translate(510.6 1625.3)">
<path d="M41 56 45 55.6 49 56.8 51 58.4 54.7 63 57.4 73 56.8 84 57 89.7 58 92.5 59 93.7 61 94.4 64 94.3 72 91.8 76 91.3 80 91.7 84 93.4 89 96.8 90.4 99 91.5 105 90.7 111 91.3 113 93 113.3 98 112.6 107 113.6 109 114.3 112 116.5 114.1 119 116.2 123 116.9 126 115.4 132 111 136.4 109 137.6 106 138.4 100 139.3 95 138 90 134.3 88 132 83.9 125 83 124 81 124.1 73 130.5 68 133.2 63 134.8 57.8 139 56.4 141 55.1 146 50.7 153 45 158.8 43 160.2 40 161.1 37 162.8 34 163.4 26 161.8 24 161 21 158.7 15.6 153 7.7 134 6.3 127 6.2 122 7.3 116 7.4 111 9.7 103 12.5 98 15.3 91 18.6 86 21.3 79 24 74.8 26.8 69 32.6 61 37 57.6 41 56ZM114.5 86 117 85.8 120 86.8 125 89.5 128.3 92 130.4 95 132.4 99 132.5 101 131.5 103 129 104.4 125 104.3 121 102.7 115.8 99 112.8 94 111.5 90 112 87.8 113 86.7 114.5 86ZM42.1 59 45 58.8 48 59.8 49.8 61 52.2 64 54.3 69 55.6 75 54.5 91 55.4 95 56.7 97 59 97.9 61 97.9 73 93.6 77 93.3 81 94 86 96.7 88.3 99 89.4 102 89.7 106 88.8 109 86.6 113 81.8 117 73 126.8 70 128.6 63 130.8 57 135.6 54 140 52.8 145 44.2 156 42 157.5 36 159.4 34 159.5 30 158.1 26 157.8 24 157 18.4 152 13.8 143 12 137 9.2 131 8.4 123 9.9 117 10.3 112 12 104 15 98.9 17.7 92 20.3 88 23.4 80 28 71 35 62.4 37 61.1 42.1 59ZM115.6 88 118 88.1 121 89.2 126.7 93 129.6 98 129.8 100 129 101.5 127 102.4 124 102.3 121 101 117.1 98 115.9 96 114.1 91 114.3 89 115.6 88ZM97.6 115 108 116.5 111 118.5 113 121 114.4 125 114 129 112.6 132 109 135.3 103 137.3 98 137 95 135.8 91.8 133 90.3 131 89.1 125 90.8 120 93.2 117 95 115.8 97.6 115ZM42.9 62 47 62.4 49 63.8 53 72 53.6 75 53.4 82 52.3 86 51.4 93 52.2 96 54 98.7 58 102 60 102.6 72 95.7 76 95 80 95.5 84 97.4 86.8 100 87.6 102 87.9 106 87.4 108 84.9 112 73 121.2 70.3 125 68 126.3 62 127.3 56 132.8 52.3 139 50.8 143 46 147.7 42 153.8 40 154.9 36 155.7 24 152.8 22 151.7 20.3 150 15.2 141 13 133.4 11.1 130 10.6 124 14.4 105 17 101 20 93 22.2 89 23.3 85 28.4 74 31 70 37 64.3 40 62.6 42.9 62ZM117.9 91 119 90.8 121 91.5 124 94 127 98 127.1 99 126.2 100 125 100.3 123 100 119.2 97 118 95.2 117.3 93 117.3 92 117.9 91ZM97.5 118 100 117.3 105 117.8 108 118.9 110.7 121 112.3 124 112.6 127 111.7 130 109 133.1 105 135.1 100 135.5 96 134.1 93.1 131 91.6 127 91.9 124 94 120.4 97.5 118ZM39.7 65 43 64.6 47 65.9 48.6 68 51.3 73 51.8 81 49.1 94 50 98 53.3 104 54.8 105 61 106.7 65 108.5 66 107 66.7 102 67.9 100 72 97.1 76 96.4 80 97.2 84.8 100 86 102 86.3 106 84.6 110 82 112.7 77 115.7 70 117.2 69 118 67 121.8 66 122.8 63 123.7 57 128 53.5 132 50 138.8 42 150.2 40 151.6 34 152.6 25 150.6 23 149.5 21.6 148 16.5 140 15.3 136 14.7 132 12.7 128 12.7 125 15 110 19.4 102 22.4 93 23.9 90 24.7 86 27.4 82 29.1 76 33 70.2 39.7 65ZM98.7 120 102 119.2 105 119.7 108 121 110 123 111 125.7 110.9 128 110 130 108.1 132 105 133.6 101 134.1 98 133.3 95.4 131 93.5 127 93.8 124 95.1 122 98.7 120ZM40.8 67 44 67.1 46 67.9 49.1 72 49.9 74 50 81 47 95 48.6 105 50 106.4 54 108.6 59 109 60.2 110 62.3 114 64 115.8 64.5 117 63.9 119 62 120.3 59 123.6 56 125.1 51.6 130 46.2 140 44.7 144 41 148.6 39 149.7 34 150.4 26 148.8 24 147.1 18.1 140 16.8 136 16.2 131 14.9 127 15.3 119 16.5 111 21 102.9 25.7 90 26.5 86 29.3 82 30.7 76 35.6 70 39 67.5 40.8 67ZM73.1 98 76 97.6 79 98.4 83 100.7 84.6 103 84.9 106 83.8 109 82 111.1 77 114 75 114.2 73 113.6 70 111.8 68.5 110 68.3 106 68.8 102 71 99.1 73.1 98ZM98.7 122 101 121.2 103 121.1 105.7 122 108 123.5 109.1 125 109.5 127 108.3 130 106 131.8 104 132.5 100 132.4 98 131.4 96.2 129 95.4 126 96 123.7 98.7 122ZM38.7 70 43 69.3 45 69.5 47 71.4 48.5 74 47.2 88 45.1 94 44.7 97 45.6 100 45.4 103 46 105 48 107.5 51 109.5 52.2 111 52.4 113 51.9 116 53.1 121 52.6 124 50 128.1 46.6 136 45 138.7 43.8 143 39 147.8 37 148.5 34 148.8 27 147.2 19.5 140 18.6 138 16.9 128 17 119 18.2 111 21.8 105 25.6 94 27.5 90 28.1 87 30.8 82 31.9 77 33 75.7 36 74.2 36.6 72 38.7 70ZM73.9 99 76.5 99 79 100 82 102.2 83.4 105 83.2 107 82 109.2 78 112 76 112.6 74 112.2 72 110.9 70.9 110 69.9 108 70.5 102 71.9 100 73.9 99ZM100.8 123 102 122.7 104 123.1 107 125.8 107.5 128 106 130.1 104 131.1 102 131.1 100 130.5 98.4 129 97.7 127 98.1 125 98.9 124 100.8 123ZM39.8 72 41 71.4 44 71.1 46 72.3 47.2 74 47.3 76 45.5 84 45.4 89 43 94 42.1 97 43.2 104 49.5 112 49.2 116 50.5 122 49.7 125 42.1 143 38 146.5 36 147.3 34 147.4 28 145.8 25 143 22 141.1 20.3 139 18.2 128 18.2 119 19.8 111 22.7 106 24.2 101 26 97.8 26.9 94 29.4 90 29.9 87 33 78.4 34 77.4 38 76.4 39.8 72ZM73.1 101 75 100.4 77 100.9 80.9 104 81.4 105 81.5 107 80 109 78 110.3 76 111 74 110.3 72.3 109 71.6 108 71.5 106 72.4 102 73.1 101ZM100.7 125 102 124.4 104 125.1 105 127 105 128 104.3 129 103 129.4 101 128.7 100 127 100.7 125ZM41.5 73 43 72.6 45 73.3 46 74.9 46 76 44.5 80 43.8 84 43.7 89 41.3 93 39.7 97 39.7 98 41.3 104 46.7 111 47.3 113 48.6 122 47.5 127 41.7 141 37 145.2 34 145.9 29 144.5 23 140.5 21.7 139 21 134 19.3 129 19.3 119 21.2 111 23.8 106 25.1 102 27.2 99 28.4 94 31.3 90 31.8 86 34 80.4 35 79.2 38 78.2 39.7 77 40.6 74 41.5 73ZM74.7 106 76 105.2 78 105.2 78.9 106 78.9 107 78 108.2 76 108.8 74.6 108 74.2 107 74.7 106ZM40.1 79 42 78.1 42.7 80 42.6 82 41 86.2 38.9 88 39.3 91 38.8 94 35.6 97 35.6 98 41.5 107 44.4 110 45.5 112 46.9 120 46.9 124 46.3 127 41 139.7 36 143.8 33 144.3 29 143 22.9 139 22.3 137 22.3 134 20.3 129 20.4 119 22.4 111 26.3 103 29.7 99 30.3 95 32 93.5 32.8 92 34.1 84 36 81.6 40.1 79ZM31.9 101 34 100.6 36 101.7 38 103.9 41 108.6 44 111.5 45.3 115 45.6 120 45.5 126 42.8 131 40.5 138 38.9 140 36 142.3 33 143 29 141.9 24.2 139 23.4 137 23.5 134 21.1 128 21.4 120 22.7 116 23.2 112 26 107 30 102.1 31.9 101ZM33.6 103 35 103.3 36.8 105 37.5 107 37.2 108 37.6 109 42 110.9 43.7 113 44.4 116 43.8 122 44.3 126 44 127 41.7 130 38 139 36 141 33 142 29 141 25 138.3 24.5 137 24.7 134 22.2 129 22 127 22.5 120 24 116.6 24.5 112 27 108.2 30.3 106 32 103.8 33.6 103ZM28.6 109 32 108.2 36 110.8 41 111.6 42.7 113 43.4 115 43.1 119 41.9 122 43 126.1 40.3 130 37.9 135 36.6 139 35 140.5 33 141 29 140.2 26 138 25.7 134 23 128 23.3 121 25.3 117 25.5 113 27 110.5 28.6 109ZM28.8 111 30 110.4 32 110.4 37 112.2 40 112.4 41.3 113 42.3 115 41.8 118 39.7 122 41.3 126 38.3 132 35.7 135 35.6 138 35.1 139 33 140 30 139.7 27.4 138 26.6 134 24.3 128 24 122 26.2 118 27 113 28.8 111ZM29.4 113 31 112.3 33 112.2 40 113.8 40.9 115 40.4 117 37.8 121 37.8 123 38.8 126 38.1 130 37 131.6 34 132.9 32.9 134 32.7 135 33.6 138 32 138.8 30 138.5 28.5 137 26 130 26 126 25.1 123 25.7 121 27.3 119 28.1 115 29.4 113ZM32.4 114 34 114 36.6 115 37.4 116 36 117.5 35.7 119 37.1 126 37.2 129 36 130.8 33 132.3 30 134.9 29 134.3 27.6 132 27 129 28.5 124 31 122.7 32.1 121 29.6 119 29.1 118 29.4 116 30 115 32.4 114Z" fill="none" stroke="#2e2e2e" stroke-width="0.7"/>
<path d="M144.5 111h.9M125 93.6h.9M154.9 82.8h.9" stroke="#666" stroke-width="0.9" fill="none"/>
<rect x="0" y="0" width="197.6" height="196.6" fill="none" stroke="#000" stroke-width="1"/>
<line x1="67.3" y1="0" x2="67.3" y2="196.6" stroke-width="1.3" stroke="#000"/>
<line x1="0" y1="172.8" x2="197.6" y2="172.8" stroke-width="1.3" stroke="#000"/>
<path d="M46.5 196.6v5.4M99.4 196.6v5.4M150.7 196.6v5.4M1.2 196.6v5.4M62.42 196.6v3M71.74 196.6v3M78.35 196.6v3M83.48 196.6v3M87.66 196.6v3M91.21 196.6v3M94.27 196.6v3M96.98 196.6v3M114.84 196.6v3M123.88 196.6v3M130.29 196.6v3M135.26 196.6v3M139.32 196.6v3M142.75 196.6v3M145.73 196.6v3M148.35 196.6v3M166.14 196.6v3M175.18 196.6v3M181.59 196.6v3M186.56 196.6v3M190.62 196.6v3M194.05 196.6v3M4.5 196.6v3M6.7 196.6v3M8.9 196.6v3M11.1 196.6v3M13.3 196.6v3M15.5 196.6v3M17.7 196.6v3M19.9 196.6v3M27 196.6v3M29.3 196.6v3M31.6 196.6v3M33.9 196.6v3M36.2 196.6v3M38.5 196.6v3M40.8 196.6v3M43.1 196.6v3" stroke="#000" stroke-width="0.9" fill="none"/><path d="M21.5 198.5h5" stroke="#000" stroke-width="3.8"/>
<path d="M0 45h-4.8M0 96h-4.8M0 150h-4.8M0 194h-4.8M0 80.65h-2.8M0 71.67h-2.8M0 65.29h-2.8M0 60.35h-2.8M0 56.31h-2.8M0 52.9h-2.8M0 49.94h-2.8M0 47.33h-2.8M0 133.74h-2.8M0 124.24h-2.8M0 117.49h-2.8M0 112.26h-2.8M0 107.98h-2.8M0 104.36h-2.8M0 101.23h-2.8M0 98.47h-2.8M0 180.75h-2.8M0 173.01h-2.8M0 167.51h-2.8M0 163.25h-2.8M0 159.76h-2.8M0 156.82h-2.8M0 154.26h-2.8M0 152.01h-2.8" stroke="#000" stroke-width="0.8" fill="none"/><path d="M-3.6 170.3v5" stroke="#000" stroke-width="3"/>
<text class="b" x="134" y="37.3" font-size="26" textLength="44" lengthAdjust="spacingAndGlyphs">26.1</text>
</g>
<g transform="translate(718.6 1625.3)">
<path d="M38 52 41 51.4 48 54.3 52 57.7 56.5 60 59.8 63 67 66.5 81 67.3 88 69.3 95 74.2 97.1 79 101 83 102.8 89 102.5 91 99.6 97 93.8 103 86 106.5 81 107.1 73 109.6 66 115.2 61.5 120 59 124.4 55.8 127 51.7 132 49 133.7 42 135.8 35 134.7 29 133 22 130.2 19 128.3 13.1 121 7.6 110 5.9 94 6.3 87 9 75 15.1 65 22 58.2 28 53.9 30 53.3 35 52.9 38 52ZM40.5 57 42 56.6 44.4 57 48 60 53 61.7 57 65.1 65 69.3 67 69.8 73 69.6 81 70.5 89 74.5 93.4 79 97.8 88 95.3 95 91 99.9 85 102.6 81 103 77 104.7 71.6 106 66 109.9 62.4 115 58.9 118 56.7 122 53 124.7 50 128.7 48 129.8 45 130.4 42 132.1 40 132.4 36 131.6 26 128.3 22 126.3 19.5 124 17 119 15.3 117 10.6 109 8.3 93 8.8 87 12.8 74 17 67.2 20.9 64 24 60.6 28 58.3 30 57.7 38 58 40.5 57ZM40.4 61 43 60.7 46 62.6 51 64.6 55.4 68 64 72.1 67 72.6 73 72.1 77 73.6 82 74.2 87 77.3 91.2 82 92 83.6 93.1 89 92.7 93 91 95.6 89 96.7 83.1 98 78 101.4 71 101.9 67.9 103 64.6 106 60.7 112 56 116.9 53.8 120 51 122.3 49 124.7 48 125.4 44 126.3 40 128.5 38 128.8 36 128.5 27 125 21.9 122 20.1 118 17.5 115 16 111.9 13.2 108 12.2 99 10.6 92 12.2 84 14.4 79 15.1 74 17 71.1 19 69.4 23.6 67 27 63.2 33 62 38 61.9 40.4 61ZM38.3 64 41 63.1 43 63.4 51 67.7 62 75.2 67 76.1 72 75.5 77 77.8 81 77.2 83 77.8 84.6 79 86.1 81 88 87.2 90 91 90 92 89 93.3 84 94.5 82 95.5 78 99.3 76 99.8 71 99.7 67 100.3 65.5 101 62 104.8 59.2 110 52 118.6 49.6 120 47 122.6 40 125.4 37 126 35 125.4 31.1 123 25.3 121 23.8 120 22 116.6 19.7 114 15.3 107 13.2 92 14.8 85 16.7 80 17.1 75 18 73.5 32 64.9 34 64.3 38.3 64ZM38 66 41 65.1 43 65.6 52 71.1 59 76.7 66 80.1 68 80.3 72 79.7 74.1 81 76 83.1 77 83.4 80 81.6 82 81.1 84 82.6 85.1 85 85 86 82 91.8 77.1 97 76 97.3 72 97 65 98.3 60.4 104 58 108.3 55 111.3 52 116.2 48.9 118 45.9 121 39 123 37 122.7 31 120.5 25 116.5 21.4 111 18.3 108 17.1 106 15.7 94 16.1 90 18.1 86 18.6 80 21 76 27 70.5 32.7 67 38 66ZM37.7 68 40 67.3 42 67.6 54 75.3 55.8 77 58 80.2 59 80.9 63 81 68 84.2 70 83.4 71 83.4 75 86.6 79.5 88 79.8 89 79.1 90 75 93 73 93.5 71 93 68 88.9 63.4 95 60 102 53.6 110 51 114.7 48 116.2 45 119.4 41 120.3 32 118.7 29 115.4 26 113.5 24 110 19.7 106 18 97 18.4 90 20.6 85 20 82 20.6 80 24 76.1 26 74.8 28.7 72 34 68.7 37.7 68ZM33.7 71 37 70.2 45 72 54 77.6 56.8 84 58 84.8 62 85.6 63.3 88 63.2 90 60.3 93 60.4 97 58.7 101 55 104.6 50 113.2 46.5 115 43 118 35 117.7 32.8 117 30 113.2 27.2 111 22.5 106 19.6 99 20.2 90 22.3 86 22.2 82 22.7 81 27 77 29.3 74 33.7 71ZM33.8 73 36 72.3 39 73.4 43 73.3 45 74.2 49 77.6 52.2 79 53 80 55 85.2 58.3 88 58.6 89 58.4 90 56.5 93 58.5 97 57.9 99 54 103.6 49 111.6 42 115.5 36 116.2 34 115.5 29 108.9 24.3 105 21.3 100 20.7 98 20.7 95 21.5 91 23.9 86 24.7 82 30.6 75 33.8 73ZM33.4 75 35 74.7 38 76.2 42 74.8 44 75.3 52 82.7 55.7 89 55.7 90 54 92 53.9 93 56 97 56 98 50.9 107 49 109.2 47 110.2 44 109.1 43 109.1 39.7 113 37 114.5 35 113.9 30.6 108 27.4 105 25.3 101 22.2 98 21.7 96 22.2 93 24.9 87 26.4 82 31.6 76 33.4 75ZM41.2 77 43 76.6 45 77.7 48.6 82 51 84 52.8 88 52.2 93 54.1 98 53.6 100 50.5 106 49 107.7 47 108.3 44 107.3 42 107.2 39.2 109 37 111.9 36 111.7 29.5 105 28 101 26.3 99 23.6 97 23 95 26.4 87 27.3 83 32 77.7 34 77 37 78.7 39 78.3 41.2 77ZM43 79 45 79.9 46 81.3 47 84.1 50 85.6 50.8 87 51.1 89 50.8 93 52.7 98 52.2 100 49.2 106 48 106.8 42 105.6 36 107.9 34 107.8 31 105 29.1 100 25.6 96 25 95 25.3 93 28.3 87 28.8 83 31 80.7 33 79.9 36 81.2 37 81.2 43 79ZM41.5 82 43 81.6 44 82 45.7 86 49.2 88 49.5 95 51 97.9 51 99 48.5 102 47 104.8 42 104.1 36 105.7 34 105.7 32 104 30.4 100 27.6 96 26.9 94 27.1 92 28 90 31.4 87 31.5 84 32 83.6 35 85.1 39 85.2 40 84.4 41.5 82ZM41.5 86 43 85.8 47.1 89 47.7 91 47 94.1 46 95.3 45 95.7 44.4 95 43 94.9 43 96 46 96.4 47.5 98 47.6 99 45 102.3 41 102 37 103.9 34 103.6 28.9 96 28.2 94 28.3 92 29 90.8 32 89.3 35 87 41.5 86ZM35.5 88 38 87.6 43 88.3 44.2 89 44.6 90 44.2 91 41.1 93 40.5 94 40.7 99 38 101.7 36 102.5 35 102.4 33.5 101 30 95.2 29.6 93 30 92 32 91.5 35.5 88ZM35.6 89 37 88.5 39.1 89 40.3 90 40.4 91 39.1 94 39.6 97 39.2 99 38 100.2 36 101.1 34.3 100 33.3 97 34.3 91 35.6 89Z" fill="none" stroke="#2e2e2e" stroke-width="0.7"/>
<path d="M104.5 58.7h.9M100.6 79h.9M158.9 80.2h.9M129.9 101.8h.9M114.6 66.9h.9M135.6 81.6h.9M104.7 61h.9M130.8 78h.9M98.9 72.6h.9M114.1 80.5h.9M122.7 74h.9M117.9 87.6h.9M152.8 70.6h.9M141.9 65.9h.9M126.4 84h.9M155.3 70.4h.9M123.5 77.4h.9M95 75.2h.9M111.5 79.5h.9M102.4 51.3h.9M125.8 78.1h.9M114 85.7h.9M119.5 67.7h.9M134.6 56.2h.9M111.5 74.8h.9M142 73h.9M131.2 67.1h.9M131 95h.9M111.3 103.4h.9M112.1 75.2h.9" stroke="#666" stroke-width="0.9" fill="none"/>
<path d="M64.3 140.1h.9M29.1 124.5h.9M75.2 139h.9M75.6 148.2h.9M65.1 136.3h.9M83.2 136.8h.9M101.6 128.8h.9M50.6 117.8h.9M80.3 133.1h.9M83.1 145.8h.9" stroke="#666" stroke-width="0.9" fill="none"/>
<rect x="0" y="0" width="197.6" height="196.6" fill="none" stroke="#000" stroke-width="1"/>
<line x1="67.3" y1="0" x2="67.3" y2="196.6" stroke-width="1.3" stroke="#000"/>
<line x1="0" y1="172.8" x2="197.6" y2="172.8" stroke-width="1.3" stroke="#000"/>
<path d="M46.5 196.6v5.4M99.4 196.6v5.4M150.7 196.6v5.4M1.2 196.6v5.4M62.42 196.6v3M71.74 196.6v3M78.35 196.6v3M83.48 196.6v3M87.66 196.6v3M91.21 196.6v3M94.27 196.6v3M96.98 196.6v3M114.84 196.6v3M123.88 196.6v3M130.29 196.6v3M135.26 196.6v3M139.32 196.6v3M142.75 196.6v3M145.73 196.6v3M148.35 196.6v3M166.14 196.6v3M175.18 196.6v3M181.59 196.6v3M186.56 196.6v3M190.62 196.6v3M194.05 196.6v3M4.5 196.6v3M6.7 196.6v3M8.9 196.6v3M11.1 196.6v3M13.3 196.6v3M15.5 196.6v3M17.7 196.6v3M19.9 196.6v3M27 196.6v3M29.3 196.6v3M31.6 196.6v3M33.9 196.6v3M36.2 196.6v3M38.5 196.6v3M40.8 196.6v3M43.1 196.6v3" stroke="#000" stroke-width="0.9" fill="none"/><path d="M21.5 198.5h5" stroke="#000" stroke-width="3.8"/>
<path d="M0 45h-4.8M0 96h-4.8M0 150h-4.8M0 194h-4.8M0 80.65h-2.8M0 71.67h-2.8M0 65.29h-2.8M0 60.35h-2.8M0 56.31h-2.8M0 52.9h-2.8M0 49.94h-2.8M0 47.33h-2.8M0 133.74h-2.8M0 124.24h-2.8M0 117.49h-2.8M0 112.26h-2.8M0 107.98h-2.8M0 104.36h-2.8M0 101.23h-2.8M0 98.47h-2.8M0 180.75h-2.8M0 173.01h-2.8M0 167.51h-2.8M0 163.25h-2.8M0 159.76h-2.8M0 156.82h-2.8M0 154.26h-2.8M0 152.01h-2.8" stroke="#000" stroke-width="0.8" fill="none"/><path d="M-3.6 170.3v5" stroke="#000" stroke-width="3"/>
<text class="b" x="134" y="37.3" font-size="26" textLength="44" lengthAdjust="spacingAndGlyphs">17.2</text>
</g>
<g transform="translate(926.8 1625.3)">
<path d="M111.8 57 119 56.5 125 58.1 131 57.9 140 60.1 143 61.6 147 64.9 151 67.3 155.6 72 161.9 81 164.9 88 165.6 92 165.4 95 164.4 99 161.3 103 159.2 108 157.5 110 152 114 135 121.5 129 121.8 118 124.3 111 124.4 106 125.9 102 126 97 127.4 87 128.1 79 127.1 72 125.4 66 125.4 59 123.9 54 124.5 38 124.7 34 123 30 120.3 25.4 116 23 113 20.4 107 19.3 98 20.1 86 21.7 82 27 74.3 33 68.6 35 67.8 39 67.6 42 66.9 57 67.7 62 66.6 67 66.7 72 64.9 79 65 84 62.8 94 60.4 105 59.3 111.8 57ZM115.9 59 119 59.3 125 61.5 134 61.6 141 64.1 151 71.2 158.6 82 161 90 160 97 157.7 101 156 106.1 151 111.2 148 112.6 142 114 138 116.6 135 117.7 128 118.1 124 119.7 121 120.4 119 120.4 114 119.3 102 122.4 97 124.3 90 123.8 86 124.6 81 122.3 75 122.8 68 120.6 64 121.1 59 120.5 46 121.9 42 121.2 38 121.7 36 121 29.9 117 24.2 110 23 107 21.8 100 23.2 86 24.5 83 26.6 80 32 74 35 71.6 41 71.4 44 70.7 51 72 62 71.7 71 69.9 75 68.3 80 67.8 86 65.7 92 65.1 97 63.1 105 62 115.9 59ZM111.2 63 117 62.1 126 64.2 132 64.6 137 65.7 144 70.7 148.6 73 154 79.3 156.2 83 156.8 85 156 97 154.6 101 153 103.9 147 109.7 142 111.3 137 114 132 115.4 126 115.6 121 117.2 117 116.2 115 116.2 106 118.7 97 119.3 93 120.9 86 120.5 80 118.5 76 119.4 74 119.4 72 118.4 69 115.7 64 117.1 61 116.1 56 117.1 52 117.1 46 118.7 42 117.8 38 117.9 36 117.3 32.4 115 26 108 24 101 25 96 25.2 88 26.4 85 29.1 81 33 77.7 36 76.5 41 76.6 46 75.2 55 75.9 59 77.5 60 77.3 63 75 65 74.2 73 72.7 78 73.8 85 70.8 89 68.5 95 67.3 103 64.6 111.2 63ZM111 65 114 64.4 121 65.1 135.8 68 139 70.7 145 74 148 77.5 152.3 81 153.3 83 154.2 90 153.5 97 152 100.6 147 106 140 109.6 136.7 112 131 113.6 126 113.6 121 114.3 117 114.1 110 115.3 106 116.5 95 116 86 116.9 81 115.9 75 115.6 74 115.3 71 112.8 66 112.8 62 111.9 58 113.1 53 113 48 115.4 46 115.9 38 115.2 34.2 113 29.8 109 27.6 106 26 101 27.1 96 26.6 92 26.9 89 27.7 87 31 82.1 33 80.6 43 79.3 51 79 53 79.7 58 82.6 60 82.8 62 81.7 63.9 78 65 77.3 72 76.4 75 77.5 77 77.5 91 70.7 94 69.9 99 69.5 104 66.5 111 65ZM109.9 67 113 66.2 115 66.2 123 67.3 129 69.1 134 69.7 139.8 74 146.6 80 148.5 83 150 87.2 151.7 90 152.2 92 151 97.5 147 100.8 145.8 104 145 104.8 139 107.7 136 110 131 111.9 129 112.1 125 111.6 117 112.3 113 113.3 110 113.4 106 114.6 98 114 93 112.2 89 113 80 113.5 72 110.3 67 110.1 62 108.8 58 109.6 55 108.7 54 108.9 47 113.7 38 113.2 36 112.2 31.4 108 29.3 105 28 101 28.7 90 29.7 88 32.7 84 34 83 43 81.7 51 82.5 55 84.3 58 88.3 60 89.1 61 88.5 65 82.8 70 79.4 72 79.2 76 80.1 80 79.3 83 78.1 86.7 75 91 72.8 94 71.9 100 71.4 105 67.9 109.9 67ZM106 69 114 68 122 68.7 128.9 71 133 71.6 137 74.3 140 78.7 144.5 81 147.5 86 149.4 91 149.5 93 148.5 96 144.8 99 143.4 103 140.6 105 130 110.2 125 108.8 113 111.5 110 111.4 106 112.6 103 111.7 99 111.7 95 110.3 89 110.4 85 108.8 83.3 109 81 110.1 76 109.6 72 107.9 66 106.9 64.4 105 63.7 102 63 101.4 62 101.4 57 103.8 54.7 106 47 110.8 45 111.1 42 109.6 41 109.6 39.1 111 38 111.2 36 110.1 32.7 107 30.6 104 29.7 100 30 93 32.3 89 35 86.2 43 84 51 85.5 53.8 87 58 92.4 59 92.9 61 92.8 63 91.1 66 85.6 71 81.9 75 82.3 86 80.6 87.1 80 88.5 77 90.7 75 94 73.8 100 73.5 102 72.4 106 69ZM107.1 70 110 69.7 117 70.5 122 70.3 124 70.7 128 72.6 132 73.3 135.3 75 139 80.2 144 83 146 87 146.2 90 140.5 103 138 104.4 134 105.2 130 107.3 124 106.6 117 109 107 110.1 105.8 110 102 107.9 98 108.8 90.3 109 86 106.3 80 104.8 76.2 107 75 107 70.8 104 70.3 103 72 99.8 72.2 96 71 91.8 70 91 67 92.5 66 92.4 66.1 90 67.6 87 70 86.5 72 87.8 74 87.9 75.5 87 78 83.9 87 82.4 89 81 93 76.1 95 75.6 98 76 100 75.7 102 74.5 107.1 70ZM39.1 87 43 86 45 86.2 46.9 87 48 88 48.2 91 49 92.1 50 92.2 52 90.4 53 90.4 54.8 92 55.4 94 54.8 95 53 96.4 52.4 98 53.9 103 53 104.9 51.6 106 49 107.1 42 106.6 37 107.8 35 106.8 32.9 105 31.3 101 31.1 94 32.2 92 35 88.8 39.1 87ZM107 72 110 71.1 116 72.3 122 72.1 126 73.8 131 74.6 134 76.2 138 81.3 142.8 84 143.7 86 143.5 87 141.4 89 141 90 140.7 97 139 101.7 137 102.5 134 101.9 133 102.2 130 104.4 125 104.7 115 107.7 107 107.5 102 105.7 97.2 107 91 107.4 88 104.8 84 104 82 103 80.9 102 81 98.7 80 97.3 79 96.9 77.8 98 79.4 102 76 104.7 74.5 104 73.8 102 74.7 97 73.8 93 74.7 91 77.5 89 80 86 81 85.4 84 84.5 88 83.9 94 77.7 95 77.4 99 77.8 101 77.2 105 74.4 107 72ZM37.9 89 43 88.1 45 88.7 49.4 97 50 99 49.5 101 44 104.9 40 105.6 37 105.6 34.2 104 33.1 102 32 97 32.3 94 35 90.6 37.9 89ZM108.9 73 111 72.6 116 74 121 73.7 124 75.2 130 75.8 132.4 77 136.3 82 137.3 84 138.4 90 138.8 96 138 98.5 137 99.3 132 100 121 105 118 105.5 116 105.5 113 104.6 108 104.9 104 102.7 103 102.7 98 104.8 95 104.6 93 103.8 88 99 86.9 99 86 100 86.5 101 86 101.6 85.1 101 85.9 100 85 99.8 83 97.7 80.8 94 80.8 92 82 89.4 83 89 85 89.3 85.7 89 86.2 88 89 86.2 90.8 83 94 79.9 96 79.1 99 79.6 101 79.3 106.4 76 108.9 73ZM36.7 91 39 90.5 44 92 46 93.7 47.4 96 47.9 99 42.7 104 40 104.5 38 104.2 36 103.3 34.9 102 33.2 97 33.1 95 34.3 93 36.7 91ZM109.4 75 111 74.3 115 75.8 120 75.2 124 77.2 129 76.8 131 77.7 134.5 82 136.6 88 136.9 90 136.5 96 135.9 97 129 99.6 121 103.8 119 104.2 113 102.3 108 102.8 104 100.8 102 100.9 99 102.1 97.5 101 96.6 98 96 97.4 92 98 88 95.1 87.2 95 88 94.7 89.1 90 91.1 87 92 84 93 82.6 95 81.2 97 81 99 82 101 83.9 102 83.5 103.6 80 107 77.8 109.4 75ZM36.4 93 38 92.5 41 94 44 94.2 45.9 96 46 98.2 43.1 100 42.4 102 41.3 103 39.3 103 37.8 102 35 97.7 34.6 95 36.4 93ZM83.8 93 85 93.4 87 95 85.5 96 84 95.7 83.1 94 83.8 93ZM118.5 77 120 76.9 124 78.9 129 78.2 130.6 79 132 80.4 133.1 82 135.8 89 134.7 95 134 96.3 129 98.1 122 102 120 102.6 118 102.4 113 100.6 109 101.1 104 99.5 100.3 99 97 95.3 95 94.8 93 95.3 91.7 95 91.1 94 91.4 91 93.4 87 94 84.2 95 83.3 97 83.2 100 86.5 102 86.7 104.4 85 105.9 81 110 77.6 111 77.2 113 78.3 115 78.6 118.5 77ZM126.8 80 129 79.9 130.5 81 134.5 88 134.7 90 132.9 95 132 95.6 128 96.5 125.2 99 122 100.2 119 99.4 116 99.6 113 97.7 110 97.6 109.2 97 109.5 96 108.5 93 108.6 92 110.4 89 110.5 88 109.4 84 110.1 82 112 80.8 114 80.8 117 81.7 120 80.1 124 80.7 126.8 80ZM98.4 90 100.5 90 101.2 91 101.5 93 102.8 94 106 95.2 108.3 97 107.8 98 105 98.3 101.7 97 97.6 93 97.4 91 98.4 90ZM112.6 83 114 82.7 117 83.9 122 82.3 124.5 83 127 85.4 131 85.6 133.2 88 133.4 90 132.9 92 131.2 94 127 94.7 125 97.2 123 98.1 113 94.7 111.1 93 111.1 92 112.4 89 111.7 85 111.8 84 112.6 83ZM119.7 85 122 84.4 123.1 85 124.3 87 130 87.6 131 88.5 131.5 90 131 92 130 92.7 126 93.6 123 96.2 121 96 119 95 117 92.7 114.3 92 114 87 115 85.7 118 86.3 119.7 85ZM125.5 89 127 88.5 128.9 89 129.5 90 129.3 91 128 91.9 124 92.6 122 94.4 120.1 94 119.7 93 120.4 92 123 91.2 125.5 89Z" fill="none" stroke="#2e2e2e" stroke-width="0.7"/>
<ellipse cx="31" cy="56" rx="4" ry="4.5" fill="none" stroke="#3c3c3c" stroke-width="0.6"/>
<path d="M99.7 121.9h.9M77.5 114.9h.9M71.6 132.7h.9M101.7 125.8h.9M92.2 136h.9M122.2 123.3h.9M129.9 123.2h.9M48.1 142.5h.9M120.9 113.5h.9M148.5 129.1h.9M29.6 144.3h.9M115 135.7h.9M108.9 123.2h.9M30.3 136.7h.9M101.4 121.6h.9M115.8 125.9h.9M130.4 120.5h.9M98.4 99.3h.9M81 133.1h.9M160.2 120.6h.9" stroke="#666" stroke-width="0.9" fill="none"/>
<rect x="0" y="0" width="197.6" height="196.6" fill="none" stroke="#000" stroke-width="1"/>
<line x1="67.3" y1="0" x2="67.3" y2="196.6" stroke-width="1.3" stroke="#000"/>
<line x1="0" y1="172.8" x2="197.6" y2="172.8" stroke-width="1.3" stroke="#000"/>
<path d="M46.5 196.6v5.4M99.4 196.6v5.4M150.7 196.6v5.4M1.2 196.6v5.4M62.42 196.6v3M71.74 196.6v3M78.35 196.6v3M83.48 196.6v3M87.66 196.6v3M91.21 196.6v3M94.27 196.6v3M96.98 196.6v3M114.84 196.6v3M123.88 196.6v3M130.29 196.6v3M135.26 196.6v3M139.32 196.6v3M142.75 196.6v3M145.73 196.6v3M148.35 196.6v3M166.14 196.6v3M175.18 196.6v3M181.59 196.6v3M186.56 196.6v3M190.62 196.6v3M194.05 196.6v3M4.5 196.6v3M6.7 196.6v3M8.9 196.6v3M11.1 196.6v3M13.3 196.6v3M15.5 196.6v3M17.7 196.6v3M19.9 196.6v3M27 196.6v3M29.3 196.6v3M31.6 196.6v3M33.9 196.6v3M36.2 196.6v3M38.5 196.6v3M40.8 196.6v3M43.1 196.6v3" stroke="#000" stroke-width="0.9" fill="none"/><path d="M21.5 198.5h5" stroke="#000" stroke-width="3.8"/>
<path d="M0 45h-4.8M0 96h-4.8M0 150h-4.8M0 194h-4.8M0 80.65h-2.8M0 71.67h-2.8M0 65.29h-2.8M0 60.35h-2.8M0 56.31h-2.8M0 52.9h-2.8M0 49.94h-2.8M0 47.33h-2.8M0 133.74h-2.8M0 124.24h-2.8M0 117.49h-2.8M0 112.26h-2.8M0 107.98h-2.8M0 104.36h-2.8M0 101.23h-2.8M0 98.47h-2.8M0 180.75h-2.8M0 173.01h-2.8M0 167.51h-2.8M0 163.25h-2.8M0 159.76h-2.8M0 156.82h-2.8M0 154.26h-2.8M0 152.01h-2.8" stroke="#000" stroke-width="0.8" fill="none"/><path d="M-3.6 170.3v5" stroke="#000" stroke-width="3"/>
<text class="b" x="134" y="37.3" font-size="26" textLength="44" lengthAdjust="spacingAndGlyphs">76.1</text>
</g>
<g transform="translate(1134.8 1625.3)">
<path d="M40.6 57 47 57.3 51 59.2 54 60 56 61.4 60.7 70 66.1 87 68 89 71 90.3 76 90.4 88 88.6 91.2 87 95 83.7 104 76.9 112 73.8 120 73.5 126 73.9 138 77.2 146 84.2 148.7 88 150.7 92 151.9 98 152.3 103 150 112 146 117.2 137 125.6 135 126.7 130 127.2 122 129.3 114 129 108 130.5 102 130.4 96 132.8 91.5 133 87 134.2 67 134.6 63.1 137 55 145.5 50 148.3 45 152.5 34 151.3 31 150.5 29 149 24.6 144 20.8 141 16.3 133 16 129 13.1 117 12.2 110 12.4 102 13.8 93 16.6 82 18.1 79 21.2 75 23 71 26 67 34 59.6 36 58.3 40.6 57ZM39.8 60 42 59.3 45 59.4 54.1 63 58.3 70 63 88.2 65 90.7 70 93.1 74 93.4 88 92.1 91 91.4 93.5 90 105 79.7 111 77 120 76.4 125 76.9 137 81.4 143 86.6 146.1 90 147.3 92 149 101 148.4 103 146.4 106 145.4 112 144.6 114 140 118 136 122.8 134 124.1 129 124.2 120 126.7 114 126.2 103 127.3 100 128 95 130.3 84 131.3 78 130.8 74 131.6 69 131 65 131.3 63.3 132 57 136.5 52.9 142 47 145.2 43 146.5 40 146.4 36 147.1 34 146.6 27 142 19 132 17 122.3 15.4 117 14.9 110 15.2 101 16.2 94 18.7 85 21.3 79 25 72.7 34 63 36 61.6 39.8 60ZM41.2 62 43 61.4 45 61.6 52 64.3 54 66 56.6 71 58.3 78 59 83.2 60.7 89 64 93.4 71 96.3 74 96.6 77 95.9 85 95.3 90 96.1 96.5 93 99 89.4 103.2 86 107 81.8 109 81.2 112 81.2 116 79.7 121 78.8 124 78.9 129 81.4 135 83.5 140.8 89 142.3 92 144.6 99 144.5 101 141.4 112 136 118.4 134 120 129 120.9 121 123.7 106 123.6 100 125.1 96 127.2 94 127.7 84 127.8 78 127.3 71 128.5 64 127.6 60.5 129 58.7 131 52.9 135 49.2 140 44 142.9 41 143.5 37 143.5 33 141.6 30 140.8 27.6 139 25.2 135 22.1 132 21 130 17.1 111 17.7 98 20.6 86 23.1 80 26.2 75 35 65.4 41.2 62ZM40.7 65 43 64.1 45 64.3 50 65.5 53 67.5 55 71 56.7 79 57.7 88 61.5 95 63 96.3 66 97.2 70 99.2 73 100 85 97.8 89 100 90 100.1 93.7 97 98.3 95 101.1 91 108 85.6 113 84.7 116.6 82 118 81.4 122 80.5 124.5 81 128 83.3 136 87.1 138.6 90 139.9 95 141.5 98 142 100 138.7 111 136.4 115 134 117.3 132 117.9 128 117.9 120 121.4 116 121 106 121.2 100 122.5 95 124.5 88 125 82 124.6 71 126.3 69 126.1 66 124.8 59 125.7 58 126.3 55.3 130 46.4 138 43 140.1 40 140.6 30.3 138 24 131 23 129 22.2 123 20.7 119 18.6 110 19.6 99 22.2 87 25.7 79 35 68.3 37 66.7 40.7 65ZM38.7 68 41 67.2 48 67 50 67.6 52 68.9 53.4 71 53.9 76 55.4 80 55.1 86 56.9 93 60 97.4 65.8 101 74 102.7 78 102.6 81.2 101 84 100.2 86 100.8 89 103.5 91 103.7 95 99.6 101 96 103.2 92 108 88.1 110 87.1 115 86.2 119 82.9 122 82.3 124 82.7 134.2 89 136.1 91 139.4 99 138.2 107 136.8 111 135 114.2 133 115.8 128 116.1 120 119.3 118 119.3 113 118 108 118.9 102 118.5 99 119.5 95 121.7 91 122.3 85 122 77 123.6 71 123.7 65 122.4 59 123 57 124 49 132.8 42 137.6 39 137.9 32 136.3 29 133.9 25 129 24.2 123 22.6 119 20.2 111 19.8 108 24.3 87 26 82.7 27.4 80 31 76.7 35 70.9 38.7 68ZM44.6 69 48 69.2 51.2 71 51.6 72 51.4 76 53.7 80 53.9 81 52.5 85 53.6 89 54 93.6 62 103.5 67 106.7 69 106.6 72 104.9 81 104.7 84 103.3 86 103.9 89 106.4 90 106.8 92 106.5 94 105.1 96 102.8 104 97.2 105.6 93 108.2 90 111 88.6 115 88.2 120 84.8 123 84.4 125 85 129 88.8 132 90.3 133.8 92 136.1 98 136.4 107 135.1 111 133.9 113 132 114.3 128 114.6 122 116.8 119 117.4 117 117.3 111 115.2 107 115.9 103 113.8 102 113.8 93.7 119 91 119.9 85 119.6 77 121.9 63 119.6 57 122.1 51 127.3 48 131.6 41 135.4 38 136 33 134.3 29 131.7 26.3 128 25.9 123 21.4 111 20.9 109 21.1 107 22.8 100 27.1 87 29.6 82 33 78.5 34.8 74 37.1 71 40 69.4 44.6 69ZM41.6 71 45 70.7 46.2 71 47.3 72 50.7 81 49.5 84 49.2 86 53 95.4 63 107.6 67 111.3 68 111.7 69 111.3 72 109.5 74 107.6 76 106.9 82 107.8 86 107.7 90 109.5 94 108.7 98.4 109 98.7 108 98 105 105.1 99 110 91.9 111 91.1 115 90.2 120 87.6 123 86.8 125 87.6 127 91.6 131 93.5 132.6 96 133.3 98 132.9 105 133.5 108 133 110.6 132 112 131 112.5 118 115.3 116 115.2 110 112.9 107 112.4 102 110.3 101 110.5 99.5 113 98 114.5 92 116.3 84 116 82 116.4 80.5 115 79 114.4 78 114.6 75 117.7 74 118.1 68 118.1 64 117.2 62 117.3 54.5 122 50 126 47.4 130 46 131.2 39 133.8 37 133.6 32 131.7 29 129.6 27.3 127 27.1 122 25.1 118 24.2 114 22.3 110 22 108 23.7 101 26 96.7 27.8 91 30.6 85 32.5 82 35.2 79 36.2 75 37.4 73 39 71.6 41.6 71ZM40 74 44 73.5 45 73.7 46 74.6 46.5 77 45.6 80 47.8 88 51 94 52.3 98 56 102.8 59.9 106 61.4 109 61.8 111 58.6 114 58.4 117 57.8 118 52.9 121 46 129 42.5 131 38 131.7 33 130.3 28.8 127 28.3 125 28.2 122 26.2 118 25.5 113 23.6 110 23.2 108 24.8 101 27.3 97 29.7 90 33.9 83 36.8 80 38.7 75 40 74ZM118.9 90 121 89.8 123 90.4 130.8 97 131 99 130 103 130.5 109 130 110 126 111.2 122 110.8 117 112.8 115 112.9 112 111.8 109.9 110 109.8 106 109 105.2 107 105.4 104 106.9 102.3 106 102.3 105 111.5 94 118.9 90ZM39.8 81 41 81.1 44.1 84 49.3 94 50.6 99 53.1 102 54 104.6 55 105.4 58 106 59 107.3 59.4 109 59 110.1 57 112 55.6 117 51.7 120 47.8 125 43 129.1 41 129.8 38 130 35 129.4 29.9 126 29.3 122 26.9 117 27 112.8 24.6 108 26 101.4 28.2 98 31 90 33 87.3 35 86 36.5 83 39.8 81ZM118.1 92 120 91.9 122 93.5 126 95.2 128.1 97 128.8 99 128.1 102 128.2 107 127.5 108 126 108.8 122 107.8 117 109.9 114 110.4 113 110 112 108.5 112.2 103 111.3 100 111.4 98 113 94.9 118.1 92ZM40 87 41 86.2 42 86.2 43 86.8 45 89.9 48.3 99 51.4 102 52.4 106 54.6 109 54.9 114 54 116.6 49.6 120 48.2 123 46.4 125 42 127.8 38 128.3 36 127.7 31 124.9 29.9 121 28 118 27.7 116 28 112 26.1 108 27.5 102 29 99 32.2 90 34 88.4 38 88.4 40 87ZM115.2 95 118 94.1 119.6 95 121.3 98 122.2 102 121.7 104 120.3 106 118.8 107 116 107.7 115 107.7 114.2 107 114.3 103 113.1 99 113.3 97 115.2 95ZM33.6 90 35 89.4 37.4 90 38.8 91 40 94.2 42 93 43 93.1 47.9 101 50.2 103 50.7 106 52.3 109 53.4 113 53.4 115 52.9 116 51 117.5 48 119 47.3 122 46.1 124 42 126.2 39 126.2 33 124.6 32 123.7 31.1 121 29 118.4 28.5 117 29.1 113 27.5 108 27.5 107 30 101 32.4 92 33.6 90ZM115.4 98 116 97.4 117 98 118.5 102 118 103.4 117 103 116 101 115.4 98ZM34.3 91 36 90.9 37.1 92 36.7 95 37 96.1 39 96.9 43 97.1 45 98.3 48.6 104 49.3 107 51.1 110 51.9 114 51.7 115 50.8 116 47.6 117 46.3 118 45.5 123 43 124.7 41 124.9 34 123.3 32.6 121 30 118.4 29.3 117 29.9 113 28.9 109 28.8 107 31.9 102 31.9 98 33.5 95 33.6 92 34.3 91ZM33.8 99 36 98.2 44 99 45 100 46.8 104 48.5 110 48.3 114 45 117.4 44.6 122 43 123.6 40 123.6 36.2 122 34 119.3 31 118.1 30.3 117 30.9 113 30.1 108 31 105.6 33.7 103 33.8 99ZM36.5 100 38 99.8 41 100.5 43 100.3 44.2 101 45.1 103 45.8 108 45.6 114 43.8 117 43.2 122 42 122.7 40 122.5 38 121.5 37 120.5 35.3 117 32 116 31.8 109 33 106.6 36.2 104 35.8 101 36.5 100ZM38.5 107 41.4 107 43 108 44 112 43.9 114 42.5 117 42 121 41 121.5 39.1 121 38.1 120 37 116.6 34.2 114 33.4 112 33.5 110 35 108.1 38.5 107Z" fill="none" stroke="#2e2e2e" stroke-width="0.7"/>
<path d="M105.1 127.5h.9M97 102h.9M177.1 81.2h.9M159.1 58.7h.9M118.3 77.7h.9M114.6 113.9h.9" stroke="#666" stroke-width="0.9" fill="none"/>
<rect x="0" y="0" width="197.6" height="196.6" fill="none" stroke="#000" stroke-width="1"/>
<line x1="67.3" y1="0" x2="67.3" y2="196.6" stroke-width="1.3" stroke="#000"/>
<line x1="0" y1="172.8" x2="197.6" y2="172.8" stroke-width="1.3" stroke="#000"/>
<path d="M46.5 196.6v5.4M99.4 196.6v5.4M150.7 196.6v5.4M1.2 196.6v5.4M62.42 196.6v3M71.74 196.6v3M78.35 196.6v3M83.48 196.6v3M87.66 196.6v3M91.21 196.6v3M94.27 196.6v3M96.98 196.6v3M114.84 196.6v3M123.88 196.6v3M130.29 196.6v3M135.26 196.6v3M139.32 196.6v3M142.75 196.6v3M145.73 196.6v3M148.35 196.6v3M166.14 196.6v3M175.18 196.6v3M181.59 196.6v3M186.56 196.6v3M190.62 196.6v3M194.05 196.6v3M4.5 196.6v3M6.7 196.6v3M8.9 196.6v3M11.1 196.6v3M13.3 196.6v3M15.5 196.6v3M17.7 196.6v3M19.9 196.6v3M27 196.6v3M29.3 196.6v3M31.6 196.6v3M33.9 196.6v3M36.2 196.6v3M38.5 196.6v3M40.8 196.6v3M43.1 196.6v3" stroke="#000" stroke-width="0.9" fill="none"/><path d="M21.5 198.5h5" stroke="#000" stroke-width="3.8"/>
<path d="M0 45h-4.8M0 96h-4.8M0 150h-4.8M0 194h-4.8M0 80.65h-2.8M0 71.67h-2.8M0 65.29h-2.8M0 60.35h-2.8M0 56.31h-2.8M0 52.9h-2.8M0 49.94h-2.8M0 47.33h-2.8M0 133.74h-2.8M0 124.24h-2.8M0 117.49h-2.8M0 112.26h-2.8M0 107.98h-2.8M0 104.36h-2.8M0 101.23h-2.8M0 98.47h-2.8M0 180.75h-2.8M0 173.01h-2.8M0 167.51h-2.8M0 163.25h-2.8M0 159.76h-2.8M0 156.82h-2.8M0 154.26h-2.8M0 152.01h-2.8" stroke="#000" stroke-width="0.8" fill="none"/><path d="M-3.6 170.3v5" stroke="#000" stroke-width="3"/>
<text class="b" x="134" y="37.3" font-size="26" textLength="44" lengthAdjust="spacingAndGlyphs">40.8</text>
</g>
</g>
</svg></body></html>
